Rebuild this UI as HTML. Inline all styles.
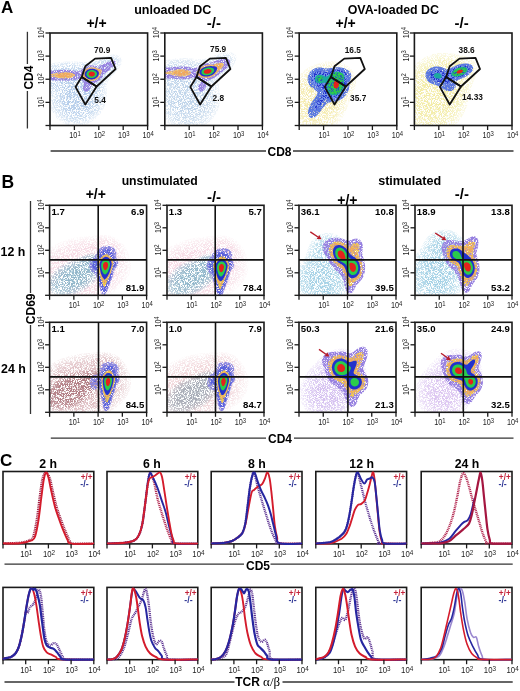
<!DOCTYPE html><html><head><meta charset="utf-8"><style>html,body{margin:0;padding:0;background:#fff;width:520px;height:691px;overflow:hidden}svg{display:block;will-change:transform}</style></head><body><svg width="520" height="691" viewBox="0 0 520 691" font-family='"Liberation Sans", sans-serif'>
<defs><filter id="spk" x="0" y="0" width="520" height="691" filterUnits="userSpaceOnUse" color-interpolation-filters="sRGB"><feTurbulence type="fractalNoise" baseFrequency="1.3" numOctaves="3" seed="3" result="t"/><feColorMatrix in="t" type="matrix" values="0 0 0 0 0  0 0 0 0 0  0 0 0 0 0  6 0 0 0 -2.4" result="m"/><feComposite in="SourceGraphic" in2="m" operator="in" result="c"/><feGaussianBlur in="c" stdDeviation="0.45"/></filter><filter id="spk1" x="0" y="0" width="520" height="691" filterUnits="userSpaceOnUse" color-interpolation-filters="sRGB"><feTurbulence type="fractalNoise" baseFrequency="1.2" numOctaves="3" seed="9" result="t"/><feColorMatrix in="t" type="matrix" values="0 0 0 0 0  0 0 0 0 0  0 0 0 0 0  5 0 0 0 -1.6" result="m"/><feComposite in="SourceGraphic" in2="m" operator="in" result="c"/><feGaussianBlur in="c" stdDeviation="0.35"/></filter><filter id="spk2" x="0" y="0" width="520" height="691" filterUnits="userSpaceOnUse" color-interpolation-filters="sRGB"><feTurbulence type="fractalNoise" baseFrequency="1.1" numOctaves="3" seed="4" result="t"/><feColorMatrix in="t" type="matrix" values="0 0 0 0 0  0 0 0 0 0  0 0 0 0 0  4 0 0 0 -0.9" result="m"/><feComposite in="SourceGraphic" in2="m" operator="in" result="c"/><feGaussianBlur in="c" stdDeviation="0.35"/></filter><filter id="spk3" x="0" y="0" width="520" height="691" filterUnits="userSpaceOnUse" color-interpolation-filters="sRGB"><feTurbulence type="fractalNoise" baseFrequency="1.2" numOctaves="3" seed="13" result="t"/><feColorMatrix in="t" type="matrix" values="0 0 0 0 0  0 0 0 0 0  0 0 0 0 0  6 0 0 0 -3.0" result="m"/><feComposite in="SourceGraphic" in2="m" operator="in" result="c"/><feGaussianBlur in="c" stdDeviation="0.3"/></filter><filter id="spk4" x="0" y="0" width="520" height="691" filterUnits="userSpaceOnUse" color-interpolation-filters="sRGB"><feTurbulence type="fractalNoise" baseFrequency="1.15" numOctaves="3" seed="21" result="t"/><feColorMatrix in="t" type="matrix" values="0 0 0 0 0  0 0 0 0 0  0 0 0 0 0  6 0 0 0 -2.3" result="m"/><feComposite in="SourceGraphic" in2="m" operator="in" result="c"/><feGaussianBlur in="c" stdDeviation="0.3"/></filter><filter id="sm" x="-5%" y="-5%" width="110%" height="110%"><feGaussianBlur stdDeviation="0.5"/></filter></defs>
<rect width="520" height="691" fill="#fff"/>
<clipPath id="cA1"><rect x="50.0" y="33.0" width="97.6" height="92.5"/></clipPath><g clip-path="url(#cA1)"><g filter="url(#spk)" fill="#8ab0dc"><path d="M81.5 125.5 79.0 125.5 76.5 125.5 74.0 125.5 71.5 125.5 69.5 125.3 67.5 124.8 65.5 124.0 64.0 123.4 62.4 122.5 60.8 121.5 59.4 120.5 58.0 119.3 56.7 118.0 55.5 116.7 54.5 115.4 53.5 113.9 52.5 112.2 51.7 110.5 51.0 108.9 50.4 107.0 50.0 105.0 50.0 102.5 49.9 100.0 49.9 97.5 49.9 95.0 49.9 92.5 49.8 90.0 49.8 87.5 49.7 85.0 49.7 82.5 49.6 80.0 49.6 77.5 49.6 75.0 49.6 72.5 49.7 70.0 49.7 67.5 49.9 65.0 51.0 63.7 53.0 63.2 55.0 62.8 57.0 62.5 59.5 62.1 61.5 61.9 64.0 61.7 66.5 61.5 68.5 61.4 71.0 61.4 73.5 61.4 75.5 61.5 78.0 61.7 80.5 61.8 83.0 61.9 85.5 61.9 88.0 61.6 90.0 61.2 92.0 60.7 94.0 60.0 95.5 59.4 97.5 58.6 99.2 58.0 101.0 57.3 103.0 56.6 104.9 56.0 106.7 55.5 108.8 55.0 111.0 54.6 113.0 54.4 115.5 54.5 117.5 54.8 119.5 55.5 120.9 56.5 121.9 58.0 122.3 60.0 122.0 62.3 121.4 64.0 120.5 65.8 119.5 67.4 118.5 68.8 117.5 70.0 116.2 71.5 115.0 72.9 114.0 74.0 112.6 75.5 111.5 76.7 110.4 78.0 109.2 79.5 108.2 81.0 107.5 82.5 106.8 84.5 106.6 87.0 106.6 89.5 106.7 92.0 106.8 94.5 106.7 97.0 106.4 99.0 106.0 101.4 105.5 103.3 105.0 105.0 104.2 107.0 103.5 108.5 102.5 110.3 101.5 111.9 100.5 113.4 99.5 114.6 98.3 116.0 97.0 117.4 95.7 118.5 94.5 119.5 93.0 120.6 91.5 121.6 89.9 122.5 88.0 123.5 86.5 124.1 84.5 124.8 82.5 125.3Z" fill-opacity="0.179"/><path d="M78.0 123.0 75.5 123.1 73.5 123.0 71.0 122.6 69.0 122.0 67.4 121.5 65.5 120.7 64.0 119.9 62.5 118.9 61.0 117.8 59.5 116.5 58.5 115.4 57.3 114.0 56.2 112.5 55.3 111.0 54.5 109.4 53.7 107.5 53.1 105.5 52.6 103.5 52.3 101.5 52.1 99.0 52.0 96.5 51.9 94.5 51.5 92.1 50.8 90.5 50.0 89.0 49.9 86.5 49.8 84.0 49.7 81.5 49.7 79.0 49.7 76.5 49.7 74.0 49.7 71.5 49.8 69.0 50.0 66.5 51.5 65.5 53.5 65.0 55.5 64.6 57.5 64.2 59.5 63.9 62.0 63.6 64.0 63.4 66.5 63.2 69.0 63.1 71.5 63.1 74.0 63.2 76.5 63.4 78.6 63.5 81.0 63.7 83.5 63.7 86.0 63.6 88.0 63.4 90.0 63.0 92.0 62.4 94.0 61.7 96.0 61.0 97.5 60.4 99.5 59.6 101.3 59.0 103.0 58.4 105.0 57.8 107.0 57.3 109.0 57.0 111.5 56.8 114.0 56.9 116.0 57.4 117.5 58.3 118.5 59.6 119.0 62.0 118.5 64.1 117.7 66.0 116.8 67.5 115.7 69.0 114.6 70.5 113.5 71.7 112.4 73.0 111.0 74.5 110.0 75.5 108.6 77.0 107.5 78.3 106.5 79.6 105.5 81.1 104.5 83.0 104.0 84.5 103.6 87.0 103.6 89.5 103.8 92.0 103.8 94.5 103.7 97.0 103.5 99.0 103.0 101.4 102.5 103.2 101.9 105.0 101.0 107.0 100.2 108.5 99.3 110.0 98.3 111.5 97.1 113.0 96.0 114.3 94.8 115.5 93.5 116.6 92.0 117.8 90.5 118.8 89.0 119.7 87.5 120.5 85.5 121.3 83.5 122.0 81.6 122.5 79.5 122.9Z" fill-opacity="0.179"/><path d="M79.0 119.5 76.5 119.7 74.0 119.6 72.0 119.3 70.0 118.7 68.0 118.0 66.5 117.3 65.0 116.4 63.5 115.3 62.0 114.0 61.0 113.0 59.8 111.5 58.7 110.0 57.9 108.5 57.0 106.5 56.5 105.0 56.0 103.0 55.6 100.5 55.5 98.5 55.4 96.0 55.3 93.5 55.0 91.5 54.2 89.5 53.2 88.0 52.0 86.8 50.5 85.5 49.9 84.0 49.8 81.5 49.8 79.0 49.8 76.5 49.8 74.0 49.8 71.5 50.0 69.0 51.2 68.0 53.0 67.4 55.0 66.8 57.0 66.3 59.0 66.0 61.5 65.6 63.5 65.4 66.0 65.2 68.5 65.1 71.0 65.1 73.5 65.2 76.0 65.3 78.4 65.5 80.5 65.6 83.0 65.7 85.5 65.7 87.5 65.5 89.9 65.0 91.7 64.5 93.5 63.9 95.5 63.2 97.4 62.5 99.0 61.9 101.0 61.2 103.0 60.6 105.0 60.1 107.0 59.7 109.5 59.6 112.0 59.9 113.5 60.7 114.6 62.0 114.8 64.5 114.1 66.5 113.3 68.0 112.3 69.5 111.1 71.0 110.0 72.3 108.9 73.5 107.5 75.0 106.5 76.1 105.2 77.5 104.0 78.9 103.0 80.2 102.0 81.7 101.1 83.5 100.5 85.5 100.3 87.5 100.3 90.0 100.4 92.5 100.5 95.0 100.3 97.5 100.0 99.7 99.5 101.8 98.9 103.5 98.1 105.5 97.3 107.0 96.4 108.5 95.4 110.0 94.1 111.5 93.0 112.7 91.6 114.0 90.3 115.0 88.9 116.0 87.1 117.0 85.5 117.8 83.6 118.5 81.9 119.0 79.5 119.5Z" fill-opacity="0.179"/><path d="M79.0 115.5 76.5 115.7 74.0 115.5 72.0 115.1 70.3 114.5 68.5 113.7 67.0 112.8 65.5 111.6 64.3 110.5 63.0 109.0 62.0 107.5 61.2 106.0 60.5 104.2 60.0 102.5 59.6 100.0 59.4 98.0 59.4 95.5 59.4 93.0 59.1 90.5 58.5 88.9 57.5 87.3 56.4 86.0 55.0 84.8 53.5 83.6 52.2 82.5 51.0 81.5 50.0 80.0 49.9 77.5 49.9 75.0 50.0 72.5 51.2 71.5 53.0 70.5 54.5 69.8 56.5 69.1 58.5 68.6 60.5 68.2 62.5 67.8 65.0 67.6 67.0 67.4 69.5 67.4 72.0 67.4 74.0 67.5 76.5 67.7 79.0 67.9 81.0 68.1 83.5 68.1 86.0 68.0 88.0 67.8 90.0 67.4 92.0 66.9 94.0 66.3 96.0 65.6 97.9 65.0 99.5 64.5 101.5 63.9 103.8 63.5 106.0 63.4 108.0 63.8 109.2 65.0 109.2 67.5 108.5 69.0 107.5 70.6 106.4 72.0 105.1 73.5 104.0 74.7 102.8 76.0 101.5 77.5 100.5 78.6 99.4 80.0 98.4 81.5 97.5 83.1 96.8 85.0 96.4 87.0 96.3 89.5 96.4 92.0 96.5 94.0 96.5 96.3 96.3 98.5 95.8 100.5 95.2 102.5 94.5 104.1 93.5 106.0 92.5 107.5 91.5 108.7 90.3 110.0 89.0 111.2 87.5 112.3 86.0 113.2 84.4 114.0 82.5 114.8 80.5 115.3Z" fill-opacity="0.179"/><path d="M78.0 110.5 75.8 110.5 73.5 110.1 71.9 109.5 70.1 108.5 68.8 107.5 67.5 106.2 66.5 104.8 65.6 103.0 65.0 101.3 64.6 99.0 64.4 97.0 64.5 94.5 64.6 92.5 64.5 90.0 64.0 88.0 63.2 86.5 62.0 85.0 61.0 84.0 59.5 82.7 58.1 81.5 57.0 80.5 55.7 79.0 55.0 77.5 55.1 75.5 56.2 74.0 57.5 73.0 59.5 72.0 61.1 71.5 63.2 71.0 65.5 70.6 67.5 70.5 70.0 70.4 72.5 70.5 74.5 70.6 77.0 70.8 79.0 71.0 81.5 71.2 84.0 71.3 86.5 71.2 89.0 71.0 91.0 70.7 93.0 70.4 95.5 70.0 97.5 69.9 99.5 70.5 99.5 72.4 98.7 74.0 97.6 75.5 96.5 77.0 95.5 78.4 94.5 79.8 93.5 81.3 92.5 83.0 91.9 84.5 91.4 86.5 91.2 89.0 91.3 91.5 91.5 94.0 91.5 95.9 91.3 98.0 90.8 100.0 90.1 102.0 89.3 103.5 88.2 105.0 87.0 106.3 85.7 107.5 84.2 108.5 82.5 109.4 80.9 110.0 78.5 110.5Z" fill-opacity="0.179"/></g><g filter="url(#sm)"><path d="M86.5 91.6 85.5 91.6 85.0 91.5 84.1 91.0 83.7 90.5 83.4 90.0 83.1 89.0 83.0 88.0 83.2 87.0 83.4 86.0 83.6 85.5 83.8 84.5 83.9 83.5 83.6 82.5 83.3 82.0 83.0 81.5 82.5 80.9 82.0 80.5 81.4 80.0 80.5 79.5 80.0 79.4 79.0 79.3 78.0 79.3 77.0 79.5 76.5 79.6 75.5 79.8 74.5 80.0 74.0 80.0 73.0 80.2 72.0 80.3 71.0 80.4 70.3 80.5 69.5 80.6 68.5 80.7 67.5 80.7 66.5 80.8 65.5 80.8 64.5 80.8 63.5 80.8 62.5 80.8 61.5 80.7 60.5 80.7 59.5 80.6 58.5 80.5 57.8 80.5 57.0 80.5 56.0 80.4 55.0 80.4 54.0 80.3 53.0 80.3 52.0 80.3 51.0 80.3 50.0 80.3 49.8 79.5 49.7 78.5 49.7 77.5 49.6 76.5 49.6 75.5 49.6 74.5 49.6 73.5 49.7 72.5 49.8 71.5 50.0 70.5 51.0 70.5 51.5 70.5 52.5 70.5 53.5 70.4 54.5 70.4 55.5 70.3 56.5 70.2 57.5 70.1 58.5 70.1 59.5 70.0 60.0 70.0 61.0 69.9 62.0 69.9 63.0 69.8 64.0 69.8 65.0 69.8 66.0 69.8 67.0 69.9 68.0 69.9 69.0 70.0 69.5 70.0 70.5 70.1 71.5 70.2 72.5 70.3 73.4 70.5 74.0 70.6 75.0 70.8 76.0 71.0 76.5 71.1 77.5 71.2 78.5 71.3 79.5 71.1 80.0 70.9 80.7 70.5 81.3 70.0 81.8 69.5 82.3 69.0 82.9 68.5 83.5 68.0 84.0 67.6 84.5 67.3 85.0 67.0 86.0 66.5 86.5 66.3 87.3 66.0 88.0 65.8 89.0 65.5 89.5 65.5 90.5 65.3 91.5 65.3 92.5 65.3 93.5 65.4 94.4 65.5 95.0 65.6 96.0 65.7 97.0 65.8 98.0 65.9 99.0 65.8 100.0 65.6 100.5 65.4 101.4 65.0 102.0 64.7 102.5 64.4 103.4 64.0 104.0 63.7 104.5 63.4 105.4 63.0 106.0 62.7 106.6 62.5 107.5 62.1 108.0 61.9 109.0 61.6 109.5 61.4 110.5 61.2 111.3 61.0 112.0 60.9 113.0 60.8 114.0 60.8 114.9 61.0 115.5 61.4 115.9 62.0 115.9 63.0 115.5 64.0 115.2 64.5 114.9 65.0 114.5 65.5 114.0 66.1 113.5 66.6 113.0 67.1 112.5 67.6 112.0 68.0 111.5 68.5 110.8 69.0 110.2 69.5 109.5 70.0 109.0 70.4 108.5 70.7 108.0 71.1 107.3 71.5 106.6 72.0 106.0 72.5 105.5 72.9 105.0 73.3 104.5 73.8 104.0 74.4 103.6 75.0 103.3 75.5 103.0 76.0 102.5 76.9 102.1 77.5 101.7 78.0 101.4 78.5 100.9 79.0 100.5 79.5 99.9 80.0 99.3 80.5 98.7 81.0 98.0 81.4 97.5 81.8 97.0 82.0 96.1 82.5 95.5 82.8 95.0 83.1 94.1 83.5 93.5 83.9 93.0 84.2 92.5 84.5 91.9 85.0 91.5 85.6 91.1 86.5 90.9 87.0 90.5 88.0 90.2 88.5 89.9 89.0 89.5 89.6 89.0 90.2 88.5 90.6 88.0 91.0 87.0 91.5 86.5 91.6Z" fill="#9680e0" filter="url(#spk1)"/></g><g filter="url(#sm)"><path d="M92.0 81.0 91.0 81.1 90.1 81.0 89.5 80.9 88.5 80.7 87.9 80.5 87.0 80.1 86.5 79.9 85.9 79.5 85.2 79.0 84.6 78.5 84.1 78.0 83.7 77.5 83.3 77.0 82.9 76.5 82.5 75.5 82.4 75.0 82.4 74.0 82.5 73.5 82.9 72.5 83.2 72.0 83.5 71.5 84.0 70.8 84.5 70.2 85.0 69.7 85.5 69.3 86.0 69.0 86.8 68.5 87.5 68.1 88.0 68.0 89.0 67.6 89.8 67.5 90.5 67.4 91.5 67.3 92.5 67.3 93.5 67.4 94.0 67.5 95.0 67.7 96.0 67.9 96.5 68.1 97.5 68.4 98.0 68.5 99.0 68.8 99.6 69.0 100.5 69.3 101.0 69.6 101.5 70.1 101.7 71.0 101.5 72.0 101.4 72.5 101.2 73.5 101.0 74.0 100.6 75.0 100.4 75.5 100.0 76.2 99.5 77.0 99.1 77.5 98.7 78.0 98.1 78.5 97.5 79.0 97.0 79.4 96.5 79.6 95.8 80.0 95.0 80.3 94.5 80.5 93.5 80.8 92.5 81.0 92.0 81.0ZM69.5 78.0 68.5 78.2 67.5 78.3 66.5 78.4 65.5 78.4 64.5 78.4 63.5 78.4 62.5 78.3 61.5 78.3 60.5 78.2 59.5 78.1 59.0 78.0 58.0 77.9 57.0 77.7 56.0 77.5 55.5 77.4 54.5 77.2 53.5 77.1 53.0 77.0 52.0 76.8 51.0 76.6 50.1 76.5 50.0 76.0 50.0 75.0 50.0 74.3 51.0 74.1 51.6 74.0 52.5 73.8 53.5 73.6 54.2 73.5 55.0 73.3 56.0 73.1 56.7 73.0 57.5 72.8 58.5 72.7 59.5 72.5 60.0 72.5 61.0 72.4 62.0 72.3 63.0 72.2 64.0 72.2 65.0 72.2 66.0 72.2 67.0 72.3 68.0 72.4 69.0 72.5 69.5 72.6 70.5 72.7 71.5 73.0 72.0 73.1 73.0 73.4 73.5 73.7 74.1 74.0 74.7 74.5 75.1 75.0 75.0 75.7 74.5 76.3 74.0 76.7 73.4 77.0 72.5 77.3 72.0 77.5 71.0 77.8 70.0 78.0 69.5 78.0Z" fill="#f0c070" filter="url(#spk2)"/></g><g filter="url(#sm)"><path d="M94.0 80.1 93.0 80.3 92.0 80.4 91.0 80.4 90.0 80.4 89.0 80.2 88.5 80.0 87.5 79.6 87.0 79.4 86.4 79.0 85.7 78.5 85.1 78.0 84.6 77.5 84.2 77.0 83.9 76.5 83.5 75.6 83.4 75.0 83.3 74.0 83.5 73.2 83.7 72.5 84.0 72.0 84.5 71.2 85.0 70.6 85.5 70.1 86.0 69.7 86.5 69.3 87.1 69.0 88.0 68.6 88.5 68.4 89.5 68.1 90.0 68.0 91.0 67.9 92.0 67.8 93.0 67.9 93.6 68.0 94.5 68.2 95.5 68.4 96.0 68.6 97.0 68.9 97.5 69.1 98.4 69.5 99.0 69.8 99.5 70.2 100.0 70.8 100.3 71.5 100.4 72.5 100.3 73.5 100.0 74.5 99.9 75.0 99.5 75.8 99.1 76.5 98.7 77.0 98.3 77.5 97.8 78.0 97.2 78.5 96.5 79.0 96.0 79.3 95.5 79.5 94.5 79.9 94.0 80.1ZM66.5 77.5 65.5 77.6 64.5 77.6 63.5 77.6 62.6 77.5 62.0 77.4 61.0 77.3 60.0 77.2 59.1 77.0 58.5 76.8 57.5 76.6 57.0 76.4 56.2 76.0 55.7 75.5 56.0 74.9 56.5 74.5 57.5 74.1 58.0 73.9 59.0 73.6 59.6 73.5 60.5 73.4 61.5 73.2 62.5 73.1 63.5 73.1 64.5 73.0 65.5 73.0 66.5 73.1 67.5 73.2 68.5 73.3 69.3 73.5 70.0 73.7 70.9 74.0 71.5 74.3 72.0 74.7 72.3 75.5 71.9 76.0 71.1 76.5 70.5 76.8 69.7 77.0 69.0 77.2 68.0 77.3 67.0 77.5 66.5 77.5Z" fill="#eea860" filter="url(#spk1)"/></g><path d="M94.0 79.1 93.0 79.3 92.0 79.4 91.0 79.4 90.0 79.3 89.0 79.1 88.5 78.9 87.6 78.5 87.0 78.1 86.5 77.7 86.0 77.3 85.5 76.7 85.1 76.0 84.9 75.5 84.7 74.5 84.7 73.5 85.0 72.6 85.3 72.0 85.6 71.5 86.1 71.0 86.6 70.5 87.3 70.0 88.0 69.6 88.5 69.4 89.5 69.0 90.0 68.9 91.0 68.8 92.0 68.7 93.0 68.8 94.0 69.0 94.5 69.1 95.5 69.4 96.0 69.6 96.7 70.0 97.5 70.5 98.0 70.9 98.4 71.5 98.7 72.0 98.9 73.0 98.9 74.0 98.6 75.0 98.4 75.5 98.0 76.2 97.5 76.8 97.0 77.3 96.5 77.8 96.0 78.1 95.4 78.5 94.5 78.9 94.0 79.1Z" fill="#2233cc" filter="url(#sm)"/><path d="M92.0 78.0 91.0 78.0 90.5 78.0 89.5 77.7 89.0 77.5 88.1 77.0 87.6 76.5 87.1 76.0 86.8 75.5 86.5 74.5 86.6 73.5 87.0 72.5 87.3 72.0 87.8 71.5 88.4 71.0 89.0 70.7 89.5 70.5 90.5 70.2 91.5 70.1 92.5 70.1 93.5 70.3 94.2 70.5 95.0 70.9 95.5 71.2 96.0 71.6 96.5 72.2 96.9 73.0 97.0 74.0 96.7 75.0 96.5 75.5 96.0 76.2 95.5 76.7 95.0 77.0 94.1 77.5 93.5 77.7 92.5 78.0 92.0 78.0Z" fill="#2ccc4c" filter="url(#sm)"/><path d="M93.5 76.0 92.5 76.4 91.5 76.5 90.5 76.3 89.8 76.0 89.1 75.5 88.8 75.0 88.5 74.0 88.9 73.0 89.3 72.5 90.0 72.0 90.5 71.8 91.5 71.6 92.5 71.7 93.5 72.0 94.0 72.3 94.5 72.8 94.9 73.5 94.8 74.5 94.5 75.2 94.0 75.7 93.5 76.0Z" fill="#e4201a" filter="url(#sm)"/></g>
<clipPath id="cA2"><rect x="164.8" y="33.0" width="97.6" height="92.5"/></clipPath><g clip-path="url(#cA2)"><g filter="url(#spk)" fill="#9cbce0"><path d="M204.3 125.5 201.8 125.6 199.3 125.6 196.8 125.7 194.3 125.7 191.8 125.7 189.3 125.7 186.8 125.7 184.3 125.7 181.8 125.7 179.3 125.7 176.8 125.6 174.3 125.6 171.8 125.5 170.3 124.9 168.8 123.8 167.3 122.6 166.0 121.5 164.8 120.3 164.7 118.0 164.6 115.5 164.6 113.0 164.5 110.5 164.5 108.0 164.5 105.5 164.5 103.0 164.5 100.5 164.5 98.0 164.5 95.5 164.5 93.0 164.5 90.5 164.5 88.0 164.5 85.5 164.4 83.0 164.4 80.5 164.4 78.0 164.4 75.5 164.4 73.0 164.4 70.5 164.4 68.0 164.5 65.5 164.6 63.0 164.8 60.6 166.8 60.0 168.8 59.6 170.8 59.2 172.8 58.9 175.3 58.6 177.3 58.4 179.8 58.2 182.3 58.1 184.8 58.1 187.3 58.2 189.8 58.4 191.8 58.6 194.3 58.9 196.3 59.1 198.8 59.3 201.3 59.3 203.6 59.0 205.8 58.5 207.5 58.0 209.3 57.4 211.3 56.7 213.0 56.0 214.8 55.3 216.8 54.6 218.8 54.0 220.5 53.5 222.6 53.0 224.8 52.6 226.8 52.4 229.3 52.4 231.3 52.6 233.3 53.3 234.8 54.3 235.8 55.5 236.4 57.5 236.3 59.5 235.7 61.5 234.8 63.4 233.8 65.0 232.8 66.5 231.8 67.7 230.7 69.0 229.4 70.5 228.3 71.7 227.0 73.0 225.8 74.2 224.6 75.5 223.3 76.9 222.3 78.0 221.1 79.5 220.1 81.0 219.3 82.9 218.9 85.0 219.0 87.5 219.3 89.6 219.7 92.0 220.0 94.0 220.2 96.5 220.2 99.0 220.0 101.5 219.7 103.5 219.3 105.5 218.7 107.5 218.1 109.5 217.3 111.3 216.5 113.0 215.6 114.5 214.7 116.0 213.6 117.5 212.4 119.0 211.3 120.2 210.0 121.5 208.8 122.5 207.3 123.7 205.8 124.8 204.3 125.5Z" fill-opacity="0.179"/><path d="M196.3 125.5 193.8 125.5 191.3 125.6 188.8 125.6 186.3 125.6 183.8 125.6 181.3 125.5 179.2 125.5 177.3 124.8 175.4 124.0 173.8 123.1 172.3 122.2 170.8 121.2 169.3 120.0 168.2 119.0 166.8 117.6 165.8 116.5 164.8 115.0 164.7 112.5 164.7 110.0 164.6 107.5 164.6 105.0 164.6 102.5 164.6 100.0 164.6 97.5 164.6 95.0 164.6 92.5 164.6 90.0 164.6 87.5 164.6 85.0 164.5 82.5 164.5 80.0 164.5 77.5 164.5 75.0 164.5 72.5 164.5 70.0 164.5 67.5 164.6 65.0 164.8 62.6 166.7 62.0 168.6 61.5 170.8 61.0 172.8 60.7 174.8 60.4 177.3 60.1 179.3 60.0 181.8 59.9 184.3 59.9 186.8 60.0 188.8 60.1 191.3 60.4 193.3 60.6 195.8 60.9 197.8 61.1 200.3 61.1 202.3 60.9 204.8 60.5 206.7 60.0 208.3 59.5 210.3 58.8 212.3 58.0 213.8 57.5 215.8 56.8 217.8 56.1 219.8 55.6 221.8 55.1 223.8 54.8 226.3 54.7 228.8 55.0 230.4 55.5 231.9 56.5 232.8 58.0 233.0 60.5 232.5 62.5 231.8 64.0 230.8 65.6 229.8 67.0 228.6 68.5 227.3 70.0 226.3 71.1 224.9 72.5 223.8 73.6 222.4 75.0 221.3 76.1 220.0 77.5 218.8 78.8 217.8 80.1 216.8 81.6 216.0 83.5 215.6 85.5 215.7 88.0 216.0 90.0 216.3 92.0 216.7 94.5 216.8 96.5 216.9 99.0 216.7 101.0 216.3 103.5 215.9 105.5 215.3 107.4 214.7 109.0 213.8 111.0 213.0 112.5 212.0 114.0 211.0 115.5 209.8 116.9 208.8 118.0 207.3 119.5 206.1 120.5 204.8 121.5 203.3 122.5 201.5 123.5 199.8 124.4 198.2 125.0 196.3 125.5Z" fill-opacity="0.179"/><path d="M190.3 123.0 187.8 123.1 185.4 123.0 183.3 122.7 181.3 122.2 179.3 121.6 177.8 121.0 175.8 120.0 174.3 119.1 172.8 118.0 171.5 117.0 170.3 115.9 169.0 114.5 167.8 113.0 166.8 111.5 165.9 110.0 165.2 108.5 164.8 106.5 164.7 104.0 164.7 101.5 164.7 99.0 164.7 96.5 164.7 94.0 164.7 91.5 164.7 89.0 164.7 86.5 164.7 84.0 164.6 81.5 164.6 79.0 164.6 76.5 164.5 74.0 164.6 71.5 164.6 69.0 164.7 66.5 165.3 64.8 167.3 64.1 169.3 63.5 171.3 63.0 173.3 62.6 175.3 62.3 177.8 62.0 179.8 61.9 182.3 61.8 184.8 61.8 187.3 62.0 189.3 62.2 191.8 62.5 193.8 62.7 196.3 63.0 198.3 63.1 200.8 63.1 202.8 62.9 204.8 62.5 206.8 62.0 208.8 61.3 210.8 60.6 212.5 60.0 214.3 59.4 216.3 58.7 218.3 58.2 220.3 57.8 222.8 57.5 225.3 57.7 227.3 58.4 228.5 59.5 229.0 61.5 228.6 63.5 227.8 65.4 226.8 66.9 225.8 68.3 224.8 69.5 223.4 71.0 222.3 72.1 220.9 73.5 219.8 74.6 218.3 76.0 217.3 77.0 215.8 78.5 214.8 79.6 213.7 81.0 212.8 82.5 212.0 84.5 211.8 86.5 211.9 88.5 212.3 90.6 212.7 93.0 213.0 95.0 213.1 97.5 213.1 100.0 212.8 102.1 212.3 104.4 211.8 106.1 211.1 108.0 210.3 109.6 209.3 111.4 208.3 112.8 207.3 114.1 206.0 115.5 204.8 116.7 203.3 117.9 201.8 119.0 200.3 119.9 198.8 120.7 196.9 121.5 195.3 122.1 193.3 122.6 190.8 123.0Z" fill-opacity="0.179"/><path d="M190.8 118.6 188.3 118.7 185.8 118.6 183.8 118.3 181.8 117.8 179.8 117.1 178.3 116.3 176.8 115.5 175.3 114.4 173.8 113.1 172.7 112.0 171.4 110.5 170.4 109.0 169.6 107.5 168.8 105.9 168.1 104.0 167.6 102.0 167.3 99.6 167.2 97.5 167.3 95.5 167.6 93.0 167.9 91.0 168.1 88.5 167.9 86.0 167.3 84.5 166.3 82.7 165.3 81.4 164.8 79.5 164.7 77.0 164.7 74.5 164.7 72.0 164.8 69.5 165.5 68.0 167.3 67.1 168.8 66.4 170.8 65.7 172.8 65.2 174.8 64.8 176.8 64.5 179.3 64.2 181.8 64.1 184.3 64.1 186.8 64.3 189.0 64.5 191.3 64.8 193.3 65.1 195.8 65.4 197.8 65.6 200.3 65.6 202.3 65.4 204.6 65.0 206.6 64.5 208.4 64.0 210.3 63.4 212.3 62.7 214.3 62.1 216.3 61.6 218.3 61.3 220.8 61.3 222.7 62.0 223.6 63.5 223.3 65.6 222.3 67.5 221.3 69.0 220.3 70.2 219.1 71.5 217.8 72.8 216.5 74.0 215.3 75.1 213.8 76.5 212.8 77.5 211.3 79.0 210.3 80.1 209.2 81.5 208.2 83.0 207.5 85.0 207.3 87.0 207.5 89.0 207.9 91.0 208.3 93.2 208.6 95.5 208.8 98.0 208.6 100.5 208.3 102.5 207.7 104.5 206.9 106.5 206.2 108.0 205.3 109.5 204.2 111.0 202.8 112.5 201.8 113.5 200.3 114.7 198.8 115.7 197.3 116.5 195.3 117.4 193.5 118.0 191.3 118.5Z" fill-opacity="0.179"/><path d="M189.8 113.0 187.3 113.1 185.3 112.9 183.3 112.4 181.3 111.6 179.8 110.7 178.3 109.6 177.1 108.5 175.8 107.0 174.9 105.5 174.1 104.0 173.4 102.0 173.0 100.0 172.8 97.5 173.0 95.0 173.4 93.0 173.9 91.0 174.3 89.0 174.5 86.5 174.1 84.5 173.3 83.0 172.2 81.5 170.9 80.0 169.8 78.8 168.8 77.4 167.9 75.5 167.7 73.5 168.4 72.0 169.7 70.5 171.3 69.5 172.8 68.8 174.8 68.1 176.8 67.6 178.8 67.3 181.3 67.1 183.8 67.1 186.3 67.3 188.4 67.5 190.8 67.9 192.8 68.2 194.8 68.5 197.3 68.9 199.8 69.0 202.3 68.9 204.8 68.6 206.8 68.3 208.8 67.9 211.3 67.7 213.4 68.0 213.8 69.6 212.8 71.4 211.8 72.7 210.6 74.0 209.3 75.2 208.0 76.5 206.8 77.7 205.5 79.0 204.3 80.2 203.3 81.5 202.3 83.0 201.5 85.0 201.3 87.0 201.5 89.0 202.0 91.0 202.5 93.0 202.9 95.0 203.1 97.5 203.0 100.0 202.6 102.0 201.9 104.0 201.1 105.5 200.2 107.0 198.9 108.5 197.8 109.5 196.3 110.6 194.8 111.5 192.8 112.3 190.8 112.9Z" fill-opacity="0.179"/></g><g filter="url(#sm)"><path d="M201.8 91.5 200.8 91.6 200.0 91.5 199.3 91.2 198.8 90.7 198.4 90.0 198.2 89.5 198.1 88.5 198.1 87.5 198.3 86.7 198.5 86.0 198.8 85.4 199.3 84.6 199.7 84.0 200.1 83.5 200.6 83.0 201.0 82.5 201.1 81.5 200.8 81.0 200.2 80.5 199.4 80.0 198.8 79.6 198.3 79.3 197.7 79.0 196.8 78.6 196.3 78.3 195.3 78.0 194.8 77.9 193.8 77.8 192.8 77.9 192.3 78.0 191.3 78.2 190.3 78.4 189.8 78.5 188.8 78.7 187.8 78.9 186.9 79.0 186.3 79.1 185.3 79.2 184.3 79.3 183.3 79.3 182.3 79.4 181.3 79.4 180.3 79.4 179.3 79.3 178.3 79.3 177.3 79.2 176.3 79.1 175.3 79.0 174.8 78.9 173.8 78.8 172.8 78.7 171.8 78.6 170.8 78.5 170.3 78.5 169.3 78.4 168.3 78.4 167.3 78.4 166.3 78.3 165.3 78.3 164.7 78.0 164.6 77.0 164.5 76.0 164.4 75.0 164.4 74.0 164.4 73.0 164.4 72.0 164.4 71.0 164.5 70.0 164.6 69.0 164.7 68.0 164.8 67.5 165.8 67.5 166.8 67.5 167.8 67.4 168.8 67.4 169.8 67.4 170.8 67.3 171.8 67.2 172.8 67.1 173.6 67.0 174.3 66.9 175.3 66.8 176.3 66.7 177.3 66.6 178.3 66.5 178.8 66.5 179.8 66.4 180.8 66.4 181.8 66.4 182.8 66.4 183.8 66.5 184.3 66.5 185.3 66.6 186.3 66.7 187.3 66.8 188.1 67.0 188.8 67.1 189.8 67.3 190.5 67.5 191.3 67.7 192.3 67.9 192.8 68.0 193.8 68.1 194.8 68.1 195.3 68.0 196.3 67.6 196.8 67.3 197.4 67.0 198.2 66.5 198.8 66.2 199.3 65.9 200.1 65.5 200.8 65.1 201.3 64.9 202.3 64.5 202.8 64.3 203.8 64.0 204.3 63.8 205.3 63.6 205.8 63.5 206.8 63.2 207.8 63.0 208.3 63.0 209.3 62.7 210.3 62.6 210.8 62.4 211.8 62.2 212.4 62.0 213.3 61.7 213.9 61.5 214.8 61.1 215.3 60.9 216.3 60.6 216.8 60.4 217.8 60.0 218.3 59.8 219.3 59.5 219.8 59.4 220.8 59.1 221.5 59.0 222.3 58.8 223.3 58.7 224.3 58.7 225.3 58.7 226.3 58.7 227.3 58.9 227.8 59.1 228.7 59.5 229.3 60.0 229.8 60.5 230.1 61.0 230.3 62.0 230.2 63.0 229.9 64.0 229.6 64.5 229.3 65.1 228.8 65.8 228.3 66.4 227.8 67.0 227.3 67.5 226.8 68.0 226.3 68.4 225.8 68.9 225.3 69.3 224.8 69.7 224.3 70.1 223.7 70.5 223.1 71.0 222.5 71.5 221.9 72.0 221.3 72.5 220.8 72.9 220.3 73.4 219.8 73.8 219.3 74.3 218.8 74.7 218.3 75.1 217.8 75.5 217.2 76.0 216.5 76.5 215.8 76.9 215.3 77.2 214.8 77.5 213.9 78.0 213.3 78.3 212.8 78.5 211.8 79.0 211.3 79.2 210.5 79.5 209.8 79.8 209.2 80.0 208.3 80.4 207.8 80.6 206.9 81.0 206.3 81.3 205.8 81.7 205.4 82.5 205.6 83.5 205.8 84.3 205.9 85.0 205.9 86.0 205.8 86.9 205.6 87.5 205.3 88.3 204.9 89.0 204.6 89.5 204.2 90.0 203.6 90.5 202.9 91.0 202.3 91.3 201.8 91.5Z" fill="#9680e0" filter="url(#spk1)"/></g><g filter="url(#sm)"><path d="M206.3 78.0 205.3 78.1 204.3 78.0 203.8 78.0 202.8 77.8 201.8 77.5 201.3 77.4 200.4 77.0 199.8 76.7 199.3 76.4 198.7 76.0 198.1 75.5 197.5 75.0 197.1 74.5 196.8 74.0 196.5 73.0 196.6 72.0 196.8 71.5 197.3 70.7 197.8 70.0 198.3 69.5 198.8 69.0 199.3 68.5 199.8 68.1 200.3 67.8 200.8 67.5 201.6 67.0 202.3 66.6 202.8 66.4 203.8 66.0 204.3 65.8 205.3 65.5 205.8 65.4 206.8 65.2 207.8 65.0 208.3 64.9 209.3 64.8 210.3 64.7 211.3 64.6 211.9 64.5 212.8 64.4 213.8 64.2 214.8 64.0 215.3 63.9 216.3 63.6 216.8 63.5 217.8 63.2 218.8 63.0 219.3 62.9 220.3 62.8 221.3 62.7 222.3 62.9 222.8 63.0 223.5 63.5 223.8 64.0 223.8 65.0 223.6 65.5 223.3 66.1 222.8 66.8 222.3 67.4 221.8 67.9 221.3 68.4 220.8 68.9 220.3 69.5 219.8 70.0 219.4 70.5 218.9 71.0 218.5 71.5 218.1 72.0 217.6 72.5 217.2 73.0 216.7 73.5 216.1 74.0 215.6 74.5 214.9 75.0 214.3 75.4 213.8 75.7 213.3 76.0 212.3 76.5 211.8 76.7 211.1 77.0 210.3 77.3 209.5 77.5 208.8 77.7 207.8 77.9 206.8 78.0 206.3 78.0ZM183.3 76.5 182.3 76.6 181.3 76.6 180.3 76.6 179.4 76.5 178.8 76.4 177.8 76.3 176.8 76.2 175.9 76.0 175.3 75.9 174.3 75.6 173.8 75.5 172.8 75.2 172.1 75.0 171.3 74.8 170.3 74.5 169.8 74.4 168.8 74.2 167.8 74.0 167.2 74.0 166.3 73.9 165.3 73.8 164.8 73.5 164.8 72.5 165.0 72.0 165.8 71.9 166.8 71.8 167.8 71.8 168.8 71.6 169.4 71.5 170.3 71.3 171.3 71.0 171.8 70.9 172.8 70.6 173.3 70.5 174.3 70.2 175.1 70.0 175.8 69.8 176.8 69.6 177.6 69.5 178.3 69.4 179.3 69.3 180.3 69.2 181.3 69.2 182.3 69.2 183.3 69.3 184.3 69.4 184.9 69.5 185.8 69.7 186.8 69.9 187.3 70.1 188.3 70.4 188.8 70.7 189.4 71.0 190.1 71.5 190.6 72.0 190.8 72.5 190.8 73.3 190.4 74.0 189.9 74.5 189.3 74.9 188.8 75.1 188.0 75.5 187.3 75.7 186.4 76.0 185.8 76.1 184.8 76.3 183.8 76.5 183.3 76.5Z" fill="#f0c070" filter="url(#spk2)"/></g><g filter="url(#sm)"><path d="M209.3 77.0 208.3 77.3 207.3 77.4 206.3 77.5 205.3 77.5 204.3 77.4 203.3 77.3 202.3 77.0 201.8 76.9 200.9 76.5 200.3 76.2 199.8 75.9 199.3 75.5 198.8 75.0 198.3 74.4 197.8 73.5 197.7 73.0 197.8 72.0 197.9 71.5 198.3 70.7 198.8 70.0 199.2 69.5 199.7 69.0 200.3 68.5 200.8 68.1 201.3 67.8 201.8 67.5 202.7 67.0 203.3 66.7 203.9 66.5 204.8 66.2 205.5 66.0 206.3 65.8 207.3 65.6 207.9 65.5 208.8 65.4 209.8 65.3 210.8 65.2 211.8 65.1 212.8 65.0 213.3 65.0 214.3 64.9 215.3 64.8 216.3 64.6 217.2 64.5 217.8 64.4 218.8 64.3 219.8 64.3 220.6 64.5 221.2 65.0 221.3 65.5 221.3 66.0 220.8 67.0 220.5 67.5 220.1 68.0 219.7 68.5 219.3 69.1 218.8 69.8 218.3 70.5 217.9 71.0 217.5 71.5 217.2 72.0 216.7 72.5 216.3 73.0 215.8 73.5 215.2 74.0 214.6 74.5 213.9 75.0 213.3 75.4 212.8 75.7 212.1 76.0 211.3 76.4 210.8 76.6 209.8 76.9 209.3 77.0ZM182.8 75.5 181.8 75.6 180.8 75.6 179.8 75.5 179.3 75.5 178.3 75.3 177.3 75.1 176.8 75.0 175.8 74.7 175.3 74.5 174.4 74.0 173.8 73.5 173.5 73.0 173.8 72.3 174.3 71.9 174.9 71.5 175.8 71.1 176.3 71.0 177.3 70.7 178.1 70.5 178.8 70.4 179.8 70.3 180.8 70.2 181.8 70.2 182.8 70.3 183.8 70.4 184.5 70.5 185.3 70.7 186.2 71.0 186.8 71.3 187.3 71.5 187.8 72.0 188.2 73.0 187.8 73.8 187.3 74.2 186.8 74.5 185.8 75.0 185.3 75.1 184.3 75.3 183.3 75.5 182.8 75.5Z" fill="#eea860" filter="url(#spk1)"/></g><path d="M207.3 76.5 206.3 76.6 205.3 76.6 204.6 76.5 203.8 76.4 202.8 76.1 202.3 75.9 201.4 75.5 200.8 75.1 200.3 74.6 199.8 74.0 199.5 73.5 199.3 72.5 199.5 71.5 199.8 70.7 200.3 70.0 200.7 69.5 201.3 69.0 201.8 68.6 202.3 68.3 202.8 68.0 203.7 67.5 204.3 67.3 205.0 67.0 205.8 66.8 206.8 66.5 207.3 66.4 208.3 66.3 209.3 66.2 210.3 66.1 211.3 66.1 212.3 66.2 213.3 66.2 214.3 66.3 215.2 66.5 215.8 66.7 216.5 67.0 216.9 67.5 217.1 68.5 216.9 69.5 216.7 70.0 216.3 70.9 216.0 71.5 215.6 72.0 215.2 72.5 214.8 73.0 214.3 73.5 213.7 74.0 213.0 74.5 212.3 74.9 211.8 75.2 211.1 75.5 210.3 75.8 209.8 76.0 208.8 76.3 207.8 76.4 207.3 76.5Z" fill="#2233cc" filter="url(#sm)"/><path d="M208.3 75.1 207.3 75.2 206.3 75.3 205.3 75.2 204.3 75.0 203.8 74.9 203.0 74.5 202.3 74.0 201.9 73.5 201.6 73.0 201.5 72.0 201.7 71.0 202.0 70.5 202.5 70.0 203.0 69.5 203.7 69.0 204.3 68.7 204.8 68.4 205.8 68.1 206.3 67.9 207.3 67.7 208.3 67.6 209.3 67.5 210.3 67.6 211.3 67.7 212.3 68.0 212.8 68.2 213.3 68.5 213.8 69.0 214.1 70.0 214.0 71.0 213.8 71.5 213.3 72.2 212.8 72.8 212.3 73.2 211.8 73.6 211.2 74.0 210.3 74.4 209.8 74.7 208.8 75.0 208.3 75.1Z" fill="#2ccc4c" filter="url(#sm)"/><path d="M208.8 73.5 207.8 73.7 206.8 73.8 205.8 73.7 205.0 73.5 204.3 73.0 203.9 72.5 203.8 72.0 203.8 71.5 204.3 70.6 204.8 70.2 205.3 69.8 206.0 69.5 206.8 69.2 207.8 69.0 208.8 69.0 209.8 69.2 210.7 69.5 211.3 70.0 211.5 70.5 211.4 71.5 211.1 72.0 210.6 72.5 209.9 73.0 209.3 73.3 208.8 73.5Z" fill="#e4201a" filter="url(#sm)"/></g>
<clipPath id="cA3"><rect x="299.2" y="33.0" width="97.6" height="92.5"/></clipPath><g clip-path="url(#cA3)"><g filter="url(#spk)" fill="#efe488"><path d="M335.7 125.5 333.2 125.6 330.7 125.7 328.2 125.7 325.7 125.8 323.2 125.8 320.7 125.8 318.2 125.8 315.7 125.8 313.2 125.8 310.7 125.8 308.2 125.8 305.7 125.8 303.2 125.7 300.7 125.7 299.1 125.0 299.0 122.5 298.9 120.0 298.9 117.5 298.9 115.0 298.9 112.5 298.8 110.0 298.8 107.5 298.8 105.0 298.8 102.5 298.8 100.0 298.8 97.5 298.8 95.0 298.8 92.5 298.9 90.0 298.9 87.5 298.9 85.0 299.0 82.5 299.0 80.0 299.1 77.5 299.2 75.0 300.2 74.0 301.7 72.6 303.0 71.5 304.3 70.5 305.7 69.5 307.2 68.5 308.8 67.5 310.6 66.5 312.2 65.7 313.7 65.0 315.7 64.2 317.5 63.5 319.2 62.9 321.2 62.4 323.2 62.0 325.7 61.5 327.7 61.3 330.2 61.2 332.7 61.2 335.2 61.5 337.2 61.8 339.2 62.2 341.2 62.8 343.0 63.5 344.7 64.3 346.2 65.1 347.7 66.0 349.2 67.2 350.7 68.5 351.7 69.6 352.8 71.0 353.8 72.5 354.7 74.4 355.3 76.0 355.8 78.0 356.1 80.5 356.0 83.0 355.7 85.2 355.2 87.3 354.7 89.0 353.9 91.0 353.2 92.7 352.4 94.5 351.7 96.1 350.9 98.0 350.2 99.7 349.5 101.5 348.8 103.5 348.2 105.1 347.5 107.0 346.8 109.0 346.2 110.5 345.3 112.5 344.6 114.0 343.7 115.6 342.7 117.3 341.7 118.8 340.7 120.2 339.7 121.5 338.4 123.0 337.2 124.2 335.8 125.5Z" fill-opacity="0.207"/><path d="M330.2 125.5 327.7 125.6 325.2 125.6 322.7 125.7 320.2 125.7 317.7 125.7 315.2 125.7 312.7 125.7 310.2 125.7 307.7 125.6 305.2 125.6 302.7 125.5 300.8 125.0 299.6 124.0 299.1 122.0 299.1 119.5 299.0 117.0 299.0 114.5 298.9 112.0 298.9 109.5 298.9 107.0 298.9 104.5 298.9 102.0 298.9 99.5 298.9 97.0 298.9 94.5 298.9 92.0 299.0 89.5 299.0 87.0 299.0 84.5 299.1 82.0 299.2 79.7 300.2 78.5 301.6 77.0 302.7 75.9 304.2 74.6 305.5 73.5 306.8 72.5 308.2 71.5 309.8 70.5 311.4 69.5 313.2 68.5 314.7 67.8 316.5 67.0 318.2 66.3 320.2 65.6 322.2 65.1 324.2 64.6 326.2 64.3 328.6 64.0 330.7 63.9 333.2 64.0 335.2 64.2 337.2 64.5 339.2 65.1 341.2 65.8 342.9 66.5 344.7 67.5 346.2 68.5 347.4 69.5 348.7 70.8 349.7 72.0 350.8 73.5 351.7 75.3 352.3 77.0 352.8 79.0 353.0 81.5 352.8 84.0 352.4 86.0 351.8 88.0 351.2 89.7 350.5 91.5 349.7 93.3 348.9 95.0 348.2 96.7 347.4 98.5 346.7 100.4 346.1 102.0 345.4 104.0 344.7 105.8 344.1 107.5 343.3 109.5 342.6 111.0 341.7 112.8 340.8 114.5 339.8 116.0 338.8 117.5 337.7 118.9 336.7 120.1 335.4 121.5 334.2 122.7 332.7 123.9 331.3 125.0Z" fill-opacity="0.207"/><path d="M321.2 125.5 318.7 125.5 316.2 125.5 313.7 125.5 311.2 125.5 309.2 125.1 307.6 124.5 305.7 123.5 304.2 122.6 302.8 121.5 301.7 120.5 300.2 119.0 299.2 117.7 299.1 115.5 299.1 113.0 299.0 110.5 299.0 108.0 299.0 105.5 299.0 103.0 299.0 100.5 299.0 98.0 299.0 95.5 299.0 93.0 299.1 90.5 299.1 88.0 299.2 85.6 300.2 84.1 301.2 82.8 302.2 81.5 303.6 80.0 304.7 78.9 306.2 77.5 307.3 76.5 308.7 75.4 310.2 74.3 311.7 73.4 313.2 72.4 314.9 71.5 316.7 70.6 318.2 69.9 320.2 69.1 322.0 68.5 323.8 68.0 326.2 67.5 328.2 67.2 330.7 67.1 333.2 67.2 335.7 67.5 337.7 68.0 339.2 68.5 341.2 69.4 342.7 70.2 344.2 71.3 345.5 72.5 346.7 73.9 347.7 75.5 348.4 77.0 349.0 79.0 349.2 81.0 349.2 83.1 348.8 85.5 348.3 87.5 347.7 89.1 346.9 91.0 346.2 92.7 345.4 94.5 344.7 96.1 343.9 98.0 343.2 99.9 342.6 101.5 341.9 103.5 341.2 105.4 340.6 107.0 339.7 109.0 339.0 110.5 338.2 112.0 337.2 113.6 336.2 115.1 335.1 116.5 333.8 118.0 332.7 119.1 331.2 120.5 329.9 121.5 328.4 122.5 326.7 123.5 325.2 124.2 323.3 125.0 321.6 125.5Z" fill-opacity="0.207"/><path d="M317.7 121.5 315.2 121.5 313.2 121.3 311.2 120.8 309.2 120.0 307.7 119.2 306.2 118.2 304.7 117.0 303.7 116.0 302.5 114.5 301.5 113.0 300.7 111.5 299.8 109.5 299.2 107.5 299.2 105.5 299.2 103.0 299.2 100.5 299.2 98.0 299.2 96.0 299.8 94.0 300.5 92.0 301.2 90.4 302.2 88.6 303.2 87.0 304.2 85.6 305.2 84.3 306.4 83.0 307.7 81.7 309.0 80.5 310.2 79.5 311.7 78.3 313.2 77.3 314.7 76.3 316.2 75.4 317.9 74.5 319.7 73.6 321.2 73.0 323.2 72.3 325.2 71.7 327.2 71.3 329.7 71.1 332.2 71.1 334.7 71.4 336.7 72.0 338.2 72.6 339.8 73.5 341.2 74.6 342.5 76.0 343.4 77.5 344.2 79.4 344.6 81.5 344.5 84.0 344.1 86.0 343.5 88.0 342.8 90.0 342.2 91.5 341.3 93.5 340.7 95.0 339.9 97.0 339.2 99.0 338.7 100.5 337.9 102.5 337.2 104.4 336.6 106.0 335.7 107.9 334.9 109.5 334.0 111.0 332.9 112.5 331.7 114.0 330.7 115.1 329.3 116.5 328.0 117.5 326.6 118.5 324.8 119.5 323.2 120.2 321.2 120.9 319.2 121.4Z" fill-opacity="0.207"/><path d="M318.2 115.5 315.7 115.5 313.7 115.2 311.7 114.5 310.2 113.7 308.7 112.5 307.6 111.5 306.5 110.0 305.6 108.5 304.7 106.5 304.2 104.5 303.9 102.5 303.9 100.0 304.2 97.9 304.7 95.8 305.3 94.0 306.2 92.2 307.2 90.5 308.2 89.0 309.2 87.8 310.3 86.5 311.7 85.2 313.1 84.0 314.4 83.0 315.8 82.0 317.4 81.0 319.1 80.0 320.7 79.2 322.3 78.5 324.2 77.8 326.2 77.3 328.2 77.0 330.7 76.9 332.7 77.3 334.3 78.0 335.7 79.0 336.9 80.5 337.6 82.5 337.8 84.5 337.5 86.5 337.0 88.5 336.4 90.5 335.7 92.5 335.2 94.0 334.6 96.0 333.9 98.0 333.3 100.0 332.7 101.7 332.0 103.5 331.2 105.2 330.2 107.0 329.3 108.5 328.2 109.9 327.2 111.0 325.7 112.3 324.2 113.4 322.7 114.2 320.7 115.0 318.7 115.4Z" fill-opacity="0.207"/></g><g filter="url(#sm)"><path d="M313.7 117.6 312.7 117.9 311.7 118.0 310.7 117.8 310.1 117.5 309.5 117.0 309.0 116.5 308.7 116.0 308.3 115.0 308.1 114.5 308.0 113.5 307.9 112.5 308.0 111.5 308.1 110.5 308.2 110.0 308.5 109.0 308.7 108.3 309.0 107.5 309.2 107.0 309.6 106.0 309.9 105.5 310.2 104.9 310.7 104.0 311.0 103.5 311.3 103.0 311.7 102.4 312.2 101.6 312.6 101.0 313.0 100.5 313.3 100.0 313.7 99.5 314.2 98.9 314.7 98.2 315.2 97.5 315.5 97.0 315.9 96.5 316.2 96.0 316.7 95.1 317.0 94.5 317.2 93.7 317.3 93.0 317.2 92.3 316.8 91.5 316.3 91.0 315.7 90.5 315.2 90.2 314.7 89.8 314.1 89.5 313.4 89.0 312.7 88.5 312.2 88.2 311.7 87.7 311.2 87.3 310.7 86.8 310.2 86.2 309.7 85.5 309.3 85.0 309.1 84.5 308.7 83.8 308.4 83.0 308.2 82.5 307.9 81.5 307.7 80.5 307.7 80.0 307.6 79.0 307.7 78.0 307.7 77.5 307.9 76.5 308.2 75.5 308.4 75.0 308.7 74.2 309.1 73.5 309.3 73.0 309.7 72.5 310.2 71.8 310.7 71.2 311.2 70.7 311.7 70.3 312.2 69.9 312.8 69.5 313.6 69.0 314.2 68.7 314.7 68.5 315.7 68.1 316.2 68.0 317.2 67.7 318.2 67.6 319.2 67.6 320.2 67.6 321.2 67.6 322.2 67.8 323.2 67.9 323.7 68.0 324.7 68.2 325.7 68.3 326.7 68.4 327.7 68.4 328.7 68.3 329.7 68.2 330.7 68.0 331.2 67.9 332.2 67.7 333.2 67.6 333.7 67.5 334.7 67.4 335.7 67.3 336.7 67.2 337.7 67.2 338.7 67.3 339.7 67.3 340.7 67.5 341.2 67.6 342.2 67.7 343.2 68.0 343.7 68.1 344.7 68.5 345.2 68.7 345.9 69.0 346.7 69.4 347.2 69.7 347.7 70.0 348.4 70.5 349.0 71.0 349.5 71.5 349.9 72.0 350.3 72.5 350.7 73.3 351.0 74.0 351.2 75.0 351.2 75.5 351.2 76.5 351.1 77.0 350.9 78.0 350.7 78.8 350.5 79.5 350.2 80.5 350.1 81.0 349.9 82.0 349.8 83.0 349.7 83.5 349.6 84.5 349.5 85.5 349.4 86.5 349.2 87.5 349.1 88.0 348.9 89.0 348.7 89.7 348.4 90.5 348.2 91.1 347.8 92.0 347.5 92.5 347.2 93.1 346.7 93.9 346.3 94.5 345.9 95.0 345.5 95.5 345.1 96.0 344.6 96.5 344.1 97.0 343.6 97.5 343.0 98.0 342.3 98.5 341.7 98.9 341.2 99.3 340.7 99.6 339.9 100.0 339.2 100.3 338.7 100.6 337.7 100.9 337.2 101.1 336.2 101.4 335.7 101.5 334.7 101.7 333.7 101.8 332.7 102.0 332.2 102.0 331.2 102.1 330.2 102.2 329.2 102.4 328.7 102.6 327.8 103.0 327.2 103.3 326.7 103.7 326.2 104.1 325.7 104.6 325.2 105.2 324.7 105.8 324.2 106.4 323.8 107.0 323.4 107.5 323.0 108.0 322.6 108.5 322.2 109.1 321.7 109.7 321.2 110.4 320.7 111.0 320.3 111.5 319.9 112.0 319.5 112.5 319.1 113.0 318.7 113.5 318.2 114.0 317.7 114.6 317.2 115.1 316.7 115.6 316.2 116.0 315.6 116.5 314.9 117.0 314.2 117.4 313.7 117.6Z" fill="#5a78e0" filter="url(#spk2)"/></g><path d="M315.2 110.1 314.2 110.1 313.7 109.6 313.6 109.0 313.6 108.0 313.7 107.5 314.0 106.5 314.2 106.0 314.7 105.1 315.0 104.5 315.3 104.0 315.7 103.4 316.2 102.8 316.7 102.1 317.2 101.5 317.7 101.0 318.1 100.5 318.6 100.0 319.1 99.5 319.6 99.0 320.1 98.5 320.6 98.0 321.0 97.5 321.4 97.0 321.8 96.5 322.2 95.7 322.5 95.0 322.7 94.5 323.0 93.5 323.2 92.7 323.3 92.0 323.4 91.0 323.3 90.0 323.2 89.5 322.7 88.6 322.2 88.1 321.7 87.8 320.9 87.5 320.2 87.3 319.2 87.0 318.7 86.9 317.7 86.6 317.2 86.4 316.2 86.0 315.7 85.7 315.2 85.4 314.6 85.0 314.0 84.5 313.5 84.0 313.1 83.5 312.7 82.9 312.2 82.0 312.0 81.5 311.7 80.5 311.7 80.0 311.6 79.0 311.7 78.0 311.7 77.5 312.0 76.5 312.2 76.0 312.7 75.1 313.1 74.5 313.5 74.0 314.0 73.5 314.6 73.0 315.2 72.6 315.7 72.3 316.4 72.0 317.2 71.7 318.2 71.5 318.7 71.4 319.7 71.4 320.7 71.4 321.3 71.5 322.2 71.6 323.2 71.8 324.1 72.0 324.7 72.1 325.7 72.2 326.7 72.1 327.7 72.0 328.2 71.9 329.2 71.6 329.7 71.4 330.7 71.1 331.2 70.9 332.2 70.6 332.7 70.5 333.7 70.2 334.7 70.0 335.2 69.9 336.2 69.8 337.2 69.8 338.2 69.8 339.2 69.9 339.9 70.0 340.7 70.1 341.7 70.4 342.2 70.6 343.2 71.0 343.7 71.2 344.2 71.5 345.0 72.0 345.6 72.5 346.0 73.0 346.4 73.5 346.7 74.0 347.1 75.0 347.2 75.6 347.3 76.5 347.2 77.2 347.1 78.0 346.9 79.0 346.7 80.0 346.6 80.5 346.5 81.5 346.4 82.5 346.4 83.5 346.3 84.5 346.2 85.5 346.1 86.0 346.0 87.0 345.8 88.0 345.6 88.5 345.3 89.5 345.1 90.0 344.7 90.8 344.3 91.5 344.0 92.0 343.6 92.5 343.2 93.1 342.7 93.6 342.2 94.2 341.7 94.6 341.2 95.1 340.6 95.5 339.9 96.0 339.2 96.4 338.7 96.7 338.1 97.0 337.2 97.4 336.7 97.5 335.7 97.8 334.9 98.0 334.2 98.1 333.2 98.2 332.2 98.3 331.2 98.3 330.2 98.3 329.2 98.3 328.2 98.3 327.2 98.4 326.4 98.5 325.7 98.7 325.0 99.0 324.2 99.5 323.7 100.0 323.2 100.5 322.9 101.0 322.5 101.5 322.2 102.0 321.7 102.9 321.3 103.5 321.0 104.0 320.7 104.5 320.2 105.2 319.7 105.9 319.2 106.5 318.8 107.0 318.4 107.5 317.9 108.0 317.4 108.5 316.9 109.0 316.3 109.5 315.7 109.9 315.2 110.1Z" fill="#2233cc" filter="url(#sm)"/><g filter="url(#sm)"><path d="M315.2 110.1 314.2 110.1 313.7 109.6 313.6 109.0 313.6 108.0 313.7 107.5 314.0 106.5 314.2 106.0 314.7 105.1 315.0 104.5 315.3 104.0 315.7 103.4 316.2 102.8 316.7 102.1 317.2 101.5 317.7 101.0 318.1 100.5 318.6 100.0 319.1 99.5 319.6 99.0 320.1 98.5 320.6 98.0 321.0 97.5 321.4 97.0 321.8 96.5 322.2 95.7 322.5 95.0 322.7 94.5 323.0 93.5 323.2 92.7 323.3 92.0 323.4 91.0 323.3 90.0 323.2 89.5 322.7 88.6 322.2 88.1 321.7 87.8 320.9 87.5 320.2 87.3 319.2 87.0 318.7 86.9 317.7 86.6 317.2 86.4 316.2 86.0 315.7 85.7 315.2 85.4 314.6 85.0 314.0 84.5 313.5 84.0 313.1 83.5 312.7 82.9 312.2 82.0 312.0 81.5 311.7 80.5 311.7 80.0 311.6 79.0 311.7 78.0 311.7 77.5 312.0 76.5 312.2 76.0 312.7 75.1 313.1 74.5 313.5 74.0 314.0 73.5 314.6 73.0 315.2 72.6 315.7 72.3 316.4 72.0 317.2 71.7 318.2 71.5 318.7 71.4 319.7 71.4 320.7 71.4 321.3 71.5 322.2 71.6 323.2 71.8 324.1 72.0 324.7 72.1 325.7 72.2 326.7 72.1 327.7 72.0 328.2 71.9 329.2 71.6 329.7 71.4 330.7 71.1 331.2 70.9 332.2 70.6 332.7 70.5 333.7 70.2 334.7 70.0 335.2 69.9 336.2 69.8 337.2 69.8 338.2 69.8 339.2 69.9 339.9 70.0 340.7 70.1 341.7 70.4 342.2 70.6 343.2 71.0 343.7 71.2 344.2 71.5 345.0 72.0 345.6 72.5 346.0 73.0 346.4 73.5 346.7 74.0 347.1 75.0 347.2 75.6 347.3 76.5 347.2 77.2 347.1 78.0 346.9 79.0 346.7 80.0 346.6 80.5 346.5 81.5 346.4 82.5 346.4 83.5 346.3 84.5 346.2 85.5 346.1 86.0 346.0 87.0 345.8 88.0 345.6 88.5 345.3 89.5 345.1 90.0 344.7 90.8 344.3 91.5 344.0 92.0 343.6 92.5 343.2 93.1 342.7 93.6 342.2 94.2 341.7 94.6 341.2 95.1 340.6 95.5 339.9 96.0 339.2 96.4 338.7 96.7 338.1 97.0 337.2 97.4 336.7 97.5 335.7 97.8 334.9 98.0 334.2 98.1 333.2 98.2 332.2 98.3 331.2 98.3 330.2 98.3 329.2 98.3 328.2 98.3 327.2 98.4 326.4 98.5 325.7 98.7 325.0 99.0 324.2 99.5 323.7 100.0 323.2 100.5 322.9 101.0 322.5 101.5 322.2 102.0 321.7 102.9 321.3 103.5 321.0 104.0 320.7 104.5 320.2 105.2 319.7 105.9 319.2 106.5 318.8 107.0 318.4 107.5 317.9 108.0 317.4 108.5 316.9 109.0 316.3 109.5 315.7 109.9 315.2 110.1Z" fill="#7896ea" filter="url(#spk)"/></g><path d="M335.7 95.1 334.7 95.3 333.7 95.3 332.7 95.3 331.7 95.2 331.0 95.0 330.2 94.7 329.7 94.4 329.1 94.0 328.6 93.5 328.2 92.9 327.8 92.0 327.7 91.4 327.5 90.5 327.4 89.5 327.3 88.5 327.2 87.5 327.1 87.0 327.0 86.0 326.7 85.0 326.6 84.5 326.2 83.6 325.7 83.0 325.2 82.7 324.2 82.7 323.2 82.9 322.7 83.0 321.7 83.3 320.7 83.4 319.7 83.4 318.7 83.3 317.7 83.0 317.2 82.7 316.7 82.4 316.2 82.0 315.7 81.4 315.2 80.5 315.1 80.0 314.9 79.0 315.1 78.0 315.2 77.5 315.7 76.6 316.2 76.0 316.7 75.6 317.2 75.3 317.8 75.0 318.7 74.7 319.7 74.7 320.7 74.7 321.7 75.0 322.2 75.1 323.1 75.5 323.7 75.8 324.2 76.0 325.2 76.4 325.7 76.5 326.6 76.5 327.2 76.3 327.7 76.0 328.4 75.5 329.0 75.0 329.7 74.5 330.2 74.1 330.7 73.8 331.2 73.5 332.1 73.0 332.7 72.7 333.2 72.5 334.2 72.2 334.8 72.0 335.7 71.8 336.7 71.7 337.7 71.7 338.7 71.8 339.7 72.0 340.2 72.1 341.2 72.4 341.7 72.7 342.3 73.0 343.0 73.5 343.5 74.0 343.8 74.5 344.2 75.3 344.4 76.0 344.5 77.0 344.4 78.0 344.3 79.0 344.2 80.0 344.2 80.5 344.1 81.5 344.1 82.5 344.1 83.5 344.0 84.5 343.9 85.5 343.8 86.5 343.7 87.0 343.4 88.0 343.2 88.6 342.8 89.5 342.5 90.0 342.2 90.5 341.7 91.2 341.2 91.8 340.7 92.3 340.2 92.8 339.7 93.2 339.2 93.5 338.4 94.0 337.7 94.4 337.2 94.6 336.2 95.0 335.7 95.1Z" fill="#1fa8a0" filter="url(#sm)"/><path d="M335.7 94.1 334.7 94.3 333.7 94.3 332.7 94.2 332.0 94.0 331.2 93.7 330.7 93.4 330.2 93.0 329.7 92.4 329.2 91.5 329.0 91.0 328.7 90.0 328.7 89.5 328.5 88.5 328.4 87.5 328.3 86.5 328.2 85.5 328.2 84.8 328.1 84.0 328.1 83.0 328.1 82.0 328.1 81.0 328.2 80.0 328.3 79.5 328.5 78.5 328.7 78.0 329.2 77.1 329.5 76.5 329.9 76.0 330.3 75.5 330.8 75.0 331.4 74.5 332.1 74.0 332.7 73.6 333.2 73.4 334.1 73.0 334.7 72.8 335.7 72.6 336.2 72.5 337.2 72.4 338.2 72.5 338.7 72.5 339.7 72.7 340.5 73.0 341.2 73.3 341.7 73.6 342.2 74.0 342.7 74.6 343.2 75.5 343.4 76.0 343.5 77.0 343.5 78.0 343.4 79.0 343.3 80.0 343.3 81.0 343.3 82.0 343.3 83.0 343.2 84.0 343.2 84.9 343.1 85.5 343.0 86.5 342.7 87.5 342.6 88.0 342.2 88.9 341.9 89.5 341.6 90.0 341.2 90.5 340.7 91.1 340.2 91.6 339.7 92.1 339.2 92.5 338.4 93.0 337.7 93.4 337.2 93.6 336.2 94.0 335.7 94.1ZM320.7 81.6 319.7 81.8 318.7 81.6 318.2 81.4 317.6 81.0 317.1 80.5 316.7 79.6 316.6 79.0 316.7 78.4 317.1 77.5 317.5 77.0 318.2 76.6 318.7 76.4 319.7 76.3 320.7 76.4 321.2 76.6 321.9 77.0 322.5 77.5 322.9 78.0 323.2 79.0 322.9 80.0 322.6 80.5 322.0 81.0 321.2 81.5 320.7 81.6Z" fill="#2ccc4c" filter="url(#sm)"/><g filter="url(#sm)"><path d="M335.7 94.1 334.7 94.3 333.7 94.3 332.7 94.2 332.0 94.0 331.2 93.7 330.7 93.4 330.2 93.0 329.7 92.4 329.2 91.5 329.0 91.0 328.7 90.0 328.7 89.5 328.5 88.5 328.4 87.5 328.3 86.5 328.2 85.5 328.2 84.8 328.1 84.0 328.1 83.0 328.1 82.0 328.1 81.0 328.2 80.0 328.3 79.5 328.5 78.5 328.7 78.0 329.2 77.1 329.5 76.5 329.9 76.0 330.3 75.5 330.8 75.0 331.4 74.5 332.1 74.0 332.7 73.6 333.2 73.4 334.1 73.0 334.7 72.8 335.7 72.6 336.2 72.5 337.2 72.4 338.2 72.5 338.7 72.5 339.7 72.7 340.5 73.0 341.2 73.3 341.7 73.6 342.2 74.0 342.7 74.6 343.2 75.5 343.4 76.0 343.5 77.0 343.5 78.0 343.4 79.0 343.3 80.0 343.3 81.0 343.3 82.0 343.3 83.0 343.2 84.0 343.2 84.9 343.1 85.5 343.0 86.5 342.7 87.5 342.6 88.0 342.2 88.9 341.9 89.5 341.6 90.0 341.2 90.5 340.7 91.1 340.2 91.6 339.7 92.1 339.2 92.5 338.4 93.0 337.7 93.4 337.2 93.6 336.2 94.0 335.7 94.1ZM320.7 81.6 319.7 81.8 318.7 81.6 318.2 81.4 317.6 81.0 317.1 80.5 316.7 79.6 316.6 79.0 316.7 78.4 317.1 77.5 317.5 77.0 318.2 76.6 318.7 76.4 319.7 76.3 320.7 76.4 321.2 76.6 321.9 77.0 322.5 77.5 322.9 78.0 323.2 79.0 322.9 80.0 322.6 80.5 322.0 81.0 321.2 81.5 320.7 81.6Z" fill="#2a48c8" filter="url(#spk3)"/></g><path d="M337.2 88.0 336.2 88.4 335.2 88.3 334.6 88.0 334.1 87.5 333.7 86.6 333.6 86.0 333.5 85.0 333.6 84.0 333.8 83.5 334.1 82.5 334.3 82.0 334.7 81.3 335.2 80.5 335.7 80.0 336.2 79.6 336.7 79.5 337.2 79.7 337.7 80.3 338.1 81.0 338.3 81.5 338.6 82.5 338.7 83.0 338.9 84.0 338.9 85.0 338.7 85.9 338.5 86.5 338.2 87.0 337.7 87.6 337.2 88.0Z" fill="#e4201a" filter="url(#sm)"/></g>
<clipPath id="cA4"><rect x="414.4" y="33.0" width="97.6" height="92.5"/></clipPath><g clip-path="url(#cA4)"><g filter="url(#spk)" fill="#efe488"><path d="M454.4 125.5 451.9 125.6 449.4 125.7 446.9 125.7 444.4 125.8 441.9 125.8 439.4 125.8 436.9 125.8 434.4 125.8 431.9 125.8 429.4 125.8 426.9 125.8 424.4 125.8 421.9 125.8 419.4 125.8 416.9 125.7 414.4 125.7 414.2 123.5 414.1 121.0 414.1 118.5 414.1 116.0 414.1 113.5 414.0 111.0 414.0 108.5 414.0 106.0 414.0 103.5 414.0 101.0 414.0 98.5 414.0 96.0 414.0 93.5 414.0 91.0 414.0 88.5 414.0 86.0 414.1 83.5 414.1 81.0 414.1 78.5 414.1 76.0 414.2 73.5 414.2 71.0 414.3 68.5 414.4 66.0 415.1 64.5 416.4 63.3 417.9 62.0 419.2 61.0 420.5 60.0 422.0 59.0 423.7 58.0 425.4 57.1 426.9 56.3 428.9 55.5 430.4 54.9 432.4 54.3 434.4 53.8 436.4 53.5 438.9 53.1 441.1 53.0 443.4 53.0 445.4 53.0 447.9 53.2 450.4 53.4 452.4 53.6 454.9 54.0 456.9 54.3 458.9 54.7 460.9 55.1 462.9 55.5 464.9 56.1 466.9 56.8 468.7 57.5 470.4 58.3 471.9 59.3 473.4 60.4 474.5 61.5 475.7 63.0 476.5 64.5 477.1 66.5 477.4 69.0 477.2 71.5 476.7 73.5 476.1 75.5 475.4 77.2 474.6 79.0 473.9 80.6 473.1 82.5 472.4 84.2 471.8 86.0 471.2 88.0 470.7 90.0 470.3 92.0 469.9 94.2 469.5 96.5 469.1 98.5 468.7 100.5 468.1 102.5 467.5 104.5 466.9 106.4 466.3 108.0 465.4 110.0 464.7 111.5 463.9 113.2 462.9 115.0 462.0 116.5 461.0 118.0 459.9 119.5 458.9 120.9 457.9 122.1 456.7 123.5 455.4 124.8Z" fill-opacity="0.235"/><path d="M448.4 125.5 445.9 125.6 443.4 125.6 440.9 125.7 438.4 125.7 435.9 125.7 433.4 125.7 430.9 125.7 428.4 125.7 425.9 125.7 423.4 125.7 420.9 125.7 418.4 125.6 415.9 125.6 414.4 125.0 414.3 122.5 414.2 120.0 414.2 117.5 414.2 115.0 414.1 112.5 414.1 110.0 414.1 107.5 414.1 105.0 414.1 102.5 414.1 100.0 414.1 97.5 414.1 95.0 414.1 92.5 414.1 90.0 414.1 87.5 414.1 85.0 414.1 82.5 414.2 80.0 414.2 77.5 414.3 75.0 414.3 72.5 414.5 70.5 415.8 69.0 416.9 67.9 418.3 66.5 419.5 65.5 420.9 64.4 422.4 63.3 423.9 62.3 425.4 61.4 427.0 60.5 428.9 59.6 430.5 59.0 432.4 58.3 434.4 57.8 436.4 57.3 438.4 57.0 440.9 56.7 443.0 56.5 445.4 56.4 447.9 56.4 450.0 56.5 452.4 56.6 454.9 56.9 456.9 57.1 459.2 57.5 461.4 58.0 463.4 58.5 464.9 59.0 466.9 59.8 468.4 60.6 469.9 61.6 471.4 63.0 472.4 64.2 473.4 66.0 473.9 67.7 474.1 70.0 473.9 72.1 473.4 74.2 472.8 76.0 472.0 78.0 471.3 79.5 470.4 81.3 469.6 83.0 468.9 84.7 468.2 86.5 467.6 88.5 467.1 90.5 466.6 92.5 466.3 94.5 465.9 96.5 465.4 98.7 464.9 100.8 464.4 102.6 463.8 104.5 463.0 106.5 462.4 108.0 461.5 110.0 460.7 111.5 459.9 113.0 458.9 114.6 457.9 116.1 456.9 117.5 455.7 119.0 454.4 120.5 453.4 121.5 451.9 123.0 450.8 124.0 449.4 125.1Z" fill-opacity="0.235"/><path d="M439.4 125.5 436.9 125.5 434.4 125.6 431.9 125.6 429.4 125.6 426.9 125.5 424.4 125.5 422.4 125.3 420.9 124.5 419.2 123.5 417.9 122.5 416.4 121.2 415.2 120.0 414.4 118.5 414.3 116.0 414.3 113.5 414.2 111.0 414.2 108.5 414.2 106.0 414.2 103.5 414.2 101.0 414.2 98.5 414.2 96.0 414.2 93.5 414.2 91.0 414.2 88.5 414.2 86.0 414.3 83.5 414.3 81.0 414.4 78.5 414.9 76.6 415.9 75.1 416.9 73.8 418.0 72.5 419.4 71.0 420.5 70.0 421.9 68.7 423.4 67.5 424.8 66.5 426.4 65.5 427.9 64.6 429.4 63.8 431.3 63.0 432.9 62.4 434.9 61.7 436.9 61.2 438.9 60.7 440.9 60.4 443.4 60.0 445.4 59.8 447.9 59.7 450.4 59.7 452.9 59.8 455.4 60.0 457.4 60.2 459.4 60.6 461.4 61.1 463.4 61.8 464.9 62.5 466.4 63.5 467.9 64.8 468.9 66.0 469.9 68.0 470.3 70.0 470.2 72.5 469.8 74.5 469.1 76.5 468.4 78.0 467.5 80.0 466.7 81.5 465.9 83.1 465.0 85.0 464.4 86.5 463.7 88.5 463.1 90.5 462.6 92.5 462.2 94.5 461.8 96.5 461.3 98.5 460.8 100.5 460.2 102.5 459.5 104.5 458.9 106.0 457.9 108.0 457.2 109.5 456.3 111.0 455.4 112.5 454.3 114.0 453.1 115.5 451.9 117.0 450.9 118.0 449.4 119.5 448.2 120.5 446.9 121.5 445.4 122.6 443.9 123.5 442.0 124.5 440.4 125.2Z" fill-opacity="0.235"/><path d="M434.4 121.0 431.9 121.2 429.4 121.0 427.4 120.6 425.4 120.0 423.9 119.3 422.4 118.5 420.9 117.4 419.4 116.0 418.4 115.0 417.3 113.5 416.3 112.0 415.4 110.3 414.6 108.5 414.4 106.5 414.4 104.0 414.3 101.5 414.3 99.0 414.3 96.5 414.4 94.0 414.4 91.5 414.4 89.0 414.8 87.0 415.4 85.4 416.2 83.5 417.0 82.0 417.9 80.4 418.9 78.8 419.9 77.4 421.0 76.0 422.3 74.5 423.4 73.4 424.9 72.0 426.2 71.0 427.5 70.0 429.1 69.0 430.8 68.0 432.4 67.2 433.9 66.5 435.9 65.7 437.9 65.1 439.9 64.5 441.9 64.1 443.9 63.7 445.9 63.4 448.4 63.2 450.9 63.2 453.4 63.3 455.6 63.5 457.9 64.0 459.6 64.5 461.4 65.3 462.9 66.3 464.2 67.5 465.1 69.0 465.7 71.0 465.7 73.5 465.2 75.5 464.4 77.5 463.7 79.0 462.9 80.6 461.9 82.5 461.1 84.0 460.4 85.5 459.5 87.5 458.9 89.1 458.3 91.0 457.8 93.0 457.3 95.0 456.8 97.0 456.3 99.0 455.6 101.0 454.9 103.0 454.3 104.5 453.4 106.3 452.4 108.0 451.5 109.5 450.4 111.0 449.4 112.2 448.3 113.5 446.9 114.8 445.6 116.0 444.2 117.0 442.7 118.0 440.9 119.0 439.4 119.7 437.4 120.4 435.4 120.9Z" fill-opacity="0.235"/><path d="M433.4 113.5 431.4 113.5 429.1 113.0 427.4 112.3 425.9 111.5 424.4 110.3 423.2 109.0 422.1 107.5 421.2 106.0 420.4 104.1 419.9 102.5 419.4 100.0 419.3 98.0 419.3 95.5 419.5 93.5 419.9 91.2 420.4 89.3 421.0 87.5 421.8 85.5 422.5 84.0 423.4 82.4 424.4 80.8 425.4 79.4 426.5 78.0 427.9 76.6 429.0 75.5 430.4 74.4 431.9 73.2 433.4 72.3 434.9 71.4 436.8 70.5 438.4 69.8 440.4 69.1 442.4 68.5 444.4 68.1 446.4 67.7 448.9 67.5 451.4 67.6 453.9 68.0 455.7 68.5 457.4 69.4 458.5 70.5 459.4 72.0 459.7 74.5 459.3 76.5 458.5 78.5 457.7 80.0 456.9 81.5 455.9 83.2 454.9 85.0 454.1 86.5 453.4 88.1 452.6 90.0 452.0 92.0 451.4 93.9 450.9 95.6 450.3 97.5 449.6 99.5 448.9 101.3 448.0 103.0 447.2 104.5 446.1 106.0 444.9 107.5 443.9 108.6 442.4 109.9 440.9 111.0 439.4 111.9 437.9 112.5 435.9 113.2 433.7 113.5Z" fill-opacity="0.235"/></g><g filter="url(#sm)"><path d="M450.4 91.1 449.4 91.2 448.4 91.1 447.5 91.0 446.9 90.9 445.9 90.6 445.4 90.4 444.6 90.0 443.9 89.6 443.4 89.4 442.8 89.0 442.1 88.5 441.4 88.0 440.9 87.7 440.4 87.3 439.9 87.0 439.1 86.5 438.4 86.2 437.9 85.9 436.9 85.5 436.4 85.3 435.4 85.0 434.9 84.8 433.9 84.5 433.4 84.3 432.6 84.0 431.9 83.7 431.4 83.5 430.4 83.0 429.9 82.7 429.4 82.4 428.9 82.0 428.3 81.5 427.8 81.0 427.3 80.5 426.9 80.0 426.4 79.3 426.0 78.5 425.8 78.0 425.5 77.0 425.4 76.4 425.3 75.5 425.4 74.6 425.5 74.0 425.8 73.0 426.0 72.5 426.4 71.8 426.9 71.0 427.3 70.5 427.8 70.0 428.3 69.5 428.9 69.0 429.4 68.7 429.9 68.4 430.6 68.0 431.4 67.6 431.9 67.4 432.9 67.1 433.4 67.0 434.4 66.7 435.4 66.6 436.4 66.5 437.4 66.5 438.4 66.6 439.4 66.7 440.4 66.9 440.9 67.0 441.9 67.3 442.5 67.5 443.4 67.9 443.9 68.1 444.9 68.5 445.4 68.7 446.4 69.0 446.9 69.1 447.9 69.1 448.4 69.0 449.4 68.7 449.9 68.5 450.9 68.0 451.4 67.7 451.9 67.5 452.8 67.0 453.4 66.7 453.9 66.4 454.8 66.0 455.4 65.7 455.9 65.5 456.9 65.1 457.4 64.9 458.4 64.6 458.9 64.4 459.9 64.1 460.6 64.0 461.4 63.8 462.4 63.6 463.4 63.5 463.9 63.5 464.9 63.4 465.9 63.4 466.9 63.5 467.4 63.5 468.4 63.7 469.4 63.9 469.9 64.1 470.7 64.5 471.4 64.9 471.9 65.3 472.4 65.9 472.8 66.5 473.0 67.0 473.1 68.0 473.0 69.0 472.9 69.5 472.5 70.5 472.3 71.0 471.9 71.5 471.4 72.2 470.9 72.8 470.4 73.3 469.9 73.8 469.4 74.2 468.9 74.6 468.4 75.0 467.7 75.5 466.9 76.0 466.4 76.3 465.9 76.6 465.2 77.0 464.4 77.4 463.9 77.6 463.0 78.0 462.4 78.3 461.8 78.5 460.9 78.9 460.4 79.0 459.4 79.4 458.9 79.7 458.1 80.0 457.4 80.4 456.9 80.8 456.4 81.4 456.1 82.0 456.0 83.0 455.9 84.0 455.9 85.0 455.9 85.5 455.7 86.5 455.4 87.4 455.1 88.0 454.8 88.5 454.4 89.0 453.9 89.5 453.2 90.0 452.4 90.5 451.9 90.7 450.9 91.0 450.4 91.1Z" fill="#5a78e0" filter="url(#spk2)"/></g><path d="M447.9 84.2 446.9 84.3 445.9 84.1 445.4 84.0 444.4 83.6 443.9 83.4 442.9 83.0 442.4 82.8 441.4 82.5 440.9 82.4 439.9 82.2 439.1 82.0 438.4 81.9 437.4 81.7 436.7 81.5 435.9 81.3 435.0 81.0 434.4 80.8 433.8 80.5 432.9 80.0 432.4 79.7 431.9 79.3 431.4 78.8 430.9 78.2 430.5 77.5 430.2 77.0 430.0 76.0 430.0 75.0 430.3 74.0 430.5 73.5 430.9 72.8 431.4 72.3 431.9 71.8 432.4 71.4 433.1 71.0 433.9 70.7 434.4 70.5 435.4 70.2 436.4 70.1 437.4 70.1 438.4 70.2 439.4 70.3 440.0 70.5 440.9 70.8 441.4 71.0 442.3 71.5 442.9 71.8 443.4 72.1 444.0 72.5 444.9 73.0 445.4 73.2 446.4 73.4 447.4 73.3 448.1 73.0 448.9 72.5 449.4 72.1 449.9 71.7 450.4 71.3 450.9 70.8 451.4 70.4 451.9 70.0 452.6 69.5 453.3 69.0 453.9 68.6 454.4 68.3 455.0 68.0 455.9 67.5 456.4 67.3 457.1 67.0 457.9 66.7 458.4 66.5 459.4 66.2 460.2 66.0 460.9 65.8 461.9 65.7 462.9 65.6 463.9 65.5 464.9 65.5 465.9 65.7 466.9 65.9 467.4 66.1 468.2 66.5 468.9 67.0 469.3 67.5 469.5 68.0 469.7 69.0 469.6 70.0 469.4 70.5 468.9 71.4 468.5 72.0 468.1 72.5 467.6 73.0 467.0 73.5 466.4 74.0 465.9 74.4 465.4 74.7 464.9 75.0 464.0 75.5 463.4 75.8 462.9 76.0 461.9 76.5 461.4 76.7 460.4 77.0 459.9 77.2 458.9 77.4 458.4 77.6 457.4 77.8 456.4 78.0 455.9 78.1 454.9 78.3 453.9 78.4 453.4 78.5 452.4 78.8 451.6 79.0 450.9 79.3 450.4 79.7 449.9 80.3 449.5 81.0 449.4 81.5 449.1 82.5 448.9 83.2 448.4 83.9 447.9 84.2Z" fill="#2233cc" filter="url(#sm)"/><g filter="url(#sm)"><path d="M447.9 84.2 446.9 84.3 445.9 84.1 445.4 84.0 444.4 83.6 443.9 83.4 442.9 83.0 442.4 82.8 441.4 82.5 440.9 82.4 439.9 82.2 439.1 82.0 438.4 81.9 437.4 81.7 436.7 81.5 435.9 81.3 435.0 81.0 434.4 80.8 433.8 80.5 432.9 80.0 432.4 79.7 431.9 79.3 431.4 78.8 430.9 78.2 430.5 77.5 430.2 77.0 430.0 76.0 430.0 75.0 430.3 74.0 430.5 73.5 430.9 72.8 431.4 72.3 431.9 71.8 432.4 71.4 433.1 71.0 433.9 70.7 434.4 70.5 435.4 70.2 436.4 70.1 437.4 70.1 438.4 70.2 439.4 70.3 440.0 70.5 440.9 70.8 441.4 71.0 442.3 71.5 442.9 71.8 443.4 72.1 444.0 72.5 444.9 73.0 445.4 73.2 446.4 73.4 447.4 73.3 448.1 73.0 448.9 72.5 449.4 72.1 449.9 71.7 450.4 71.3 450.9 70.8 451.4 70.4 451.9 70.0 452.6 69.5 453.3 69.0 453.9 68.6 454.4 68.3 455.0 68.0 455.9 67.5 456.4 67.3 457.1 67.0 457.9 66.7 458.4 66.5 459.4 66.2 460.2 66.0 460.9 65.8 461.9 65.7 462.9 65.6 463.9 65.5 464.9 65.5 465.9 65.7 466.9 65.9 467.4 66.1 468.2 66.5 468.9 67.0 469.3 67.5 469.5 68.0 469.7 69.0 469.6 70.0 469.4 70.5 468.9 71.4 468.5 72.0 468.1 72.5 467.6 73.0 467.0 73.5 466.4 74.0 465.9 74.4 465.4 74.7 464.9 75.0 464.0 75.5 463.4 75.8 462.9 76.0 461.9 76.5 461.4 76.7 460.4 77.0 459.9 77.2 458.9 77.4 458.4 77.6 457.4 77.8 456.4 78.0 455.9 78.1 454.9 78.3 453.9 78.4 453.4 78.5 452.4 78.8 451.6 79.0 450.9 79.3 450.4 79.7 449.9 80.3 449.5 81.0 449.4 81.5 449.1 82.5 448.9 83.2 448.4 83.9 447.9 84.2Z" fill="#7896ea" filter="url(#spk)"/></g><path d="M457.4 76.5 456.4 76.6 455.4 76.7 454.4 76.6 453.6 76.5 452.9 76.3 452.2 76.0 451.5 75.5 451.2 75.0 451.1 74.0 451.4 73.1 451.7 72.5 452.1 72.0 452.5 71.5 452.9 71.0 453.5 70.5 454.1 70.0 454.8 69.5 455.4 69.1 455.9 68.8 456.5 68.5 457.4 68.1 457.9 67.9 458.9 67.5 459.4 67.3 460.4 67.1 460.9 67.0 461.9 66.8 462.9 66.8 463.9 66.8 464.9 67.0 465.4 67.1 466.4 67.5 466.9 67.9 467.4 68.5 467.6 69.0 467.6 70.0 467.4 70.7 467.0 71.5 466.6 72.0 466.2 72.5 465.6 73.0 465.0 73.5 464.4 73.9 463.9 74.3 463.4 74.5 462.5 75.0 461.9 75.3 461.3 75.5 460.4 75.8 459.8 76.0 458.9 76.2 457.9 76.4 457.4 76.5ZM439.4 78.6 438.4 78.6 437.4 78.6 436.9 78.5 435.9 78.1 435.4 77.9 434.9 77.5 434.4 77.0 433.9 76.1 433.8 75.5 433.9 75.0 434.4 74.2 434.9 73.7 435.4 73.4 436.4 73.1 437.4 73.0 438.4 73.1 439.4 73.5 439.9 73.8 440.4 74.1 440.9 74.6 441.4 75.2 441.8 76.0 441.8 77.0 441.4 77.6 440.9 78.1 439.9 78.5 439.4 78.6Z" fill="#1fa8a0" filter="url(#sm)"/><path d="M459.4 75.5 458.4 75.7 457.4 75.9 456.4 75.9 455.4 75.9 454.4 75.7 453.9 75.5 453.1 75.0 452.7 74.5 452.5 73.5 452.9 72.5 453.2 72.0 453.5 71.5 454.0 71.0 454.5 70.5 455.2 70.0 455.9 69.5 456.4 69.2 456.9 68.9 457.8 68.5 458.4 68.3 459.2 68.0 459.9 67.8 460.9 67.6 461.5 67.5 462.4 67.4 463.4 67.5 463.9 67.5 464.9 67.8 465.4 68.0 466.1 68.5 466.4 69.0 466.6 70.0 466.4 70.7 466.0 71.5 465.6 72.0 465.2 72.5 464.6 73.0 464.0 73.5 463.4 73.9 462.9 74.2 462.2 74.5 461.4 74.9 460.9 75.1 459.9 75.4 459.4 75.5Z" fill="#2ccc4c" filter="url(#sm)"/><g filter="url(#sm)"><path d="M459.4 75.5 458.4 75.7 457.4 75.9 456.4 75.9 455.4 75.9 454.4 75.7 453.9 75.5 453.1 75.0 452.7 74.5 452.5 73.5 452.9 72.5 453.2 72.0 453.5 71.5 454.0 71.0 454.5 70.5 455.2 70.0 455.9 69.5 456.4 69.2 456.9 68.9 457.8 68.5 458.4 68.3 459.2 68.0 459.9 67.8 460.9 67.6 461.5 67.5 462.4 67.4 463.4 67.5 463.9 67.5 464.9 67.8 465.4 68.0 466.1 68.5 466.4 69.0 466.6 70.0 466.4 70.7 466.0 71.5 465.6 72.0 465.2 72.5 464.6 73.0 464.0 73.5 463.4 73.9 462.9 74.2 462.2 74.5 461.4 74.9 460.9 75.1 459.9 75.4 459.4 75.5Z" fill="#2a48c8" filter="url(#spk3)"/></g><path d="M458.9 73.5 457.9 73.5 457.4 73.4 456.7 73.0 456.7 72.0 457.0 71.5 457.5 71.0 458.2 70.5 458.9 70.2 459.4 70.0 460.4 69.7 461.4 69.7 462.4 69.9 462.9 70.5 462.9 71.0 462.7 71.5 462.3 72.0 461.7 72.5 460.9 73.0 460.4 73.2 459.4 73.5 458.9 73.5Z" fill="#e4201a" filter="url(#sm)"/></g>
<clipPath id="cB1"><rect x="49.6" y="205.3" width="97.0" height="90.0"/></clipPath><g clip-path="url(#cB1)"><g filter="url(#spk)" fill="#38b8c8"><path d="M68.6 295.3 66.1 295.3 63.6 295.3 61.1 295.3 58.6 295.3 56.6 294.8 55.0 294.3 53.1 293.4 51.6 292.3 50.5 291.3 49.6 289.8 49.5 287.3 49.5 284.8 49.5 282.3 49.5 279.8 49.7 277.8 50.6 276.1 51.6 274.7 52.6 273.3 54.0 271.8 55.1 270.6 56.6 269.3 57.7 268.3 59.1 267.2 60.6 266.2 62.1 265.2 63.6 264.3 65.4 263.3 67.1 262.4 68.6 261.8 70.6 260.9 72.1 260.3 74.1 259.5 75.7 258.8 77.6 258.0 79.2 257.3 81.1 256.5 82.7 255.8 84.6 255.1 86.6 254.4 88.6 254.0 90.6 253.6 93.1 253.5 95.6 253.8 97.5 254.3 99.1 255.0 100.6 256.0 101.8 257.3 102.8 258.8 103.4 260.8 103.6 262.8 103.5 264.8 103.0 266.8 102.4 268.8 101.6 270.7 100.8 272.3 100.1 273.8 99.1 275.5 98.1 277.1 97.1 278.5 96.1 279.9 94.9 281.3 93.6 282.7 92.5 283.8 91.1 285.0 89.6 286.2 88.2 287.3 86.7 288.3 85.1 289.3 83.6 290.2 82.1 290.9 80.3 291.8 78.6 292.5 76.6 293.3 75.1 293.8 73.1 294.4 71.1 294.9 68.8 295.3Z" fill-opacity="0.264"/><path d="M65.1 293.8 63.1 293.8 60.6 293.5 58.6 293.1 56.6 292.4 55.1 291.6 53.6 290.5 52.4 289.3 51.5 287.8 50.7 285.8 50.5 283.8 50.7 281.8 51.3 279.8 52.1 277.8 53.0 276.3 54.0 274.8 55.1 273.4 56.1 272.3 57.6 270.8 58.7 269.8 60.1 268.6 61.6 267.5 63.1 266.5 64.6 265.6 66.1 264.8 68.1 263.8 69.6 263.1 71.4 262.3 73.1 261.6 75.0 260.8 76.6 260.1 78.4 259.3 80.1 258.5 81.6 257.8 83.6 256.9 85.2 256.3 87.1 255.7 89.1 255.2 91.6 254.9 94.1 255.0 96.1 255.5 98.0 256.3 99.4 257.3 100.6 258.7 101.4 260.3 101.8 262.3 101.7 264.8 101.2 266.8 100.6 268.4 99.7 270.3 98.9 271.8 98.1 273.3 97.1 275.0 96.1 276.5 95.1 278.0 94.1 279.3 92.8 280.8 91.6 282.1 90.4 283.3 89.1 284.4 87.6 285.6 86.1 286.7 84.6 287.6 83.1 288.5 81.6 289.3 79.6 290.3 78.1 290.9 76.1 291.7 74.2 292.3 72.4 292.8 70.1 293.3 68.1 293.6 65.6 293.8Z" fill-opacity="0.264"/><path d="M69.6 291.3 67.1 291.6 64.6 291.6 62.1 291.3 60.1 290.8 58.6 290.3 56.9 289.3 55.6 288.1 54.6 286.8 53.8 284.8 53.6 282.8 53.8 280.8 54.4 278.8 55.2 277.3 56.1 275.7 57.2 274.3 58.5 272.8 59.6 271.7 61.1 270.4 62.5 269.3 63.9 268.3 65.5 267.3 67.1 266.4 68.6 265.6 70.3 264.8 72.1 264.0 73.8 263.3 75.6 262.5 77.1 261.8 79.1 260.8 80.6 260.0 82.1 259.3 84.1 258.4 85.6 257.7 87.6 257.1 89.6 256.7 92.1 256.5 94.3 256.8 96.1 257.4 97.6 258.4 98.8 259.8 99.6 261.7 99.8 263.8 99.4 265.8 98.7 267.8 98.0 269.3 97.1 270.9 96.1 272.5 95.1 274.1 94.1 275.6 93.1 277.0 92.1 278.3 90.9 279.8 89.6 281.2 88.5 282.3 87.1 283.5 85.6 284.7 84.1 285.7 82.6 286.6 81.1 287.5 79.5 288.3 77.6 289.1 75.8 289.8 74.1 290.4 72.1 290.9 69.9 291.3Z" fill-opacity="0.264"/><path d="M70.1 288.9 67.6 289.1 65.1 289.0 63.1 288.6 61.1 287.8 59.6 286.9 58.5 285.8 57.6 284.3 57.2 281.8 57.6 279.3 58.2 277.8 59.1 276.2 60.1 274.8 61.4 273.3 62.6 272.2 64.1 270.9 65.6 269.9 67.1 268.9 68.6 268.1 70.1 267.3 72.1 266.4 73.6 265.7 75.6 264.8 77.1 264.1 78.8 263.3 80.6 262.3 82.1 261.4 83.6 260.6 85.4 259.8 87.1 259.2 89.1 258.7 91.6 258.5 93.6 258.9 95.4 259.8 96.6 261.1 97.2 262.8 97.1 265.2 96.6 266.8 95.6 268.8 94.7 270.3 93.7 271.8 92.6 273.3 91.6 274.7 90.6 276.1 89.6 277.4 88.4 278.8 87.1 280.3 86.0 281.3 84.6 282.5 83.1 283.7 81.6 284.7 80.1 285.5 78.6 286.3 76.6 287.2 74.8 287.8 73.0 288.3 70.6 288.8Z" fill-opacity="0.264"/><path d="M72.6 285.4 70.1 285.7 67.6 285.7 65.6 285.3 63.6 284.3 62.6 283.3 61.8 281.3 62.0 278.8 62.6 277.3 63.6 275.8 64.8 274.3 66.1 273.1 67.6 272.0 69.1 271.0 70.6 270.2 72.4 269.3 74.1 268.6 75.9 267.8 77.6 267.0 79.1 266.3 80.9 265.3 82.5 264.3 84.1 263.3 85.6 262.5 87.3 261.8 89.6 261.4 92.1 261.8 93.2 262.8 93.7 264.8 93.2 266.8 92.4 268.3 91.3 269.8 90.1 271.3 89.1 272.5 88.1 273.8 87.0 275.3 85.9 276.8 84.6 278.3 83.6 279.4 82.1 280.8 80.7 281.8 79.2 282.8 77.6 283.6 76.1 284.3 74.1 285.0Z" fill-opacity="0.264"/></g><g filter="url(#spk)" fill="#e8a8b8"><path d="M108.6 295.3 106.1 295.4 103.6 295.4 101.1 295.5 98.6 295.5 96.1 295.5 93.6 295.5 91.1 295.6 88.6 295.6 86.1 295.6 83.6 295.6 81.1 295.6 78.6 295.6 76.1 295.6 73.6 295.6 71.1 295.6 68.6 295.6 66.1 295.6 63.6 295.6 61.1 295.6 58.6 295.5 56.1 295.5 53.6 295.5 51.1 295.4 49.5 294.8 49.4 292.3 49.4 289.8 49.3 287.3 49.3 284.8 49.3 282.3 49.3 279.8 49.3 277.3 49.3 274.8 49.3 272.3 49.3 269.8 49.3 267.3 49.3 264.8 49.3 262.3 49.3 259.8 49.3 257.3 49.4 254.8 49.4 252.3 49.5 249.8 50.1 247.9 51.6 246.9 53.1 246.0 54.6 245.1 56.1 244.3 58.1 243.3 59.6 242.6 61.5 241.8 63.1 241.2 65.1 240.4 67.1 239.8 68.7 239.3 70.6 238.8 72.6 238.3 74.9 237.8 77.1 237.4 79.1 237.1 81.4 236.8 83.6 236.6 86.1 236.3 88.1 236.1 90.6 235.9 92.6 235.7 95.1 235.4 97.1 235.2 99.6 235.0 102.1 234.9 104.6 235.0 107.1 235.2 109.1 235.6 111.1 236.1 113.0 236.8 114.6 237.5 116.2 238.3 117.8 239.3 119.1 240.3 120.6 241.6 121.8 242.8 123.1 244.3 124.1 245.6 125.1 247.1 126.1 248.8 126.9 250.3 127.7 251.8 128.6 253.8 129.1 255.3 129.8 257.3 130.4 259.3 130.7 261.3 131.0 263.8 131.0 266.3 130.7 268.8 130.3 270.8 129.8 272.8 129.1 274.6 128.4 276.3 127.6 277.8 126.6 279.5 125.6 281.0 124.6 282.3 123.4 283.8 122.1 285.2 121.1 286.3 119.6 287.7 118.3 288.8 117.1 289.8 115.6 290.9 114.1 292.0 112.6 293.0 111.1 293.9 109.6 294.8Z" fill-opacity="0.085"/><path d="M102.6 295.3 100.1 295.4 97.6 295.4 95.1 295.4 92.6 295.5 90.1 295.5 87.6 295.5 85.1 295.5 82.6 295.5 80.1 295.5 77.6 295.5 75.1 295.5 72.6 295.5 70.1 295.5 67.6 295.5 65.1 295.5 62.6 295.5 60.1 295.5 57.6 295.4 55.1 295.4 52.6 295.3 50.6 295.3 49.6 293.8 49.5 291.3 49.4 288.8 49.4 286.3 49.4 283.8 49.3 281.3 49.3 278.8 49.3 276.3 49.3 273.8 49.3 271.3 49.3 268.8 49.3 266.3 49.3 263.8 49.4 261.3 49.4 258.8 49.5 256.3 49.5 253.8 49.6 251.6 51.1 250.4 52.6 249.4 54.1 248.4 55.6 247.5 57.1 246.7 58.8 245.8 60.6 244.9 62.1 244.3 64.1 243.4 65.8 242.8 67.6 242.2 69.6 241.6 71.6 241.0 73.6 240.6 75.6 240.1 77.6 239.8 80.1 239.4 82.1 239.1 84.6 238.9 86.6 238.6 89.1 238.3 91.1 238.1 93.1 237.7 95.6 237.3 97.6 237.0 99.6 236.8 102.1 236.6 104.6 236.6 106.6 236.8 109.1 237.3 111.0 237.8 112.6 238.4 114.5 239.3 116.1 240.3 117.5 241.3 118.7 242.3 120.1 243.8 121.1 245.1 122.1 246.5 123.1 248.3 123.9 249.8 124.6 251.6 125.2 253.3 125.9 255.3 126.4 257.3 126.9 259.3 127.2 261.3 127.4 263.8 127.4 266.3 127.2 268.8 126.8 270.8 126.2 272.8 125.6 274.4 124.7 276.3 123.9 277.8 123.0 279.3 121.9 280.8 120.7 282.3 119.6 283.6 118.5 284.8 117.1 286.1 115.8 287.3 114.6 288.3 113.1 289.4 111.6 290.5 110.1 291.5 108.6 292.4 107.0 293.3 105.1 294.3 103.6 295.0Z" fill-opacity="0.085"/><path d="M95.1 295.3 92.6 295.3 90.1 295.4 87.6 295.4 85.1 295.4 82.6 295.4 80.1 295.4 77.6 295.4 75.1 295.4 72.6 295.4 70.1 295.4 67.6 295.4 65.1 295.4 62.6 295.4 60.1 295.3 58.1 295.3 56.1 294.5 54.6 293.8 52.8 292.8 51.2 291.8 49.8 290.8 49.5 288.8 49.5 286.3 49.4 283.8 49.4 281.3 49.4 278.8 49.4 276.3 49.4 273.8 49.4 271.3 49.4 268.8 49.4 266.3 49.4 263.8 49.5 261.3 49.5 258.8 49.6 256.3 50.4 254.8 51.6 253.8 53.1 252.6 54.6 251.5 56.1 250.5 57.6 249.6 59.1 248.8 61.0 247.8 62.6 247.0 64.3 246.3 66.1 245.6 68.1 244.9 69.8 244.3 71.6 243.8 73.6 243.3 75.7 242.8 78.1 242.4 80.1 242.0 82.1 241.8 84.6 241.5 86.6 241.2 89.1 240.8 91.1 240.4 93.1 240.0 95.1 239.5 97.1 239.1 99.1 238.7 101.6 238.4 104.1 238.3 106.6 238.5 108.6 238.9 110.6 239.4 112.6 240.3 114.1 241.1 115.6 242.1 116.9 243.3 118.1 244.5 119.1 245.8 120.1 247.4 121.0 249.3 121.6 250.9 122.2 252.8 122.6 254.8 123.1 257.3 123.3 259.3 123.6 261.8 123.7 263.8 123.6 266.3 123.4 268.3 123.0 270.3 122.5 272.3 121.7 274.3 121.0 275.8 120.1 277.4 119.1 279.0 118.1 280.4 116.9 281.8 115.6 283.2 114.5 284.3 113.1 285.6 111.6 286.8 110.3 287.8 108.9 288.8 107.4 289.8 105.7 290.8 104.1 291.7 102.6 292.4 100.7 293.3 99.1 294.0 97.1 294.7 95.4 295.3Z" fill-opacity="0.085"/><path d="M80.1 295.3 77.6 295.3 75.1 295.3 73.1 295.3 70.6 295.1 68.6 294.8 66.2 294.3 64.1 293.8 62.5 293.3 60.6 292.6 58.6 291.8 57.1 291.1 55.6 290.3 54.1 289.3 52.6 288.2 51.1 286.9 49.9 285.8 49.6 283.8 49.5 281.3 49.5 278.8 49.5 276.3 49.5 273.8 49.5 271.3 49.5 268.8 49.5 266.3 49.5 263.8 49.6 261.3 50.4 259.8 51.6 258.5 52.8 257.3 54.1 256.1 55.6 254.8 57.0 253.8 58.5 252.8 60.1 251.8 61.6 250.9 63.1 250.2 64.9 249.3 66.6 248.6 68.6 247.8 70.1 247.3 72.1 246.7 74.1 246.2 76.1 245.7 78.2 245.3 80.6 244.9 82.6 244.6 84.9 244.3 87.1 244.0 89.1 243.6 91.1 243.1 93.1 242.5 95.1 241.9 97.1 241.3 99.1 240.8 101.1 240.4 103.1 240.2 105.6 240.3 107.6 240.5 109.6 241.1 111.4 241.8 113.1 242.8 114.5 243.8 115.6 244.9 116.8 246.3 117.7 247.8 118.6 249.8 119.1 251.5 119.5 253.8 119.7 255.8 119.8 258.3 119.7 260.8 119.7 263.3 119.6 265.3 119.3 267.8 118.9 269.8 118.3 271.8 117.6 273.8 116.9 275.3 116.0 276.8 115.0 278.3 113.9 279.8 112.6 281.3 111.6 282.3 110.1 283.7 108.8 284.8 107.6 285.8 106.1 286.8 104.6 287.8 102.9 288.8 101.1 289.7 99.6 290.5 97.7 291.3 96.1 291.9 94.1 292.6 92.1 293.3 90.1 293.8 88.1 294.2 86.1 294.6 84.1 294.9 81.6 295.2Z" fill-opacity="0.085"/><path d="M82.1 291.8 79.6 292.0 77.1 292.1 74.6 292.0 72.6 291.8 70.1 291.4 68.1 291.0 66.1 290.5 64.1 289.9 62.6 289.3 60.6 288.4 59.1 287.6 57.6 286.6 56.1 285.5 54.8 284.3 53.6 283.1 52.6 281.8 51.6 280.2 50.7 278.3 50.1 276.3 49.8 274.3 49.8 271.8 50.1 269.8 50.7 267.8 51.6 265.8 52.4 264.3 53.3 262.8 54.5 261.3 55.6 260.0 56.8 258.8 58.1 257.7 59.6 256.5 61.1 255.4 62.6 254.4 64.1 253.6 65.6 252.8 67.6 251.9 69.1 251.2 71.1 250.5 73.1 249.9 75.1 249.3 77.1 248.9 79.1 248.5 81.1 248.2 83.6 247.8 85.6 247.5 87.6 247.1 89.6 246.7 91.6 246.0 93.5 245.3 95.1 244.6 97.1 243.8 98.7 243.3 100.6 242.8 103.1 242.4 105.6 242.4 107.9 242.8 109.6 243.4 111.4 244.3 112.7 245.3 114.1 246.8 115.1 248.3 115.8 249.8 116.3 251.8 116.5 254.3 116.4 256.8 116.1 258.8 115.7 261.3 115.3 263.3 115.0 265.3 114.6 267.7 114.1 269.8 113.6 271.5 112.9 273.3 112.1 274.9 111.1 276.6 110.1 278.0 109.0 279.3 107.6 280.8 106.5 281.8 105.1 283.0 103.6 284.1 102.1 285.1 100.6 286.0 99.1 286.9 97.2 287.8 95.6 288.5 93.6 289.3 92.0 289.8 90.1 290.4 88.1 290.9 85.9 291.3 83.6 291.7Z" fill-opacity="0.085"/></g><g filter="url(#sm)"><path d="M104.6 294.9 103.6 295.2 102.6 294.8 102.1 294.4 101.6 293.8 101.4 293.3 101.1 292.7 100.8 291.8 100.6 291.3 100.3 290.3 100.1 289.3 100.0 288.8 99.8 287.8 99.6 286.8 99.5 286.3 99.2 285.3 99.1 284.8 98.7 283.8 98.6 283.3 98.2 282.3 98.1 281.8 97.7 280.8 97.6 280.3 97.3 279.3 97.1 278.6 96.8 277.8 96.6 277.0 96.3 276.3 96.1 275.8 95.6 274.9 95.1 274.3 94.6 273.8 94.1 273.5 93.6 273.2 93.0 272.8 92.4 272.3 91.9 271.8 91.5 271.3 91.1 270.7 90.6 269.8 90.4 269.3 90.1 268.4 89.9 267.8 89.7 266.8 89.6 266.0 89.5 265.3 89.5 264.3 89.6 263.5 89.7 262.8 90.0 261.8 90.2 261.3 90.6 260.3 90.9 259.8 91.2 259.3 91.6 258.8 92.1 258.2 92.6 257.7 93.1 257.3 93.7 256.8 94.3 256.3 94.9 255.8 95.4 255.3 95.8 254.8 96.1 254.3 96.6 253.4 96.8 252.8 97.1 252.2 97.5 251.3 97.8 250.8 98.1 250.3 98.6 249.6 99.1 249.1 99.6 248.6 100.1 248.1 100.6 247.8 101.3 247.3 102.1 246.9 102.6 246.7 103.6 246.3 104.1 246.2 105.1 246.0 106.1 245.9 107.1 245.8 108.1 245.9 109.1 246.0 110.1 246.3 110.6 246.4 111.6 246.8 112.1 247.0 112.6 247.3 113.3 247.8 114.0 248.3 114.5 248.8 114.9 249.3 115.3 249.8 115.6 250.4 116.0 251.3 116.1 251.8 116.3 252.8 116.3 253.8 116.2 254.8 116.1 255.8 116.2 256.8 116.4 257.8 116.6 258.4 117.0 259.3 117.3 259.8 117.6 260.5 117.9 261.3 118.1 261.9 118.2 262.8 118.2 263.8 118.1 264.3 117.6 265.3 117.3 265.8 117.0 266.3 116.6 266.8 116.1 267.4 115.6 268.1 115.1 268.8 114.9 269.3 114.6 269.8 114.2 270.8 114.1 271.3 113.8 272.3 113.6 272.9 113.4 273.8 113.1 274.8 113.0 275.3 112.7 276.3 112.6 276.8 112.3 277.8 112.1 278.4 111.8 279.3 111.6 279.9 111.3 280.8 111.1 281.3 110.7 282.3 110.5 282.8 110.1 283.6 109.8 284.3 109.6 284.8 109.2 285.8 109.0 286.3 108.6 287.3 108.5 287.8 108.1 288.8 108.0 289.3 107.6 290.3 107.4 290.8 107.1 291.5 106.7 292.3 106.5 292.8 106.1 293.4 105.6 294.1 105.1 294.6 104.6 294.9Z" fill="#8a86e0" filter="url(#spk1)"/></g><g filter="url(#sm)"><path d="M104.6 292.6 103.6 292.8 102.7 292.3 102.3 291.8 102.0 291.3 101.6 290.3 101.5 289.8 101.2 288.8 101.1 288.2 100.9 287.3 100.7 286.3 100.6 285.5 100.4 284.8 100.2 283.8 100.0 283.3 99.7 282.3 99.6 281.8 99.2 280.8 99.1 280.3 98.8 279.3 98.6 278.7 98.3 277.8 98.1 276.8 97.9 276.3 97.7 275.3 97.6 274.8 97.3 273.8 97.1 273.1 96.8 272.3 96.6 271.8 96.1 270.8 95.7 270.3 95.2 269.8 94.6 269.4 94.1 269.0 93.6 268.6 93.1 268.1 92.6 267.3 92.4 266.8 92.1 266.0 92.0 265.3 91.9 264.3 92.1 263.3 92.2 262.8 92.6 262.0 93.1 261.3 93.6 260.8 94.1 260.3 94.6 260.0 95.1 259.7 95.8 259.3 96.5 258.8 97.1 258.3 97.6 257.9 98.1 257.3 98.5 256.8 98.8 256.3 99.2 255.8 99.6 255.0 100.0 254.3 100.3 253.8 100.6 253.2 101.1 252.4 101.5 251.8 102.0 251.3 102.5 250.8 103.1 250.3 103.6 250.0 104.1 249.8 105.1 249.4 105.6 249.3 106.6 249.2 107.6 249.3 108.1 249.3 109.1 249.6 109.6 249.9 110.3 250.3 110.9 250.8 111.4 251.3 111.7 251.8 112.1 252.5 112.5 253.3 112.6 253.8 112.9 254.8 113.1 255.5 113.4 256.3 113.6 257.0 113.9 257.8 114.1 258.3 114.6 259.2 114.9 259.8 115.1 260.3 115.6 261.3 115.8 261.8 116.0 262.8 115.9 263.8 115.7 264.8 115.5 265.3 115.1 266.1 114.8 266.8 114.5 267.3 114.1 268.1 113.8 268.8 113.6 269.3 113.2 270.3 113.1 270.8 112.8 271.8 112.6 272.5 112.4 273.3 112.1 274.3 112.0 274.8 111.7 275.8 111.5 276.3 111.2 277.3 111.0 277.8 110.7 278.8 110.5 279.3 110.1 280.2 109.9 280.8 109.6 281.4 109.2 282.3 109.0 282.8 108.6 283.8 108.4 284.3 108.1 285.2 107.9 285.8 107.6 286.7 107.4 287.3 107.1 288.3 106.9 288.8 106.6 289.6 106.3 290.3 106.1 290.8 105.6 291.5 105.1 292.1 104.6 292.6Z" fill="#5a62dc" filter="url(#spk1)"/></g><g filter="url(#sm)"><path d="M104.6 287.0 103.7 286.8 103.4 286.3 103.1 285.5 102.9 284.8 102.7 283.8 102.5 283.3 102.3 282.3 102.1 281.8 101.7 280.8 101.5 280.3 101.1 279.3 101.0 278.8 100.6 277.8 100.4 277.3 100.1 276.3 100.0 275.8 99.7 274.8 99.6 274.3 99.3 273.3 99.1 272.3 99.0 271.8 98.8 270.8 98.6 269.8 98.5 269.3 98.3 268.3 98.1 267.6 97.9 266.8 97.6 265.8 97.6 265.3 97.5 264.3 97.6 263.4 97.7 262.8 98.1 262.0 98.5 261.3 98.8 260.8 99.1 260.3 99.6 259.6 100.1 258.9 100.6 258.3 101.0 257.8 101.4 257.3 101.9 256.8 102.4 256.3 102.9 255.8 103.5 255.3 104.1 254.9 104.6 254.7 105.6 254.4 106.6 254.3 107.6 254.5 108.1 254.8 108.9 255.3 109.4 255.8 109.9 256.3 110.3 256.8 110.6 257.3 111.1 258.0 111.6 258.8 111.9 259.3 112.2 259.8 112.6 260.6 112.9 261.3 113.1 262.0 113.3 262.8 113.3 263.8 113.2 264.8 113.1 265.3 112.8 266.3 112.6 267.0 112.3 267.8 112.1 268.5 111.9 269.3 111.6 270.1 111.4 270.8 111.1 271.8 111.0 272.3 110.6 273.3 110.5 273.8 110.1 274.8 110.0 275.3 109.6 276.2 109.3 276.8 109.1 277.4 108.7 278.3 108.4 278.8 108.1 279.5 107.7 280.3 107.4 280.8 107.1 281.5 106.7 282.3 106.5 282.8 106.2 283.8 106.0 284.3 105.6 285.3 105.4 285.8 105.1 286.3 104.6 287.0Z" fill="#f0c850" filter="url(#spk2)"/></g><g filter="url(#sm)"><path d="M104.6 283.0 104.1 282.8 103.6 282.2 103.1 281.3 102.9 280.8 102.6 280.3 102.1 279.3 101.9 278.8 101.6 278.1 101.2 277.3 101.1 276.8 100.7 275.8 100.5 275.3 100.3 274.3 100.1 273.7 99.9 272.8 99.7 271.8 99.6 271.3 99.4 270.3 99.2 269.3 99.1 268.8 98.9 267.8 98.7 266.8 98.6 266.3 98.5 265.3 98.4 264.3 98.6 263.3 98.7 262.8 99.1 261.8 99.4 261.3 99.7 260.8 100.1 260.1 100.6 259.4 101.1 258.8 101.5 258.3 102.0 257.8 102.5 257.3 103.1 256.8 103.6 256.4 104.1 256.1 104.8 255.8 105.6 255.6 106.6 255.6 107.5 255.8 108.1 256.1 108.6 256.4 109.1 256.8 109.6 257.3 110.1 257.9 110.6 258.6 111.1 259.3 111.4 259.8 111.7 260.3 112.1 261.3 112.3 261.8 112.5 262.8 112.6 263.8 112.5 264.8 112.3 265.8 112.1 266.6 111.9 267.3 111.6 268.3 111.4 268.8 111.1 269.8 111.0 270.3 110.7 271.3 110.5 271.8 110.2 272.8 110.0 273.3 109.7 274.3 109.5 274.8 109.1 275.7 108.8 276.3 108.6 276.8 108.1 277.7 107.8 278.3 107.5 278.8 107.1 279.5 106.6 280.3 106.3 280.8 106.0 281.3 105.6 281.9 105.1 282.6 104.6 283.0Z" fill="#eea860" filter="url(#spk)"/></g><path d="M105.6 278.8 104.6 279.2 103.8 278.8 103.3 278.3 102.9 277.8 102.6 277.3 102.1 276.4 101.8 275.8 101.6 275.3 101.2 274.3 101.0 273.8 100.8 272.8 100.6 272.2 100.4 271.3 100.2 270.3 100.1 269.8 99.9 268.8 99.7 267.8 99.6 266.9 99.5 266.3 99.4 265.3 99.4 264.3 99.6 263.4 99.7 262.8 100.1 261.9 100.4 261.3 100.7 260.8 101.1 260.2 101.6 259.6 102.1 259.0 102.6 258.5 103.1 258.1 103.6 257.8 104.4 257.3 105.1 257.0 106.1 256.9 107.1 257.1 107.6 257.3 108.5 257.8 109.1 258.3 109.5 258.8 110.0 259.3 110.3 259.8 110.6 260.3 111.1 261.2 111.3 261.8 111.6 262.8 111.7 263.3 111.7 264.3 111.6 265.3 111.5 265.8 111.3 266.8 111.1 267.4 110.8 268.3 110.6 269.1 110.4 269.8 110.1 270.7 109.9 271.3 109.6 272.2 109.4 272.8 109.1 273.5 108.7 274.3 108.5 274.8 108.1 275.6 107.7 276.3 107.3 276.8 107.0 277.3 106.6 277.8 106.1 278.4 105.6 278.8Z" fill="#2233cc" filter="url(#sm)"/><path d="M105.1 274.4 104.5 274.3 103.7 273.8 103.3 273.3 103.0 272.8 102.6 272.1 102.3 271.3 102.1 270.8 101.8 269.8 101.6 268.8 101.5 268.3 101.3 267.3 101.2 266.3 101.2 265.3 101.3 264.3 101.5 263.3 101.7 262.8 102.1 262.0 102.6 261.3 103.0 260.8 103.5 260.3 104.1 259.9 104.6 259.7 105.6 259.4 106.6 259.5 107.4 259.8 108.1 260.2 108.6 260.7 109.0 261.3 109.3 261.8 109.6 262.4 109.9 263.3 110.0 264.3 109.9 265.3 109.8 266.3 109.6 267.0 109.4 267.8 109.1 268.7 108.9 269.3 108.6 270.1 108.3 270.8 108.1 271.3 107.6 272.2 107.2 272.8 106.8 273.3 106.3 273.8 105.6 274.3 105.1 274.4Z" fill="#2ccc4c" filter="url(#sm)"/><path d="M106.1 269.8 105.1 270.2 104.4 269.8 104.0 269.3 103.6 268.5 103.4 267.8 103.1 266.8 103.1 266.3 103.1 265.3 103.1 264.8 103.4 263.8 103.6 263.3 104.1 262.7 104.6 262.3 105.6 261.9 106.6 262.1 107.1 262.4 107.6 263.1 107.9 263.8 108.1 264.8 108.0 265.8 107.8 266.8 107.6 267.4 107.2 268.3 107.0 268.8 106.6 269.3 106.1 269.8Z" fill="#e4201a" filter="url(#sm)"/></g>
<clipPath id="cB2"><rect x="167.0" y="205.3" width="97.0" height="90.0"/></clipPath><g clip-path="url(#cB2)"><g filter="url(#spk)" fill="#38b8c8"><path d="M189.0 295.3 186.5 295.4 184.0 295.4 181.5 295.4 179.0 295.4 176.5 295.4 174.0 295.3 172.2 294.8 170.5 294.0 169.0 292.9 167.8 291.8 167.0 290.3 166.9 287.8 166.9 285.3 166.9 282.8 166.9 280.3 167.1 278.3 168.0 276.7 169.0 275.3 170.1 273.8 171.5 272.3 172.5 271.2 174.0 269.9 175.3 268.8 176.6 267.8 178.0 266.8 179.5 265.8 181.2 264.8 183.0 263.8 184.5 263.0 186.1 262.3 188.0 261.5 189.7 260.8 191.5 260.1 193.4 259.3 195.0 258.6 196.9 257.8 198.5 257.1 200.4 256.3 202.0 255.7 204.0 255.0 206.0 254.6 208.0 254.2 210.5 254.1 212.5 254.3 214.6 254.8 216.5 255.6 218.0 256.6 219.2 257.8 220.1 259.3 220.8 261.3 221.0 263.3 220.9 265.3 220.5 267.3 219.8 269.3 219.0 271.3 218.3 272.8 217.5 274.3 216.5 276.1 215.5 277.7 214.5 279.1 213.5 280.5 212.4 281.8 211.0 283.3 210.0 284.3 208.5 285.6 207.0 286.8 205.7 287.8 204.2 288.8 202.7 289.8 201.0 290.8 199.5 291.5 197.9 292.3 196.0 293.1 194.3 293.8 192.5 294.4 190.5 295.0Z" fill-opacity="0.264"/><path d="M184.0 294.3 181.5 294.4 179.5 294.3 177.0 293.9 175.0 293.3 173.5 292.7 171.9 291.8 170.5 290.6 169.4 289.3 168.5 287.6 168.0 285.5 168.0 283.3 168.4 281.3 169.0 279.5 169.8 277.8 170.7 276.3 171.8 274.8 173.0 273.4 174.0 272.3 175.5 270.9 176.8 269.8 178.1 268.8 179.5 267.8 181.1 266.8 182.8 265.8 184.5 264.9 186.0 264.2 187.9 263.3 189.5 262.6 191.5 261.8 193.0 261.1 194.9 260.3 196.5 259.6 198.1 258.8 200.0 257.9 201.5 257.3 203.5 256.6 205.5 256.0 207.5 255.6 210.0 255.5 212.5 255.8 214.2 256.3 216.0 257.3 217.2 258.3 218.3 259.8 219.0 261.6 219.2 263.8 219.0 265.8 218.4 267.8 217.6 269.8 216.9 271.3 216.0 273.0 215.0 274.8 214.0 276.3 213.0 277.8 212.0 279.2 211.0 280.5 209.9 281.8 208.5 283.2 207.3 284.3 206.0 285.4 204.5 286.6 203.0 287.6 201.5 288.5 200.0 289.4 198.3 290.3 196.5 291.1 194.9 291.8 193.0 292.5 191.0 293.1 189.0 293.6 187.0 294.0 184.5 294.3Z" fill-opacity="0.264"/><path d="M187.5 291.9 185.0 292.2 182.5 292.2 180.0 292.0 178.0 291.6 176.0 290.9 174.5 290.0 173.1 288.8 172.0 287.4 171.3 285.8 171.0 283.8 171.1 281.8 171.7 279.8 172.5 278.0 173.5 276.3 174.5 275.0 175.5 273.8 177.0 272.3 178.1 271.3 179.5 270.2 181.0 269.1 182.5 268.1 184.0 267.3 185.8 266.3 187.5 265.5 189.1 264.8 191.0 264.0 192.6 263.3 194.5 262.4 196.0 261.7 197.7 260.8 199.5 259.9 201.0 259.2 203.0 258.3 204.7 257.8 206.9 257.3 209.0 257.1 211.2 257.3 213.0 257.8 214.8 258.8 216.0 260.1 216.9 261.8 217.2 263.8 217.0 265.8 216.3 267.8 215.5 269.7 214.6 271.3 213.7 272.8 212.7 274.3 211.7 275.8 210.7 277.3 209.6 278.8 208.5 280.1 207.5 281.3 206.0 282.8 204.8 283.8 203.5 284.9 202.0 286.0 200.5 286.9 199.0 287.8 197.1 288.8 195.5 289.5 193.5 290.3 192.0 290.8 190.0 291.4 187.9 291.8Z" fill-opacity="0.264"/><path d="M188.5 289.3 186.0 289.6 183.5 289.6 181.0 289.3 179.3 288.8 177.5 287.9 176.2 286.8 175.2 285.3 174.6 283.3 174.7 280.8 175.4 278.8 176.2 277.3 177.2 275.8 178.4 274.3 179.5 273.2 181.0 271.9 182.5 270.8 184.0 269.8 185.5 268.9 187.0 268.1 188.8 267.3 190.5 266.5 192.2 265.8 194.0 265.0 195.5 264.2 197.3 263.3 199.0 262.3 200.5 261.5 202.0 260.7 204.0 259.9 206.0 259.4 208.0 259.1 210.4 259.3 212.0 259.9 213.5 261.0 214.5 262.8 214.7 264.8 214.2 266.8 213.5 268.5 212.5 270.3 211.5 271.8 210.5 273.2 209.5 274.6 208.5 276.0 207.5 277.3 206.3 278.8 205.0 280.3 204.0 281.4 202.5 282.7 201.1 283.8 199.7 284.8 198.1 285.8 196.5 286.6 195.0 287.3 193.0 288.1 191.0 288.7 189.0 289.2Z" fill-opacity="0.264"/><path d="M188.0 286.3 185.5 286.4 183.5 286.0 181.6 285.3 180.4 284.3 179.4 282.8 179.2 280.3 179.8 278.3 180.7 276.8 181.9 275.3 183.0 274.2 184.5 272.9 186.0 271.9 187.5 271.0 189.0 270.3 191.0 269.4 192.5 268.7 194.5 267.9 196.0 267.2 197.6 266.3 199.2 265.3 200.8 264.3 202.5 263.3 204.0 262.7 206.0 262.1 208.5 262.1 210.1 262.8 211.0 264.3 211.0 266.3 210.1 268.3 209.2 269.8 208.0 271.3 207.0 272.5 206.0 273.8 204.9 275.3 203.8 276.8 202.6 278.3 201.5 279.5 200.1 280.8 198.9 281.8 197.5 282.8 195.9 283.8 194.0 284.7 192.5 285.3 190.5 285.9 188.1 286.3Z" fill-opacity="0.264"/></g><g filter="url(#spk)" fill="#e8a8b8"><path d="M227.0 295.3 224.5 295.4 222.0 295.4 219.5 295.5 217.0 295.5 214.5 295.5 212.0 295.5 209.5 295.6 207.0 295.6 204.5 295.6 202.0 295.6 199.5 295.6 197.0 295.6 194.5 295.6 192.0 295.6 189.5 295.6 187.0 295.6 184.5 295.6 182.0 295.6 179.5 295.6 177.0 295.6 174.5 295.5 172.0 295.5 169.5 295.5 167.0 295.4 166.8 293.3 166.8 290.8 166.7 288.3 166.7 285.8 166.7 283.3 166.7 280.8 166.7 278.3 166.7 275.8 166.7 273.3 166.7 270.8 166.7 268.3 166.7 265.8 166.7 263.3 166.7 260.8 166.7 258.3 166.8 255.8 166.8 253.3 166.9 250.8 167.0 248.8 168.5 247.8 170.1 246.8 171.8 245.8 173.5 244.9 175.0 244.1 176.8 243.3 178.5 242.6 180.4 241.8 182.0 241.2 184.0 240.5 186.0 239.9 188.0 239.4 190.0 238.9 192.0 238.5 194.0 238.1 196.0 237.8 198.5 237.4 200.5 237.2 203.0 237.0 205.0 236.8 207.5 236.5 209.9 236.3 212.0 236.1 214.5 235.8 216.5 235.6 219.0 235.5 221.5 235.6 224.0 235.8 226.0 236.1 228.0 236.6 230.0 237.2 231.5 237.8 233.4 238.8 235.0 239.8 236.4 240.8 237.6 241.8 239.0 243.2 240.0 244.3 241.2 245.8 242.3 247.3 243.2 248.8 244.0 250.3 245.0 252.3 245.7 253.8 246.5 255.8 247.0 257.3 247.6 259.3 248.0 261.3 248.4 263.8 248.4 266.3 248.2 268.8 247.9 270.8 247.4 272.8 246.7 274.8 246.0 276.4 245.0 278.3 244.2 279.8 243.2 281.3 242.1 282.8 241.0 284.1 240.0 285.3 238.6 286.8 237.5 287.8 236.0 289.2 234.6 290.3 233.3 291.3 231.9 292.3 230.5 293.3 228.9 294.3 227.2 295.3Z" fill-opacity="0.085"/><path d="M221.5 295.3 219.0 295.4 216.5 295.4 214.0 295.4 211.5 295.5 209.0 295.5 206.5 295.5 204.0 295.5 201.5 295.5 199.0 295.5 196.5 295.5 194.0 295.5 191.5 295.5 189.0 295.5 186.5 295.5 184.0 295.5 181.5 295.5 179.0 295.5 176.5 295.5 174.0 295.4 171.5 295.4 169.0 295.3 167.0 295.3 166.9 292.8 166.8 290.3 166.8 287.8 166.8 285.3 166.7 282.8 166.7 280.3 166.7 277.8 166.7 275.3 166.7 272.8 166.7 270.3 166.7 267.8 166.7 265.3 166.8 262.8 166.8 260.3 166.8 257.8 166.9 255.3 167.0 252.8 168.0 251.4 169.5 250.3 171.0 249.3 172.5 248.4 174.0 247.5 175.5 246.7 177.4 245.8 179.0 245.1 180.9 244.3 182.5 243.7 184.5 243.0 186.5 242.3 188.4 241.8 190.4 241.3 192.5 240.8 194.5 240.5 196.5 240.1 199.0 239.8 201.0 239.6 203.4 239.3 205.5 239.1 207.5 238.8 210.0 238.4 212.0 238.1 214.0 237.8 216.5 237.4 218.5 237.3 221.0 237.2 223.0 237.3 225.5 237.6 227.5 238.1 229.5 238.8 231.0 239.4 232.6 240.3 234.1 241.3 235.5 242.4 237.0 243.8 238.0 245.0 239.0 246.4 240.0 247.9 241.0 249.8 241.6 251.3 242.4 253.3 243.0 255.1 243.5 256.8 244.0 258.8 244.5 261.3 244.8 263.3 244.9 265.8 244.7 268.3 244.4 270.3 243.9 272.3 243.3 274.3 242.5 276.1 241.6 277.8 240.8 279.3 239.8 280.8 238.6 282.3 237.5 283.7 236.5 284.8 235.0 286.3 233.9 287.3 232.5 288.5 231.0 289.6 229.5 290.7 228.0 291.7 226.5 292.7 225.0 293.5 223.5 294.4 221.6 295.3Z" fill-opacity="0.085"/><path d="M214.5 295.3 212.0 295.3 209.5 295.4 207.0 295.4 204.5 295.4 202.0 295.4 199.5 295.4 197.0 295.5 194.5 295.5 192.0 295.5 189.5 295.4 187.0 295.4 184.5 295.4 182.0 295.4 179.5 295.4 177.0 295.3 174.5 295.3 172.9 294.8 171.0 293.8 169.5 293.0 168.0 292.0 167.0 290.8 166.9 288.3 166.9 285.8 166.8 283.3 166.8 280.8 166.8 278.3 166.8 275.8 166.8 273.3 166.8 270.8 166.8 268.3 166.8 265.8 166.8 263.3 166.9 260.8 166.9 258.3 167.0 256.2 168.5 254.8 169.8 253.8 171.1 252.8 172.5 251.8 174.0 250.8 175.7 249.8 177.5 248.8 179.0 248.1 180.7 247.3 182.5 246.6 184.5 245.8 186.0 245.3 188.0 244.7 190.0 244.1 192.0 243.6 194.0 243.2 196.5 242.8 198.5 242.5 200.5 242.2 203.0 241.9 205.0 241.7 207.1 241.3 209.5 240.8 211.5 240.4 213.5 239.9 215.5 239.5 217.5 239.2 220.0 239.0 222.5 239.0 225.0 239.3 227.0 239.7 228.7 240.3 230.5 241.1 232.0 242.0 233.5 243.1 234.7 244.3 236.0 245.7 237.0 247.2 237.9 248.8 238.6 250.3 239.3 252.3 239.8 254.3 240.2 256.3 240.5 258.3 240.8 260.8 241.0 263.0 241.1 265.3 241.0 267.3 240.7 269.8 240.2 271.8 239.5 273.8 238.9 275.3 238.0 277.2 237.0 278.8 236.0 280.3 235.0 281.6 234.0 282.8 232.5 284.3 231.5 285.3 230.0 286.6 228.5 287.8 227.2 288.8 225.7 289.8 224.1 290.8 222.5 291.7 221.0 292.5 219.4 293.3 217.5 294.2 215.9 294.8Z" fill-opacity="0.085"/><path d="M203.0 295.3 200.5 295.3 198.0 295.3 195.5 295.3 193.0 295.3 190.5 295.3 188.0 295.3 185.6 295.3 183.5 294.9 181.5 294.4 179.6 293.8 178.0 293.2 176.0 292.4 174.5 291.7 172.9 290.8 171.3 289.8 170.0 288.8 168.5 287.5 167.2 286.3 167.0 284.3 166.9 281.8 166.9 279.3 166.9 276.8 166.9 274.3 166.9 271.8 166.9 269.3 166.9 266.8 166.9 264.3 167.0 261.8 167.9 260.3 169.0 259.1 170.3 257.8 171.5 256.7 173.0 255.4 174.5 254.3 176.0 253.3 177.5 252.4 179.0 251.5 180.5 250.8 182.5 249.8 184.0 249.2 186.0 248.4 187.8 247.8 189.5 247.3 191.5 246.8 193.5 246.3 196.0 245.8 198.0 245.5 200.0 245.2 202.5 244.9 204.5 244.6 206.5 244.2 208.5 243.7 210.5 243.1 212.5 242.5 214.5 241.9 216.5 241.4 218.5 241.0 221.0 240.8 223.5 240.9 225.7 241.3 227.5 241.8 229.5 242.8 231.0 243.7 232.3 244.8 233.5 246.0 234.5 247.4 235.5 249.2 236.1 250.8 236.7 252.8 237.0 255.2 237.1 257.3 237.2 259.8 237.1 262.3 237.0 264.8 236.9 266.8 236.5 269.3 236.1 271.3 235.5 273.1 234.8 274.8 234.0 276.4 233.0 278.1 232.0 279.5 231.0 280.8 229.6 282.3 228.5 283.4 227.0 284.8 225.7 285.8 224.4 286.8 222.9 287.8 221.3 288.8 219.6 289.8 218.0 290.6 216.5 291.3 214.5 292.1 212.8 292.8 211.0 293.4 209.0 294.0 207.0 294.5 205.0 294.9 203.0 295.3Z" fill-opacity="0.085"/><path d="M200.5 292.3 198.0 292.6 195.5 292.7 193.0 292.6 190.5 292.5 188.5 292.2 186.2 291.8 184.1 291.3 182.4 290.8 180.5 290.1 178.6 289.3 177.0 288.5 175.5 287.6 174.0 286.5 172.6 285.3 171.5 284.2 170.3 282.8 169.3 281.3 168.5 279.8 167.8 277.8 167.3 275.8 167.2 273.3 167.5 270.8 168.0 268.8 168.5 267.3 169.5 265.4 170.5 263.8 171.5 262.4 172.5 261.2 173.8 259.8 175.0 258.7 176.5 257.4 178.0 256.3 179.5 255.3 181.0 254.4 182.5 253.6 184.2 252.8 186.0 252.0 187.9 251.3 189.5 250.8 191.5 250.2 193.5 249.7 195.5 249.3 198.0 248.8 200.0 248.5 202.0 248.3 204.5 247.8 206.5 247.4 208.5 246.8 210.0 246.3 212.0 245.5 213.6 244.8 215.5 244.1 217.5 243.5 219.5 243.1 222.0 242.9 224.5 243.2 226.5 243.8 228.0 244.4 229.5 245.4 231.0 246.8 232.0 248.1 232.9 249.8 233.5 251.5 233.9 253.8 233.9 256.3 233.6 258.8 233.2 260.8 232.9 262.8 232.5 265.3 232.2 267.3 231.8 269.3 231.3 271.3 230.6 273.3 229.9 274.8 229.0 276.4 228.0 277.9 226.9 279.3 225.6 280.8 224.5 281.9 223.0 283.2 221.6 284.3 220.2 285.3 218.6 286.3 217.0 287.2 215.5 288.0 213.7 288.8 212.0 289.5 210.0 290.2 208.1 290.8 206.2 291.3 204.0 291.8 202.0 292.1Z" fill-opacity="0.085"/></g><g filter="url(#sm)"><path d="M222.0 295.3 221.0 295.5 220.0 295.5 219.0 295.5 218.0 295.4 217.2 295.3 217.0 294.8 216.6 293.8 216.5 293.3 216.2 292.3 216.0 291.3 215.9 290.8 215.7 289.8 215.5 288.9 215.4 288.3 215.1 287.3 214.9 286.8 214.6 285.8 214.4 285.3 214.1 284.3 214.0 283.8 213.6 282.8 213.5 282.3 213.2 281.3 213.0 280.5 212.8 279.8 212.5 278.8 212.4 278.3 212.0 277.3 211.8 276.8 211.5 276.1 211.1 275.3 210.7 274.8 210.3 274.3 209.9 273.8 209.5 273.3 209.0 272.7 208.5 272.0 208.1 271.3 207.8 270.8 207.5 270.2 207.1 269.3 206.9 268.8 206.7 267.8 206.5 266.8 206.5 266.3 206.5 265.3 206.5 264.8 206.7 263.8 207.0 262.8 207.1 262.3 207.5 261.5 207.8 260.8 208.1 260.3 208.5 259.6 209.0 258.8 209.4 258.3 209.7 257.8 210.1 257.3 210.5 256.8 211.0 256.1 211.5 255.4 211.9 254.8 212.3 254.3 212.6 253.8 213.0 253.3 213.5 252.6 214.0 252.0 214.5 251.5 215.0 251.0 215.5 250.5 216.0 250.1 216.5 249.8 217.4 249.3 218.0 249.0 218.5 248.8 219.5 248.4 220.0 248.3 221.0 248.1 222.0 248.0 223.0 247.9 224.0 248.0 225.0 248.1 225.7 248.3 226.5 248.5 227.2 248.8 228.0 249.2 228.5 249.4 229.1 249.8 229.7 250.3 230.3 250.8 230.7 251.3 231.1 251.8 231.5 252.5 231.9 253.3 232.0 253.8 232.2 254.8 232.2 255.8 232.1 256.8 232.0 257.8 232.1 258.8 232.3 259.8 232.5 260.5 232.9 261.3 233.1 261.8 233.5 262.6 233.8 263.3 234.0 264.0 234.1 264.8 234.1 265.8 234.0 266.3 233.6 267.3 233.3 267.8 232.9 268.3 232.5 268.9 232.0 269.5 231.5 270.2 231.1 270.8 230.8 271.3 230.5 271.9 230.2 272.8 230.0 273.3 229.7 274.3 229.5 275.0 229.3 275.8 229.1 276.8 228.9 277.3 228.7 278.3 228.5 278.9 228.2 279.8 228.0 280.5 227.8 281.3 227.5 282.0 227.2 282.8 227.0 283.3 226.6 284.3 226.4 284.8 226.0 285.7 225.8 286.3 225.5 286.9 225.1 287.8 224.9 288.3 224.6 289.3 224.4 289.8 224.1 290.8 223.9 291.3 223.5 292.3 223.3 292.8 223.0 293.6 222.7 294.3 222.4 294.8 222.0 295.3Z" fill="#8a86e0" filter="url(#spk1)"/></g><g filter="url(#sm)"><path d="M220.0 294.9 219.3 294.8 218.5 294.3 218.2 293.8 217.9 293.3 217.5 292.3 217.4 291.8 217.1 290.8 217.0 290.2 216.8 289.3 216.6 288.3 216.5 287.6 216.3 286.8 216.1 285.8 215.9 285.3 215.6 284.3 215.4 283.8 215.1 282.8 215.0 282.3 214.6 281.3 214.5 280.8 214.2 279.8 214.0 278.9 213.8 278.3 213.6 277.3 213.5 276.8 213.2 275.8 213.0 275.1 212.7 274.3 212.5 273.7 212.1 272.8 211.8 272.3 211.5 271.8 211.0 271.2 210.5 270.6 210.0 269.9 209.6 269.3 209.3 268.8 209.0 268.1 208.7 267.3 208.6 266.3 208.6 265.3 208.8 264.3 209.0 263.6 209.4 262.8 209.7 262.3 210.1 261.8 210.6 261.3 211.1 260.8 211.8 260.3 212.4 259.8 213.0 259.4 213.5 258.9 214.0 258.4 214.5 257.9 214.9 257.3 215.3 256.8 215.6 256.3 216.0 255.7 216.5 255.0 217.0 254.3 217.4 253.8 217.9 253.3 218.4 252.8 219.0 252.4 219.5 252.1 220.1 251.8 221.0 251.5 222.0 251.3 222.5 251.3 223.0 251.3 224.0 251.4 225.0 251.8 225.5 252.0 226.0 252.3 226.7 252.8 227.2 253.3 227.6 253.8 228.0 254.6 228.3 255.3 228.5 255.8 228.8 256.8 229.0 257.6 229.2 258.3 229.5 259.1 229.8 259.8 230.0 260.3 230.5 261.3 230.7 261.8 231.0 262.3 231.4 263.3 231.6 263.8 231.8 264.8 231.9 265.8 231.6 266.8 231.4 267.3 231.0 268.2 230.7 268.8 230.5 269.3 230.0 270.2 229.7 270.8 229.5 271.3 229.2 272.3 229.0 272.8 228.7 273.8 228.5 274.6 228.3 275.3 228.0 276.3 227.9 276.8 227.6 277.8 227.5 278.3 227.1 279.3 227.0 279.8 226.6 280.8 226.4 281.3 226.0 282.3 225.8 282.8 225.5 283.5 225.2 284.3 225.0 284.8 224.5 285.8 224.4 286.3 224.0 287.3 223.8 287.8 223.5 288.8 223.4 289.3 223.0 290.3 222.9 290.8 222.5 291.7 222.2 292.3 222.0 292.8 221.5 293.6 221.0 294.2 220.5 294.7 220.0 294.9Z" fill="#5a62dc" filter="url(#spk1)"/></g><g filter="url(#sm)"><path d="M220.5 289.1 219.5 288.8 219.3 288.3 219.0 287.6 218.8 286.8 218.5 285.8 218.4 285.3 218.1 284.3 218.0 283.8 217.6 282.8 217.4 282.3 217.0 281.3 216.8 280.8 216.5 279.9 216.3 279.3 216.0 278.4 215.8 277.8 215.5 276.8 215.4 276.3 215.2 275.3 215.0 274.5 214.8 273.8 214.6 272.8 214.5 272.3 214.2 271.3 214.0 270.4 213.8 269.8 213.5 268.8 213.3 268.3 213.1 267.3 213.0 266.8 213.0 265.8 213.0 265.3 213.4 264.3 213.7 263.8 214.0 263.3 214.5 262.6 215.0 262.0 215.5 261.4 216.0 260.8 216.4 260.3 216.9 259.8 217.3 259.3 217.8 258.8 218.3 258.3 218.9 257.8 219.5 257.3 220.0 257.0 220.5 256.8 221.5 256.5 222.5 256.4 223.5 256.7 224.0 256.9 224.6 257.3 225.2 257.8 225.7 258.3 226.1 258.8 226.5 259.3 227.0 260.1 227.5 260.8 227.8 261.3 228.0 261.8 228.5 262.7 228.7 263.3 229.0 264.1 229.2 264.8 229.2 265.8 229.1 266.8 229.0 267.4 228.8 268.3 228.5 269.1 228.3 269.8 228.0 270.6 227.8 271.3 227.5 272.2 227.3 272.8 227.0 273.8 226.9 274.3 226.6 275.3 226.4 275.8 226.1 276.8 225.9 277.3 225.5 278.3 225.3 278.8 225.0 279.5 224.6 280.3 224.4 280.8 224.0 281.5 223.6 282.3 223.4 282.8 223.0 283.6 222.7 284.3 222.5 284.8 222.1 285.8 221.9 286.3 221.5 287.3 221.3 287.8 221.0 288.4 220.5 289.1Z" fill="#f0c850" filter="url(#spk2)"/></g><g filter="url(#sm)"><path d="M220.5 285.0 219.9 284.8 219.5 284.3 219.0 283.4 218.7 282.8 218.5 282.3 218.0 281.3 217.8 280.8 217.5 280.2 217.1 279.3 216.9 278.8 216.6 277.8 216.4 277.3 216.1 276.3 216.0 275.8 215.7 274.8 215.5 273.8 215.4 273.3 215.2 272.3 215.0 271.5 214.8 270.8 214.6 269.8 214.5 269.3 214.3 268.3 214.1 267.3 214.1 266.3 214.2 265.3 214.5 264.4 214.8 263.8 215.1 263.3 215.5 262.6 216.0 262.0 216.5 261.4 217.0 260.8 217.4 260.3 217.9 259.8 218.5 259.3 219.0 258.9 219.5 258.5 220.0 258.2 221.0 257.8 221.5 257.7 222.5 257.7 223.1 257.8 224.0 258.2 224.5 258.5 225.0 258.9 225.5 259.4 226.0 260.0 226.5 260.7 226.9 261.3 227.2 261.8 227.5 262.3 228.0 263.3 228.2 263.8 228.4 264.8 228.5 265.8 228.4 266.8 228.3 267.8 228.0 268.7 227.8 269.3 227.5 270.3 227.4 270.8 227.1 271.8 226.9 272.3 226.6 273.3 226.5 273.8 226.1 274.8 226.0 275.3 225.6 276.3 225.4 276.8 225.0 277.7 224.8 278.3 224.5 278.8 224.0 279.8 223.7 280.3 223.4 280.8 223.0 281.6 222.6 282.3 222.3 282.8 222.0 283.3 221.5 284.0 221.0 284.7 220.5 285.0Z" fill="#eea860" filter="url(#spk)"/></g><path d="M221.5 280.9 220.5 281.2 219.6 280.8 219.1 280.3 218.7 279.8 218.4 279.3 218.0 278.6 217.6 277.8 217.4 277.3 217.1 276.3 216.9 275.8 216.6 274.8 216.5 274.3 216.2 273.3 216.0 272.3 215.9 271.8 215.7 270.8 215.5 269.8 215.4 269.3 215.3 268.3 215.2 267.3 215.2 266.3 215.4 265.3 215.5 264.8 215.9 263.8 216.2 263.3 216.6 262.8 217.0 262.2 217.5 261.6 218.0 261.1 218.5 260.6 219.0 260.2 219.6 259.8 220.5 259.3 221.0 259.1 222.0 259.0 223.0 259.2 223.5 259.4 224.2 259.8 224.8 260.3 225.3 260.8 225.8 261.3 226.1 261.8 226.5 262.4 227.0 263.3 227.2 263.8 227.5 264.8 227.6 265.3 227.6 266.3 227.5 267.3 227.4 267.8 227.2 268.8 227.0 269.5 226.8 270.3 226.5 271.2 226.3 271.8 226.0 272.8 225.8 273.3 225.5 274.3 225.3 274.8 225.0 275.6 224.7 276.3 224.4 276.8 224.0 277.7 223.6 278.3 223.3 278.8 223.0 279.3 222.5 279.9 222.0 280.5 221.5 280.9Z" fill="#2233cc" filter="url(#sm)"/><path d="M221.5 276.4 220.5 276.4 220.0 276.2 219.5 275.8 219.0 275.1 218.5 274.3 218.3 273.8 218.0 272.9 217.8 272.3 217.6 271.3 217.4 270.8 217.2 269.8 217.1 268.8 217.0 267.8 217.1 266.8 217.2 265.8 217.5 265.0 217.8 264.3 218.1 263.8 218.5 263.3 219.0 262.8 219.5 262.3 220.4 261.8 221.0 261.6 222.0 261.5 223.0 261.7 223.5 262.0 224.0 262.4 224.5 262.8 225.0 263.5 225.4 264.3 225.6 264.8 225.8 265.8 225.9 266.8 225.8 267.8 225.6 268.8 225.4 269.3 225.2 270.3 225.0 270.8 224.6 271.8 224.5 272.3 224.0 273.3 223.8 273.8 223.5 274.3 223.0 275.0 222.5 275.6 222.0 276.1 221.5 276.4Z" fill="#2ccc4c" filter="url(#sm)"/><path d="M222.0 271.9 221.0 272.3 220.2 271.8 219.8 271.3 219.5 270.7 219.2 269.8 219.0 268.8 218.9 268.3 218.9 267.3 219.0 266.8 219.3 265.8 219.6 265.3 220.0 264.8 220.6 264.3 221.5 264.0 222.5 264.2 223.0 264.5 223.5 265.2 223.8 265.8 224.0 266.8 223.9 267.8 223.7 268.8 223.5 269.5 223.2 270.3 222.9 270.8 222.5 271.4 222.0 271.9Z" fill="#e4201a" filter="url(#sm)"/></g>
<clipPath id="cB3"><rect x="299.0" y="205.3" width="97.0" height="90.0"/></clipPath><g clip-path="url(#cB3)"><g filter="url(#spk)" fill="#78bcd8"><path d="M344.0 295.3 341.5 295.5 339.0 295.5 336.5 295.6 334.0 295.6 331.5 295.7 329.0 295.7 326.5 295.7 324.0 295.7 321.5 295.7 319.0 295.7 316.5 295.7 314.0 295.7 311.5 295.6 309.0 295.6 306.5 295.6 304.0 295.5 301.5 295.4 299.5 295.2 298.9 293.3 298.9 290.8 298.8 288.3 298.8 285.8 298.7 283.3 298.7 280.8 298.7 278.3 298.8 275.8 298.8 273.3 298.8 270.8 298.9 268.3 299.0 265.8 299.7 264.3 300.8 262.8 302.0 261.3 303.0 260.0 304.0 258.7 305.0 257.1 305.9 255.3 306.5 253.8 307.2 251.8 307.7 249.8 308.3 247.8 309.0 246.0 309.7 244.3 310.5 242.8 311.5 241.3 312.7 239.8 314.0 238.4 315.3 237.3 316.7 236.3 318.4 235.3 320.0 234.5 322.0 233.8 324.0 233.3 326.0 233.0 328.5 233.0 331.0 233.2 333.0 233.6 335.0 234.2 336.6 234.8 338.5 235.8 340.0 236.8 341.3 237.8 342.5 239.0 343.6 240.3 344.7 241.8 345.5 243.3 346.3 245.3 346.9 247.3 347.2 249.3 347.3 251.8 347.2 254.3 347.0 256.3 346.7 258.8 346.5 260.8 346.5 262.9 346.8 265.3 347.3 267.3 347.9 269.3 348.5 271.2 349.0 273.0 349.5 275.3 349.8 277.3 349.9 279.8 349.8 282.3 349.5 284.3 349.0 286.4 348.4 288.3 347.6 290.3 346.8 291.8 345.9 293.3 344.8 294.8Z" fill-opacity="0.193"/><path d="M340.5 295.3 338.0 295.4 335.5 295.5 333.0 295.5 330.5 295.6 328.0 295.6 325.5 295.6 323.0 295.6 320.5 295.6 318.0 295.6 315.5 295.6 313.0 295.6 310.5 295.5 308.0 295.5 305.5 295.4 303.3 295.3 302.0 293.9 301.0 292.6 300.0 291.0 299.1 289.3 299.0 287.3 298.9 284.8 298.9 282.3 298.9 279.8 298.9 277.3 298.9 274.8 299.0 272.3 299.3 270.3 300.0 268.8 301.0 267.3 302.0 265.8 303.2 264.3 304.4 262.8 305.5 261.5 306.5 260.2 307.5 258.7 308.5 256.8 309.0 255.3 309.6 253.3 310.1 251.3 310.6 249.3 311.2 247.3 312.0 245.3 312.8 243.8 313.8 242.3 315.0 240.8 316.0 239.8 317.5 238.6 319.0 237.6 320.6 236.8 322.5 236.1 324.5 235.6 326.5 235.3 329.0 235.3 331.0 235.5 333.0 235.9 335.0 236.6 336.5 237.4 338.0 238.3 339.5 239.4 340.9 240.8 342.0 242.2 343.0 243.8 343.7 245.3 344.3 247.3 344.7 249.3 344.8 251.8 344.6 254.3 344.3 256.3 343.9 258.3 343.6 260.8 343.5 262.6 343.7 264.8 344.1 266.8 344.7 268.8 345.4 270.8 346.0 272.8 346.5 274.8 346.8 276.8 347.0 278.8 347.0 281.2 346.8 283.3 346.4 285.3 345.7 287.3 345.0 289.1 344.1 290.8 343.2 292.3 342.1 293.8 341.0 295.0Z" fill-opacity="0.193"/><path d="M336.0 295.3 333.5 295.4 331.0 295.4 328.5 295.5 326.0 295.5 323.5 295.5 321.0 295.5 318.5 295.5 316.0 295.5 313.5 295.5 311.0 295.4 308.5 295.3 307.0 294.6 305.7 293.3 304.5 292.0 303.5 290.6 302.5 289.0 301.7 287.3 301.0 285.4 300.5 283.3 300.3 281.3 300.2 278.8 300.5 276.7 301.0 274.6 301.6 272.8 302.5 270.9 303.4 269.3 304.5 267.8 305.5 266.5 306.5 265.3 307.8 263.8 309.0 262.4 310.0 261.2 311.0 259.6 311.9 257.8 312.4 255.8 312.8 253.8 313.1 251.8 313.6 249.8 314.1 247.8 315.0 245.8 315.9 244.3 317.0 242.8 318.0 241.8 319.5 240.6 321.0 239.6 322.9 238.8 324.6 238.3 327.0 237.9 329.5 238.0 331.5 238.3 333.5 239.0 335.2 239.8 336.7 240.8 338.0 241.9 339.2 243.3 340.2 244.8 341.0 246.5 341.5 248.3 341.8 250.8 341.7 253.3 341.4 255.3 340.9 257.3 340.4 259.3 340.0 261.7 340.0 263.8 340.3 265.8 340.9 267.8 341.5 269.6 342.1 271.3 342.8 273.3 343.3 275.3 343.7 277.3 343.8 279.8 343.7 282.3 343.3 284.3 342.7 286.3 342.0 288.0 341.0 289.8 340.0 291.3 339.0 292.6 337.9 293.8 336.5 295.0Z" fill-opacity="0.193"/><path d="M328.5 295.3 326.0 295.3 323.5 295.4 321.0 295.4 318.5 295.4 316.0 295.3 314.0 294.9 312.5 294.1 311.0 293.1 309.5 291.9 308.3 290.8 307.1 289.3 306.1 287.8 305.4 286.3 304.6 284.3 304.2 282.3 304.0 279.8 304.2 277.3 304.7 275.3 305.5 273.3 306.3 271.8 307.2 270.3 308.4 268.8 309.5 267.6 310.7 266.3 312.0 265.1 313.3 263.8 314.5 262.5 315.5 261.1 316.4 259.3 316.8 257.3 316.9 254.8 317.0 252.8 317.4 250.3 317.9 248.3 318.6 246.8 319.6 245.3 321.0 243.9 322.5 242.8 324.0 242.1 326.0 241.6 328.5 241.4 331.0 241.8 332.5 242.4 334.1 243.3 335.5 244.5 336.5 245.8 337.5 247.8 338.0 249.8 338.1 251.8 337.8 253.8 337.2 255.8 336.5 257.8 335.9 259.3 335.3 261.3 335.2 263.8 335.6 265.8 336.4 267.8 337.0 269.3 338.0 271.3 338.6 272.8 339.3 274.8 339.7 276.8 340.0 279.2 340.0 280.8 339.6 283.3 339.0 285.3 338.4 286.8 337.5 288.4 336.5 289.8 335.2 291.3 334.0 292.4 332.5 293.5 331.0 294.4 329.0 295.3Z" fill-opacity="0.193"/><path d="M328.5 255.9 326.0 255.9 324.7 254.8 324.0 253.3 323.9 250.8 324.6 249.3 326.0 248.0 328.0 247.5 330.0 248.2 331.0 249.3 331.6 251.3 331.1 253.3 330.0 254.8 328.6 255.8ZM324.5 291.9 322.0 292.1 319.5 291.9 317.5 291.4 316.0 290.8 314.3 289.8 313.0 288.8 311.5 287.3 310.5 285.8 309.7 284.3 309.1 282.3 308.9 280.3 309.0 278.3 309.5 276.2 310.3 274.3 311.3 272.8 312.5 271.3 313.6 270.3 315.0 269.1 316.5 268.1 318.0 267.3 320.0 266.3 321.6 265.8 324.0 265.5 326.0 265.9 327.7 266.8 329.0 267.8 330.5 269.3 331.5 270.5 332.5 271.8 333.5 273.5 334.3 275.3 334.9 277.3 335.1 279.3 335.0 281.7 334.5 283.7 333.8 285.3 332.9 286.8 331.5 288.3 330.4 289.3 328.9 290.3 327.0 291.2 325.0 291.8Z" fill-opacity="0.193"/></g><g filter="url(#sm)"><path d="M351.0 293.3 350.0 293.5 349.0 293.3 348.5 293.1 348.0 292.8 347.5 292.3 347.0 291.7 346.5 291.0 346.1 290.3 345.9 289.8 345.5 289.0 345.2 288.3 345.0 287.5 344.8 286.8 344.5 285.8 344.4 285.3 344.2 284.3 344.0 283.6 343.8 282.8 343.6 281.8 343.4 281.3 343.1 280.3 343.0 279.8 342.6 278.8 342.4 278.3 342.0 277.5 341.6 276.8 341.4 276.3 341.0 275.7 340.5 275.0 340.0 274.3 339.6 273.8 339.1 273.3 338.6 272.8 338.0 272.3 337.5 271.8 337.0 271.4 336.5 271.0 336.0 270.6 335.5 270.1 335.0 269.7 334.5 269.2 334.0 268.7 333.5 268.1 333.0 267.5 332.5 266.9 332.0 266.3 331.7 265.8 331.4 265.3 331.0 264.7 330.5 263.9 330.1 263.3 329.8 262.8 329.5 262.2 329.0 261.3 328.7 260.8 328.5 260.3 328.0 259.5 327.6 258.8 327.3 258.3 327.0 257.8 326.5 257.0 326.1 256.3 325.8 255.8 325.4 255.3 325.0 254.6 324.5 253.8 324.2 253.3 323.9 252.8 323.5 251.9 323.3 251.3 323.0 250.5 322.8 249.8 322.6 248.8 322.6 247.8 322.6 246.8 322.7 245.8 323.0 244.8 323.2 244.3 323.5 243.6 324.0 242.8 324.3 242.3 324.7 241.8 325.2 241.3 325.8 240.8 326.4 240.3 327.0 239.9 327.5 239.6 328.1 239.3 329.0 238.9 329.5 238.7 330.5 238.4 331.0 238.3 332.0 238.1 333.0 237.9 333.8 237.8 334.5 237.7 335.5 237.7 336.5 237.7 337.5 237.7 338.3 237.8 339.0 237.9 340.0 238.1 341.0 238.3 341.5 238.4 342.5 238.7 343.0 238.9 344.0 239.3 344.5 239.4 345.3 239.8 346.0 240.1 346.6 240.3 347.5 240.6 348.5 240.7 349.5 240.5 350.2 240.3 351.0 240.0 351.5 239.8 352.5 239.4 353.0 239.2 354.0 238.9 354.5 238.8 355.5 238.6 356.5 238.6 357.5 238.8 358.0 238.9 358.9 239.3 359.5 239.6 360.0 240.0 360.5 240.5 361.0 241.0 361.5 241.8 361.8 242.3 362.0 242.8 362.4 243.8 362.5 244.3 362.7 245.3 362.8 246.3 362.9 247.3 362.9 248.3 362.8 249.3 362.7 250.3 362.5 251.3 362.5 251.8 362.4 252.8 362.3 253.8 362.4 254.8 362.5 255.3 362.8 256.3 363.0 257.1 363.3 257.8 363.5 258.5 363.8 259.3 364.0 260.1 364.2 260.8 364.4 261.8 364.6 262.3 364.8 263.3 364.9 264.3 365.0 265.2 365.1 265.8 365.1 266.8 365.1 267.8 365.1 268.8 365.0 269.8 365.0 270.3 364.9 271.3 364.7 272.3 364.5 273.1 364.3 273.8 364.0 274.8 363.8 275.3 363.5 276.2 363.2 276.8 363.0 277.3 362.5 278.2 362.1 278.8 361.8 279.3 361.4 279.8 361.0 280.3 360.5 280.9 360.0 281.4 359.5 281.9 359.0 282.4 358.5 282.9 358.0 283.4 357.5 283.9 357.0 284.5 356.5 285.2 356.1 285.8 355.9 286.3 355.5 287.0 355.1 287.8 354.9 288.3 354.5 289.2 354.2 289.8 353.9 290.3 353.5 291.0 353.0 291.7 352.5 292.3 352.0 292.7 351.5 293.1 351.0 293.3Z" fill="#9680e0" filter="url(#spk1)"/></g><g filter="url(#sm)"><path d="M350.0 286.3 349.5 286.2 349.0 285.8 348.5 285.2 348.0 284.3 347.8 283.8 347.5 283.1 347.2 282.3 347.0 281.7 346.7 280.8 346.5 280.3 346.1 279.3 345.9 278.8 345.6 277.8 345.4 277.3 345.0 276.4 344.7 275.8 344.5 275.2 344.1 274.3 343.9 273.8 343.5 272.8 343.3 272.3 343.0 271.7 342.5 270.8 342.2 270.3 341.9 269.8 341.5 269.3 341.0 268.7 340.5 268.2 340.0 267.8 339.3 267.3 338.6 266.8 338.0 266.4 337.5 266.0 337.0 265.6 336.5 265.1 336.0 264.7 335.5 264.2 335.0 263.6 334.5 263.0 334.0 262.4 333.6 261.8 333.2 261.3 332.9 260.8 332.5 260.1 332.0 259.3 331.8 258.8 331.5 258.2 331.1 257.3 330.8 256.8 330.5 255.9 330.2 255.3 330.0 254.6 329.7 253.8 329.5 253.0 329.3 252.3 329.1 251.3 329.0 250.8 328.8 249.8 328.8 248.8 328.9 247.8 329.0 247.2 329.3 246.3 329.5 245.8 330.0 245.0 330.5 244.4 331.0 243.9 331.5 243.5 332.0 243.1 332.5 242.8 333.5 242.3 334.0 242.1 334.9 241.8 335.5 241.6 336.5 241.5 337.5 241.4 338.5 241.4 339.5 241.6 340.5 241.8 341.0 241.9 342.0 242.2 342.5 242.4 343.3 242.8 344.0 243.2 344.5 243.5 345.0 243.8 345.8 244.3 346.5 244.8 347.0 245.1 347.5 245.4 348.5 245.8 349.0 245.9 350.0 245.8 350.5 245.6 351.0 245.2 351.6 244.8 352.2 244.3 352.9 243.8 353.5 243.4 354.0 243.2 355.0 242.9 356.0 242.8 357.0 243.0 357.5 243.3 358.1 243.8 358.6 244.3 359.0 245.1 359.3 245.8 359.4 246.8 359.5 247.8 359.4 248.8 359.2 249.8 359.0 250.7 358.9 251.3 358.6 252.3 358.5 252.8 358.4 253.8 358.5 254.8 358.6 255.3 359.0 256.3 359.3 256.8 359.5 257.3 360.0 258.2 360.3 258.8 360.6 259.3 361.0 260.2 361.3 260.8 361.5 261.4 361.8 262.3 362.0 263.0 362.2 263.8 362.4 264.8 362.5 265.3 362.6 266.3 362.7 267.3 362.7 268.3 362.7 269.3 362.6 270.3 362.5 270.9 362.3 271.8 362.1 272.8 361.9 273.3 361.6 274.3 361.4 274.8 361.0 275.6 360.6 276.3 360.3 276.8 360.0 277.3 359.5 277.9 359.0 278.5 358.5 279.0 358.0 279.5 357.5 279.9 357.0 280.4 356.4 280.8 355.8 281.3 355.2 281.8 354.6 282.3 354.1 282.8 353.6 283.3 353.2 283.8 352.8 284.3 352.3 284.8 351.9 285.3 351.4 285.8 350.5 286.3 350.0 286.3Z" fill="#f0c850" filter="url(#spk4)"/></g><g filter="url(#sm)"><path d="M350.5 283.3 350.0 283.2 349.3 282.8 348.9 282.3 348.5 281.7 348.0 280.9 347.7 280.3 347.5 279.8 347.0 278.8 346.8 278.3 346.5 277.7 346.1 276.8 345.9 276.3 345.5 275.4 345.2 274.8 345.0 274.3 344.6 273.3 344.4 272.8 344.0 271.8 343.8 271.3 343.5 270.7 343.1 269.8 342.8 269.3 342.5 268.8 342.0 268.2 341.5 267.7 341.0 267.3 340.3 266.8 339.6 266.3 339.0 265.9 338.5 265.5 338.0 265.2 337.5 264.8 336.9 264.3 336.4 263.8 335.9 263.3 335.4 262.8 335.0 262.3 334.5 261.7 334.0 261.0 333.6 260.3 333.3 259.8 333.0 259.3 332.5 258.4 332.2 257.8 332.0 257.3 331.6 256.3 331.4 255.8 331.1 254.8 330.9 254.3 330.6 253.3 330.5 252.6 330.3 251.8 330.2 250.8 330.2 249.8 330.2 248.8 330.4 247.8 330.6 247.3 331.0 246.3 331.3 245.8 331.7 245.3 332.1 244.8 332.7 244.3 333.3 243.8 334.0 243.4 334.5 243.2 335.5 242.8 336.0 242.7 337.0 242.5 338.0 242.4 339.0 242.5 340.0 242.6 340.8 242.8 341.5 243.0 342.2 243.3 343.0 243.6 343.5 243.9 344.2 244.3 344.9 244.8 345.5 245.2 346.0 245.6 346.5 245.9 347.0 246.3 347.7 246.8 348.5 247.3 349.0 247.5 350.0 247.7 351.0 247.3 351.5 246.9 352.0 246.4 352.5 246.0 353.0 245.6 353.5 245.2 354.2 244.8 355.0 244.5 356.0 244.5 356.7 244.8 357.3 245.3 357.7 245.8 358.0 246.6 358.1 247.3 358.2 248.3 358.0 249.3 357.9 249.8 357.6 250.8 357.5 251.3 357.2 252.3 357.0 253.3 357.0 253.8 357.0 254.3 357.3 255.3 357.6 255.8 358.0 256.6 358.4 257.3 358.7 257.8 359.0 258.3 359.5 259.1 359.9 259.8 360.2 260.3 360.5 261.0 360.8 261.8 361.0 262.3 361.3 263.3 361.5 263.9 361.7 264.8 361.9 265.8 362.0 266.8 362.0 267.4 362.0 268.3 362.0 268.9 361.9 269.8 361.8 270.8 361.6 271.8 361.5 272.3 361.2 273.3 361.0 273.8 360.6 274.8 360.3 275.3 360.0 275.9 359.5 276.6 359.0 277.3 358.6 277.8 358.1 278.3 357.5 278.8 357.0 279.2 356.5 279.6 356.0 280.0 355.5 280.3 354.8 280.8 354.1 281.3 353.5 281.7 353.0 282.1 352.5 282.4 351.9 282.8 351.0 283.3 350.5 283.3Z" fill="#eea860" filter="url(#spk)"/></g><path d="M352.5 278.3 351.7 278.3 351.0 278.1 350.3 277.8 349.6 277.3 349.1 276.8 348.7 276.3 348.3 275.8 348.0 275.3 347.5 274.4 347.2 273.8 346.9 273.3 346.5 272.3 346.3 271.8 346.0 270.9 345.8 270.3 345.5 269.5 345.2 268.8 345.0 268.2 344.5 267.3 344.2 266.8 343.8 266.3 343.3 265.8 342.7 265.3 342.0 264.8 341.5 264.5 341.0 264.2 340.3 263.8 339.5 263.3 339.0 263.0 338.5 262.6 338.0 262.2 337.5 261.8 337.0 261.3 336.5 260.8 336.0 260.2 335.5 259.5 335.1 258.8 334.8 258.3 334.5 257.8 334.1 256.8 333.9 256.3 333.5 255.3 333.4 254.8 333.2 253.8 333.0 252.8 333.0 252.3 333.0 251.3 333.0 250.7 333.1 249.8 333.4 248.8 333.6 248.3 334.0 247.6 334.5 247.0 335.0 246.5 335.5 246.1 336.0 245.8 337.0 245.3 337.5 245.2 338.5 245.0 339.5 245.1 340.5 245.2 341.0 245.3 342.0 245.7 342.5 245.9 343.1 246.3 343.9 246.8 344.5 247.3 345.0 247.7 345.5 248.1 346.0 248.6 346.5 249.2 347.0 249.7 347.5 250.3 347.8 250.8 348.2 251.3 348.6 251.8 349.0 252.4 349.5 253.1 350.0 253.8 350.4 254.3 350.9 254.8 351.5 255.3 352.0 255.6 352.5 256.0 353.0 256.3 353.8 256.8 354.5 257.3 355.0 257.6 355.5 258.0 356.0 258.5 356.5 259.0 357.0 259.5 357.5 260.1 358.0 260.8 358.3 261.3 358.6 261.8 359.0 262.7 359.3 263.3 359.5 264.0 359.7 264.8 359.9 265.8 360.0 266.3 360.1 267.3 360.1 268.3 360.1 269.3 360.0 270.0 359.9 270.8 359.6 271.8 359.5 272.3 359.0 273.3 358.8 273.8 358.5 274.3 358.0 275.0 357.5 275.6 357.0 276.2 356.5 276.6 356.0 277.0 355.5 277.3 354.5 277.8 354.0 278.0 353.0 278.3 352.5 278.3Z" fill="#2233cc" filter="url(#sm)"/><path d="M354.5 274.8 353.5 275.1 352.5 275.1 351.5 274.9 351.0 274.6 350.5 274.3 350.0 273.8 349.5 273.2 349.0 272.4 348.6 271.8 348.4 271.3 348.0 270.3 347.8 269.8 347.5 268.8 347.4 268.3 347.1 267.3 347.0 266.8 346.5 265.8 346.3 265.3 345.9 264.8 345.4 264.3 344.9 263.8 344.2 263.3 343.5 262.9 343.0 262.6 342.4 262.3 341.5 261.8 341.0 261.6 340.5 261.3 339.7 260.8 339.0 260.3 338.5 259.9 338.0 259.4 337.5 258.8 337.1 258.3 336.8 257.8 336.5 257.3 336.0 256.3 335.8 255.8 335.5 254.8 335.4 254.3 335.3 253.3 335.3 252.3 335.4 251.3 335.5 250.8 335.9 249.8 336.2 249.3 336.7 248.8 337.3 248.3 338.0 247.9 338.5 247.7 339.5 247.6 340.5 247.7 341.0 247.8 342.0 248.2 342.5 248.5 343.0 248.8 343.6 249.3 344.2 249.8 344.6 250.3 345.0 250.8 345.5 251.4 346.0 252.2 346.3 252.8 346.6 253.3 347.0 254.2 347.3 254.8 347.5 255.3 348.0 256.1 348.4 256.8 348.9 257.3 349.4 257.8 350.0 258.3 350.5 258.6 351.0 258.9 351.8 259.3 352.5 259.6 353.0 259.8 353.9 260.3 354.5 260.6 355.0 261.0 355.5 261.4 356.0 262.0 356.5 262.6 357.0 263.3 357.2 263.8 357.5 264.4 357.8 265.3 358.0 266.1 358.1 266.8 358.2 267.8 358.2 268.8 358.0 269.8 357.9 270.3 357.6 271.3 357.4 271.8 357.0 272.5 356.5 273.2 356.0 273.8 355.5 274.2 355.0 274.5 354.5 274.8Z" fill="#2ccc4c" filter="url(#sm)"/><path d="M345.5 259.6 344.5 259.8 343.5 259.6 342.5 259.3 342.0 259.2 341.1 258.8 340.5 258.4 340.0 258.1 339.5 257.7 339.0 257.1 338.5 256.4 338.2 255.8 338.0 255.3 337.7 254.3 337.7 253.3 337.8 252.3 338.0 251.8 338.5 251.2 339.0 250.8 340.0 250.5 341.0 250.6 341.6 250.8 342.4 251.3 342.9 251.8 343.4 252.3 343.7 252.8 344.0 253.3 344.5 254.3 344.6 254.8 344.9 255.8 345.1 256.3 345.3 257.3 345.5 258.1 345.6 258.8 345.5 259.6ZM353.5 271.9 352.5 271.8 352.0 271.6 351.5 271.3 351.0 270.8 350.5 270.0 350.2 269.3 350.0 268.8 349.7 267.8 349.6 266.8 349.5 266.1 349.4 265.3 349.4 264.3 349.5 263.4 350.0 262.9 350.5 262.8 351.5 262.8 352.0 262.9 353.0 263.2 353.5 263.4 354.1 263.8 354.6 264.3 355.0 264.8 355.5 265.7 355.7 266.3 355.9 267.3 355.9 268.3 355.8 269.3 355.5 270.1 355.1 270.8 354.6 271.3 354.0 271.7 353.5 271.9Z" fill="#e4201a" filter="url(#sm)"/></g>
<clipPath id="cB4"><rect x="415.0" y="205.3" width="97.0" height="90.0"/></clipPath><g clip-path="url(#cB4)"><g filter="url(#spk)" fill="#78bcd8"><path d="M457.5 295.3 455.0 295.4 452.5 295.5 450.0 295.6 447.5 295.6 445.0 295.6 442.5 295.6 440.0 295.7 437.5 295.7 435.0 295.7 432.5 295.6 430.0 295.6 427.5 295.6 425.0 295.6 422.5 295.5 420.0 295.5 417.5 295.4 416.0 294.8 415.0 293.3 414.9 290.8 414.8 288.3 414.8 285.8 414.7 283.3 414.7 280.8 414.7 278.3 414.7 275.8 414.7 273.3 414.7 270.8 414.7 268.3 414.8 265.8 414.8 263.3 414.8 260.8 414.9 258.3 415.0 256.3 416.0 254.8 417.1 253.3 418.2 251.8 419.2 250.3 420.2 248.8 421.1 247.3 422.0 245.7 423.0 243.9 423.9 242.3 424.8 240.8 425.8 239.3 426.9 237.8 428.0 236.6 429.4 235.3 430.6 234.3 432.0 233.3 433.8 232.3 435.5 231.5 437.4 230.8 439.3 230.3 441.5 229.9 443.5 229.7 446.0 229.7 448.0 229.9 450.3 230.3 452.1 230.8 454.0 231.5 455.6 232.3 457.3 233.3 458.7 234.3 460.0 235.5 461.2 236.8 462.3 238.3 463.1 239.8 463.9 241.8 464.4 243.8 464.6 245.8 464.5 248.1 464.2 250.3 463.8 252.3 463.3 254.3 463.0 256.3 462.8 258.8 462.9 261.3 463.3 263.3 463.7 265.3 464.1 267.3 464.5 269.7 464.8 271.8 464.9 274.3 464.9 276.8 464.6 279.3 464.3 281.3 463.8 283.3 463.2 285.3 462.5 287.2 461.8 288.8 461.0 290.3 460.0 292.0 459.0 293.5 458.0 294.8Z" fill-opacity="0.193"/><path d="M453.0 295.3 450.5 295.4 448.0 295.5 445.5 295.5 443.0 295.6 440.5 295.6 438.0 295.6 435.5 295.6 433.0 295.6 430.5 295.5 428.0 295.5 425.5 295.5 423.0 295.4 420.5 295.3 419.5 294.3 418.2 292.8 417.1 291.3 416.1 289.8 415.2 288.3 415.0 286.3 414.9 283.8 414.9 281.3 414.8 278.8 414.8 276.3 414.8 273.8 414.8 271.3 414.9 268.8 414.9 266.3 415.0 263.8 415.1 261.8 416.0 260.2 417.0 258.6 418.0 257.1 419.0 255.7 420.0 254.3 421.1 252.8 422.1 251.3 423.1 249.8 424.0 248.0 424.8 246.3 425.5 244.8 426.5 242.9 427.4 241.3 428.4 239.8 429.5 238.4 430.6 237.3 432.0 236.0 433.5 234.9 435.0 234.1 436.6 233.3 438.5 232.6 440.5 232.1 442.5 231.8 445.0 231.7 447.2 231.8 449.5 232.2 451.5 232.8 453.0 233.4 454.9 234.3 456.4 235.3 457.6 236.3 459.0 237.8 460.0 239.1 460.9 240.8 461.5 242.3 462.0 244.7 462.1 246.8 461.9 248.8 461.5 250.8 461.0 252.8 460.4 254.8 460.0 256.8 459.7 259.3 460.0 261.8 460.3 263.8 460.8 265.8 461.3 267.8 461.6 269.8 461.9 272.3 462.0 274.3 462.0 276.5 461.8 278.8 461.5 280.8 461.0 282.8 460.3 284.8 459.5 286.8 458.8 288.3 457.9 289.8 456.9 291.3 455.8 292.8 454.5 294.3 453.5 295.3Z" fill-opacity="0.193"/><path d="M447.5 295.3 445.0 295.4 442.5 295.4 440.0 295.4 437.5 295.4 435.0 295.4 432.5 295.4 430.0 295.4 427.5 295.3 425.5 294.9 424.0 293.8 422.8 292.8 421.5 291.5 420.5 290.3 419.4 288.8 418.4 287.3 417.5 285.5 416.8 283.8 416.1 281.8 415.7 279.8 415.4 277.8 415.2 275.3 415.3 272.8 415.5 270.8 416.0 268.7 416.6 266.8 417.3 264.8 418.1 263.3 419.0 261.6 420.0 260.1 421.0 258.7 422.0 257.3 423.2 255.8 424.4 254.3 425.4 252.8 426.2 251.3 427.0 249.7 427.7 247.8 428.5 245.8 429.1 244.3 430.0 242.6 431.0 241.0 432.0 239.7 433.3 238.3 434.6 237.3 436.1 236.3 438.0 235.4 439.5 234.8 441.6 234.3 444.0 234.0 446.5 234.1 448.5 234.4 450.5 235.0 452.4 235.8 454.0 236.7 455.4 237.8 456.5 239.0 457.5 240.3 458.5 242.3 459.0 244.2 459.2 246.3 459.0 248.4 458.5 250.5 457.9 252.3 457.2 254.3 456.6 256.3 456.2 258.3 456.3 260.8 456.6 262.8 457.1 264.8 457.7 266.8 458.1 268.8 458.5 270.8 458.8 273.3 458.8 275.8 458.6 278.3 458.2 280.3 457.7 282.3 457.0 284.3 456.4 285.8 455.5 287.4 454.5 289.0 453.5 290.3 452.2 291.8 451.0 293.0 449.5 294.2 448.0 295.3Z" fill-opacity="0.193"/><path d="M438.5 294.3 436.0 294.4 434.0 294.1 432.0 293.6 430.0 292.9 428.5 292.1 427.0 291.1 425.5 289.9 424.4 288.8 423.1 287.3 422.1 285.8 421.2 284.3 420.5 282.7 419.8 280.8 419.3 278.8 419.0 276.3 419.0 273.8 419.3 271.3 419.8 269.3 420.5 267.3 421.1 265.8 422.0 264.2 423.0 262.6 424.0 261.3 425.2 259.8 426.5 258.4 427.5 257.3 428.7 255.8 429.8 254.3 430.6 252.8 431.3 250.8 431.8 248.8 432.3 246.8 433.0 244.8 433.7 243.3 434.7 241.8 436.0 240.3 437.3 239.3 438.9 238.3 440.5 237.7 442.5 237.2 445.0 237.0 447.5 237.3 449.3 237.8 451.0 238.6 452.5 239.7 453.6 240.8 454.6 242.3 455.3 244.3 455.6 246.3 455.3 248.3 454.7 250.3 454.0 252.0 453.1 253.8 452.4 255.3 451.7 257.3 451.6 259.8 452.0 262.0 452.6 263.8 453.3 265.8 453.9 267.8 454.4 269.8 454.8 271.8 455.0 274.3 455.0 275.8 454.7 278.3 454.3 280.3 453.7 282.3 453.0 283.9 452.0 285.7 451.0 287.2 450.0 288.4 448.6 289.8 447.4 290.8 446.0 291.8 444.1 292.8 442.5 293.5 440.5 294.0 438.5 294.3Z" fill-opacity="0.193"/><path d="M443.0 254.3 440.7 254.3 439.5 252.8 438.8 251.3 438.3 249.3 438.4 246.8 439.0 245.0 440.0 243.6 441.5 242.5 443.4 241.8 445.5 241.8 447.3 242.3 448.7 243.3 449.6 244.8 449.8 247.3 449.0 249.3 448.0 250.7 446.9 251.8 445.5 252.9 444.0 253.8ZM439.5 288.9 437.0 289.1 434.5 288.9 432.5 288.3 431.0 287.6 429.5 286.6 428.0 285.3 427.0 284.2 426.0 282.7 425.0 280.8 424.5 279.3 424.0 277.0 423.9 274.8 424.0 272.8 424.5 270.6 425.2 268.8 426.0 267.2 427.0 265.7 428.2 264.3 429.5 263.0 431.0 261.8 432.4 260.8 434.0 259.8 435.5 259.0 437.0 258.3 439.0 257.5 440.5 257.3 442.0 258.3 443.3 259.8 444.5 261.3 445.5 262.7 446.5 264.1 447.5 265.7 448.3 267.3 449.0 268.9 449.6 270.8 450.0 272.8 450.1 275.3 450.0 277.3 449.5 279.3 448.8 281.3 448.0 282.8 446.9 284.3 445.5 285.8 444.2 286.8 442.6 287.8 441.0 288.5Z" fill-opacity="0.193"/></g><g filter="url(#sm)"><path d="M466.5 292.8 465.5 292.8 465.0 292.7 464.2 292.3 463.6 291.8 463.1 291.3 462.7 290.8 462.4 290.3 462.0 289.7 461.6 288.8 461.4 288.3 461.0 287.3 460.8 286.8 460.5 285.8 460.4 285.3 460.1 284.3 460.0 283.8 459.8 282.8 459.5 281.8 459.4 281.3 459.1 280.3 458.9 279.8 458.5 278.8 458.3 278.3 458.0 277.6 457.6 276.8 457.3 276.3 457.0 275.7 456.5 274.9 456.1 274.3 455.8 273.8 455.5 273.3 455.0 272.6 454.5 272.0 454.0 271.3 453.6 270.8 453.1 270.3 452.6 269.8 452.2 269.3 451.7 268.8 451.1 268.3 450.6 267.8 450.1 267.3 449.6 266.8 449.1 266.3 448.7 265.8 448.2 265.3 447.8 264.8 447.4 264.3 447.0 263.8 446.5 263.1 446.0 262.3 445.7 261.8 445.5 261.3 445.0 260.4 444.7 259.8 444.5 259.2 444.2 258.3 444.0 257.8 443.7 256.8 443.5 256.1 443.2 255.3 443.0 254.4 442.8 253.8 442.5 252.8 442.4 252.3 442.1 251.3 442.0 250.8 441.7 249.8 441.6 248.8 441.5 247.8 441.6 246.8 441.8 245.8 442.0 245.1 442.3 244.3 442.6 243.8 443.0 243.1 443.5 242.5 444.0 242.0 444.5 241.6 445.0 241.3 445.9 240.8 446.5 240.5 447.3 240.3 448.0 240.1 449.0 240.0 450.0 239.9 451.0 240.0 452.0 240.1 453.0 240.2 453.7 240.3 454.5 240.4 455.5 240.6 456.5 240.7 457.0 240.8 458.0 240.9 459.0 241.1 460.0 241.2 460.8 241.3 461.5 241.3 462.1 241.3 463.0 241.1 464.0 240.8 464.5 240.5 465.0 240.3 465.7 239.8 466.5 239.3 467.0 239.0 467.5 238.7 468.1 238.3 469.0 237.8 469.5 237.5 470.0 237.3 471.0 236.9 471.5 236.7 472.5 236.4 473.5 236.3 474.5 236.3 475.5 236.6 476.0 236.9 476.6 237.3 477.1 237.8 477.5 238.4 478.0 239.3 478.1 239.8 478.4 240.8 478.5 241.8 478.5 242.8 478.4 243.8 478.3 244.8 478.2 245.8 478.0 246.7 477.9 247.3 477.6 248.3 477.5 248.8 477.2 249.8 477.0 250.5 476.8 251.3 476.6 252.3 476.5 252.8 476.5 253.8 476.5 254.4 476.7 255.3 476.9 256.3 477.1 256.8 477.5 257.8 477.6 258.3 478.0 259.3 478.1 259.8 478.4 260.8 478.6 261.3 478.8 262.3 479.0 263.2 479.1 263.8 479.3 264.8 479.4 265.8 479.4 266.8 479.5 267.8 479.5 268.8 479.4 269.8 479.4 270.8 479.3 271.8 479.1 272.8 479.0 273.3 478.7 274.3 478.5 275.0 478.2 275.8 478.0 276.4 477.6 277.3 477.4 277.8 477.0 278.4 476.5 279.2 476.1 279.8 475.7 280.3 475.3 280.8 474.9 281.3 474.5 281.8 474.0 282.4 473.5 283.1 473.0 283.8 472.7 284.3 472.4 284.8 472.0 285.5 471.6 286.3 471.4 286.8 471.0 287.7 470.7 288.3 470.5 288.8 470.0 289.7 469.6 290.3 469.3 290.8 468.9 291.3 468.4 291.8 467.8 292.3 467.0 292.7 466.5 292.8Z" fill="#9680e0" filter="url(#spk1)"/></g><g filter="url(#sm)"><path d="M467.0 285.9 466.0 286.1 465.1 285.8 464.6 285.3 464.2 284.8 463.9 284.3 463.5 283.4 463.3 282.8 463.0 282.1 462.7 281.3 462.5 280.7 462.2 279.8 462.0 279.3 461.6 278.3 461.4 277.8 461.0 276.8 460.8 276.3 460.5 275.7 460.1 274.8 459.9 274.3 459.5 273.3 459.3 272.8 459.0 272.1 458.7 271.3 458.5 270.7 458.2 269.8 458.0 269.2 457.7 268.3 457.5 267.8 457.1 266.8 456.8 266.3 456.4 265.8 455.9 265.3 455.2 264.8 454.5 264.4 454.0 264.2 453.2 263.8 452.5 263.4 452.0 263.2 451.4 262.8 450.7 262.3 450.1 261.8 449.6 261.3 449.2 260.8 448.8 260.3 448.4 259.8 448.0 259.1 447.6 258.3 447.4 257.8 447.0 256.8 446.9 256.3 446.7 255.3 446.6 254.3 446.5 253.8 446.4 252.8 446.4 251.8 446.5 250.8 446.5 250.3 446.6 249.3 446.9 248.3 447.1 247.8 447.5 247.0 448.0 246.4 448.5 246.0 449.0 245.7 450.0 245.3 450.5 245.2 451.5 245.0 452.5 244.9 453.5 244.9 454.5 244.9 455.5 244.9 456.5 245.0 457.5 245.1 458.5 245.3 459.0 245.4 460.0 245.7 460.5 245.8 461.5 246.0 462.5 246.2 463.5 246.1 464.3 245.8 465.0 245.4 465.5 245.0 466.0 244.5 466.5 244.1 467.0 243.6 467.5 243.2 468.0 242.7 468.6 242.3 469.3 241.8 470.0 241.4 470.5 241.2 471.5 240.8 472.0 240.8 472.7 240.8 473.5 241.1 474.0 241.4 474.5 242.0 474.9 242.8 475.0 243.4 475.1 244.3 475.1 245.3 475.0 245.9 474.8 246.8 474.6 247.8 474.4 248.3 474.1 249.3 473.9 249.8 473.5 250.8 473.4 251.3 473.0 252.3 472.9 252.8 472.8 253.8 472.9 254.8 473.1 255.3 473.5 256.3 473.7 256.8 474.0 257.4 474.5 258.3 474.7 258.8 475.0 259.3 475.5 260.3 475.7 260.8 476.0 261.7 476.2 262.3 476.5 263.3 476.6 263.8 476.9 264.8 477.0 265.8 477.1 266.3 477.2 267.3 477.2 268.3 477.2 269.3 477.1 270.3 477.0 271.1 476.9 271.8 476.7 272.8 476.5 273.4 476.2 274.3 476.0 274.9 475.6 275.8 475.3 276.3 475.0 276.8 474.5 277.5 474.0 278.2 473.5 278.7 473.0 279.3 472.5 279.8 472.0 280.3 471.5 280.8 471.0 281.3 470.6 281.8 470.1 282.3 469.7 282.8 469.3 283.3 469.0 283.8 468.5 284.4 468.0 285.0 467.5 285.5 467.0 285.9Z" fill="#f0c850" filter="url(#spk4)"/></g><g filter="url(#sm)"><path d="M466.5 283.3 466.0 283.3 465.2 282.8 464.7 282.3 464.4 281.8 464.0 281.1 463.6 280.3 463.3 279.8 463.0 279.1 462.6 278.3 462.4 277.8 462.0 277.0 461.7 276.3 461.5 275.8 461.0 274.8 460.8 274.3 460.5 273.7 460.1 272.8 459.9 272.3 459.6 271.3 459.4 270.8 459.1 269.8 458.9 269.3 458.6 268.3 458.5 267.8 458.2 266.8 458.0 266.3 457.5 265.4 457.1 264.8 456.5 264.3 456.0 264.0 455.5 263.7 454.7 263.3 454.0 263.0 453.5 262.8 452.5 262.3 452.0 262.0 451.5 261.7 451.0 261.3 450.4 260.8 449.9 260.3 449.5 259.8 449.0 259.1 448.6 258.3 448.3 257.8 448.0 256.9 447.8 256.3 447.6 255.3 447.5 254.4 447.5 253.8 447.4 252.8 447.5 252.0 447.6 251.3 447.8 250.3 448.0 249.5 448.3 248.8 448.6 248.3 449.0 247.7 449.5 247.3 450.3 246.8 451.0 246.5 451.7 246.3 452.5 246.1 453.5 246.0 454.5 245.9 455.5 245.9 456.5 246.0 457.5 246.1 458.5 246.3 459.0 246.4 460.0 246.7 460.5 246.9 461.5 247.2 462.0 247.3 463.0 247.5 464.0 247.4 464.5 247.3 465.3 246.8 465.9 246.3 466.4 245.8 467.0 245.3 467.5 244.8 468.0 244.3 468.5 243.9 469.0 243.5 469.5 243.2 470.3 242.8 471.0 242.6 472.0 242.5 472.7 242.8 473.3 243.3 473.5 243.8 473.8 244.8 473.8 245.8 473.7 246.8 473.5 247.6 473.3 248.3 473.0 249.1 472.7 249.8 472.5 250.4 472.2 251.3 472.0 251.8 471.8 252.8 471.7 253.8 471.8 254.8 472.0 255.4 472.4 256.3 472.7 256.8 473.0 257.4 473.5 258.2 473.9 258.8 474.1 259.3 474.5 260.0 474.9 260.8 475.1 261.3 475.5 262.3 475.6 262.8 475.9 263.8 476.1 264.3 476.3 265.3 476.4 266.3 476.5 267.3 476.5 267.8 476.5 268.8 476.5 269.4 476.4 270.3 476.3 271.3 476.1 272.3 476.0 272.8 475.6 273.8 475.5 274.3 475.0 275.3 474.7 275.8 474.4 276.3 474.0 276.9 473.5 277.5 473.0 278.1 472.5 278.6 472.0 279.1 471.5 279.5 471.0 280.0 470.5 280.4 470.0 280.8 469.5 281.3 468.9 281.8 468.3 282.3 467.7 282.8 467.0 283.2 466.5 283.3Z" fill="#eea860" filter="url(#spk)"/></g><path d="M468.5 277.9 467.5 278.0 466.5 277.8 466.0 277.6 465.5 277.3 465.0 276.8 464.5 276.3 464.0 275.6 463.5 274.9 463.1 274.3 462.9 273.8 462.5 273.1 462.1 272.3 461.9 271.8 461.5 270.8 461.3 270.3 461.0 269.3 460.9 268.8 460.6 267.8 460.5 267.2 460.3 266.3 460.0 265.4 459.8 264.8 459.5 264.2 459.0 263.4 458.5 262.8 458.0 262.3 457.5 262.0 457.0 261.7 456.2 261.3 455.5 261.0 455.0 260.8 454.0 260.3 453.5 260.1 453.0 259.8 452.4 259.3 451.8 258.8 451.4 258.3 451.0 257.8 450.5 256.8 450.3 256.3 450.0 255.3 450.0 254.8 449.9 253.8 450.0 252.9 450.1 252.3 450.4 251.3 450.7 250.8 451.0 250.3 451.5 249.8 452.1 249.3 453.0 248.9 453.5 248.7 454.5 248.5 455.5 248.4 456.5 248.5 457.5 248.6 458.1 248.8 459.0 249.1 459.5 249.3 460.3 249.8 461.0 250.2 461.5 250.6 462.0 251.0 462.5 251.4 463.0 251.8 463.7 252.3 464.4 252.8 465.0 253.2 465.5 253.5 466.0 253.9 466.6 254.3 467.2 254.8 467.7 255.3 468.2 255.8 468.7 256.3 469.3 256.8 469.8 257.3 470.3 257.8 470.7 258.3 471.2 258.8 471.6 259.3 472.0 259.9 472.5 260.6 472.9 261.3 473.2 261.8 473.5 262.5 473.8 263.3 474.0 263.8 474.3 264.8 474.5 265.8 474.6 266.3 474.7 267.3 474.7 268.3 474.7 269.3 474.6 270.3 474.5 270.8 474.3 271.8 474.0 272.6 473.7 273.3 473.5 273.8 473.0 274.6 472.5 275.2 472.0 275.8 471.5 276.3 471.0 276.7 470.5 277.0 470.0 277.3 469.0 277.8 468.5 277.9Z" fill="#2233cc" filter="url(#sm)"/><path d="M469.5 274.4 468.5 274.7 467.5 274.7 466.5 274.3 466.0 274.0 465.5 273.6 465.0 273.0 464.5 272.4 464.1 271.8 463.9 271.3 463.5 270.5 463.2 269.8 463.0 269.3 462.7 268.3 462.5 267.6 462.3 266.8 462.0 265.8 461.9 265.3 461.7 264.3 461.5 263.7 461.2 262.8 461.0 262.2 460.5 261.3 460.1 260.8 459.5 260.3 459.0 260.0 458.5 259.8 457.5 259.4 457.0 259.2 456.1 258.8 455.5 258.5 455.0 258.2 454.3 257.8 453.8 257.3 453.3 256.8 453.0 256.3 452.6 255.3 452.5 254.8 452.5 253.8 452.5 253.3 453.0 252.3 453.4 251.8 454.0 251.4 454.5 251.2 455.5 251.0 456.5 251.1 457.3 251.3 458.0 251.6 458.5 252.0 459.0 252.4 459.5 253.0 460.0 253.7 460.3 254.3 460.5 254.8 460.9 255.8 461.1 256.3 461.5 257.3 461.8 257.8 462.2 258.3 463.0 258.8 463.5 258.9 464.5 259.1 465.5 259.1 466.5 259.2 467.0 259.3 468.0 259.6 468.5 259.9 469.2 260.3 469.8 260.8 470.3 261.3 470.8 261.8 471.1 262.3 471.5 262.9 472.0 263.8 472.2 264.3 472.5 265.3 472.6 265.8 472.8 266.8 472.9 267.8 472.9 268.8 472.7 269.8 472.5 270.8 472.3 271.3 472.0 272.0 471.5 272.8 471.1 273.3 470.6 273.8 470.0 274.2 469.5 274.4Z" fill="#2ccc4c" filter="url(#sm)"/><path d="M469.0 271.4 468.0 271.6 467.0 271.3 466.5 271.0 466.0 270.5 465.5 269.8 465.2 269.3 464.9 268.8 464.5 267.8 464.4 267.3 464.1 266.3 464.0 265.4 464.0 264.8 464.0 264.2 464.3 263.3 464.7 262.8 465.5 262.4 466.5 262.3 467.5 262.5 468.2 262.8 468.9 263.3 469.4 263.8 469.8 264.3 470.1 264.8 470.5 265.7 470.7 266.3 470.8 267.3 470.8 268.3 470.7 269.3 470.5 269.8 470.0 270.6 469.5 271.2 469.0 271.4Z" fill="#e4201a" filter="url(#sm)"/></g>
<clipPath id="cB5"><rect x="49.6" y="322.3" width="97.0" height="90.0"/></clipPath><g clip-path="url(#cB5)"><g filter="url(#spk)" fill="#8a5058"><path d="M64.6 409.3 62.1 409.6 59.6 409.7 57.1 409.7 54.6 409.3 52.6 408.8 51.0 408.3 49.6 407.3 49.4 404.8 49.4 402.3 49.3 399.8 49.3 397.3 49.3 394.8 49.3 392.3 49.4 389.8 49.5 387.3 50.1 385.6 51.4 384.3 52.6 383.2 54.1 382.0 55.6 380.9 57.1 379.8 58.6 378.9 60.1 378.0 61.6 377.2 63.5 376.3 65.1 375.6 67.1 374.8 68.6 374.3 70.6 373.7 72.6 373.1 74.6 372.7 76.6 372.3 79.0 371.8 81.1 371.4 83.1 371.0 85.1 370.7 87.6 370.3 89.6 370.1 92.1 370.0 94.6 370.3 96.6 370.8 98.1 371.4 99.7 372.3 101.1 373.6 102.1 375.0 102.8 376.8 103.0 379.3 102.6 381.4 101.9 383.3 101.1 384.8 100.1 386.3 99.0 387.8 97.6 389.3 96.6 390.4 95.1 391.8 94.1 392.8 92.6 394.2 91.4 395.3 90.1 396.5 88.6 397.8 87.5 398.8 86.1 399.9 84.6 401.0 83.1 402.1 81.6 403.0 80.1 403.9 78.4 404.8 76.6 405.7 75.1 406.3 73.1 407.1 71.1 407.8 69.4 408.3 67.4 408.8 65.1 409.3Z" fill-opacity="0.264"/><path d="M61.1 407.8 59.1 407.8 56.6 407.5 54.6 407.1 52.6 406.4 51.1 405.6 49.6 404.5 49.5 402.3 49.4 399.8 49.4 397.3 49.4 394.8 49.5 392.3 49.6 389.8 50.3 388.3 51.6 386.8 52.6 385.7 54.1 384.3 55.3 383.3 56.6 382.3 58.1 381.2 59.6 380.2 61.2 379.3 63.1 378.3 64.6 377.6 66.5 376.8 68.1 376.2 70.1 375.6 72.1 375.0 74.1 374.5 76.1 374.1 78.1 373.7 80.1 373.3 82.2 372.8 84.6 372.3 86.6 371.9 88.6 371.6 91.1 371.5 93.6 371.6 95.6 372.1 97.3 372.8 98.8 373.8 100.1 375.2 100.9 376.8 101.2 378.8 101.0 380.8 100.4 382.8 99.6 384.4 98.6 385.9 97.4 387.3 96.1 388.7 95.0 389.8 93.6 391.1 92.2 392.3 91.1 393.3 89.6 394.6 88.3 395.8 87.1 396.8 85.6 398.1 84.1 399.3 82.7 400.3 81.2 401.3 79.6 402.3 78.1 403.1 76.6 403.8 74.6 404.7 73.1 405.3 71.1 406.0 69.1 406.6 67.1 407.1 65.1 407.5 62.6 407.7Z" fill-opacity="0.264"/><path d="M65.6 405.4 63.1 405.6 60.6 405.6 58.1 405.3 56.1 404.9 54.6 404.3 52.9 403.3 51.6 402.2 50.6 400.8 49.8 398.8 49.6 396.8 49.8 394.8 50.4 392.8 51.1 391.3 52.1 389.7 53.2 388.3 54.5 386.8 55.6 385.7 57.1 384.4 58.5 383.3 59.9 382.3 61.5 381.3 63.1 380.4 64.6 379.6 66.5 378.8 68.1 378.2 70.1 377.5 72.1 377.0 74.1 376.5 76.1 376.1 78.1 375.6 80.1 375.1 82.1 374.6 84.1 374.1 86.1 373.7 88.3 373.3 90.6 373.1 93.1 373.3 95.0 373.8 96.6 374.6 97.9 375.8 98.8 377.3 99.2 379.3 99.0 381.3 98.2 383.3 97.3 384.8 96.1 386.3 95.1 387.4 93.6 388.8 92.4 389.8 91.1 390.9 89.6 392.1 88.2 393.3 87.0 394.3 85.6 395.5 84.1 396.8 82.8 397.8 81.5 398.8 80.0 399.8 78.4 400.8 76.6 401.8 75.1 402.5 73.2 403.3 71.6 403.9 69.6 404.5 67.6 405.0 65.6 405.4Z" fill-opacity="0.264"/><path d="M66.6 402.8 64.1 403.1 61.6 403.0 59.6 402.7 57.6 402.1 56.1 401.3 54.6 400.0 53.6 398.3 53.1 396.3 53.4 393.8 54.1 391.9 55.0 390.3 56.1 388.8 57.1 387.6 58.4 386.3 59.6 385.3 61.1 384.2 62.6 383.2 64.2 382.3 66.1 381.4 67.6 380.7 69.6 380.0 71.6 379.4 73.6 378.9 75.6 378.5 77.6 378.0 79.6 377.5 81.6 377.0 83.6 376.4 85.6 375.8 87.6 375.4 89.6 375.1 92.1 375.3 93.8 375.8 95.4 376.8 96.4 378.3 96.7 380.3 96.2 382.3 95.5 383.8 94.3 385.3 93.1 386.5 91.6 387.8 90.4 388.8 89.0 389.8 87.6 390.9 86.1 392.1 84.6 393.3 83.5 394.3 82.1 395.5 80.6 396.6 79.1 397.7 77.6 398.7 76.1 399.5 74.6 400.3 72.6 401.2 70.8 401.8 69.1 402.3 66.6 402.8Z" fill-opacity="0.264"/><path d="M65.1 399.8 63.1 399.7 61.1 399.1 59.6 398.3 58.3 396.8 57.7 394.8 58.1 392.4 58.9 390.8 59.9 389.3 61.1 388.0 62.5 386.8 63.9 385.8 65.5 384.8 67.1 384.0 68.8 383.3 70.6 382.7 72.6 382.2 74.6 381.7 76.9 381.3 79.0 380.8 80.7 380.3 82.6 379.6 84.6 378.9 86.6 378.3 88.6 378.0 91.0 378.3 92.5 379.3 93.0 381.3 92.2 383.3 91.1 384.6 89.7 385.8 88.3 386.8 86.8 387.8 85.4 388.8 84.0 389.8 82.6 391.0 81.1 392.3 80.0 393.3 78.6 394.5 77.1 395.6 75.6 396.6 74.1 397.4 72.2 398.3 70.6 398.9 68.6 399.4 66.1 399.8Z" fill-opacity="0.264"/></g><g filter="url(#spk)" fill="#c48890"><path d="M108.6 412.3 106.1 412.4 103.6 412.4 101.1 412.5 98.6 412.5 96.1 412.5 93.6 412.5 91.1 412.6 88.6 412.6 86.1 412.6 83.6 412.6 81.1 412.6 78.6 412.6 76.1 412.6 73.6 412.6 71.1 412.6 68.6 412.6 66.1 412.6 63.6 412.6 61.1 412.6 58.6 412.5 56.1 412.5 53.6 412.5 51.1 412.4 49.5 411.8 49.4 409.3 49.4 406.8 49.3 404.3 49.3 401.8 49.3 399.3 49.3 396.8 49.3 394.3 49.3 391.8 49.3 389.3 49.3 386.8 49.3 384.3 49.3 381.8 49.3 379.3 49.3 376.8 49.3 374.3 49.4 371.8 49.4 369.3 49.5 366.8 50.1 364.9 51.6 363.9 53.1 363.0 54.6 362.1 56.1 361.3 58.1 360.3 59.6 359.6 61.5 358.8 63.1 358.2 65.1 357.4 67.1 356.8 68.7 356.3 70.6 355.8 72.6 355.3 74.9 354.8 77.1 354.4 79.1 354.1 81.4 353.8 83.6 353.6 86.1 353.3 88.1 353.1 90.6 352.9 92.6 352.7 95.1 352.4 97.1 352.2 99.6 352.0 102.1 351.9 104.6 352.0 107.1 352.2 109.1 352.6 111.1 353.1 113.0 353.8 114.6 354.5 116.2 355.3 117.8 356.3 119.1 357.3 120.6 358.6 121.8 359.8 123.1 361.3 124.1 362.6 125.1 364.1 126.1 365.8 126.9 367.3 127.7 368.8 128.6 370.8 129.1 372.3 129.8 374.3 130.4 376.3 130.7 378.3 131.0 380.8 131.0 383.3 130.7 385.8 130.3 387.8 129.8 389.8 129.1 391.6 128.4 393.3 127.6 394.8 126.6 396.5 125.6 398.0 124.6 399.3 123.4 400.8 122.1 402.2 121.1 403.3 119.6 404.7 118.3 405.8 117.1 406.8 115.6 407.9 114.1 409.0 112.6 410.0 111.1 410.9 109.6 411.8Z" fill-opacity="0.133"/><path d="M102.6 412.3 100.1 412.4 97.6 412.4 95.1 412.4 92.6 412.5 90.1 412.5 87.6 412.5 85.1 412.5 82.6 412.5 80.1 412.5 77.6 412.5 75.1 412.5 72.6 412.5 70.1 412.5 67.6 412.5 65.1 412.5 62.6 412.5 60.1 412.5 57.6 412.4 55.1 412.4 52.6 412.3 50.6 412.3 49.6 410.8 49.5 408.3 49.4 405.8 49.4 403.3 49.4 400.8 49.3 398.3 49.3 395.8 49.3 393.3 49.3 390.8 49.3 388.3 49.3 385.8 49.3 383.3 49.3 380.8 49.4 378.3 49.4 375.8 49.5 373.3 49.5 370.8 49.6 368.6 51.1 367.4 52.6 366.4 54.1 365.4 55.6 364.5 57.1 363.7 58.8 362.8 60.6 361.9 62.1 361.3 64.1 360.4 65.8 359.8 67.6 359.2 69.6 358.6 71.6 358.0 73.6 357.6 75.6 357.1 77.6 356.8 80.1 356.4 82.1 356.1 84.6 355.9 86.6 355.6 89.1 355.3 91.1 355.1 93.1 354.7 95.6 354.3 97.6 354.0 99.6 353.8 102.1 353.6 104.6 353.6 106.6 353.8 109.1 354.3 111.0 354.8 112.6 355.4 114.5 356.3 116.1 357.3 117.5 358.3 118.7 359.3 120.1 360.8 121.1 362.1 122.1 363.5 123.1 365.3 123.9 366.8 124.6 368.6 125.2 370.3 125.9 372.3 126.4 374.3 126.9 376.3 127.2 378.3 127.4 380.8 127.4 383.3 127.2 385.8 126.8 387.8 126.2 389.8 125.6 391.4 124.7 393.3 123.9 394.8 123.0 396.3 121.9 397.8 120.7 399.3 119.6 400.6 118.5 401.8 117.1 403.1 115.8 404.3 114.6 405.3 113.1 406.4 111.6 407.5 110.1 408.5 108.6 409.4 107.0 410.3 105.1 411.3 103.6 412.0Z" fill-opacity="0.133"/><path d="M95.1 412.3 92.6 412.3 90.1 412.4 87.6 412.4 85.1 412.4 82.6 412.4 80.1 412.4 77.6 412.4 75.1 412.4 72.6 412.4 70.1 412.4 67.6 412.4 65.1 412.4 62.6 412.4 60.1 412.3 58.1 412.3 56.1 411.5 54.6 410.8 52.8 409.8 51.2 408.8 49.8 407.8 49.5 405.8 49.5 403.3 49.4 400.8 49.4 398.3 49.4 395.8 49.4 393.3 49.4 390.8 49.4 388.3 49.4 385.8 49.4 383.3 49.4 380.8 49.5 378.3 49.5 375.8 49.6 373.3 50.4 371.8 51.6 370.8 53.1 369.6 54.6 368.5 56.1 367.5 57.6 366.6 59.1 365.8 61.0 364.8 62.6 364.0 64.3 363.3 66.1 362.6 68.1 361.9 69.8 361.3 71.6 360.8 73.6 360.3 75.7 359.8 78.1 359.4 80.1 359.0 82.1 358.8 84.6 358.5 86.6 358.2 89.1 357.8 91.1 357.4 93.1 357.0 95.1 356.5 97.1 356.1 99.1 355.7 101.6 355.4 104.1 355.3 106.6 355.5 108.6 355.9 110.6 356.4 112.6 357.3 114.1 358.1 115.6 359.1 116.9 360.3 118.1 361.5 119.1 362.8 120.1 364.4 121.0 366.3 121.6 367.9 122.2 369.8 122.6 371.8 123.1 374.3 123.3 376.3 123.6 378.8 123.7 380.8 123.6 383.3 123.4 385.3 123.0 387.3 122.5 389.3 121.7 391.3 121.0 392.8 120.1 394.4 119.1 396.0 118.1 397.4 116.9 398.8 115.6 400.2 114.5 401.3 113.1 402.6 111.6 403.8 110.3 404.8 108.9 405.8 107.4 406.8 105.7 407.8 104.1 408.7 102.6 409.4 100.7 410.3 99.1 411.0 97.1 411.7 95.4 412.3Z" fill-opacity="0.133"/><path d="M80.1 412.3 77.6 412.3 75.1 412.3 73.1 412.3 70.6 412.1 68.6 411.8 66.2 411.3 64.1 410.8 62.5 410.3 60.6 409.6 58.6 408.8 57.1 408.1 55.6 407.3 54.1 406.3 52.6 405.2 51.1 403.9 49.9 402.8 49.6 400.8 49.5 398.3 49.5 395.8 49.5 393.3 49.5 390.8 49.5 388.3 49.5 385.8 49.5 383.3 49.5 380.8 49.6 378.3 50.4 376.8 51.6 375.5 52.8 374.3 54.1 373.1 55.6 371.8 57.0 370.8 58.5 369.8 60.1 368.8 61.6 367.9 63.1 367.2 64.9 366.3 66.6 365.6 68.6 364.8 70.1 364.3 72.1 363.7 74.1 363.2 76.1 362.7 78.2 362.3 80.6 361.9 82.6 361.6 84.9 361.3 87.1 361.0 89.1 360.6 91.1 360.1 93.1 359.5 95.1 358.9 97.1 358.3 99.1 357.8 101.1 357.4 103.1 357.2 105.6 357.3 107.6 357.5 109.6 358.1 111.4 358.8 113.1 359.8 114.5 360.8 115.6 361.9 116.8 363.3 117.7 364.8 118.6 366.8 119.1 368.5 119.5 370.8 119.7 372.8 119.8 375.3 119.7 377.8 119.7 380.3 119.6 382.3 119.3 384.8 118.9 386.8 118.3 388.8 117.6 390.8 116.9 392.3 116.0 393.8 115.0 395.3 113.9 396.8 112.6 398.3 111.6 399.3 110.1 400.7 108.8 401.8 107.6 402.8 106.1 403.8 104.6 404.8 102.9 405.8 101.1 406.7 99.6 407.5 97.7 408.3 96.1 408.9 94.1 409.6 92.1 410.3 90.1 410.8 88.1 411.2 86.1 411.6 84.1 411.9 81.6 412.2Z" fill-opacity="0.133"/><path d="M82.1 408.8 79.6 409.0 77.1 409.1 74.6 409.0 72.6 408.8 70.1 408.4 68.1 408.0 66.1 407.5 64.1 406.9 62.6 406.3 60.6 405.4 59.1 404.6 57.6 403.6 56.1 402.5 54.8 401.3 53.6 400.1 52.6 398.8 51.6 397.2 50.7 395.3 50.1 393.3 49.8 391.3 49.8 388.8 50.1 386.8 50.7 384.8 51.6 382.8 52.4 381.3 53.3 379.8 54.5 378.3 55.6 377.0 56.8 375.8 58.1 374.7 59.6 373.5 61.1 372.4 62.6 371.4 64.1 370.6 65.6 369.8 67.6 368.9 69.1 368.2 71.1 367.5 73.1 366.9 75.1 366.3 77.1 365.9 79.1 365.5 81.1 365.2 83.6 364.8 85.6 364.5 87.6 364.1 89.6 363.7 91.6 363.0 93.5 362.3 95.1 361.6 97.1 360.8 98.7 360.3 100.6 359.8 103.1 359.4 105.6 359.4 107.9 359.8 109.6 360.4 111.4 361.3 112.7 362.3 114.1 363.8 115.1 365.3 115.8 366.8 116.3 368.8 116.5 371.3 116.4 373.8 116.1 375.8 115.7 378.3 115.3 380.3 115.0 382.3 114.6 384.7 114.1 386.8 113.6 388.5 112.9 390.3 112.1 391.9 111.1 393.6 110.1 395.0 109.0 396.3 107.6 397.8 106.5 398.8 105.1 400.0 103.6 401.1 102.1 402.1 100.6 403.0 99.1 403.9 97.2 404.8 95.6 405.5 93.6 406.3 92.0 406.8 90.1 407.4 88.1 407.9 85.9 408.3 83.6 408.7Z" fill-opacity="0.133"/></g><g filter="url(#sm)"><path d="M107.1 410.9 106.1 411.2 105.1 410.8 104.6 410.4 104.1 409.8 103.9 409.3 103.6 408.7 103.3 407.8 103.1 407.2 102.9 406.3 102.7 405.3 102.6 404.8 102.4 403.8 102.2 402.8 102.1 402.0 101.9 401.3 101.7 400.3 101.6 399.7 101.4 398.8 101.1 397.8 101.0 397.3 100.8 396.3 100.6 395.3 100.5 394.8 100.3 393.8 100.1 392.8 100.0 392.3 99.8 391.3 99.6 390.3 99.5 389.8 99.3 388.8 99.1 388.3 98.6 387.5 98.1 387.3 97.6 387.5 97.1 387.9 96.6 388.4 96.1 388.8 95.4 389.3 94.6 389.6 93.6 389.6 92.8 389.3 92.1 388.8 91.7 388.3 91.3 387.8 91.0 387.3 90.6 386.3 90.5 385.8 90.2 384.8 90.1 383.8 90.1 383.3 90.1 382.3 90.1 381.6 90.2 380.8 90.4 379.8 90.6 379.2 90.9 378.3 91.2 377.8 91.6 377.1 92.1 376.5 92.6 376.0 93.1 375.6 93.7 375.3 94.6 374.9 95.3 374.8 96.1 374.7 97.1 374.5 97.7 374.3 98.4 373.8 98.9 373.3 99.2 372.8 99.6 371.9 99.7 371.3 99.8 370.3 100.0 369.3 100.1 368.4 100.2 367.8 100.6 366.8 100.9 366.3 101.2 365.8 101.6 365.2 102.1 364.7 102.6 364.2 103.1 363.8 103.9 363.3 104.6 362.9 105.1 362.7 106.1 362.3 106.6 362.2 107.6 362.0 108.6 361.9 109.6 361.8 110.6 361.9 111.6 362.0 112.6 362.3 113.1 362.4 114.0 362.8 114.6 363.1 115.1 363.4 115.8 363.8 116.4 364.3 116.9 364.8 117.4 365.3 117.7 365.8 118.1 366.5 118.4 367.3 118.6 368.1 118.7 368.8 118.6 369.8 118.6 370.3 118.4 371.3 118.3 372.3 118.3 373.3 118.4 374.3 118.6 375.0 118.9 375.8 119.1 376.4 119.4 377.3 119.6 378.3 119.6 378.8 119.6 379.3 119.4 380.3 119.1 381.1 118.7 381.8 118.4 382.3 118.0 382.8 117.6 383.4 117.1 384.1 116.7 384.8 116.4 385.3 116.1 386.0 115.8 386.8 115.6 387.5 115.4 388.3 115.1 389.3 115.0 389.8 114.8 390.8 114.6 391.6 114.4 392.3 114.2 393.3 114.0 393.8 113.8 394.8 113.6 395.3 113.3 396.3 113.1 396.8 112.8 397.8 112.6 398.3 112.3 399.3 112.1 399.8 111.8 400.8 111.6 401.3 111.3 402.3 111.1 402.9 110.9 403.8 110.6 404.6 110.4 405.3 110.1 406.1 109.9 406.8 109.6 407.4 109.2 408.3 108.9 408.8 108.6 409.4 108.1 410.0 107.6 410.6 107.1 410.9Z" fill="#8a86e0" filter="url(#spk1)"/></g><g filter="url(#sm)"><path d="M107.1 408.6 106.1 408.8 105.2 408.3 104.8 407.8 104.5 407.3 104.1 406.3 104.0 405.8 103.8 404.8 103.6 404.0 103.5 403.3 103.3 402.3 103.2 401.3 103.1 400.8 102.9 399.8 102.7 398.8 102.6 398.3 102.3 397.3 102.1 396.4 101.9 395.8 101.7 394.8 101.6 394.1 101.4 393.3 101.2 392.3 101.1 391.3 101.0 390.8 100.9 389.8 100.7 388.8 100.6 387.8 100.5 387.3 100.3 386.3 100.1 385.3 100.0 384.8 99.6 383.8 99.4 383.3 99.1 382.7 98.6 382.0 98.1 381.3 97.7 380.8 97.5 380.3 97.6 379.8 98.1 378.9 98.4 378.3 98.8 377.8 99.1 377.3 99.6 376.7 100.1 376.0 100.5 375.3 100.9 374.8 101.2 374.3 101.6 373.6 102.0 372.8 102.2 372.3 102.6 371.4 102.9 370.8 103.1 370.2 103.5 369.3 103.8 368.8 104.1 368.2 104.6 367.5 105.1 366.9 105.6 366.5 106.1 366.1 106.7 365.8 107.6 365.4 108.2 365.3 109.1 365.2 110.1 365.3 110.6 365.3 111.6 365.7 112.1 365.9 112.6 366.3 113.2 366.8 113.7 367.3 114.1 368.0 114.5 368.8 114.6 369.3 114.9 370.3 115.1 371.3 115.2 371.8 115.5 372.8 115.6 373.3 116.0 374.3 116.2 374.8 116.6 375.8 116.8 376.3 117.1 377.0 117.4 377.8 117.5 378.8 117.5 379.8 117.2 380.8 117.1 381.3 116.6 382.3 116.4 382.8 116.1 383.3 115.7 384.3 115.5 384.8 115.1 385.7 114.9 386.3 114.6 387.3 114.5 387.8 114.3 388.8 114.1 389.4 113.9 390.3 113.6 391.3 113.5 391.8 113.2 392.8 113.0 393.3 112.7 394.3 112.6 394.8 112.2 395.8 112.1 396.3 111.7 397.3 111.5 397.8 111.2 398.8 111.0 399.3 110.7 400.3 110.6 400.8 110.3 401.8 110.1 402.4 109.8 403.3 109.6 404.1 109.4 404.8 109.1 405.5 108.8 406.3 108.5 406.8 108.1 407.5 107.6 408.1 107.1 408.6ZM94.6 383.0 94.1 382.8 94.1 382.8 94.0 382.3 94.0 381.8 94.1 381.3 94.1 381.3 94.5 380.8 94.6 380.7 95.1 380.5 95.6 380.6 95.9 380.8 95.9 381.3 95.7 381.8 95.6 382.0 95.4 382.3 95.1 382.6 94.9 382.8 94.6 383.0Z" fill="#5a62dc" filter="url(#spk1)"/></g><g filter="url(#sm)"><path d="M107.1 403.0 106.2 402.8 105.9 402.3 105.6 401.5 105.4 400.8 105.2 399.8 105.1 399.3 104.8 398.3 104.6 397.4 104.4 396.8 104.1 395.8 103.9 395.3 103.6 394.3 103.5 393.8 103.2 392.8 103.1 392.3 102.8 391.3 102.6 390.3 102.6 389.8 102.4 388.8 102.2 387.8 102.1 386.8 102.0 386.3 101.9 385.3 101.7 384.3 101.6 383.3 101.5 382.8 101.4 381.8 101.3 380.8 101.3 379.8 101.5 378.8 101.6 378.3 102.0 377.3 102.2 376.8 102.6 376.1 103.1 375.3 103.4 374.8 103.7 374.3 104.1 373.8 104.6 373.1 105.1 372.5 105.6 372.0 106.1 371.5 106.6 371.1 107.1 370.8 108.1 370.4 109.1 370.3 110.1 370.6 110.6 370.9 111.2 371.3 111.7 371.8 112.1 372.3 112.6 373.0 113.1 373.8 113.3 374.3 113.6 374.8 114.1 375.8 114.3 376.3 114.6 377.0 114.9 377.8 115.1 378.8 115.1 379.8 115.0 380.8 114.8 381.8 114.6 382.3 114.3 383.3 114.1 383.9 113.8 384.8 113.6 385.6 113.4 386.3 113.1 387.3 113.0 387.8 112.7 388.8 112.6 389.3 112.3 390.3 112.1 390.8 111.8 391.8 111.6 392.3 111.2 393.3 111.0 393.8 110.6 394.7 110.3 395.3 110.1 395.9 109.7 396.8 109.5 397.3 109.1 398.3 108.9 398.8 108.6 399.7 108.4 400.3 108.1 401.1 107.8 401.8 107.6 402.3 107.1 403.0Z" fill="#f0c850" filter="url(#spk2)"/></g><g filter="url(#sm)"><path d="M107.1 398.9 106.6 398.8 106.1 398.2 105.7 397.3 105.5 396.8 105.1 396.0 104.8 395.3 104.6 394.8 104.2 393.8 104.1 393.3 103.8 392.3 103.6 391.7 103.4 390.8 103.1 389.8 103.0 389.3 102.9 388.3 102.7 387.3 102.6 386.5 102.5 385.8 102.3 384.8 102.2 383.8 102.1 382.9 102.0 382.3 101.9 381.3 101.9 380.3 102.0 379.3 102.2 378.8 102.5 377.8 102.7 377.3 103.1 376.5 103.5 375.8 103.8 375.3 104.2 374.8 104.6 374.2 105.1 373.6 105.6 373.1 106.1 372.6 106.6 372.3 107.5 371.8 108.1 371.6 109.1 371.6 109.9 371.8 110.6 372.2 111.1 372.6 111.6 373.1 112.1 373.7 112.5 374.3 112.8 374.8 113.1 375.3 113.6 376.3 113.8 376.8 114.1 377.6 114.3 378.3 114.4 379.3 114.4 380.3 114.3 381.3 114.1 382.0 113.9 382.8 113.6 383.8 113.5 384.3 113.2 385.3 113.0 385.8 112.8 386.8 112.6 387.3 112.3 388.3 112.1 389.0 111.8 389.8 111.6 390.5 111.3 391.3 111.1 391.8 110.7 392.8 110.5 393.3 110.1 394.1 109.7 394.8 109.5 395.3 109.1 396.0 108.7 396.8 108.4 397.3 108.1 397.8 107.6 398.5 107.1 398.9Z" fill="#eea860" filter="url(#spk)"/></g><path d="M107.6 395.1 106.6 395.0 106.1 394.6 105.6 393.9 105.3 393.3 105.0 392.8 104.6 391.8 104.4 391.3 104.1 390.4 103.9 389.8 103.7 388.8 103.6 388.3 103.4 387.3 103.2 386.3 103.1 385.3 103.0 384.8 102.9 383.8 102.8 382.8 102.7 381.8 102.7 380.8 102.8 379.8 103.0 378.8 103.1 378.3 103.5 377.3 103.8 376.8 104.1 376.3 104.6 375.6 105.1 375.0 105.6 374.4 106.1 374.0 106.6 373.6 107.1 373.3 108.1 373.0 109.1 373.0 110.0 373.3 110.6 373.7 111.1 374.1 111.6 374.6 112.1 375.3 112.4 375.8 112.7 376.3 113.1 377.2 113.3 377.8 113.5 378.8 113.6 379.3 113.6 380.3 113.6 380.8 113.4 381.8 113.2 382.8 113.1 383.3 112.8 384.3 112.6 385.0 112.4 385.8 112.1 386.7 111.9 387.3 111.6 388.3 111.4 388.8 111.1 389.7 110.8 390.3 110.6 390.8 110.1 391.8 109.9 392.3 109.6 392.8 109.1 393.6 108.6 394.2 108.1 394.7 107.6 395.1Z" fill="#2233cc" filter="url(#sm)"/><path d="M107.6 390.4 107.0 390.3 106.3 389.8 106.0 389.3 105.6 388.7 105.2 387.8 105.1 387.3 104.8 386.3 104.6 385.4 104.5 384.8 104.3 383.8 104.2 382.8 104.2 381.8 104.2 380.8 104.3 379.8 104.6 378.9 104.8 378.3 105.1 377.8 105.6 377.1 106.1 376.5 106.6 376.1 107.1 375.7 108.1 375.4 109.1 375.5 109.8 375.8 110.5 376.3 110.9 376.8 111.2 377.3 111.6 378.0 111.9 378.8 112.0 379.8 112.0 380.8 111.9 381.8 111.7 382.8 111.6 383.4 111.3 384.3 111.1 385.1 110.9 385.8 110.6 386.5 110.3 387.3 110.0 387.8 109.6 388.6 109.1 389.3 108.7 389.8 108.1 390.2 107.6 390.4Z" fill="#2ccc4c" filter="url(#sm)"/><path d="M108.1 386.1 107.1 385.9 106.6 385.3 106.4 384.8 106.1 384.0 106.0 383.3 105.8 382.3 105.8 381.3 106.0 380.3 106.1 379.8 106.6 378.9 107.1 378.4 107.6 378.0 108.6 377.9 109.3 378.3 109.8 378.8 110.1 379.4 110.3 380.3 110.3 381.3 110.2 382.3 110.1 382.8 109.7 383.8 109.5 384.3 109.1 385.1 108.6 385.8 108.1 386.1Z" fill="#e4201a" filter="url(#sm)"/></g>
<clipPath id="cB6"><rect x="167.0" y="322.3" width="97.0" height="90.0"/></clipPath><g clip-path="url(#cB6)"><g filter="url(#spk)" fill="#70a8b8"><path d="M186.0 412.3 183.5 412.3 181.0 412.3 178.5 412.3 176.0 412.3 174.0 411.8 172.4 411.3 170.5 410.4 169.0 409.3 167.9 408.3 167.0 406.8 166.9 404.3 166.9 401.8 166.9 399.3 166.9 396.8 167.1 394.8 168.0 393.1 169.0 391.7 170.0 390.3 171.4 388.8 172.5 387.6 174.0 386.3 175.1 385.3 176.5 384.2 178.0 383.2 179.5 382.2 181.0 381.3 182.8 380.3 184.5 379.4 186.0 378.8 188.0 377.9 189.5 377.3 191.5 376.5 193.1 375.8 195.0 375.0 196.6 374.3 198.5 373.5 200.1 372.8 202.0 372.1 204.0 371.4 206.0 371.0 208.0 370.6 210.5 370.5 213.0 370.8 214.9 371.3 216.5 372.0 218.0 373.0 219.2 374.3 220.2 375.8 220.8 377.8 221.0 379.8 220.9 381.8 220.4 383.8 219.8 385.8 219.0 387.7 218.2 389.3 217.5 390.8 216.5 392.5 215.5 394.1 214.5 395.5 213.5 396.9 212.3 398.3 211.0 399.7 209.9 400.8 208.5 402.0 207.0 403.2 205.6 404.3 204.1 405.3 202.5 406.3 201.0 407.2 199.5 407.9 197.7 408.8 196.0 409.5 194.0 410.3 192.5 410.8 190.5 411.4 188.5 411.9 186.2 412.3Z" fill-opacity="0.264"/><path d="M182.5 410.8 180.5 410.8 178.0 410.5 176.0 410.1 174.0 409.4 172.5 408.6 171.0 407.5 169.8 406.3 168.9 404.8 168.1 402.8 167.9 400.8 168.1 398.8 168.7 396.8 169.5 394.8 170.4 393.3 171.4 391.8 172.5 390.4 173.5 389.3 175.0 387.8 176.1 386.8 177.5 385.6 179.0 384.5 180.5 383.5 182.0 382.6 183.5 381.8 185.5 380.8 187.0 380.1 188.8 379.3 190.5 378.6 192.4 377.8 194.0 377.1 195.8 376.3 197.5 375.5 199.0 374.8 201.0 373.9 202.6 373.3 204.5 372.7 206.5 372.2 209.0 371.9 211.5 372.0 213.5 372.5 215.4 373.3 216.8 374.3 218.0 375.7 218.8 377.3 219.2 379.3 219.1 381.8 218.6 383.8 218.0 385.4 217.1 387.3 216.3 388.8 215.5 390.3 214.5 392.0 213.5 393.5 212.5 395.0 211.5 396.3 210.2 397.8 209.0 399.1 207.8 400.3 206.5 401.4 205.0 402.6 203.5 403.7 202.0 404.6 200.5 405.5 199.0 406.3 197.0 407.3 195.5 407.9 193.5 408.7 191.6 409.3 189.8 409.8 187.5 410.3 185.5 410.6 183.0 410.8Z" fill-opacity="0.264"/><path d="M187.0 408.3 184.5 408.6 182.0 408.6 179.5 408.3 177.5 407.8 176.0 407.3 174.3 406.3 173.0 405.1 172.0 403.8 171.2 401.8 171.0 399.8 171.2 397.8 171.8 395.8 172.6 394.3 173.5 392.7 174.6 391.3 175.9 389.8 177.0 388.7 178.5 387.4 179.9 386.3 181.3 385.3 182.9 384.3 184.5 383.4 186.0 382.6 187.7 381.8 189.5 381.0 191.2 380.3 193.0 379.5 194.5 378.8 196.5 377.8 198.0 377.0 199.5 376.3 201.5 375.4 203.0 374.7 205.0 374.1 207.0 373.7 209.5 373.5 211.7 373.8 213.5 374.4 215.0 375.4 216.2 376.8 217.0 378.7 217.2 380.8 216.8 382.8 216.1 384.8 215.4 386.3 214.5 387.9 213.5 389.5 212.5 391.1 211.5 392.6 210.5 394.0 209.5 395.3 208.3 396.8 207.0 398.2 205.9 399.3 204.5 400.5 203.0 401.7 201.5 402.7 200.0 403.6 198.5 404.5 196.9 405.3 195.0 406.1 193.2 406.8 191.5 407.4 189.5 407.9 187.3 408.3Z" fill-opacity="0.264"/><path d="M187.5 405.9 185.0 406.1 182.5 406.0 180.5 405.6 178.5 404.8 177.0 403.9 175.9 402.8 175.0 401.3 174.6 398.8 175.0 396.3 175.6 394.8 176.5 393.2 177.5 391.8 178.8 390.3 180.0 389.2 181.5 387.9 183.0 386.9 184.5 385.9 186.0 385.1 187.5 384.3 189.5 383.4 191.0 382.7 193.0 381.8 194.5 381.1 196.2 380.3 198.0 379.3 199.5 378.4 201.0 377.6 202.8 376.8 204.5 376.2 206.5 375.7 209.0 375.5 211.0 375.9 212.8 376.8 214.0 378.1 214.6 379.8 214.5 382.2 214.0 383.8 213.0 385.8 212.1 387.3 211.1 388.8 210.0 390.3 209.0 391.7 208.0 393.1 207.0 394.4 205.8 395.8 204.5 397.3 203.4 398.3 202.0 399.5 200.5 400.7 199.0 401.7 197.5 402.5 196.0 403.3 194.0 404.2 192.2 404.8 190.4 405.3 188.0 405.8Z" fill-opacity="0.264"/><path d="M190.0 402.4 187.5 402.7 185.0 402.7 183.0 402.3 181.0 401.3 180.0 400.3 179.2 398.3 179.4 395.8 180.0 394.3 181.0 392.8 182.2 391.3 183.5 390.1 185.0 389.0 186.5 388.0 188.0 387.2 189.8 386.3 191.5 385.6 193.3 384.8 195.0 384.0 196.5 383.3 198.3 382.3 199.9 381.3 201.5 380.3 203.0 379.5 204.7 378.8 207.0 378.4 209.5 378.8 210.6 379.8 211.1 381.8 210.6 383.8 209.8 385.3 208.7 386.8 207.5 388.3 206.5 389.5 205.5 390.8 204.4 392.3 203.3 393.8 202.0 395.3 201.0 396.4 199.5 397.8 198.1 398.8 196.6 399.8 195.0 400.6 193.5 401.3 191.5 402.0Z" fill-opacity="0.264"/></g><g filter="url(#spk)" fill="#d898a8"><path d="M226.0 412.3 223.5 412.4 221.0 412.4 218.5 412.5 216.0 412.5 213.5 412.5 211.0 412.5 208.5 412.6 206.0 412.6 203.5 412.6 201.0 412.6 198.5 412.6 196.0 412.6 193.5 412.6 191.0 412.6 188.5 412.6 186.0 412.6 183.5 412.6 181.0 412.6 178.5 412.6 176.0 412.5 173.5 412.5 171.0 412.5 168.5 412.4 166.9 411.8 166.8 409.3 166.8 406.8 166.7 404.3 166.7 401.8 166.7 399.3 166.7 396.8 166.7 394.3 166.7 391.8 166.7 389.3 166.7 386.8 166.7 384.3 166.7 381.8 166.7 379.3 166.7 376.8 166.7 374.3 166.8 371.8 166.8 369.3 166.9 366.8 167.5 364.9 169.0 363.9 170.5 363.0 172.0 362.1 173.5 361.3 175.5 360.3 177.0 359.6 178.9 358.8 180.5 358.2 182.5 357.4 184.5 356.8 186.1 356.3 188.0 355.8 190.0 355.3 192.3 354.8 194.5 354.4 196.5 354.1 198.8 353.8 201.0 353.6 203.5 353.3 205.5 353.1 208.0 352.9 210.0 352.7 212.5 352.4 214.5 352.2 217.0 352.0 219.5 351.9 222.0 352.0 224.5 352.2 226.5 352.6 228.5 353.1 230.4 353.8 232.0 354.5 233.6 355.3 235.2 356.3 236.5 357.3 238.0 358.6 239.2 359.8 240.5 361.3 241.5 362.6 242.5 364.1 243.5 365.8 244.3 367.3 245.1 368.8 246.0 370.8 246.5 372.3 247.2 374.3 247.8 376.3 248.1 378.3 248.4 380.8 248.4 383.3 248.1 385.8 247.7 387.8 247.2 389.8 246.5 391.6 245.8 393.3 245.0 394.8 244.0 396.5 243.0 398.0 242.0 399.3 240.8 400.8 239.5 402.2 238.5 403.3 237.0 404.7 235.7 405.8 234.5 406.8 233.0 407.9 231.5 409.0 230.0 410.0 228.5 410.9 227.0 411.8Z" fill-opacity="0.085"/><path d="M220.0 412.3 217.5 412.4 215.0 412.4 212.5 412.4 210.0 412.5 207.5 412.5 205.0 412.5 202.5 412.5 200.0 412.5 197.5 412.5 195.0 412.5 192.5 412.5 190.0 412.5 187.5 412.5 185.0 412.5 182.5 412.5 180.0 412.5 177.5 412.5 175.0 412.4 172.5 412.4 170.0 412.3 168.0 412.3 167.0 410.8 166.9 408.3 166.8 405.8 166.8 403.3 166.8 400.8 166.7 398.3 166.7 395.8 166.7 393.3 166.7 390.8 166.7 388.3 166.7 385.8 166.7 383.3 166.7 380.8 166.8 378.3 166.8 375.8 166.9 373.3 166.9 370.8 167.0 368.6 168.5 367.4 170.0 366.4 171.5 365.4 173.0 364.5 174.5 363.7 176.2 362.8 178.0 361.9 179.5 361.3 181.5 360.4 183.2 359.8 185.0 359.2 187.0 358.6 189.0 358.0 191.0 357.6 193.0 357.1 195.0 356.8 197.5 356.4 199.5 356.1 202.0 355.9 204.0 355.6 206.5 355.3 208.5 355.1 210.5 354.7 213.0 354.3 215.0 354.0 217.0 353.8 219.5 353.6 222.0 353.6 224.0 353.8 226.5 354.3 228.4 354.8 230.0 355.4 231.9 356.3 233.5 357.3 234.9 358.3 236.1 359.3 237.5 360.8 238.5 362.1 239.5 363.5 240.5 365.3 241.3 366.8 242.0 368.6 242.6 370.3 243.3 372.3 243.8 374.3 244.3 376.3 244.6 378.3 244.8 380.8 244.8 383.3 244.6 385.8 244.2 387.8 243.6 389.8 243.0 391.4 242.1 393.3 241.3 394.8 240.4 396.3 239.3 397.8 238.1 399.3 237.0 400.6 235.9 401.8 234.5 403.1 233.2 404.3 232.0 405.3 230.5 406.4 229.0 407.5 227.5 408.5 226.0 409.4 224.4 410.3 222.5 411.3 221.0 412.0Z" fill-opacity="0.085"/><path d="M212.5 412.3 210.0 412.3 207.5 412.4 205.0 412.4 202.5 412.4 200.0 412.4 197.5 412.4 195.0 412.4 192.5 412.4 190.0 412.4 187.5 412.4 185.0 412.4 182.5 412.4 180.0 412.4 177.5 412.3 175.5 412.3 173.5 411.5 172.0 410.8 170.2 409.8 168.6 408.8 167.2 407.8 166.9 405.8 166.9 403.3 166.8 400.8 166.8 398.3 166.8 395.8 166.8 393.3 166.8 390.8 166.8 388.3 166.8 385.8 166.8 383.3 166.8 380.8 166.9 378.3 166.9 375.8 167.0 373.3 167.8 371.8 169.0 370.8 170.5 369.6 172.0 368.5 173.5 367.5 175.0 366.6 176.5 365.8 178.4 364.8 180.0 364.0 181.7 363.3 183.5 362.6 185.5 361.9 187.2 361.3 189.0 360.8 191.0 360.3 193.1 359.8 195.5 359.4 197.5 359.0 199.5 358.8 202.0 358.5 204.0 358.2 206.5 357.8 208.5 357.4 210.5 357.0 212.5 356.5 214.5 356.1 216.5 355.7 219.0 355.4 221.5 355.3 224.0 355.5 226.0 355.9 228.0 356.4 230.0 357.3 231.5 358.1 233.0 359.1 234.3 360.3 235.5 361.5 236.5 362.8 237.5 364.4 238.4 366.3 239.0 367.9 239.6 369.8 240.0 371.8 240.5 374.3 240.7 376.3 241.0 378.8 241.1 380.8 241.0 383.3 240.8 385.3 240.4 387.3 239.9 389.3 239.1 391.3 238.4 392.8 237.5 394.4 236.5 396.0 235.5 397.4 234.3 398.8 233.0 400.2 231.9 401.3 230.5 402.6 229.0 403.8 227.7 404.8 226.3 405.8 224.8 406.8 223.1 407.8 221.5 408.7 220.0 409.4 218.1 410.3 216.5 411.0 214.5 411.7 212.8 412.3Z" fill-opacity="0.085"/><path d="M197.5 412.3 195.0 412.3 192.5 412.3 190.5 412.3 188.0 412.1 186.0 411.8 183.6 411.3 181.5 410.8 179.9 410.3 178.0 409.6 176.0 408.8 174.5 408.1 173.0 407.3 171.5 406.3 170.0 405.2 168.5 403.9 167.3 402.8 167.0 400.8 166.9 398.3 166.9 395.8 166.9 393.3 166.9 390.8 166.9 388.3 166.9 385.8 166.9 383.3 166.9 380.8 167.0 378.3 167.8 376.8 169.0 375.5 170.2 374.3 171.5 373.1 173.0 371.8 174.4 370.8 175.9 369.8 177.5 368.8 179.0 367.9 180.5 367.2 182.3 366.3 184.0 365.6 186.0 364.8 187.5 364.3 189.5 363.7 191.5 363.2 193.5 362.7 195.6 362.3 198.0 361.9 200.0 361.6 202.3 361.3 204.5 361.0 206.5 360.6 208.5 360.1 210.5 359.5 212.5 358.9 214.5 358.3 216.5 357.8 218.5 357.4 220.5 357.2 223.0 357.3 225.0 357.5 227.0 358.1 228.8 358.8 230.5 359.8 231.9 360.8 233.0 361.9 234.2 363.3 235.1 364.8 236.0 366.8 236.5 368.5 236.9 370.8 237.1 372.8 237.2 375.3 237.1 377.8 237.1 380.3 237.0 382.3 236.7 384.8 236.3 386.8 235.7 388.8 235.0 390.8 234.3 392.3 233.4 393.8 232.4 395.3 231.3 396.8 230.0 398.3 229.0 399.3 227.5 400.7 226.2 401.8 225.0 402.8 223.5 403.8 222.0 404.8 220.3 405.8 218.5 406.7 217.0 407.5 215.1 408.3 213.5 408.9 211.5 409.6 209.5 410.3 207.5 410.8 205.5 411.2 203.5 411.6 201.5 411.9 199.0 412.2Z" fill-opacity="0.085"/><path d="M199.5 408.8 197.0 409.0 194.5 409.1 192.0 409.0 190.0 408.8 187.5 408.4 185.5 408.0 183.5 407.5 181.5 406.9 180.0 406.3 178.0 405.4 176.5 404.6 175.0 403.6 173.5 402.5 172.2 401.3 171.0 400.1 170.0 398.8 169.0 397.2 168.1 395.3 167.5 393.3 167.2 391.3 167.2 388.8 167.5 386.8 168.1 384.8 169.0 382.8 169.8 381.3 170.7 379.8 171.9 378.3 173.0 377.0 174.2 375.8 175.5 374.7 177.0 373.5 178.5 372.4 180.0 371.4 181.5 370.6 183.0 369.8 185.0 368.9 186.5 368.2 188.5 367.5 190.5 366.9 192.5 366.3 194.5 365.9 196.5 365.5 198.5 365.2 201.0 364.8 203.0 364.5 205.0 364.1 207.0 363.7 209.0 363.0 210.9 362.3 212.5 361.6 214.5 360.8 216.1 360.3 218.0 359.8 220.5 359.4 223.0 359.4 225.3 359.8 227.0 360.4 228.8 361.3 230.1 362.3 231.5 363.8 232.5 365.3 233.2 366.8 233.7 368.8 233.9 371.3 233.8 373.8 233.5 375.8 233.1 378.3 232.7 380.3 232.4 382.3 232.0 384.7 231.5 386.8 231.0 388.5 230.3 390.3 229.5 391.9 228.5 393.6 227.5 395.0 226.4 396.3 225.0 397.8 223.9 398.8 222.5 400.0 221.0 401.1 219.5 402.1 218.0 403.0 216.5 403.9 214.6 404.8 213.0 405.5 211.0 406.3 209.4 406.8 207.5 407.4 205.5 407.9 203.3 408.3 201.0 408.7Z" fill-opacity="0.085"/></g><g filter="url(#sm)"><path d="M222.5 410.9 221.5 411.2 220.5 410.8 220.0 410.4 219.5 409.8 219.3 409.3 219.0 408.7 218.7 407.8 218.5 407.2 218.3 406.3 218.1 405.3 218.0 404.8 217.8 403.8 217.6 402.8 217.5 402.0 217.3 401.3 217.1 400.3 217.0 399.7 216.8 398.8 216.5 397.8 216.4 397.3 216.1 396.3 216.0 395.7 215.8 394.8 215.5 393.8 215.4 393.3 215.1 392.3 214.9 391.8 214.5 390.9 214.0 390.3 213.5 390.0 212.5 389.8 211.5 389.8 211.0 389.7 210.1 389.3 209.5 388.8 209.0 388.3 208.7 387.8 208.4 387.3 208.0 386.3 207.8 385.8 207.6 384.8 207.5 384.3 207.4 383.3 207.3 382.3 207.4 381.3 207.5 380.3 207.6 379.8 207.8 378.8 208.0 378.3 208.4 377.3 208.7 376.8 209.1 376.3 209.5 375.7 210.0 375.2 210.5 374.8 211.1 374.3 211.9 373.8 212.5 373.5 213.0 373.1 213.5 372.8 214.0 372.3 214.5 371.5 214.7 370.8 215.0 369.8 215.1 369.3 215.4 368.3 215.5 367.8 215.9 366.8 216.2 366.3 216.5 365.8 217.0 365.2 217.5 364.7 218.0 364.2 218.5 363.8 219.3 363.3 220.0 362.9 220.5 362.7 221.5 362.3 222.0 362.2 223.0 362.0 224.0 361.9 225.0 361.8 226.0 361.9 227.0 362.0 228.0 362.3 228.5 362.4 229.4 362.8 230.0 363.1 230.5 363.4 231.2 363.8 231.8 364.3 232.3 364.8 232.8 365.3 233.1 365.8 233.5 366.5 233.8 367.3 234.0 368.1 234.1 368.8 234.0 369.8 234.0 370.3 233.8 371.3 233.7 372.3 233.7 373.3 233.8 374.3 234.0 375.0 234.3 375.8 234.5 376.4 234.8 377.3 235.0 378.3 235.0 378.8 235.0 379.3 234.8 380.3 234.5 381.1 234.1 381.8 233.8 382.3 233.4 382.8 233.0 383.4 232.5 384.1 232.1 384.8 231.8 385.3 231.5 386.0 231.2 386.8 231.0 387.5 230.8 388.3 230.5 389.3 230.4 389.8 230.2 390.8 230.0 391.6 229.8 392.3 229.6 393.3 229.4 393.8 229.2 394.8 229.0 395.3 228.7 396.3 228.5 396.8 228.2 397.8 228.0 398.3 227.7 399.3 227.5 399.8 227.2 400.8 227.0 401.3 226.7 402.3 226.5 402.9 226.3 403.8 226.0 404.6 225.8 405.3 225.5 406.1 225.3 406.8 225.0 407.4 224.6 408.3 224.3 408.8 224.0 409.4 223.5 410.0 223.0 410.6 222.5 410.9Z" fill="#8a86e0" filter="url(#spk1)"/></g><g filter="url(#sm)"><path d="M222.5 408.6 221.5 408.8 220.6 408.3 220.2 407.8 219.9 407.3 219.5 406.3 219.4 405.8 219.2 404.8 219.0 404.0 218.9 403.3 218.7 402.3 218.6 401.3 218.5 400.8 218.3 399.8 218.1 398.8 217.9 398.3 217.7 397.3 217.5 396.5 217.3 395.8 217.1 394.8 217.0 394.3 216.7 393.3 216.5 392.3 216.4 391.8 216.2 390.8 216.0 389.8 215.9 389.3 215.7 388.3 215.5 387.4 215.3 386.8 215.0 386.0 214.5 385.3 214.0 384.8 213.5 384.6 212.5 384.6 211.5 384.4 211.0 384.0 210.6 383.3 210.4 382.8 210.3 381.8 210.4 380.8 210.5 380.2 210.9 379.3 211.2 378.8 211.7 378.3 212.3 377.8 213.0 377.3 213.5 377.0 214.0 376.7 214.5 376.3 215.0 375.8 215.5 375.3 216.0 374.7 216.5 374.1 217.0 373.3 217.3 372.8 217.5 372.3 218.0 371.3 218.2 370.8 218.5 370.1 218.9 369.3 219.1 368.8 219.5 368.2 220.0 367.5 220.5 366.9 221.0 366.5 221.5 366.1 222.1 365.8 223.0 365.4 223.6 365.3 224.5 365.2 225.5 365.3 226.0 365.3 227.0 365.7 227.5 365.9 228.0 366.3 228.6 366.8 229.0 367.3 229.5 368.0 229.9 368.8 230.0 369.3 230.3 370.3 230.5 371.3 230.6 371.8 230.9 372.8 231.0 373.3 231.4 374.3 231.6 374.8 232.0 375.8 232.2 376.3 232.5 377.0 232.8 377.8 232.9 378.8 232.9 379.8 232.6 380.8 232.5 381.3 232.0 382.3 231.8 382.8 231.5 383.3 231.1 384.3 230.9 384.8 230.5 385.7 230.3 386.3 230.0 387.3 229.9 387.8 229.7 388.8 229.5 389.4 229.3 390.3 229.0 391.3 228.9 391.8 228.6 392.8 228.4 393.3 228.1 394.3 228.0 394.8 227.6 395.8 227.5 396.3 227.1 397.3 226.9 397.8 226.6 398.8 226.4 399.3 226.1 400.3 226.0 400.8 225.7 401.8 225.5 402.4 225.2 403.3 225.0 404.1 224.8 404.8 224.5 405.5 224.2 406.3 223.9 406.8 223.5 407.5 223.0 408.1 222.5 408.6Z" fill="#5a62dc" filter="url(#spk1)"/></g><g filter="url(#sm)"><path d="M222.5 403.0 221.6 402.8 221.3 402.3 221.0 401.5 220.8 400.8 220.6 399.8 220.5 399.3 220.2 398.3 220.0 397.5 219.8 396.8 219.5 395.9 219.3 395.3 219.0 394.3 218.9 393.8 218.6 392.8 218.5 392.3 218.2 391.3 218.0 390.3 217.9 389.8 217.7 388.8 217.6 387.8 217.5 387.3 217.3 386.3 217.2 385.3 217.0 384.3 216.9 383.8 216.7 382.8 216.6 381.8 216.5 380.8 216.5 380.3 216.5 379.8 216.7 378.8 217.0 378.0 217.3 377.3 217.5 376.8 218.0 376.0 218.4 375.3 218.8 374.8 219.1 374.3 219.5 373.7 220.0 373.1 220.5 372.5 221.0 371.9 221.5 371.5 222.0 371.1 222.5 370.8 223.5 370.4 224.5 370.3 225.5 370.6 226.0 370.9 226.6 371.3 227.1 371.8 227.5 372.3 228.0 373.0 228.5 373.8 228.7 374.3 229.0 374.8 229.5 375.8 229.7 376.3 230.0 377.0 230.3 377.8 230.5 378.8 230.5 379.8 230.4 380.8 230.2 381.8 230.0 382.3 229.7 383.3 229.5 383.9 229.2 384.8 229.0 385.6 228.8 386.3 228.5 387.3 228.4 387.8 228.1 388.8 228.0 389.3 227.7 390.3 227.5 390.8 227.2 391.8 227.0 392.3 226.6 393.3 226.4 393.8 226.0 394.7 225.7 395.3 225.5 395.9 225.1 396.8 224.9 397.3 224.5 398.3 224.3 398.8 224.0 399.7 223.8 400.3 223.5 401.1 223.2 401.8 223.0 402.3 222.5 403.0Z" fill="#f0c850" filter="url(#spk2)"/></g><g filter="url(#sm)"><path d="M222.5 398.9 222.0 398.8 221.5 398.2 221.1 397.3 220.9 396.8 220.5 396.0 220.2 395.3 220.0 394.8 219.6 393.8 219.5 393.3 219.1 392.3 219.0 391.8 218.7 390.8 218.5 389.8 218.4 389.3 218.2 388.3 218.0 387.3 218.0 386.8 217.8 385.8 217.7 384.8 217.5 383.8 217.4 383.3 217.3 382.3 217.2 381.3 217.2 380.3 217.3 379.3 217.5 378.7 217.8 377.8 218.0 377.3 218.5 376.4 218.9 375.8 219.2 375.3 219.5 374.8 220.0 374.2 220.5 373.6 221.0 373.1 221.5 372.6 222.0 372.3 222.9 371.8 223.5 371.6 224.5 371.6 225.3 371.8 226.0 372.2 226.5 372.6 227.0 373.1 227.5 373.7 227.9 374.3 228.2 374.8 228.5 375.3 229.0 376.3 229.2 376.8 229.5 377.6 229.7 378.3 229.8 379.3 229.8 380.3 229.7 381.3 229.5 382.0 229.3 382.8 229.0 383.8 228.9 384.3 228.6 385.3 228.4 385.8 228.2 386.8 228.0 387.3 227.7 388.3 227.5 389.0 227.2 389.8 227.0 390.5 226.7 391.3 226.5 391.8 226.1 392.8 225.9 393.3 225.5 394.1 225.1 394.8 224.9 395.3 224.5 396.0 224.1 396.8 223.8 397.3 223.5 397.8 223.0 398.5 222.5 398.9Z" fill="#eea860" filter="url(#spk)"/></g><path d="M223.0 395.1 222.0 395.0 221.5 394.6 221.0 393.9 220.7 393.3 220.4 392.8 220.0 391.9 219.8 391.3 219.5 390.4 219.3 389.8 219.1 388.8 219.0 388.3 218.8 387.3 218.6 386.3 218.5 385.6 218.4 384.8 218.2 383.8 218.1 382.8 218.0 381.8 218.0 380.8 218.1 379.8 218.3 378.8 218.5 378.3 218.9 377.3 219.2 376.8 219.5 376.3 220.0 375.6 220.5 374.9 221.0 374.4 221.5 374.0 222.0 373.6 222.5 373.3 223.5 373.0 224.5 373.0 225.4 373.3 226.0 373.7 226.5 374.1 227.0 374.6 227.5 375.3 227.8 375.8 228.1 376.3 228.5 377.2 228.7 377.8 228.9 378.8 229.0 379.3 229.0 380.3 229.0 380.8 228.8 381.8 228.6 382.8 228.5 383.3 228.2 384.3 228.0 385.0 227.8 385.8 227.5 386.7 227.3 387.3 227.0 388.3 226.8 388.8 226.5 389.7 226.2 390.3 226.0 390.8 225.5 391.8 225.3 392.3 225.0 392.8 224.5 393.6 224.0 394.2 223.5 394.7 223.0 395.1Z" fill="#2233cc" filter="url(#sm)"/><path d="M223.0 390.4 222.4 390.3 221.7 389.8 221.3 389.3 221.0 388.7 220.6 387.8 220.5 387.3 220.2 386.3 220.0 385.5 219.9 384.8 219.7 383.8 219.6 382.8 219.6 381.8 219.6 380.8 219.7 379.8 220.0 378.9 220.2 378.3 220.5 377.8 221.0 377.0 221.5 376.5 222.0 376.1 222.5 375.7 223.5 375.4 224.5 375.5 225.2 375.8 225.9 376.3 226.3 376.8 226.6 377.3 227.0 378.0 227.3 378.8 227.4 379.8 227.4 380.8 227.3 381.8 227.1 382.8 227.0 383.4 226.7 384.3 226.5 385.1 226.3 385.8 226.0 386.5 225.7 387.3 225.4 387.8 225.0 388.6 224.5 389.3 224.1 389.8 223.5 390.2 223.0 390.4Z" fill="#2ccc4c" filter="url(#sm)"/><path d="M223.5 386.1 222.5 385.9 222.0 385.3 221.8 384.8 221.5 384.0 221.4 383.3 221.2 382.3 221.2 381.3 221.4 380.3 221.5 379.8 222.0 378.9 222.5 378.4 223.0 378.0 224.0 377.9 224.7 378.3 225.2 378.8 225.5 379.4 225.7 380.3 225.7 381.3 225.6 382.3 225.5 382.8 225.1 383.8 224.9 384.3 224.5 385.1 224.0 385.8 223.5 386.1Z" fill="#e4201a" filter="url(#sm)"/></g>
<clipPath id="cB7"><rect x="299.0" y="322.3" width="97.0" height="90.0"/></clipPath><g clip-path="url(#cB7)"><g filter="url(#spk)" fill="#c0a0e8"><path d="M346.5 412.3 344.0 412.4 341.5 412.5 339.0 412.6 336.5 412.6 334.0 412.6 331.5 412.6 329.0 412.6 326.5 412.6 324.0 412.6 321.5 412.6 319.0 412.6 316.5 412.6 314.0 412.5 311.5 412.5 309.0 412.4 307.3 411.8 306.0 410.3 305.0 409.1 304.0 407.6 303.0 405.9 302.2 404.3 301.5 402.6 300.9 400.8 300.4 398.8 300.0 396.8 299.7 394.3 299.7 391.8 299.9 389.3 300.2 387.3 300.6 385.3 301.2 383.3 302.0 381.3 302.6 379.8 303.5 378.1 304.5 376.3 305.5 374.8 306.5 373.3 307.5 372.0 308.5 370.7 309.7 369.3 311.0 367.8 312.0 366.7 313.3 365.3 314.5 364.0 315.7 362.8 317.0 361.5 318.2 360.3 319.5 359.1 320.9 357.8 322.0 356.8 323.5 355.6 325.0 354.5 326.5 353.4 328.0 352.5 329.5 351.7 331.5 350.8 333.0 350.2 335.0 349.6 337.0 349.1 339.2 348.8 341.5 348.7 344.0 348.8 346.0 349.0 348.0 349.5 350.0 350.1 351.8 350.8 353.5 351.6 355.0 352.5 356.5 353.5 358.0 354.7 359.1 355.8 360.5 357.3 361.5 358.5 362.5 360.0 363.5 361.7 364.3 363.3 365.0 365.1 365.5 366.8 366.0 368.8 366.4 371.3 366.5 373.8 366.3 376.3 366.0 378.7 365.6 380.8 365.0 382.8 364.5 384.3 363.7 386.3 363.0 387.9 362.1 389.8 361.4 391.3 360.5 392.9 359.5 394.8 358.6 396.3 357.8 397.8 356.9 399.3 356.0 400.8 355.0 402.4 354.0 403.9 353.0 405.3 351.9 406.8 350.7 408.3 349.5 409.7 348.5 410.8 347.0 412.2Z" fill-opacity="0.193"/><path d="M342.0 412.3 339.5 412.4 337.0 412.5 334.5 412.5 332.0 412.5 329.5 412.5 327.0 412.5 324.5 412.5 322.0 412.5 319.5 412.5 317.0 412.4 314.5 412.4 312.2 412.3 311.0 411.3 309.5 409.9 308.5 408.8 307.3 407.3 306.3 405.8 305.5 404.3 304.5 402.3 303.9 400.8 303.4 398.8 302.9 396.8 302.6 394.3 302.6 391.8 302.8 389.3 303.1 387.3 303.6 385.3 304.3 383.3 305.0 381.6 305.9 379.8 306.7 378.3 307.6 376.8 308.7 375.3 309.8 373.8 311.0 372.3 312.0 371.2 313.2 369.8 314.5 368.5 315.7 367.3 317.0 366.0 318.2 364.8 319.5 363.6 320.9 362.3 322.0 361.3 323.5 360.1 325.0 358.9 326.4 357.8 327.9 356.8 329.5 355.9 331.0 355.1 332.7 354.3 334.5 353.6 336.5 353.1 338.5 352.7 341.0 352.5 343.5 352.6 345.5 352.9 347.5 353.3 349.5 354.0 351.2 354.8 353.0 355.8 354.4 356.8 355.6 357.8 357.0 359.2 358.0 360.3 359.1 361.8 360.0 363.3 361.0 365.3 361.5 366.8 362.1 368.8 362.5 371.0 362.7 373.3 362.6 375.8 362.4 377.8 362.0 380.0 361.5 381.9 360.9 383.8 360.2 385.8 359.5 387.4 358.6 389.3 357.9 390.8 357.0 392.6 356.1 394.3 355.3 395.8 354.5 397.3 353.5 399.1 352.5 400.8 351.5 402.3 350.5 403.8 349.5 405.2 348.5 406.4 347.3 407.8 346.0 409.2 344.8 410.3 343.5 411.4 342.0 412.3Z" fill-opacity="0.193"/><path d="M335.5 412.3 333.0 412.4 330.5 412.4 328.0 412.4 325.5 412.4 323.0 412.4 320.5 412.3 318.5 412.2 316.7 411.3 315.1 410.3 313.8 409.3 312.5 408.2 311.2 406.8 310.0 405.3 309.0 403.8 308.2 402.3 307.5 400.8 306.8 398.8 306.3 396.8 306.0 394.8 305.9 392.3 306.0 390.3 306.4 387.8 306.9 385.8 307.5 384.1 308.3 382.3 309.0 380.8 310.0 379.1 311.0 377.6 312.0 376.3 313.2 374.8 314.5 373.4 315.5 372.3 317.0 370.8 318.1 369.8 319.5 368.5 320.9 367.3 322.0 366.3 323.5 365.1 325.0 363.9 326.4 362.8 327.9 361.8 329.4 360.8 331.0 359.9 332.5 359.1 334.5 358.3 336.2 357.8 338.5 357.3 340.5 357.1 343.0 357.2 345.0 357.5 347.0 358.1 348.7 358.8 350.5 359.8 351.9 360.8 353.0 361.8 354.4 363.3 355.5 364.8 356.3 366.3 357.0 367.9 357.6 369.8 358.0 371.8 358.2 374.3 358.1 376.8 357.9 378.8 357.5 380.8 356.9 382.8 356.2 384.8 355.5 386.8 354.9 388.3 354.0 390.3 353.3 391.8 352.5 393.6 351.6 395.3 350.9 396.8 350.0 398.4 349.0 400.1 348.0 401.6 347.0 403.0 346.0 404.3 344.7 405.8 343.5 407.1 342.2 408.3 340.9 409.3 339.5 410.3 337.8 411.3 336.0 412.2Z" fill-opacity="0.193"/><path d="M330.5 409.8 328.0 410.1 325.5 410.0 323.5 409.7 321.5 409.1 319.5 408.3 318.0 407.5 316.5 406.4 315.2 405.3 314.0 404.0 313.0 402.7 312.0 401.1 311.1 399.3 310.5 397.5 310.0 395.3 309.8 393.3 309.9 390.8 310.1 388.8 310.6 386.8 311.4 384.8 312.0 383.3 313.0 381.6 314.0 380.1 315.0 378.7 316.2 377.3 317.5 375.9 318.7 374.8 320.0 373.6 321.5 372.3 322.8 371.3 324.1 370.3 325.5 369.3 327.0 368.2 328.5 367.3 330.1 366.3 332.0 365.3 333.5 364.6 335.5 363.9 337.5 363.4 339.5 363.1 342.0 363.2 344.0 363.6 345.7 364.3 347.4 365.3 348.6 366.3 350.0 367.8 350.9 369.3 351.6 370.8 352.2 372.8 352.5 374.8 352.5 377.3 352.4 379.3 352.0 381.4 351.5 383.5 351.0 385.3 350.4 387.3 349.7 389.3 349.0 391.0 348.3 392.8 347.5 394.5 346.6 396.3 345.8 397.8 344.9 399.3 343.9 400.8 342.7 402.3 341.5 403.7 340.3 404.8 339.0 405.9 337.5 407.0 336.0 407.9 334.0 408.8 332.5 409.3 330.5 409.8Z" fill-opacity="0.193"/><path d="M329.5 404.9 327.0 405.0 324.9 404.8 323.0 404.3 321.0 403.3 319.5 402.3 318.4 401.3 317.2 399.8 316.2 398.3 315.5 396.6 315.0 394.6 314.8 392.3 315.0 389.8 315.5 387.8 316.1 386.3 317.0 384.4 318.0 382.9 319.0 381.6 320.2 380.3 321.5 379.1 323.0 377.9 324.5 376.8 326.0 375.8 327.5 375.0 329.0 374.2 331.0 373.4 332.6 372.8 334.6 372.3 337.0 372.1 339.1 372.3 341.0 373.1 342.5 374.3 343.5 375.6 344.2 377.3 344.7 379.3 344.8 381.8 344.7 384.3 344.4 386.3 344.0 388.3 343.4 390.3 342.8 392.3 342.0 394.2 341.2 395.8 340.3 397.3 339.2 398.8 338.0 400.2 336.9 401.3 335.5 402.4 334.0 403.3 332.0 404.2 330.0 404.8Z" fill-opacity="0.193"/></g><g filter="url(#sm)"><path d="M353.0 406.8 352.0 407.0 351.0 406.9 350.5 406.7 349.8 406.3 349.1 405.8 348.6 405.3 348.2 404.8 347.8 404.3 347.5 403.8 347.0 403.0 346.7 402.3 346.4 401.8 346.1 400.8 345.9 400.3 345.6 399.3 345.4 398.8 345.1 397.8 345.0 397.3 344.7 396.3 344.5 395.8 344.1 394.8 343.9 394.3 343.5 393.6 343.0 392.8 342.7 392.3 342.3 391.8 341.9 391.3 341.4 390.8 340.9 390.3 340.4 389.8 339.8 389.3 339.2 388.8 338.5 388.3 338.0 388.0 337.5 387.6 337.0 387.3 336.3 386.8 335.5 386.3 335.0 385.9 334.5 385.6 334.0 385.2 333.5 384.8 332.9 384.3 332.4 383.8 331.9 383.3 331.4 382.8 330.9 382.3 330.5 381.8 330.0 381.2 329.5 380.5 329.0 379.8 328.7 379.3 328.4 378.8 328.0 378.2 327.5 377.3 327.3 376.8 327.0 376.2 326.6 375.3 326.4 374.8 326.0 373.8 325.8 373.3 325.5 372.3 325.3 371.8 325.0 370.9 324.8 370.3 324.5 369.5 324.2 368.8 324.0 368.2 323.7 367.3 323.5 366.8 323.1 365.8 322.9 365.3 322.6 364.3 322.5 363.8 322.2 362.8 322.1 361.8 322.1 360.8 322.1 359.8 322.3 358.8 322.5 358.2 322.9 357.3 323.1 356.8 323.5 356.2 324.0 355.5 324.5 355.0 325.0 354.5 325.5 354.1 326.0 353.8 326.9 353.3 327.5 353.1 328.2 352.8 329.0 352.6 330.0 352.3 330.5 352.2 331.5 352.1 332.5 351.9 333.5 351.8 334.0 351.8 335.0 351.7 336.0 351.6 337.0 351.5 338.0 351.4 339.0 351.4 340.0 351.4 341.0 351.4 342.0 351.5 343.0 351.6 344.0 351.8 344.5 351.9 345.5 352.1 346.0 352.3 347.0 352.6 347.5 352.8 348.5 353.1 349.3 353.3 350.0 353.4 350.7 353.3 351.5 353.0 352.0 352.8 352.8 352.3 353.5 351.8 354.0 351.4 354.5 351.0 355.0 350.6 355.5 350.2 356.1 349.8 356.7 349.3 357.5 348.8 358.0 348.4 358.5 348.1 359.1 347.8 360.0 347.4 360.5 347.2 361.5 346.9 362.1 346.8 363.0 346.7 363.7 346.8 364.5 347.0 365.1 347.3 365.8 347.8 366.3 348.3 366.6 348.8 367.0 349.6 367.3 350.3 367.5 351.3 367.5 351.8 367.6 352.8 367.6 353.8 367.5 354.6 367.4 355.3 367.3 356.3 367.0 357.3 366.9 357.8 366.6 358.8 366.4 359.3 366.1 360.3 365.9 360.8 365.5 361.8 365.3 362.3 365.0 363.1 364.7 363.8 364.5 364.3 364.0 365.3 363.8 365.8 363.5 366.7 363.3 367.3 363.2 368.3 363.2 369.3 363.5 370.1 363.9 370.8 364.2 371.3 364.6 371.8 365.0 372.4 365.5 373.2 365.9 373.8 366.2 374.3 366.5 374.8 367.0 375.8 367.2 376.3 367.5 377.1 367.7 377.8 368.0 378.8 368.1 379.3 368.2 380.3 368.3 381.3 368.3 382.3 368.2 383.3 368.1 384.3 368.0 384.8 367.7 385.8 367.5 386.4 367.1 387.3 366.9 387.8 366.5 388.5 366.0 389.3 365.6 389.8 365.3 390.3 364.8 390.8 364.4 391.3 363.9 391.8 363.3 392.3 362.8 392.8 362.2 393.3 361.6 393.8 361.0 394.3 360.5 394.8 360.0 395.3 359.7 395.8 359.3 396.3 359.0 396.9 358.6 397.8 358.4 398.3 358.1 399.3 358.0 399.8 357.7 400.8 357.5 401.3 357.1 402.3 356.9 402.8 356.5 403.5 356.0 404.3 355.7 404.8 355.3 405.3 354.8 405.8 354.1 406.3 353.5 406.6 353.0 406.8Z" fill="#9680e0" filter="url(#spk1)"/></g><g filter="url(#sm)"><path d="M352.5 397.5 351.5 397.5 351.0 397.1 350.5 396.4 350.1 395.8 349.9 395.3 349.5 394.6 349.1 393.8 348.8 393.3 348.5 392.8 348.0 392.0 347.5 391.3 347.2 390.8 346.8 390.3 346.5 389.8 346.0 389.1 345.5 388.3 345.2 387.8 344.9 387.3 344.5 386.7 344.0 385.8 343.7 385.3 343.3 384.8 343.0 384.3 342.5 383.8 342.0 383.3 341.3 382.8 340.5 382.4 340.0 382.2 339.0 381.8 338.5 381.6 337.7 381.3 337.0 381.0 336.5 380.7 335.7 380.3 335.0 379.9 334.5 379.5 334.0 379.1 333.5 378.7 333.0 378.2 332.5 377.7 332.0 377.1 331.5 376.4 331.1 375.8 330.8 375.3 330.5 374.8 330.0 373.8 329.8 373.3 329.5 372.6 329.2 371.8 329.0 371.1 328.8 370.3 328.6 369.3 328.5 368.8 328.3 367.8 328.2 366.8 328.1 365.8 328.1 364.8 328.2 363.8 328.3 362.8 328.5 361.9 328.7 361.3 329.0 360.6 329.4 359.8 329.8 359.3 330.2 358.8 330.8 358.3 331.4 357.8 332.0 357.4 332.5 357.1 333.0 356.8 334.0 356.3 334.5 356.1 335.4 355.8 336.0 355.6 337.0 355.4 337.5 355.3 338.5 355.1 339.5 355.0 340.5 355.0 341.5 355.0 342.5 355.2 343.2 355.3 344.0 355.5 344.9 355.8 345.5 356.0 346.1 356.3 347.0 356.7 347.5 356.9 348.3 357.3 349.0 357.5 350.0 357.6 351.0 357.5 351.5 357.3 352.5 356.8 353.0 356.5 353.5 356.1 354.0 355.8 354.6 355.3 355.2 354.8 355.9 354.3 356.5 353.8 357.0 353.5 357.5 353.1 358.0 352.8 359.0 352.3 359.5 352.1 360.5 351.9 361.5 351.9 362.5 352.3 363.0 352.8 363.3 353.3 363.5 353.9 363.7 354.8 363.7 355.8 363.6 356.8 363.5 357.3 363.3 358.3 363.0 359.2 362.8 359.8 362.5 360.6 362.2 361.3 362.0 361.8 361.5 362.8 361.2 363.3 361.0 363.8 360.5 364.7 360.2 365.3 360.0 365.8 359.5 366.7 359.2 367.3 359.0 367.8 358.6 368.8 358.5 369.3 358.4 370.3 358.5 370.9 358.9 371.8 359.4 372.3 360.0 372.8 360.5 373.3 361.0 373.7 361.5 374.1 362.0 374.6 362.5 375.1 363.0 375.7 363.4 376.3 363.8 376.8 364.0 377.3 364.5 378.3 364.7 378.8 365.0 379.8 365.1 380.3 365.2 381.3 365.3 382.3 365.2 383.3 365.0 384.3 364.9 384.8 364.5 385.8 364.3 386.3 364.0 386.9 363.5 387.7 363.1 388.3 362.7 388.8 362.2 389.3 361.7 389.8 361.1 390.3 360.5 390.8 360.0 391.2 359.5 391.5 359.0 391.8 358.3 392.3 357.5 392.8 357.0 393.2 356.5 393.5 356.0 393.9 355.5 394.4 355.0 394.9 354.5 395.4 354.0 396.0 353.5 396.7 353.0 397.2 352.5 397.5Z" fill="#f0c850" filter="url(#spk4)"/></g><g filter="url(#sm)"><path d="M354.0 393.3 353.0 393.6 352.0 393.5 351.4 393.3 350.7 392.8 350.1 392.3 349.6 391.8 349.1 391.3 348.7 390.8 348.3 390.3 347.9 389.8 347.5 389.3 347.0 388.6 346.5 387.9 346.1 387.3 345.8 386.8 345.5 386.2 345.0 385.3 344.8 384.8 344.5 384.3 344.0 383.4 343.5 382.8 343.0 382.3 342.5 381.9 342.0 381.6 341.3 381.3 340.5 381.0 339.8 380.8 339.0 380.6 338.3 380.3 337.5 380.0 337.0 379.8 336.1 379.3 335.5 378.9 335.0 378.6 334.5 378.2 334.0 377.8 333.5 377.3 333.0 376.8 332.5 376.2 332.0 375.5 331.6 374.8 331.3 374.3 331.0 373.7 330.6 372.8 330.4 372.3 330.0 371.3 329.9 370.8 329.7 369.8 329.5 368.9 329.4 368.3 329.3 367.3 329.3 366.3 329.3 365.3 329.4 364.3 329.5 363.8 329.7 362.8 330.0 362.1 330.3 361.3 330.6 360.8 331.0 360.2 331.5 359.6 332.0 359.1 332.5 358.7 333.0 358.3 333.8 357.8 334.5 357.4 335.0 357.2 335.9 356.8 336.5 356.6 337.5 356.3 338.0 356.2 339.0 356.0 340.0 356.0 341.0 356.0 342.0 356.1 343.0 356.2 343.5 356.4 344.5 356.7 345.0 356.9 346.0 357.3 346.5 357.6 347.0 357.8 348.0 358.3 348.5 358.5 349.5 358.8 350.5 358.8 351.5 358.5 352.0 358.3 352.8 357.8 353.5 357.4 354.0 357.0 354.5 356.7 355.0 356.3 355.7 355.8 356.4 355.3 357.0 354.9 357.5 354.6 358.2 354.3 359.0 354.0 359.9 353.8 360.2 353.8 361.0 354.0 361.5 354.4 362.0 355.2 362.1 355.8 362.2 356.8 362.1 357.8 362.0 358.3 361.7 359.3 361.5 360.1 361.2 360.8 361.0 361.4 360.6 362.3 360.4 362.8 360.0 363.6 359.7 364.3 359.4 364.8 359.0 365.6 358.7 366.3 358.4 366.8 358.0 367.8 357.8 368.3 357.5 369.1 357.3 369.8 357.2 370.8 357.4 371.8 357.7 372.3 358.2 372.8 358.8 373.3 359.5 373.8 360.0 374.1 360.5 374.5 361.0 375.0 361.5 375.4 362.0 376.0 362.5 376.6 363.0 377.3 363.3 377.8 363.5 378.3 363.9 379.3 364.1 379.8 364.3 380.8 364.4 381.8 364.3 382.8 364.2 383.8 364.0 384.7 363.8 385.3 363.5 386.0 363.1 386.8 362.8 387.3 362.4 387.8 362.0 388.3 361.5 388.8 361.0 389.3 360.4 389.8 359.7 390.3 359.0 390.8 358.5 391.1 358.0 391.3 357.2 391.8 356.5 392.2 356.0 392.4 355.2 392.8 354.5 393.1 354.0 393.3Z" fill="#eea860" filter="url(#spk)"/></g><path d="M355.5 389.4 354.5 389.6 353.5 389.5 352.5 389.3 352.0 389.2 351.3 388.8 350.6 388.3 350.0 387.8 349.5 387.3 349.1 386.8 348.8 386.3 348.5 385.8 348.0 384.9 347.8 384.3 347.5 383.6 347.3 382.8 347.0 381.8 346.9 381.3 346.6 380.3 346.4 379.8 346.0 379.3 345.4 378.8 344.5 378.5 343.6 378.3 343.0 378.2 342.0 378.1 341.0 378.0 340.0 377.8 339.5 377.7 338.5 377.4 338.0 377.2 337.2 376.8 336.5 376.4 336.0 376.0 335.5 375.6 335.0 375.2 334.5 374.6 334.0 374.0 333.6 373.3 333.3 372.8 333.0 372.2 332.6 371.3 332.4 370.8 332.2 369.8 332.0 368.8 332.0 368.3 332.0 367.3 332.0 366.5 332.1 365.8 332.3 364.8 332.5 364.2 332.9 363.3 333.1 362.8 333.5 362.2 334.0 361.5 334.5 361.0 335.0 360.5 335.5 360.2 336.1 359.8 337.0 359.3 337.5 359.1 338.5 358.8 339.0 358.7 340.0 358.6 341.0 358.5 342.0 358.6 342.7 358.8 343.5 359.0 344.2 359.3 345.0 359.7 345.5 360.0 346.1 360.3 346.9 360.8 347.5 361.2 348.0 361.5 348.8 361.8 349.5 361.9 350.5 361.9 351.3 361.8 352.0 361.6 352.8 361.3 353.5 361.1 354.4 360.8 355.0 360.7 356.0 360.8 356.5 361.2 356.7 361.8 356.8 362.8 356.6 363.8 356.5 364.3 356.2 365.3 356.0 365.9 355.6 366.8 355.4 367.3 355.0 368.3 354.8 368.8 354.5 369.5 354.2 370.3 354.0 370.8 353.7 371.8 353.6 372.8 354.0 373.8 354.5 374.3 355.0 374.6 355.5 374.8 356.5 375.3 357.0 375.5 357.6 375.8 358.5 376.3 359.0 376.7 359.5 377.1 360.0 377.6 360.5 378.1 360.9 378.8 361.2 379.3 361.5 380.0 361.7 380.8 361.9 381.8 361.9 382.8 361.7 383.8 361.5 384.4 361.1 385.3 360.8 385.8 360.5 386.3 360.0 386.9 359.5 387.4 359.0 387.8 358.3 388.3 357.5 388.7 357.0 389.0 356.0 389.3 355.5 389.4Z" fill="#2233cc" filter="url(#sm)"/><path d="M344.0 374.9 343.0 375.1 342.0 375.2 341.0 375.1 340.0 375.0 339.3 374.8 338.5 374.5 338.0 374.2 337.3 373.8 336.7 373.3 336.3 372.8 335.9 372.3 335.5 371.7 335.0 370.8 334.8 370.3 334.6 369.3 334.5 368.7 334.4 367.8 334.5 367.0 334.6 366.3 334.9 365.3 335.1 364.8 335.5 364.1 336.0 363.4 336.5 362.8 337.0 362.4 337.5 362.1 338.0 361.8 339.0 361.4 339.5 361.3 340.5 361.1 341.5 361.2 342.1 361.3 343.0 361.6 343.5 361.8 344.4 362.3 345.0 362.7 345.5 363.1 346.0 363.6 346.5 364.0 347.0 364.5 347.5 364.9 348.0 365.3 348.8 365.8 349.5 366.2 350.0 366.5 350.5 366.9 350.9 367.8 350.7 368.8 350.5 369.5 350.1 370.3 349.8 370.8 349.5 371.3 349.0 371.9 348.5 372.4 348.0 372.9 347.5 373.3 346.7 373.8 346.0 374.2 345.5 374.4 344.5 374.7 344.0 374.9ZM355.5 386.3 354.5 386.4 353.6 386.3 353.0 386.1 352.5 385.8 351.9 385.3 351.4 384.8 351.0 384.1 350.7 383.3 350.5 382.3 350.5 381.8 350.5 381.3 350.8 380.3 351.0 379.8 351.5 379.2 352.0 378.8 352.9 378.3 353.5 378.1 354.5 378.1 355.5 378.2 356.0 378.3 357.0 378.8 357.5 379.2 358.0 379.7 358.5 380.3 358.7 380.8 359.0 381.8 358.9 382.8 358.7 383.8 358.4 384.3 358.0 384.9 357.5 385.4 356.9 385.8 356.0 386.2 355.5 386.3Z" fill="#2ccc4c" filter="url(#sm)"/><path d="M342.5 371.9 341.5 372.1 340.5 372.0 339.6 371.8 339.0 371.5 338.5 371.1 338.0 370.5 337.6 369.8 337.4 369.3 337.2 368.3 337.2 367.3 337.5 366.4 337.8 365.8 338.2 365.3 338.7 364.8 339.5 364.3 340.0 364.2 341.0 364.1 342.0 364.3 342.5 364.5 343.0 364.8 343.6 365.3 344.0 365.8 344.5 366.6 344.8 367.3 345.0 368.2 345.0 368.8 344.9 369.3 344.5 370.3 344.1 370.8 343.5 371.3 343.0 371.6 342.5 371.9Z" fill="#e4201a" filter="url(#sm)"/></g>
<clipPath id="cB8"><rect x="415.0" y="322.3" width="97.0" height="90.0"/></clipPath><g clip-path="url(#cB8)"><g filter="url(#spk)" fill="#c8a8e8"><path d="M462.5 412.3 460.0 412.4 457.5 412.5 455.0 412.6 452.5 412.6 450.0 412.6 447.5 412.6 445.0 412.6 442.5 412.6 440.0 412.6 437.5 412.6 435.0 412.6 432.5 412.6 430.0 412.5 427.5 412.5 425.0 412.4 423.3 411.8 422.0 410.3 421.0 409.1 420.0 407.6 419.0 405.9 418.2 404.3 417.5 402.6 416.9 400.8 416.4 398.8 416.0 396.8 415.7 394.3 415.7 391.8 415.9 389.3 416.2 387.3 416.6 385.3 417.2 383.3 418.0 381.3 418.6 379.8 419.5 378.1 420.5 376.3 421.5 374.8 422.5 373.3 423.5 372.0 424.5 370.7 425.7 369.3 427.0 367.8 428.0 366.7 429.3 365.3 430.5 364.0 431.7 362.8 433.0 361.5 434.2 360.3 435.5 359.1 436.9 357.8 438.0 356.8 439.5 355.6 441.0 354.5 442.5 353.4 444.0 352.5 445.5 351.7 447.5 350.8 449.0 350.2 451.0 349.6 453.0 349.1 455.2 348.8 457.5 348.7 460.0 348.8 462.0 349.0 464.0 349.5 466.0 350.1 467.8 350.8 469.5 351.6 471.0 352.5 472.5 353.5 474.0 354.7 475.1 355.8 476.5 357.3 477.5 358.5 478.5 360.0 479.5 361.7 480.3 363.3 481.0 365.1 481.5 366.8 482.0 368.8 482.4 371.3 482.5 373.8 482.3 376.3 482.0 378.7 481.6 380.8 481.0 382.8 480.5 384.3 479.7 386.3 479.0 387.9 478.1 389.8 477.4 391.3 476.5 392.9 475.5 394.8 474.6 396.3 473.8 397.8 472.9 399.3 472.0 400.8 471.0 402.4 470.0 403.9 469.0 405.3 467.9 406.8 466.7 408.3 465.5 409.7 464.5 410.8 463.0 412.2Z" fill-opacity="0.179"/><path d="M458.0 412.3 455.5 412.4 453.0 412.5 450.5 412.5 448.0 412.5 445.5 412.5 443.0 412.5 440.5 412.5 438.0 412.5 435.5 412.5 433.0 412.4 430.5 412.4 428.2 412.3 427.0 411.3 425.5 409.9 424.5 408.8 423.3 407.3 422.3 405.8 421.5 404.3 420.5 402.3 419.9 400.8 419.4 398.8 418.9 396.8 418.6 394.3 418.6 391.8 418.8 389.3 419.1 387.3 419.6 385.3 420.3 383.3 421.0 381.6 421.9 379.8 422.7 378.3 423.6 376.8 424.7 375.3 425.8 373.8 427.0 372.3 428.0 371.2 429.2 369.8 430.5 368.5 431.7 367.3 433.0 366.0 434.2 364.8 435.5 363.6 436.9 362.3 438.0 361.3 439.5 360.1 441.0 358.9 442.4 357.8 443.9 356.8 445.5 355.9 447.0 355.1 448.7 354.3 450.5 353.6 452.5 353.1 454.5 352.7 457.0 352.5 459.5 352.6 461.5 352.9 463.5 353.3 465.5 354.0 467.2 354.8 469.0 355.8 470.4 356.8 471.6 357.8 473.0 359.2 474.0 360.3 475.1 361.8 476.0 363.3 477.0 365.3 477.5 366.8 478.1 368.8 478.5 371.0 478.7 373.3 478.6 375.8 478.4 377.8 478.0 380.0 477.5 381.9 476.9 383.8 476.2 385.8 475.5 387.4 474.6 389.3 473.9 390.8 473.0 392.6 472.1 394.3 471.3 395.8 470.5 397.3 469.5 399.1 468.5 400.8 467.5 402.3 466.5 403.8 465.5 405.2 464.5 406.4 463.3 407.8 462.0 409.2 460.8 410.3 459.5 411.4 458.0 412.3Z" fill-opacity="0.179"/><path d="M451.5 412.3 449.0 412.4 446.5 412.4 444.0 412.4 441.5 412.4 439.0 412.4 436.5 412.3 434.5 412.2 432.7 411.3 431.1 410.3 429.8 409.3 428.5 408.2 427.2 406.8 426.0 405.3 425.0 403.8 424.2 402.3 423.5 400.8 422.8 398.8 422.3 396.8 422.0 394.8 421.9 392.3 422.0 390.3 422.4 387.8 422.9 385.8 423.5 384.1 424.3 382.3 425.0 380.8 426.0 379.1 427.0 377.6 428.0 376.3 429.2 374.8 430.5 373.4 431.5 372.3 433.0 370.8 434.1 369.8 435.5 368.5 436.9 367.3 438.0 366.3 439.5 365.1 441.0 363.9 442.4 362.8 443.9 361.8 445.4 360.8 447.0 359.9 448.5 359.1 450.5 358.3 452.2 357.8 454.5 357.3 456.5 357.1 459.0 357.2 461.0 357.5 463.0 358.1 464.7 358.8 466.5 359.8 467.9 360.8 469.0 361.8 470.4 363.3 471.5 364.8 472.3 366.3 473.0 367.9 473.6 369.8 474.0 371.8 474.2 374.3 474.1 376.8 473.9 378.8 473.5 380.8 472.9 382.8 472.2 384.8 471.5 386.8 470.9 388.3 470.0 390.3 469.3 391.8 468.5 393.6 467.6 395.3 466.9 396.8 466.0 398.4 465.0 400.1 464.0 401.6 463.0 403.0 462.0 404.3 460.7 405.8 459.5 407.1 458.2 408.3 456.9 409.3 455.5 410.3 453.8 411.3 452.0 412.2Z" fill-opacity="0.179"/><path d="M446.5 409.8 444.0 410.1 441.5 410.0 439.5 409.7 437.5 409.1 435.5 408.3 434.0 407.5 432.5 406.4 431.2 405.3 430.0 404.0 429.0 402.7 428.0 401.1 427.1 399.3 426.5 397.5 426.0 395.3 425.8 393.3 425.9 390.8 426.1 388.8 426.6 386.8 427.4 384.8 428.0 383.3 429.0 381.6 430.0 380.1 431.0 378.7 432.2 377.3 433.5 375.9 434.7 374.8 436.0 373.6 437.5 372.3 438.8 371.3 440.1 370.3 441.5 369.3 443.0 368.2 444.5 367.3 446.1 366.3 448.0 365.3 449.5 364.6 451.5 363.9 453.5 363.4 455.5 363.1 458.0 363.2 460.0 363.6 461.7 364.3 463.4 365.3 464.6 366.3 466.0 367.8 466.9 369.3 467.6 370.8 468.2 372.8 468.5 374.8 468.5 377.3 468.4 379.3 468.0 381.4 467.5 383.5 467.0 385.3 466.4 387.3 465.7 389.3 465.0 391.0 464.3 392.8 463.5 394.5 462.6 396.3 461.8 397.8 460.9 399.3 459.9 400.8 458.7 402.3 457.5 403.7 456.3 404.8 455.0 405.9 453.5 407.0 452.0 407.9 450.0 408.8 448.5 409.3 446.5 409.8Z" fill-opacity="0.179"/><path d="M445.5 404.9 443.0 405.0 440.9 404.8 439.0 404.3 437.0 403.3 435.5 402.3 434.4 401.3 433.2 399.8 432.2 398.3 431.5 396.6 431.0 394.6 430.8 392.3 431.0 389.8 431.5 387.8 432.1 386.3 433.0 384.4 434.0 382.9 435.0 381.6 436.2 380.3 437.5 379.1 439.0 377.9 440.5 376.8 442.0 375.8 443.5 375.0 445.0 374.2 447.0 373.4 448.6 372.8 450.6 372.3 453.0 372.1 455.1 372.3 457.0 373.1 458.5 374.3 459.5 375.6 460.2 377.3 460.7 379.3 460.8 381.8 460.7 384.3 460.4 386.3 460.0 388.3 459.4 390.3 458.8 392.3 458.0 394.2 457.2 395.8 456.3 397.3 455.2 398.8 454.0 400.2 452.9 401.3 451.5 402.4 450.0 403.3 448.0 404.2 446.0 404.8Z" fill-opacity="0.179"/></g><g filter="url(#sm)"><path d="M469.5 403.4 468.5 403.7 467.5 403.7 466.5 403.5 466.0 403.3 465.2 402.8 464.6 402.3 464.0 401.8 463.6 401.3 463.2 400.8 462.9 400.3 462.5 399.6 462.1 398.8 461.8 398.3 461.5 397.6 461.2 396.8 461.0 396.3 460.6 395.3 460.4 394.8 460.0 393.8 459.8 393.3 459.5 392.7 459.0 391.8 458.7 391.3 458.3 390.8 457.9 390.3 457.4 389.8 456.9 389.3 456.2 388.8 455.5 388.3 455.0 388.1 454.5 387.8 453.7 387.3 453.0 386.9 452.5 386.6 452.0 386.3 451.3 385.8 450.6 385.3 450.0 384.8 449.5 384.4 449.0 384.0 448.5 383.5 448.0 382.9 447.5 382.4 447.0 381.8 446.7 381.3 446.3 380.8 446.0 380.3 445.5 379.5 445.1 378.8 444.8 378.3 444.5 377.6 444.2 376.8 444.0 376.3 443.6 375.3 443.5 374.8 443.2 373.8 443.0 373.1 442.8 372.3 442.5 371.3 442.4 370.8 442.1 369.8 442.0 369.3 441.7 368.3 441.5 367.4 441.3 366.8 441.1 365.8 441.0 365.3 440.8 364.3 440.8 363.3 440.8 362.3 441.0 361.3 441.1 360.8 441.4 359.8 441.7 359.3 442.0 358.8 442.5 358.1 443.0 357.5 443.5 357.1 444.0 356.7 444.7 356.3 445.5 355.9 446.0 355.7 447.0 355.4 447.5 355.3 448.5 355.1 449.5 355.1 450.5 355.0 451.5 355.0 452.5 354.9 453.5 354.9 454.5 354.9 455.5 354.8 456.5 354.8 457.5 354.8 458.5 354.8 459.5 354.9 460.5 355.0 461.5 355.2 462.2 355.3 463.0 355.5 464.0 355.8 464.5 355.9 465.5 356.3 466.0 356.4 467.0 356.4 467.7 356.3 468.5 356.0 469.0 355.7 469.7 355.3 470.4 354.8 471.0 354.4 471.5 354.1 472.0 353.7 472.7 353.3 473.5 352.8 474.0 352.5 474.5 352.3 475.5 351.8 476.0 351.6 477.0 351.4 477.5 351.3 478.5 351.3 479.0 351.3 480.0 351.7 480.5 352.1 481.0 352.7 481.3 353.3 481.5 354.0 481.6 354.8 481.7 355.8 481.6 356.8 481.5 357.8 481.4 358.3 481.2 359.3 481.0 360.0 480.8 360.8 480.5 361.7 480.3 362.3 480.0 363.1 479.7 363.8 479.5 364.4 479.1 365.3 479.0 365.8 478.7 366.8 478.5 367.7 478.5 368.3 478.6 368.8 479.0 369.8 479.3 370.3 479.6 370.8 480.0 371.5 480.5 372.3 480.8 372.8 481.0 373.3 481.5 374.3 481.7 374.8 482.0 375.6 482.2 376.3 482.5 377.3 482.6 377.8 482.8 378.8 482.9 379.8 483.0 380.8 483.0 381.8 482.9 382.8 482.8 383.8 482.6 384.8 482.5 385.3 482.2 386.3 482.0 387.0 481.7 387.8 481.5 388.3 481.0 389.2 480.7 389.8 480.4 390.3 480.0 390.9 479.5 391.5 479.0 392.2 478.5 392.7 478.0 393.3 477.5 393.8 477.1 394.3 476.6 394.8 476.2 395.3 475.8 395.8 475.4 396.3 475.0 396.8 474.5 397.6 474.1 398.3 473.8 398.8 473.5 399.3 473.0 400.2 472.6 400.8 472.2 401.3 471.8 401.8 471.2 402.3 470.6 402.8 470.0 403.2 469.5 403.4Z" fill="#9680e0" filter="url(#spk1)"/></g><g filter="url(#sm)"><path d="M469.0 396.8 468.0 397.0 467.3 396.8 466.5 396.3 466.1 395.8 465.7 395.3 465.3 394.8 465.0 394.2 464.5 393.3 464.2 392.8 464.0 392.3 463.5 391.3 463.2 390.8 463.0 390.3 462.5 389.3 462.2 388.8 462.0 388.3 461.5 387.3 461.2 386.8 461.0 386.3 460.5 385.5 460.0 384.8 459.5 384.3 459.0 383.9 458.5 383.7 457.7 383.3 457.0 383.0 456.3 382.8 455.5 382.5 454.9 382.3 454.0 381.9 453.5 381.7 452.8 381.3 452.0 380.8 451.5 380.5 451.0 380.1 450.5 379.6 450.0 379.2 449.5 378.6 449.0 378.0 448.5 377.3 448.2 376.8 447.9 376.3 447.5 375.5 447.2 374.8 447.0 374.3 446.7 373.3 446.5 372.6 446.3 371.8 446.1 370.8 446.0 369.8 446.0 369.3 445.9 368.3 445.9 367.3 445.9 366.3 446.0 365.5 446.1 364.8 446.3 363.8 446.5 363.3 447.0 362.4 447.4 361.8 447.9 361.3 448.5 360.8 449.0 360.5 449.5 360.2 450.5 359.8 451.0 359.6 452.0 359.3 452.5 359.2 453.5 358.9 454.2 358.8 455.0 358.7 456.0 358.5 457.0 358.5 458.0 358.5 459.0 358.6 460.0 358.7 460.5 358.8 461.5 359.1 462.2 359.3 463.0 359.6 463.5 359.8 464.5 360.2 465.0 360.4 466.0 360.6 467.0 360.4 467.5 360.2 468.1 359.8 468.8 359.3 469.4 358.8 470.0 358.3 470.5 357.8 471.0 357.4 471.5 357.0 472.0 356.6 472.5 356.3 473.2 355.8 474.0 355.4 474.5 355.1 475.5 354.8 476.0 354.7 477.0 354.7 477.5 354.9 478.1 355.3 478.5 355.8 478.9 356.8 479.0 357.8 478.9 358.8 478.7 359.8 478.5 360.7 478.3 361.3 478.0 362.2 477.8 362.8 477.5 363.4 477.1 364.3 476.8 364.8 476.5 365.4 476.0 366.3 475.8 366.8 475.5 367.4 475.1 368.3 475.0 368.8 474.9 369.8 475.0 370.5 475.5 371.3 475.9 371.8 476.3 372.3 476.8 372.8 477.2 373.3 477.7 373.8 478.0 374.3 478.5 375.0 479.0 375.8 479.2 376.3 479.5 377.0 479.8 377.8 480.0 378.5 480.2 379.3 480.3 380.3 480.4 381.3 480.4 382.3 480.3 383.3 480.2 384.3 480.0 385.0 479.8 385.8 479.5 386.5 479.2 387.3 478.9 387.8 478.5 388.5 478.0 389.2 477.6 389.8 477.1 390.3 476.7 390.8 476.2 391.3 475.6 391.8 475.0 392.3 474.5 392.7 474.0 393.1 473.5 393.5 473.0 393.9 472.5 394.3 471.9 394.8 471.3 395.3 470.7 395.8 470.0 396.3 469.5 396.6 469.0 396.8Z" fill="#f0c850" filter="url(#spk4)"/></g><g filter="url(#sm)"><path d="M469.5 394.4 468.5 394.5 467.6 394.3 467.0 394.0 466.5 393.5 466.0 393.0 465.5 392.4 465.1 391.8 464.8 391.3 464.5 390.8 464.0 390.0 463.6 389.3 463.3 388.8 463.0 388.2 462.6 387.3 462.3 386.8 462.0 386.1 461.6 385.3 461.3 384.8 461.0 384.3 460.5 383.7 460.0 383.2 459.4 382.8 458.5 382.4 458.0 382.2 457.0 381.9 456.5 381.7 455.5 381.4 455.0 381.2 454.0 380.8 453.5 380.6 453.0 380.3 452.3 379.8 451.6 379.3 451.0 378.8 450.5 378.3 450.1 377.8 449.7 377.3 449.3 376.8 449.0 376.3 448.5 375.4 448.2 374.8 448.0 374.3 447.6 373.3 447.5 372.8 447.3 371.8 447.1 370.8 447.0 369.8 447.0 369.3 447.0 368.3 447.0 367.8 447.1 366.8 447.3 365.8 447.5 365.0 447.8 364.3 448.0 363.8 448.5 363.0 449.0 362.4 449.5 362.0 450.0 361.6 450.5 361.3 451.4 360.8 452.0 360.5 452.6 360.3 453.5 360.0 454.4 359.8 455.0 359.7 456.0 359.5 457.0 359.4 458.0 359.4 459.0 359.5 460.0 359.7 460.6 359.8 461.5 360.0 462.2 360.3 463.0 360.6 463.5 360.9 464.5 361.3 465.0 361.5 466.0 361.6 467.0 361.4 467.5 361.2 468.1 360.8 468.7 360.3 469.3 359.8 469.9 359.3 470.4 358.8 471.0 358.3 471.5 357.9 472.0 357.5 472.5 357.2 473.1 356.8 474.0 356.3 474.5 356.1 475.5 355.8 476.0 355.8 476.5 355.9 477.3 356.3 477.7 356.8 478.0 357.7 478.1 358.3 478.0 359.3 478.0 359.8 477.7 360.8 477.5 361.6 477.3 362.3 477.0 362.9 476.6 363.8 476.4 364.3 476.0 365.0 475.6 365.8 475.3 366.3 475.0 366.8 474.5 367.8 474.3 368.3 474.0 369.1 473.9 369.8 474.0 370.8 474.2 371.3 474.6 371.8 475.0 372.3 475.5 372.8 476.1 373.3 476.5 373.8 477.0 374.3 477.5 374.9 478.0 375.7 478.3 376.3 478.6 376.8 479.0 377.8 479.2 378.3 479.4 379.3 479.5 379.8 479.7 380.8 479.7 381.8 479.7 382.8 479.5 383.8 479.4 384.3 479.2 385.3 479.0 385.8 478.6 386.8 478.4 387.3 478.0 387.9 477.5 388.7 477.0 389.3 476.6 389.8 476.1 390.3 475.5 390.8 475.0 391.2 474.5 391.6 474.0 392.0 473.5 392.3 472.8 392.8 472.0 393.3 471.5 393.6 471.0 393.8 470.0 394.3 469.5 394.4Z" fill="#eea860" filter="url(#spk)"/></g><path d="M471.5 390.4 470.5 390.6 469.5 390.5 468.6 390.3 468.0 390.1 467.5 389.7 466.9 389.3 466.4 388.8 466.0 388.3 465.5 387.6 465.0 386.8 464.7 386.3 464.5 385.8 464.0 384.8 463.8 384.3 463.5 383.5 463.2 382.8 462.9 382.3 462.5 381.6 462.0 381.0 461.5 380.6 461.0 380.3 460.0 379.9 459.5 379.7 458.5 379.5 457.7 379.3 457.0 379.1 456.0 378.8 455.5 378.7 454.7 378.3 454.0 377.9 453.5 377.6 453.0 377.2 452.5 376.8 452.0 376.3 451.5 375.7 451.0 375.0 450.6 374.3 450.4 373.8 450.0 372.8 449.9 372.3 449.7 371.3 449.6 370.3 449.6 369.3 449.7 368.3 449.9 367.3 450.1 366.8 450.5 365.9 450.9 365.3 451.2 364.8 451.7 364.3 452.2 363.8 452.9 363.3 453.5 363.0 454.0 362.7 455.0 362.3 455.5 362.2 456.5 362.0 457.5 361.9 458.5 361.9 459.5 362.1 460.4 362.3 461.0 362.5 461.7 362.8 462.5 363.2 463.0 363.5 463.6 363.8 464.5 364.3 465.0 364.5 466.0 364.7 467.0 364.5 467.5 364.3 468.2 363.8 468.7 363.3 469.3 362.8 469.8 362.3 470.3 361.8 470.8 361.3 471.4 360.8 472.0 360.3 472.5 360.0 473.0 359.8 474.0 359.5 474.7 359.8 475.0 360.3 475.1 361.3 475.0 362.0 474.8 362.8 474.5 363.5 474.1 364.3 473.8 364.8 473.5 365.4 473.0 366.2 472.6 366.8 472.3 367.3 471.9 367.8 471.5 368.5 471.1 369.3 470.9 369.8 470.7 370.8 470.9 371.8 471.1 372.3 471.5 372.8 472.1 373.3 472.8 373.8 473.5 374.2 474.0 374.6 474.5 375.0 475.0 375.4 475.5 375.9 476.0 376.6 476.5 377.3 476.8 377.8 477.0 378.3 477.4 379.3 477.5 379.8 477.7 380.8 477.7 381.8 477.7 382.8 477.5 383.8 477.4 384.3 477.1 385.3 476.9 385.8 476.5 386.5 476.0 387.3 475.6 387.8 475.1 388.3 474.5 388.8 474.0 389.2 473.5 389.5 473.0 389.8 472.0 390.2 471.5 390.4Z" fill="#2233cc" filter="url(#sm)"/><path d="M472.5 387.3 471.5 387.7 470.5 387.7 469.5 387.6 468.9 387.3 468.1 386.8 467.6 386.3 467.1 385.8 466.8 385.3 466.5 384.8 466.1 383.8 465.9 383.3 465.5 382.3 465.4 381.8 465.1 380.8 464.9 380.3 464.5 379.4 464.1 378.8 463.6 378.3 463.0 377.9 462.5 377.7 461.5 377.4 461.0 377.3 460.0 377.1 459.0 377.0 458.0 376.8 457.5 376.7 456.5 376.4 456.0 376.2 455.3 375.8 454.6 375.3 454.0 374.8 453.5 374.3 453.2 373.8 452.9 373.3 452.5 372.5 452.3 371.8 452.1 370.8 452.1 369.8 452.2 368.8 452.5 368.0 452.8 367.3 453.1 366.8 453.5 366.3 454.1 365.8 454.7 365.3 455.5 364.9 456.0 364.7 457.0 364.5 458.0 364.4 459.0 364.5 460.0 364.8 460.5 365.0 461.2 365.3 462.0 365.8 462.5 366.2 463.0 366.6 463.5 367.1 464.0 367.5 464.5 368.0 465.0 368.5 465.5 369.1 466.0 369.8 466.2 370.3 466.5 371.3 466.6 371.8 466.9 372.8 467.1 373.3 467.5 374.0 468.0 374.5 468.5 374.9 469.5 375.3 470.0 375.5 471.0 375.8 471.5 376.0 472.2 376.3 473.0 376.8 473.5 377.2 474.0 377.6 474.5 378.2 474.9 378.8 475.1 379.3 475.5 380.3 475.6 380.8 475.7 381.8 475.6 382.8 475.5 383.4 475.2 384.3 475.0 384.8 474.5 385.6 474.0 386.2 473.5 386.7 473.0 387.0 472.5 387.3Z" fill="#2ccc4c" filter="url(#sm)"/><path d="M460.5 373.8 459.5 374.0 458.5 374.0 457.7 373.8 457.0 373.5 456.5 373.2 456.0 372.8 455.5 372.1 455.1 371.3 455.0 370.5 455.0 370.2 455.2 369.3 455.5 368.7 456.0 368.1 456.5 367.7 457.5 367.4 458.5 367.4 459.5 367.7 460.0 367.9 460.5 368.3 461.0 368.9 461.5 369.6 461.8 370.3 462.0 370.9 462.1 371.8 462.0 372.5 461.5 373.3 461.0 373.6 460.5 373.8ZM471.5 384.4 470.5 384.5 469.8 384.3 469.2 383.8 468.8 383.3 468.5 382.7 468.3 381.8 468.2 380.8 468.5 379.9 469.0 379.3 469.5 379.0 470.5 378.9 471.5 379.2 472.0 379.6 472.5 380.1 472.9 380.8 473.0 381.3 473.1 382.3 472.9 382.8 472.5 383.7 472.0 384.2 471.5 384.4Z" fill="#e4201a" filter="url(#sm)"/></g>
<text x="1.00" y="13.10" font-size="17" font-weight="bold" text-anchor="start" fill="#000" >A</text>
<text x="1.40" y="188.40" font-size="17.5" font-weight="bold" text-anchor="start" fill="#000" >B</text>
<text x="0.00" y="466.00" font-size="17" font-weight="bold" text-anchor="start" fill="#000" >C</text>
<text x="172.75" y="13.90" font-size="12.5" font-weight="bold" text-anchor="middle" fill="#000" >unloaded DC</text>
<text x="393.35" y="13.80" font-size="12.4" font-weight="bold" text-anchor="middle" fill="#000" >OVA-loaded DC</text>
<text x="96.50" y="28.20" font-size="14" font-weight="bold" text-anchor="middle" fill="#000" >+/+</text>
<text x="213.85" y="28.00" font-size="15" font-weight="bold" text-anchor="middle" fill="#000" >-/-</text>
<text x="345.60" y="28.20" font-size="14" font-weight="bold" text-anchor="middle" fill="#000" >+/+</text>
<text x="461.65" y="28.00" font-size="15" font-weight="bold" text-anchor="middle" fill="#000" >-/-</text>
<rect x="50.00" y="33.00" width="97.60" height="92.50" fill="none" stroke="#1a1a1a" stroke-width="1.6"/>
<line x1="50.00" y1="125.50" x2="50.00" y2="130.00" stroke="#1a1a1a" stroke-width="1.3" />
<line x1="74.40" y1="125.50" x2="74.40" y2="130.00" stroke="#1a1a1a" stroke-width="1.3" />
<text x="75.00" y="138.10" font-size="8.6" text-anchor="middle" fill="#1e1e1e" textLength="11.4" lengthAdjust="spacingAndGlyphs">10<tspan font-size="7" dy="-2.2">1</tspan></text>
<line x1="98.80" y1="125.50" x2="98.80" y2="130.00" stroke="#1a1a1a" stroke-width="1.3" />
<text x="99.40" y="138.10" font-size="8.6" text-anchor="middle" fill="#1e1e1e" textLength="11.4" lengthAdjust="spacingAndGlyphs">10<tspan font-size="7" dy="-2.2">2</tspan></text>
<line x1="123.20" y1="125.50" x2="123.20" y2="130.00" stroke="#1a1a1a" stroke-width="1.3" />
<text x="123.80" y="138.10" font-size="8.6" text-anchor="middle" fill="#1e1e1e" textLength="11.4" lengthAdjust="spacingAndGlyphs">10<tspan font-size="7" dy="-2.2">3</tspan></text>
<line x1="147.60" y1="125.50" x2="147.60" y2="130.00" stroke="#1a1a1a" stroke-width="1.3" />
<text x="148.20" y="138.10" font-size="8.6" text-anchor="middle" fill="#1e1e1e" textLength="11.4" lengthAdjust="spacingAndGlyphs">10<tspan font-size="7" dy="-2.2">4</tspan></text>
<line x1="45.50" y1="125.50" x2="50.00" y2="125.50" stroke="#1a1a1a" stroke-width="1.3" />
<line x1="45.50" y1="102.38" x2="50.00" y2="102.38" stroke="#1a1a1a" stroke-width="1.3" />
<text transform="translate(44.20,102.08) rotate(-90)" x="0" y="0" font-size="8.6" text-anchor="middle" fill="#1e1e1e" textLength="11.2" lengthAdjust="spacingAndGlyphs">10<tspan font-size="7" dy="-2.2">1</tspan></text>
<line x1="45.50" y1="79.25" x2="50.00" y2="79.25" stroke="#1a1a1a" stroke-width="1.3" />
<text transform="translate(44.20,78.95) rotate(-90)" x="0" y="0" font-size="8.6" text-anchor="middle" fill="#1e1e1e" textLength="11.2" lengthAdjust="spacingAndGlyphs">10<tspan font-size="7" dy="-2.2">2</tspan></text>
<line x1="45.50" y1="56.12" x2="50.00" y2="56.12" stroke="#1a1a1a" stroke-width="1.3" />
<text transform="translate(44.20,55.83) rotate(-90)" x="0" y="0" font-size="8.6" text-anchor="middle" fill="#1e1e1e" textLength="11.2" lengthAdjust="spacingAndGlyphs">10<tspan font-size="7" dy="-2.2">3</tspan></text>
<line x1="45.50" y1="33.00" x2="50.00" y2="33.00" stroke="#1a1a1a" stroke-width="1.3" />
<text transform="translate(44.20,32.70) rotate(-90)" x="0" y="0" font-size="8.6" text-anchor="middle" fill="#1e1e1e" textLength="11.2" lengthAdjust="spacingAndGlyphs">10<tspan font-size="7" dy="-2.2">4</tspan></text>
<rect x="164.80" y="33.00" width="97.60" height="92.50" fill="none" stroke="#1a1a1a" stroke-width="1.6"/>
<line x1="164.80" y1="125.50" x2="164.80" y2="130.00" stroke="#1a1a1a" stroke-width="1.3" />
<line x1="189.20" y1="125.50" x2="189.20" y2="130.00" stroke="#1a1a1a" stroke-width="1.3" />
<text x="189.80" y="138.10" font-size="8.6" text-anchor="middle" fill="#1e1e1e" textLength="11.4" lengthAdjust="spacingAndGlyphs">10<tspan font-size="7" dy="-2.2">1</tspan></text>
<line x1="213.60" y1="125.50" x2="213.60" y2="130.00" stroke="#1a1a1a" stroke-width="1.3" />
<text x="214.20" y="138.10" font-size="8.6" text-anchor="middle" fill="#1e1e1e" textLength="11.4" lengthAdjust="spacingAndGlyphs">10<tspan font-size="7" dy="-2.2">2</tspan></text>
<line x1="238.00" y1="125.50" x2="238.00" y2="130.00" stroke="#1a1a1a" stroke-width="1.3" />
<text x="238.60" y="138.10" font-size="8.6" text-anchor="middle" fill="#1e1e1e" textLength="11.4" lengthAdjust="spacingAndGlyphs">10<tspan font-size="7" dy="-2.2">3</tspan></text>
<line x1="262.40" y1="125.50" x2="262.40" y2="130.00" stroke="#1a1a1a" stroke-width="1.3" />
<text x="263.00" y="138.10" font-size="8.6" text-anchor="middle" fill="#1e1e1e" textLength="11.4" lengthAdjust="spacingAndGlyphs">10<tspan font-size="7" dy="-2.2">4</tspan></text>
<line x1="160.30" y1="125.50" x2="164.80" y2="125.50" stroke="#1a1a1a" stroke-width="1.3" />
<line x1="160.30" y1="102.38" x2="164.80" y2="102.38" stroke="#1a1a1a" stroke-width="1.3" />
<text transform="translate(159.00,102.08) rotate(-90)" x="0" y="0" font-size="8.6" text-anchor="middle" fill="#1e1e1e" textLength="11.2" lengthAdjust="spacingAndGlyphs">10<tspan font-size="7" dy="-2.2">1</tspan></text>
<line x1="160.30" y1="79.25" x2="164.80" y2="79.25" stroke="#1a1a1a" stroke-width="1.3" />
<text transform="translate(159.00,78.95) rotate(-90)" x="0" y="0" font-size="8.6" text-anchor="middle" fill="#1e1e1e" textLength="11.2" lengthAdjust="spacingAndGlyphs">10<tspan font-size="7" dy="-2.2">2</tspan></text>
<line x1="160.30" y1="56.12" x2="164.80" y2="56.12" stroke="#1a1a1a" stroke-width="1.3" />
<text transform="translate(159.00,55.83) rotate(-90)" x="0" y="0" font-size="8.6" text-anchor="middle" fill="#1e1e1e" textLength="11.2" lengthAdjust="spacingAndGlyphs">10<tspan font-size="7" dy="-2.2">3</tspan></text>
<line x1="160.30" y1="33.00" x2="164.80" y2="33.00" stroke="#1a1a1a" stroke-width="1.3" />
<text transform="translate(159.00,32.70) rotate(-90)" x="0" y="0" font-size="8.6" text-anchor="middle" fill="#1e1e1e" textLength="11.2" lengthAdjust="spacingAndGlyphs">10<tspan font-size="7" dy="-2.2">4</tspan></text>
<rect x="299.20" y="33.00" width="97.60" height="92.50" fill="none" stroke="#1a1a1a" stroke-width="1.6"/>
<line x1="299.20" y1="125.50" x2="299.20" y2="130.00" stroke="#1a1a1a" stroke-width="1.3" />
<line x1="323.60" y1="125.50" x2="323.60" y2="130.00" stroke="#1a1a1a" stroke-width="1.3" />
<text x="324.20" y="138.10" font-size="8.6" text-anchor="middle" fill="#1e1e1e" textLength="11.4" lengthAdjust="spacingAndGlyphs">10<tspan font-size="7" dy="-2.2">1</tspan></text>
<line x1="348.00" y1="125.50" x2="348.00" y2="130.00" stroke="#1a1a1a" stroke-width="1.3" />
<text x="348.60" y="138.10" font-size="8.6" text-anchor="middle" fill="#1e1e1e" textLength="11.4" lengthAdjust="spacingAndGlyphs">10<tspan font-size="7" dy="-2.2">2</tspan></text>
<line x1="372.40" y1="125.50" x2="372.40" y2="130.00" stroke="#1a1a1a" stroke-width="1.3" />
<text x="373.00" y="138.10" font-size="8.6" text-anchor="middle" fill="#1e1e1e" textLength="11.4" lengthAdjust="spacingAndGlyphs">10<tspan font-size="7" dy="-2.2">3</tspan></text>
<line x1="396.80" y1="125.50" x2="396.80" y2="130.00" stroke="#1a1a1a" stroke-width="1.3" />
<text x="397.40" y="138.10" font-size="8.6" text-anchor="middle" fill="#1e1e1e" textLength="11.4" lengthAdjust="spacingAndGlyphs">10<tspan font-size="7" dy="-2.2">4</tspan></text>
<line x1="294.70" y1="125.50" x2="299.20" y2="125.50" stroke="#1a1a1a" stroke-width="1.3" />
<line x1="294.70" y1="102.38" x2="299.20" y2="102.38" stroke="#1a1a1a" stroke-width="1.3" />
<text transform="translate(293.40,102.08) rotate(-90)" x="0" y="0" font-size="8.6" text-anchor="middle" fill="#1e1e1e" textLength="11.2" lengthAdjust="spacingAndGlyphs">10<tspan font-size="7" dy="-2.2">1</tspan></text>
<line x1="294.70" y1="79.25" x2="299.20" y2="79.25" stroke="#1a1a1a" stroke-width="1.3" />
<text transform="translate(293.40,78.95) rotate(-90)" x="0" y="0" font-size="8.6" text-anchor="middle" fill="#1e1e1e" textLength="11.2" lengthAdjust="spacingAndGlyphs">10<tspan font-size="7" dy="-2.2">2</tspan></text>
<line x1="294.70" y1="56.12" x2="299.20" y2="56.12" stroke="#1a1a1a" stroke-width="1.3" />
<text transform="translate(293.40,55.83) rotate(-90)" x="0" y="0" font-size="8.6" text-anchor="middle" fill="#1e1e1e" textLength="11.2" lengthAdjust="spacingAndGlyphs">10<tspan font-size="7" dy="-2.2">3</tspan></text>
<line x1="294.70" y1="33.00" x2="299.20" y2="33.00" stroke="#1a1a1a" stroke-width="1.3" />
<text transform="translate(293.40,32.70) rotate(-90)" x="0" y="0" font-size="8.6" text-anchor="middle" fill="#1e1e1e" textLength="11.2" lengthAdjust="spacingAndGlyphs">10<tspan font-size="7" dy="-2.2">4</tspan></text>
<rect x="414.40" y="33.00" width="97.60" height="92.50" fill="none" stroke="#1a1a1a" stroke-width="1.6"/>
<line x1="414.40" y1="125.50" x2="414.40" y2="130.00" stroke="#1a1a1a" stroke-width="1.3" />
<line x1="438.80" y1="125.50" x2="438.80" y2="130.00" stroke="#1a1a1a" stroke-width="1.3" />
<text x="439.40" y="138.10" font-size="8.6" text-anchor="middle" fill="#1e1e1e" textLength="11.4" lengthAdjust="spacingAndGlyphs">10<tspan font-size="7" dy="-2.2">1</tspan></text>
<line x1="463.20" y1="125.50" x2="463.20" y2="130.00" stroke="#1a1a1a" stroke-width="1.3" />
<text x="463.80" y="138.10" font-size="8.6" text-anchor="middle" fill="#1e1e1e" textLength="11.4" lengthAdjust="spacingAndGlyphs">10<tspan font-size="7" dy="-2.2">2</tspan></text>
<line x1="487.60" y1="125.50" x2="487.60" y2="130.00" stroke="#1a1a1a" stroke-width="1.3" />
<text x="488.20" y="138.10" font-size="8.6" text-anchor="middle" fill="#1e1e1e" textLength="11.4" lengthAdjust="spacingAndGlyphs">10<tspan font-size="7" dy="-2.2">3</tspan></text>
<line x1="512.00" y1="125.50" x2="512.00" y2="130.00" stroke="#1a1a1a" stroke-width="1.3" />
<text x="512.60" y="138.10" font-size="8.6" text-anchor="middle" fill="#1e1e1e" textLength="11.4" lengthAdjust="spacingAndGlyphs">10<tspan font-size="7" dy="-2.2">4</tspan></text>
<line x1="409.90" y1="125.50" x2="414.40" y2="125.50" stroke="#1a1a1a" stroke-width="1.3" />
<line x1="409.90" y1="102.38" x2="414.40" y2="102.38" stroke="#1a1a1a" stroke-width="1.3" />
<text transform="translate(408.60,102.08) rotate(-90)" x="0" y="0" font-size="8.6" text-anchor="middle" fill="#1e1e1e" textLength="11.2" lengthAdjust="spacingAndGlyphs">10<tspan font-size="7" dy="-2.2">1</tspan></text>
<line x1="409.90" y1="79.25" x2="414.40" y2="79.25" stroke="#1a1a1a" stroke-width="1.3" />
<text transform="translate(408.60,78.95) rotate(-90)" x="0" y="0" font-size="8.6" text-anchor="middle" fill="#1e1e1e" textLength="11.2" lengthAdjust="spacingAndGlyphs">10<tspan font-size="7" dy="-2.2">2</tspan></text>
<line x1="409.90" y1="56.12" x2="414.40" y2="56.12" stroke="#1a1a1a" stroke-width="1.3" />
<text transform="translate(408.60,55.83) rotate(-90)" x="0" y="0" font-size="8.6" text-anchor="middle" fill="#1e1e1e" textLength="11.2" lengthAdjust="spacingAndGlyphs">10<tspan font-size="7" dy="-2.2">3</tspan></text>
<line x1="409.90" y1="33.00" x2="414.40" y2="33.00" stroke="#1a1a1a" stroke-width="1.3" />
<text transform="translate(408.60,32.70) rotate(-90)" x="0" y="0" font-size="8.6" text-anchor="middle" fill="#1e1e1e" textLength="11.2" lengthAdjust="spacingAndGlyphs">10<tspan font-size="7" dy="-2.2">4</tspan></text>
<line x1="27.40" y1="31.80" x2="27.40" y2="64.00" stroke="#333" stroke-width="1.3" />
<line x1="27.40" y1="91.00" x2="27.40" y2="128.50" stroke="#333" stroke-width="1.3" />
<text transform="translate(33.0,77.6) rotate(-90)" font-size="12" font-weight="bold" text-anchor="middle">CD4</text>
<line x1="50.60" y1="151.00" x2="266.00" y2="151.00" stroke="#333" stroke-width="1.3" />
<line x1="293.00" y1="151.00" x2="513.50" y2="151.00" stroke="#333" stroke-width="1.3" />
<text x="279.50" y="156.00" font-size="12" font-weight="bold" text-anchor="middle" fill="#000" >CD8</text>
<polygon points="85.3,66.3 95.1,58.6 111.1,57.8 115.6,69.0 96.6,86.5 81.7,77.1" fill="none" stroke="#111" stroke-width="1.8" stroke-linejoin="round"/><polygon points="81.7,77.1 96.6,86.5 85.3,104.5 75.5,86.9" fill="none" stroke="#111" stroke-width="1.8" stroke-linejoin="round"/><text x="102.2" y="52.9" font-size="8.3" font-weight="bold" text-anchor="middle" fill="#111">70.9</text><text x="100.1" y="103.4" font-size="8.3" font-weight="bold" text-anchor="middle" fill="#111">5.4</text><polygon points="200.1,66.3 209.9,58.6 225.9,57.8 230.4,69.0 211.4,86.5 196.5,77.1" fill="none" stroke="#111" stroke-width="1.8" stroke-linejoin="round"/><polygon points="196.5,77.1 211.4,86.5 200.1,104.5 190.3,86.9" fill="none" stroke="#111" stroke-width="1.8" stroke-linejoin="round"/><text x="218.1" y="52.4" font-size="8.3" font-weight="bold" text-anchor="middle" fill="#111">75.9</text><text x="218.3" y="100.6" font-size="8.3" font-weight="bold" text-anchor="middle" fill="#111">2.8</text><polygon points="334.5,66.3 344.3,58.6 360.3,57.8 364.8,69.0 345.8,86.5 330.9,77.1" fill="none" stroke="#111" stroke-width="1.8" stroke-linejoin="round"/><polygon points="330.9,77.1 345.8,86.5 334.5,104.5 324.7,86.9" fill="none" stroke="#111" stroke-width="1.8" stroke-linejoin="round"/><text x="352.8" y="52.9" font-size="8.3" font-weight="bold" text-anchor="middle" fill="#111">16.5</text><text x="358.2" y="100.6" font-size="8.3" font-weight="bold" text-anchor="middle" fill="#111">35.7</text><polygon points="449.7,66.3 459.5,58.6 475.5,57.8 480.0,69.0 461.0,86.5 446.1,77.1" fill="none" stroke="#111" stroke-width="1.8" stroke-linejoin="round"/><polygon points="446.1,77.1 461.0,86.5 449.7,104.5 439.9,86.9" fill="none" stroke="#111" stroke-width="1.8" stroke-linejoin="round"/><text x="466.6" y="52.9" font-size="8.3" font-weight="bold" text-anchor="middle" fill="#111">38.6</text><text x="472.5" y="100.1" font-size="8.3" font-weight="bold" text-anchor="middle" fill="#111">14.33</text>
<text x="159.75" y="184.60" font-size="12.25" font-weight="bold" text-anchor="middle" fill="#000" >unstimulated</text>
<text x="409.65" y="184.70" font-size="12.6" font-weight="bold" text-anchor="middle" fill="#000" >stimulated</text>
<text x="95.80" y="198.80" font-size="14" font-weight="bold" text-anchor="middle" fill="#000" >+/+</text>
<text x="214.00" y="201.70" font-size="15" font-weight="bold" text-anchor="middle" fill="#000" >-/-</text>
<text x="347.40" y="204.60" font-size="14" font-weight="bold" text-anchor="middle" fill="#000" >+/+</text>
<text x="461.90" y="199.20" font-size="15" font-weight="bold" text-anchor="middle" fill="#000" >-/-</text>
<text x="0.60" y="255.80" font-size="12.4" font-weight="bold" text-anchor="start" fill="#000" >12 h</text>
<text x="1.00" y="372.60" font-size="12.4" font-weight="bold" text-anchor="start" fill="#000" >24 h</text>
<rect x="49.60" y="205.30" width="97.00" height="90.00" fill="none" stroke="#1a1a1a" stroke-width="1.6"/>
<line x1="49.60" y1="295.30" x2="49.60" y2="299.80" stroke="#1a1a1a" stroke-width="1.3" />
<line x1="73.85" y1="295.30" x2="73.85" y2="299.80" stroke="#1a1a1a" stroke-width="1.3" />
<text x="74.45" y="307.90" font-size="8.6" text-anchor="middle" fill="#1e1e1e" textLength="11.4" lengthAdjust="spacingAndGlyphs">10<tspan font-size="7" dy="-2.2">1</tspan></text>
<line x1="98.10" y1="295.30" x2="98.10" y2="299.80" stroke="#1a1a1a" stroke-width="1.3" />
<text x="98.70" y="307.90" font-size="8.6" text-anchor="middle" fill="#1e1e1e" textLength="11.4" lengthAdjust="spacingAndGlyphs">10<tspan font-size="7" dy="-2.2">2</tspan></text>
<line x1="122.35" y1="295.30" x2="122.35" y2="299.80" stroke="#1a1a1a" stroke-width="1.3" />
<text x="122.95" y="307.90" font-size="8.6" text-anchor="middle" fill="#1e1e1e" textLength="11.4" lengthAdjust="spacingAndGlyphs">10<tspan font-size="7" dy="-2.2">3</tspan></text>
<line x1="146.60" y1="295.30" x2="146.60" y2="299.80" stroke="#1a1a1a" stroke-width="1.3" />
<text x="147.20" y="307.90" font-size="8.6" text-anchor="middle" fill="#1e1e1e" textLength="11.4" lengthAdjust="spacingAndGlyphs">10<tspan font-size="7" dy="-2.2">4</tspan></text>
<line x1="45.10" y1="295.30" x2="49.60" y2="295.30" stroke="#1a1a1a" stroke-width="1.3" />
<line x1="45.10" y1="272.80" x2="49.60" y2="272.80" stroke="#1a1a1a" stroke-width="1.3" />
<text transform="translate(43.80,272.50) rotate(-90)" x="0" y="0" font-size="8.6" text-anchor="middle" fill="#1e1e1e" textLength="11.2" lengthAdjust="spacingAndGlyphs">10<tspan font-size="7" dy="-2.2">1</tspan></text>
<line x1="45.10" y1="250.30" x2="49.60" y2="250.30" stroke="#1a1a1a" stroke-width="1.3" />
<text transform="translate(43.80,250.00) rotate(-90)" x="0" y="0" font-size="8.6" text-anchor="middle" fill="#1e1e1e" textLength="11.2" lengthAdjust="spacingAndGlyphs">10<tspan font-size="7" dy="-2.2">2</tspan></text>
<line x1="45.10" y1="227.80" x2="49.60" y2="227.80" stroke="#1a1a1a" stroke-width="1.3" />
<text transform="translate(43.80,227.50) rotate(-90)" x="0" y="0" font-size="8.6" text-anchor="middle" fill="#1e1e1e" textLength="11.2" lengthAdjust="spacingAndGlyphs">10<tspan font-size="7" dy="-2.2">3</tspan></text>
<line x1="45.10" y1="205.30" x2="49.60" y2="205.30" stroke="#1a1a1a" stroke-width="1.3" />
<text transform="translate(43.80,205.00) rotate(-90)" x="0" y="0" font-size="8.6" text-anchor="middle" fill="#1e1e1e" textLength="11.2" lengthAdjust="spacingAndGlyphs">10<tspan font-size="7" dy="-2.2">4</tspan></text>
<rect x="167.00" y="205.30" width="97.00" height="90.00" fill="none" stroke="#1a1a1a" stroke-width="1.6"/>
<line x1="167.00" y1="295.30" x2="167.00" y2="299.80" stroke="#1a1a1a" stroke-width="1.3" />
<line x1="191.25" y1="295.30" x2="191.25" y2="299.80" stroke="#1a1a1a" stroke-width="1.3" />
<text x="191.85" y="307.90" font-size="8.6" text-anchor="middle" fill="#1e1e1e" textLength="11.4" lengthAdjust="spacingAndGlyphs">10<tspan font-size="7" dy="-2.2">1</tspan></text>
<line x1="215.50" y1="295.30" x2="215.50" y2="299.80" stroke="#1a1a1a" stroke-width="1.3" />
<text x="216.10" y="307.90" font-size="8.6" text-anchor="middle" fill="#1e1e1e" textLength="11.4" lengthAdjust="spacingAndGlyphs">10<tspan font-size="7" dy="-2.2">2</tspan></text>
<line x1="239.75" y1="295.30" x2="239.75" y2="299.80" stroke="#1a1a1a" stroke-width="1.3" />
<text x="240.35" y="307.90" font-size="8.6" text-anchor="middle" fill="#1e1e1e" textLength="11.4" lengthAdjust="spacingAndGlyphs">10<tspan font-size="7" dy="-2.2">3</tspan></text>
<line x1="264.00" y1="295.30" x2="264.00" y2="299.80" stroke="#1a1a1a" stroke-width="1.3" />
<text x="264.60" y="307.90" font-size="8.6" text-anchor="middle" fill="#1e1e1e" textLength="11.4" lengthAdjust="spacingAndGlyphs">10<tspan font-size="7" dy="-2.2">4</tspan></text>
<line x1="162.50" y1="295.30" x2="167.00" y2="295.30" stroke="#1a1a1a" stroke-width="1.3" />
<line x1="162.50" y1="272.80" x2="167.00" y2="272.80" stroke="#1a1a1a" stroke-width="1.3" />
<text transform="translate(161.20,272.50) rotate(-90)" x="0" y="0" font-size="8.6" text-anchor="middle" fill="#1e1e1e" textLength="11.2" lengthAdjust="spacingAndGlyphs">10<tspan font-size="7" dy="-2.2">1</tspan></text>
<line x1="162.50" y1="250.30" x2="167.00" y2="250.30" stroke="#1a1a1a" stroke-width="1.3" />
<text transform="translate(161.20,250.00) rotate(-90)" x="0" y="0" font-size="8.6" text-anchor="middle" fill="#1e1e1e" textLength="11.2" lengthAdjust="spacingAndGlyphs">10<tspan font-size="7" dy="-2.2">2</tspan></text>
<line x1="162.50" y1="227.80" x2="167.00" y2="227.80" stroke="#1a1a1a" stroke-width="1.3" />
<text transform="translate(161.20,227.50) rotate(-90)" x="0" y="0" font-size="8.6" text-anchor="middle" fill="#1e1e1e" textLength="11.2" lengthAdjust="spacingAndGlyphs">10<tspan font-size="7" dy="-2.2">3</tspan></text>
<line x1="162.50" y1="205.30" x2="167.00" y2="205.30" stroke="#1a1a1a" stroke-width="1.3" />
<text transform="translate(161.20,205.00) rotate(-90)" x="0" y="0" font-size="8.6" text-anchor="middle" fill="#1e1e1e" textLength="11.2" lengthAdjust="spacingAndGlyphs">10<tspan font-size="7" dy="-2.2">4</tspan></text>
<rect x="299.00" y="205.30" width="97.00" height="90.00" fill="none" stroke="#1a1a1a" stroke-width="1.6"/>
<line x1="299.00" y1="295.30" x2="299.00" y2="299.80" stroke="#1a1a1a" stroke-width="1.3" />
<line x1="323.25" y1="295.30" x2="323.25" y2="299.80" stroke="#1a1a1a" stroke-width="1.3" />
<text x="323.85" y="307.90" font-size="8.6" text-anchor="middle" fill="#1e1e1e" textLength="11.4" lengthAdjust="spacingAndGlyphs">10<tspan font-size="7" dy="-2.2">1</tspan></text>
<line x1="347.50" y1="295.30" x2="347.50" y2="299.80" stroke="#1a1a1a" stroke-width="1.3" />
<text x="348.10" y="307.90" font-size="8.6" text-anchor="middle" fill="#1e1e1e" textLength="11.4" lengthAdjust="spacingAndGlyphs">10<tspan font-size="7" dy="-2.2">2</tspan></text>
<line x1="371.75" y1="295.30" x2="371.75" y2="299.80" stroke="#1a1a1a" stroke-width="1.3" />
<text x="372.35" y="307.90" font-size="8.6" text-anchor="middle" fill="#1e1e1e" textLength="11.4" lengthAdjust="spacingAndGlyphs">10<tspan font-size="7" dy="-2.2">3</tspan></text>
<line x1="396.00" y1="295.30" x2="396.00" y2="299.80" stroke="#1a1a1a" stroke-width="1.3" />
<text x="396.60" y="307.90" font-size="8.6" text-anchor="middle" fill="#1e1e1e" textLength="11.4" lengthAdjust="spacingAndGlyphs">10<tspan font-size="7" dy="-2.2">4</tspan></text>
<line x1="294.50" y1="295.30" x2="299.00" y2="295.30" stroke="#1a1a1a" stroke-width="1.3" />
<line x1="294.50" y1="272.80" x2="299.00" y2="272.80" stroke="#1a1a1a" stroke-width="1.3" />
<text transform="translate(293.20,272.50) rotate(-90)" x="0" y="0" font-size="8.6" text-anchor="middle" fill="#1e1e1e" textLength="11.2" lengthAdjust="spacingAndGlyphs">10<tspan font-size="7" dy="-2.2">1</tspan></text>
<line x1="294.50" y1="250.30" x2="299.00" y2="250.30" stroke="#1a1a1a" stroke-width="1.3" />
<text transform="translate(293.20,250.00) rotate(-90)" x="0" y="0" font-size="8.6" text-anchor="middle" fill="#1e1e1e" textLength="11.2" lengthAdjust="spacingAndGlyphs">10<tspan font-size="7" dy="-2.2">2</tspan></text>
<line x1="294.50" y1="227.80" x2="299.00" y2="227.80" stroke="#1a1a1a" stroke-width="1.3" />
<text transform="translate(293.20,227.50) rotate(-90)" x="0" y="0" font-size="8.6" text-anchor="middle" fill="#1e1e1e" textLength="11.2" lengthAdjust="spacingAndGlyphs">10<tspan font-size="7" dy="-2.2">3</tspan></text>
<line x1="294.50" y1="205.30" x2="299.00" y2="205.30" stroke="#1a1a1a" stroke-width="1.3" />
<text transform="translate(293.20,205.00) rotate(-90)" x="0" y="0" font-size="8.6" text-anchor="middle" fill="#1e1e1e" textLength="11.2" lengthAdjust="spacingAndGlyphs">10<tspan font-size="7" dy="-2.2">4</tspan></text>
<rect x="415.00" y="205.30" width="97.00" height="90.00" fill="none" stroke="#1a1a1a" stroke-width="1.6"/>
<line x1="415.00" y1="295.30" x2="415.00" y2="299.80" stroke="#1a1a1a" stroke-width="1.3" />
<line x1="439.25" y1="295.30" x2="439.25" y2="299.80" stroke="#1a1a1a" stroke-width="1.3" />
<text x="439.85" y="307.90" font-size="8.6" text-anchor="middle" fill="#1e1e1e" textLength="11.4" lengthAdjust="spacingAndGlyphs">10<tspan font-size="7" dy="-2.2">1</tspan></text>
<line x1="463.50" y1="295.30" x2="463.50" y2="299.80" stroke="#1a1a1a" stroke-width="1.3" />
<text x="464.10" y="307.90" font-size="8.6" text-anchor="middle" fill="#1e1e1e" textLength="11.4" lengthAdjust="spacingAndGlyphs">10<tspan font-size="7" dy="-2.2">2</tspan></text>
<line x1="487.75" y1="295.30" x2="487.75" y2="299.80" stroke="#1a1a1a" stroke-width="1.3" />
<text x="488.35" y="307.90" font-size="8.6" text-anchor="middle" fill="#1e1e1e" textLength="11.4" lengthAdjust="spacingAndGlyphs">10<tspan font-size="7" dy="-2.2">3</tspan></text>
<line x1="512.00" y1="295.30" x2="512.00" y2="299.80" stroke="#1a1a1a" stroke-width="1.3" />
<text x="512.60" y="307.90" font-size="8.6" text-anchor="middle" fill="#1e1e1e" textLength="11.4" lengthAdjust="spacingAndGlyphs">10<tspan font-size="7" dy="-2.2">4</tspan></text>
<line x1="410.50" y1="295.30" x2="415.00" y2="295.30" stroke="#1a1a1a" stroke-width="1.3" />
<line x1="410.50" y1="272.80" x2="415.00" y2="272.80" stroke="#1a1a1a" stroke-width="1.3" />
<text transform="translate(409.20,272.50) rotate(-90)" x="0" y="0" font-size="8.6" text-anchor="middle" fill="#1e1e1e" textLength="11.2" lengthAdjust="spacingAndGlyphs">10<tspan font-size="7" dy="-2.2">1</tspan></text>
<line x1="410.50" y1="250.30" x2="415.00" y2="250.30" stroke="#1a1a1a" stroke-width="1.3" />
<text transform="translate(409.20,250.00) rotate(-90)" x="0" y="0" font-size="8.6" text-anchor="middle" fill="#1e1e1e" textLength="11.2" lengthAdjust="spacingAndGlyphs">10<tspan font-size="7" dy="-2.2">2</tspan></text>
<line x1="410.50" y1="227.80" x2="415.00" y2="227.80" stroke="#1a1a1a" stroke-width="1.3" />
<text transform="translate(409.20,227.50) rotate(-90)" x="0" y="0" font-size="8.6" text-anchor="middle" fill="#1e1e1e" textLength="11.2" lengthAdjust="spacingAndGlyphs">10<tspan font-size="7" dy="-2.2">3</tspan></text>
<line x1="410.50" y1="205.30" x2="415.00" y2="205.30" stroke="#1a1a1a" stroke-width="1.3" />
<text transform="translate(409.20,205.00) rotate(-90)" x="0" y="0" font-size="8.6" text-anchor="middle" fill="#1e1e1e" textLength="11.2" lengthAdjust="spacingAndGlyphs">10<tspan font-size="7" dy="-2.2">4</tspan></text>
<rect x="49.60" y="322.30" width="97.00" height="90.00" fill="none" stroke="#1a1a1a" stroke-width="1.6"/>
<line x1="49.60" y1="412.30" x2="49.60" y2="416.80" stroke="#1a1a1a" stroke-width="1.3" />
<line x1="73.85" y1="412.30" x2="73.85" y2="416.80" stroke="#1a1a1a" stroke-width="1.3" />
<text x="74.45" y="424.90" font-size="8.6" text-anchor="middle" fill="#1e1e1e" textLength="11.4" lengthAdjust="spacingAndGlyphs">10<tspan font-size="7" dy="-2.2">1</tspan></text>
<line x1="98.10" y1="412.30" x2="98.10" y2="416.80" stroke="#1a1a1a" stroke-width="1.3" />
<text x="98.70" y="424.90" font-size="8.6" text-anchor="middle" fill="#1e1e1e" textLength="11.4" lengthAdjust="spacingAndGlyphs">10<tspan font-size="7" dy="-2.2">2</tspan></text>
<line x1="122.35" y1="412.30" x2="122.35" y2="416.80" stroke="#1a1a1a" stroke-width="1.3" />
<text x="122.95" y="424.90" font-size="8.6" text-anchor="middle" fill="#1e1e1e" textLength="11.4" lengthAdjust="spacingAndGlyphs">10<tspan font-size="7" dy="-2.2">3</tspan></text>
<line x1="146.60" y1="412.30" x2="146.60" y2="416.80" stroke="#1a1a1a" stroke-width="1.3" />
<text x="147.20" y="424.90" font-size="8.6" text-anchor="middle" fill="#1e1e1e" textLength="11.4" lengthAdjust="spacingAndGlyphs">10<tspan font-size="7" dy="-2.2">4</tspan></text>
<line x1="45.10" y1="412.30" x2="49.60" y2="412.30" stroke="#1a1a1a" stroke-width="1.3" />
<line x1="45.10" y1="389.80" x2="49.60" y2="389.80" stroke="#1a1a1a" stroke-width="1.3" />
<text transform="translate(43.80,389.50) rotate(-90)" x="0" y="0" font-size="8.6" text-anchor="middle" fill="#1e1e1e" textLength="11.2" lengthAdjust="spacingAndGlyphs">10<tspan font-size="7" dy="-2.2">1</tspan></text>
<line x1="45.10" y1="367.30" x2="49.60" y2="367.30" stroke="#1a1a1a" stroke-width="1.3" />
<text transform="translate(43.80,367.00) rotate(-90)" x="0" y="0" font-size="8.6" text-anchor="middle" fill="#1e1e1e" textLength="11.2" lengthAdjust="spacingAndGlyphs">10<tspan font-size="7" dy="-2.2">2</tspan></text>
<line x1="45.10" y1="344.80" x2="49.60" y2="344.80" stroke="#1a1a1a" stroke-width="1.3" />
<text transform="translate(43.80,344.50) rotate(-90)" x="0" y="0" font-size="8.6" text-anchor="middle" fill="#1e1e1e" textLength="11.2" lengthAdjust="spacingAndGlyphs">10<tspan font-size="7" dy="-2.2">3</tspan></text>
<line x1="45.10" y1="322.30" x2="49.60" y2="322.30" stroke="#1a1a1a" stroke-width="1.3" />
<text transform="translate(43.80,322.00) rotate(-90)" x="0" y="0" font-size="8.6" text-anchor="middle" fill="#1e1e1e" textLength="11.2" lengthAdjust="spacingAndGlyphs">10<tspan font-size="7" dy="-2.2">4</tspan></text>
<rect x="167.00" y="322.30" width="97.00" height="90.00" fill="none" stroke="#1a1a1a" stroke-width="1.6"/>
<line x1="167.00" y1="412.30" x2="167.00" y2="416.80" stroke="#1a1a1a" stroke-width="1.3" />
<line x1="191.25" y1="412.30" x2="191.25" y2="416.80" stroke="#1a1a1a" stroke-width="1.3" />
<text x="191.85" y="424.90" font-size="8.6" text-anchor="middle" fill="#1e1e1e" textLength="11.4" lengthAdjust="spacingAndGlyphs">10<tspan font-size="7" dy="-2.2">1</tspan></text>
<line x1="215.50" y1="412.30" x2="215.50" y2="416.80" stroke="#1a1a1a" stroke-width="1.3" />
<text x="216.10" y="424.90" font-size="8.6" text-anchor="middle" fill="#1e1e1e" textLength="11.4" lengthAdjust="spacingAndGlyphs">10<tspan font-size="7" dy="-2.2">2</tspan></text>
<line x1="239.75" y1="412.30" x2="239.75" y2="416.80" stroke="#1a1a1a" stroke-width="1.3" />
<text x="240.35" y="424.90" font-size="8.6" text-anchor="middle" fill="#1e1e1e" textLength="11.4" lengthAdjust="spacingAndGlyphs">10<tspan font-size="7" dy="-2.2">3</tspan></text>
<line x1="264.00" y1="412.30" x2="264.00" y2="416.80" stroke="#1a1a1a" stroke-width="1.3" />
<text x="264.60" y="424.90" font-size="8.6" text-anchor="middle" fill="#1e1e1e" textLength="11.4" lengthAdjust="spacingAndGlyphs">10<tspan font-size="7" dy="-2.2">4</tspan></text>
<line x1="162.50" y1="412.30" x2="167.00" y2="412.30" stroke="#1a1a1a" stroke-width="1.3" />
<line x1="162.50" y1="389.80" x2="167.00" y2="389.80" stroke="#1a1a1a" stroke-width="1.3" />
<text transform="translate(161.20,389.50) rotate(-90)" x="0" y="0" font-size="8.6" text-anchor="middle" fill="#1e1e1e" textLength="11.2" lengthAdjust="spacingAndGlyphs">10<tspan font-size="7" dy="-2.2">1</tspan></text>
<line x1="162.50" y1="367.30" x2="167.00" y2="367.30" stroke="#1a1a1a" stroke-width="1.3" />
<text transform="translate(161.20,367.00) rotate(-90)" x="0" y="0" font-size="8.6" text-anchor="middle" fill="#1e1e1e" textLength="11.2" lengthAdjust="spacingAndGlyphs">10<tspan font-size="7" dy="-2.2">2</tspan></text>
<line x1="162.50" y1="344.80" x2="167.00" y2="344.80" stroke="#1a1a1a" stroke-width="1.3" />
<text transform="translate(161.20,344.50) rotate(-90)" x="0" y="0" font-size="8.6" text-anchor="middle" fill="#1e1e1e" textLength="11.2" lengthAdjust="spacingAndGlyphs">10<tspan font-size="7" dy="-2.2">3</tspan></text>
<line x1="162.50" y1="322.30" x2="167.00" y2="322.30" stroke="#1a1a1a" stroke-width="1.3" />
<text transform="translate(161.20,322.00) rotate(-90)" x="0" y="0" font-size="8.6" text-anchor="middle" fill="#1e1e1e" textLength="11.2" lengthAdjust="spacingAndGlyphs">10<tspan font-size="7" dy="-2.2">4</tspan></text>
<rect x="299.00" y="322.30" width="97.00" height="90.00" fill="none" stroke="#1a1a1a" stroke-width="1.6"/>
<line x1="299.00" y1="412.30" x2="299.00" y2="416.80" stroke="#1a1a1a" stroke-width="1.3" />
<line x1="323.25" y1="412.30" x2="323.25" y2="416.80" stroke="#1a1a1a" stroke-width="1.3" />
<text x="323.85" y="424.90" font-size="8.6" text-anchor="middle" fill="#1e1e1e" textLength="11.4" lengthAdjust="spacingAndGlyphs">10<tspan font-size="7" dy="-2.2">1</tspan></text>
<line x1="347.50" y1="412.30" x2="347.50" y2="416.80" stroke="#1a1a1a" stroke-width="1.3" />
<text x="348.10" y="424.90" font-size="8.6" text-anchor="middle" fill="#1e1e1e" textLength="11.4" lengthAdjust="spacingAndGlyphs">10<tspan font-size="7" dy="-2.2">2</tspan></text>
<line x1="371.75" y1="412.30" x2="371.75" y2="416.80" stroke="#1a1a1a" stroke-width="1.3" />
<text x="372.35" y="424.90" font-size="8.6" text-anchor="middle" fill="#1e1e1e" textLength="11.4" lengthAdjust="spacingAndGlyphs">10<tspan font-size="7" dy="-2.2">3</tspan></text>
<line x1="396.00" y1="412.30" x2="396.00" y2="416.80" stroke="#1a1a1a" stroke-width="1.3" />
<text x="396.60" y="424.90" font-size="8.6" text-anchor="middle" fill="#1e1e1e" textLength="11.4" lengthAdjust="spacingAndGlyphs">10<tspan font-size="7" dy="-2.2">4</tspan></text>
<line x1="294.50" y1="412.30" x2="299.00" y2="412.30" stroke="#1a1a1a" stroke-width="1.3" />
<line x1="294.50" y1="389.80" x2="299.00" y2="389.80" stroke="#1a1a1a" stroke-width="1.3" />
<text transform="translate(293.20,389.50) rotate(-90)" x="0" y="0" font-size="8.6" text-anchor="middle" fill="#1e1e1e" textLength="11.2" lengthAdjust="spacingAndGlyphs">10<tspan font-size="7" dy="-2.2">1</tspan></text>
<line x1="294.50" y1="367.30" x2="299.00" y2="367.30" stroke="#1a1a1a" stroke-width="1.3" />
<text transform="translate(293.20,367.00) rotate(-90)" x="0" y="0" font-size="8.6" text-anchor="middle" fill="#1e1e1e" textLength="11.2" lengthAdjust="spacingAndGlyphs">10<tspan font-size="7" dy="-2.2">2</tspan></text>
<line x1="294.50" y1="344.80" x2="299.00" y2="344.80" stroke="#1a1a1a" stroke-width="1.3" />
<text transform="translate(293.20,344.50) rotate(-90)" x="0" y="0" font-size="8.6" text-anchor="middle" fill="#1e1e1e" textLength="11.2" lengthAdjust="spacingAndGlyphs">10<tspan font-size="7" dy="-2.2">3</tspan></text>
<line x1="294.50" y1="322.30" x2="299.00" y2="322.30" stroke="#1a1a1a" stroke-width="1.3" />
<text transform="translate(293.20,322.00) rotate(-90)" x="0" y="0" font-size="8.6" text-anchor="middle" fill="#1e1e1e" textLength="11.2" lengthAdjust="spacingAndGlyphs">10<tspan font-size="7" dy="-2.2">4</tspan></text>
<rect x="415.00" y="322.30" width="97.00" height="90.00" fill="none" stroke="#1a1a1a" stroke-width="1.6"/>
<line x1="415.00" y1="412.30" x2="415.00" y2="416.80" stroke="#1a1a1a" stroke-width="1.3" />
<line x1="439.25" y1="412.30" x2="439.25" y2="416.80" stroke="#1a1a1a" stroke-width="1.3" />
<text x="439.85" y="424.90" font-size="8.6" text-anchor="middle" fill="#1e1e1e" textLength="11.4" lengthAdjust="spacingAndGlyphs">10<tspan font-size="7" dy="-2.2">1</tspan></text>
<line x1="463.50" y1="412.30" x2="463.50" y2="416.80" stroke="#1a1a1a" stroke-width="1.3" />
<text x="464.10" y="424.90" font-size="8.6" text-anchor="middle" fill="#1e1e1e" textLength="11.4" lengthAdjust="spacingAndGlyphs">10<tspan font-size="7" dy="-2.2">2</tspan></text>
<line x1="487.75" y1="412.30" x2="487.75" y2="416.80" stroke="#1a1a1a" stroke-width="1.3" />
<text x="488.35" y="424.90" font-size="8.6" text-anchor="middle" fill="#1e1e1e" textLength="11.4" lengthAdjust="spacingAndGlyphs">10<tspan font-size="7" dy="-2.2">3</tspan></text>
<line x1="512.00" y1="412.30" x2="512.00" y2="416.80" stroke="#1a1a1a" stroke-width="1.3" />
<text x="512.60" y="424.90" font-size="8.6" text-anchor="middle" fill="#1e1e1e" textLength="11.4" lengthAdjust="spacingAndGlyphs">10<tspan font-size="7" dy="-2.2">4</tspan></text>
<line x1="410.50" y1="412.30" x2="415.00" y2="412.30" stroke="#1a1a1a" stroke-width="1.3" />
<line x1="410.50" y1="389.80" x2="415.00" y2="389.80" stroke="#1a1a1a" stroke-width="1.3" />
<text transform="translate(409.20,389.50) rotate(-90)" x="0" y="0" font-size="8.6" text-anchor="middle" fill="#1e1e1e" textLength="11.2" lengthAdjust="spacingAndGlyphs">10<tspan font-size="7" dy="-2.2">1</tspan></text>
<line x1="410.50" y1="367.30" x2="415.00" y2="367.30" stroke="#1a1a1a" stroke-width="1.3" />
<text transform="translate(409.20,367.00) rotate(-90)" x="0" y="0" font-size="8.6" text-anchor="middle" fill="#1e1e1e" textLength="11.2" lengthAdjust="spacingAndGlyphs">10<tspan font-size="7" dy="-2.2">2</tspan></text>
<line x1="410.50" y1="344.80" x2="415.00" y2="344.80" stroke="#1a1a1a" stroke-width="1.3" />
<text transform="translate(409.20,344.50) rotate(-90)" x="0" y="0" font-size="8.6" text-anchor="middle" fill="#1e1e1e" textLength="11.2" lengthAdjust="spacingAndGlyphs">10<tspan font-size="7" dy="-2.2">3</tspan></text>
<line x1="410.50" y1="322.30" x2="415.00" y2="322.30" stroke="#1a1a1a" stroke-width="1.3" />
<text transform="translate(409.20,322.00) rotate(-90)" x="0" y="0" font-size="8.6" text-anchor="middle" fill="#1e1e1e" textLength="11.2" lengthAdjust="spacingAndGlyphs">10<tspan font-size="7" dy="-2.2">4</tspan></text>
<line x1="98.2" y1="205.3" x2="98.2" y2="295.3" stroke="#111" stroke-width="1.6"/><line x1="49.6" y1="259.9" x2="146.6" y2="259.9" stroke="#111" stroke-width="1.6"/><text x="51.4" y="214.7" font-size="9.6" font-weight="bold">1.7</text><text x="144.4" y="214.7" font-size="9.6" font-weight="bold" text-anchor="end">6.9</text><text x="144.4" y="291.3" font-size="9.6" font-weight="bold" text-anchor="end">81.9</text><line x1="215.2" y1="205.3" x2="215.2" y2="295.3" stroke="#111" stroke-width="1.6"/><line x1="167.0" y1="259.9" x2="264.0" y2="259.9" stroke="#111" stroke-width="1.6"/><text x="168.8" y="214.7" font-size="9.6" font-weight="bold">1.3</text><text x="261.8" y="214.7" font-size="9.6" font-weight="bold" text-anchor="end">5.7</text><text x="261.8" y="291.3" font-size="9.6" font-weight="bold" text-anchor="end">78.4</text><line x1="347.6" y1="205.3" x2="347.6" y2="295.3" stroke="#111" stroke-width="1.6"/><line x1="299.0" y1="259.9" x2="396.0" y2="259.9" stroke="#111" stroke-width="1.6"/><text x="300.8" y="214.7" font-size="9.6" font-weight="bold">36.1</text><text x="393.8" y="214.7" font-size="9.6" font-weight="bold" text-anchor="end">10.8</text><text x="393.8" y="291.3" font-size="9.6" font-weight="bold" text-anchor="end">39.5</text><line x1="310.3" y1="231.8" x2="318.0" y2="237.0" stroke="#b81c2a" stroke-width="1.4"/><polygon points="321.5,239.3 316.7,239.0 319.3,235.0" fill="#b81c2a"/><line x1="463.0" y1="205.3" x2="463.0" y2="295.3" stroke="#111" stroke-width="1.6"/><line x1="415.0" y1="259.9" x2="512.0" y2="259.9" stroke="#111" stroke-width="1.6"/><text x="416.8" y="214.7" font-size="9.6" font-weight="bold">18.9</text><text x="509.8" y="214.7" font-size="9.6" font-weight="bold" text-anchor="end">13.8</text><text x="509.8" y="291.3" font-size="9.6" font-weight="bold" text-anchor="end">53.2</text><line x1="435.1" y1="233.0" x2="442.8" y2="237.9" stroke="#b81c2a" stroke-width="1.4"/><polygon points="446.3,240.2 441.5,239.9 444.1,235.9" fill="#b81c2a"/><line x1="98.5" y1="322.3" x2="98.5" y2="412.3" stroke="#111" stroke-width="1.6"/><line x1="49.6" y1="376.9" x2="146.6" y2="376.9" stroke="#111" stroke-width="1.6"/><text x="51.4" y="331.7" font-size="9.6" font-weight="bold">1.1</text><text x="144.4" y="331.7" font-size="9.6" font-weight="bold" text-anchor="end">7.0</text><text x="144.4" y="408.3" font-size="9.6" font-weight="bold" text-anchor="end">84.5</text><line x1="215.5" y1="322.3" x2="215.5" y2="412.3" stroke="#111" stroke-width="1.6"/><line x1="167.0" y1="376.9" x2="264.0" y2="376.9" stroke="#111" stroke-width="1.6"/><text x="168.8" y="331.7" font-size="9.6" font-weight="bold">1.0</text><text x="261.8" y="331.7" font-size="9.6" font-weight="bold" text-anchor="end">7.9</text><text x="261.8" y="408.3" font-size="9.6" font-weight="bold" text-anchor="end">84.7</text><line x1="347.9" y1="322.3" x2="347.9" y2="412.3" stroke="#111" stroke-width="1.6"/><line x1="299.0" y1="376.9" x2="396.0" y2="376.9" stroke="#111" stroke-width="1.6"/><text x="300.8" y="331.7" font-size="9.6" font-weight="bold">50.3</text><text x="393.8" y="331.7" font-size="9.6" font-weight="bold" text-anchor="end">21.6</text><text x="393.8" y="408.3" font-size="9.6" font-weight="bold" text-anchor="end">21.3</text><line x1="319.0" y1="349.4" x2="325.9" y2="354.2" stroke="#b81c2a" stroke-width="1.4"/><polygon points="329.4,356.6 324.6,356.2 327.3,352.2" fill="#b81c2a"/><line x1="463.3" y1="322.3" x2="463.3" y2="412.3" stroke="#111" stroke-width="1.6"/><line x1="415.0" y1="376.9" x2="512.0" y2="376.9" stroke="#111" stroke-width="1.6"/><text x="416.8" y="331.7" font-size="9.6" font-weight="bold">35.0</text><text x="509.8" y="331.7" font-size="9.6" font-weight="bold" text-anchor="end">24.9</text><text x="509.8" y="408.3" font-size="9.6" font-weight="bold" text-anchor="end">32.5</text><line x1="441.0" y1="353.3" x2="447.4" y2="357.8" stroke="#b81c2a" stroke-width="1.4"/><polygon points="450.8,360.2 446.0,359.7 448.7,355.8" fill="#b81c2a"/>
<line x1="30.50" y1="201.00" x2="30.50" y2="293.00" stroke="#333" stroke-width="1.3" />
<line x1="30.50" y1="325.00" x2="30.50" y2="414.00" stroke="#333" stroke-width="1.3" />
<text transform="translate(34.9,308.8) rotate(-90)" font-size="12" font-weight="bold" text-anchor="middle">CD69</text>
<line x1="50.80" y1="438.20" x2="266.00" y2="438.20" stroke="#333" stroke-width="1.3" />
<line x1="294.00" y1="438.20" x2="513.50" y2="438.20" stroke="#333" stroke-width="1.3" />
<text x="280.00" y="443.00" font-size="12" font-weight="bold" text-anchor="middle" fill="#000" >CD4</text>
<text x="48.15" y="468.30" font-size="12.3" font-weight="bold" text-anchor="middle" fill="#000" >2 h</text>
<text x="152.00" y="468.30" font-size="12.3" font-weight="bold" text-anchor="middle" fill="#000" >6 h</text>
<text x="257.00" y="468.30" font-size="12.3" font-weight="bold" text-anchor="middle" fill="#000" >8 h</text>
<text x="361.65" y="468.30" font-size="12.3" font-weight="bold" text-anchor="middle" fill="#000" >12 h</text>
<text x="467.05" y="468.30" font-size="12.3" font-weight="bold" text-anchor="middle" fill="#000" >24 h</text>

<rect x="3.00" y="471.50" width="90.80" height="72.40" fill="none" stroke="#1a1a1a" stroke-width="1.6"/>
<clipPath id="h00"><rect x="2.0" y="471.5" width="92.8" height="73.6"/></clipPath><g clip-path="url(#h00)" fill="none" stroke-linejoin="round"><path d="M3.00 543.40 C5.72 543.30 15.65 543.34 20.00 542.80 C24.35 542.26 28.06 541.02 30.20 540.00 C32.34 538.98 32.34 539.58 33.40 536.40 C34.46 533.22 35.78 526.40 36.80 520.10 C37.82 513.80 38.90 503.48 39.80 497.00 C40.70 490.52 41.50 483.50 42.40 479.60 C43.30 475.70 44.28 472.97 45.40 472.60 C46.52 472.23 48.23 474.32 49.40 477.30 C50.57 480.28 51.60 486.58 52.70 491.20 C53.80 495.82 55.16 502.12 56.30 506.20 C57.44 510.28 58.47 512.99 59.80 516.70 C61.13 520.41 63.08 525.70 64.60 529.40 C66.12 533.10 67.99 537.53 69.30 539.80 C70.61 542.07 68.85 542.99 72.80 543.60 C76.75 544.21 90.61 543.60 94.00 543.60" stroke="#9e1a40" stroke-width="2.5" stroke-dasharray="1 0.8"/><path d="M3.00 543.40 C5.72 543.38 15.42 543.78 20.00 543.30 C24.58 542.82 29.18 541.50 31.60 540.40 C34.02 539.30 34.00 539.65 35.10 536.40 C36.20 533.15 37.49 526.40 38.50 520.10 C39.51 513.80 40.55 503.48 41.40 497.00 C42.25 490.52 43.05 483.55 43.80 479.60 C44.55 475.65 45.36 472.67 46.10 472.30 C46.84 471.93 47.57 474.28 48.40 477.30 C49.23 480.32 50.28 486.58 51.30 491.20 C52.32 495.82 53.70 502.12 54.80 506.20 C55.90 510.28 56.90 512.99 58.20 516.70 C59.50 520.41 61.41 525.70 62.90 529.40 C64.39 533.10 66.20 537.53 67.50 539.80 C68.80 542.07 66.76 542.99 71.00 543.60 C75.24 544.21 90.32 543.60 94.00 543.60" stroke="#d41c2c" stroke-width="1.9"/></g>
<line x1="3.00" y1="543.90" x2="3.00" y2="548.40" stroke="#1a1a1a" stroke-width="1.3" />
<line x1="25.70" y1="543.90" x2="25.70" y2="548.40" stroke="#1a1a1a" stroke-width="1.3" />
<text x="26.30" y="557.30" font-size="8.6" text-anchor="middle" fill="#1e1e1e" textLength="12.2" lengthAdjust="spacingAndGlyphs">10<tspan font-size="7" dy="-2.2">1</tspan></text>
<line x1="48.40" y1="543.90" x2="48.40" y2="548.40" stroke="#1a1a1a" stroke-width="1.3" />
<text x="49.00" y="557.30" font-size="8.6" text-anchor="middle" fill="#1e1e1e" textLength="12.2" lengthAdjust="spacingAndGlyphs">10<tspan font-size="7" dy="-2.2">2</tspan></text>
<line x1="71.10" y1="543.90" x2="71.10" y2="548.40" stroke="#1a1a1a" stroke-width="1.3" />
<text x="71.70" y="557.30" font-size="8.6" text-anchor="middle" fill="#1e1e1e" textLength="12.2" lengthAdjust="spacingAndGlyphs">10<tspan font-size="7" dy="-2.2">3</tspan></text>
<line x1="93.80" y1="543.90" x2="93.80" y2="548.40" stroke="#1a1a1a" stroke-width="1.3" />
<text x="94.40" y="557.30" font-size="8.6" text-anchor="middle" fill="#1e1e1e" textLength="12.2" lengthAdjust="spacingAndGlyphs">10<tspan font-size="7" dy="-2.2">4</tspan></text>
<text x="92.50" y="479.90" font-size="8.2" font-weight="bold" text-anchor="end" fill="#c4233a" >+/+</text>
<text x="88.60" y="487.10" font-size="8.8" font-weight="bold" text-anchor="end" fill="#2c3494" >-/-</text>

<rect x="107.00" y="471.50" width="90.80" height="72.40" fill="none" stroke="#1a1a1a" stroke-width="1.6"/>
<clipPath id="h01"><rect x="106.0" y="471.5" width="92.8" height="73.6"/></clipPath><g clip-path="url(#h01)" fill="none" stroke-linejoin="round"><path d="M107.00 543.50 C109.88 543.37 120.63 543.20 125.00 542.70 C129.37 542.20 132.08 541.60 134.30 540.40 C136.52 539.20 137.60 537.89 138.90 535.20 C140.20 532.51 141.38 528.78 142.40 523.60 C143.42 518.42 144.47 508.91 145.30 502.80 C146.13 496.69 146.86 490.14 147.60 485.40 C148.34 480.66 148.88 473.76 149.90 473.20 C150.92 472.64 152.80 477.92 154.00 481.90 C155.20 485.88 156.10 492.92 157.40 498.10 C158.70 503.28 160.61 509.47 162.10 514.30 C163.59 519.13 165.23 524.22 166.70 528.30 C168.17 532.38 170.18 537.38 171.30 539.80 C172.42 542.22 169.43 542.79 173.70 543.40 C177.97 544.01 194.11 543.57 198.00 543.60" stroke="#b0204a" stroke-width="2.4" stroke-dasharray="1 0.8"/><path d="M107.00 543.50 C109.88 543.37 120.63 543.20 125.00 542.70 C129.37 542.20 132.08 541.60 134.30 540.40 C136.52 539.20 137.60 537.89 138.90 535.20 C140.20 532.51 141.38 528.78 142.40 523.60 C143.42 518.42 144.44 509.39 145.30 502.80 C146.16 496.21 147.06 487.20 147.80 482.40 C148.54 477.60 149.10 473.62 149.90 472.80 C150.70 471.98 151.60 474.92 152.80 477.30 C154.00 479.68 155.91 483.81 157.40 487.70 C158.89 491.59 160.79 497.71 162.10 501.60 C163.41 505.49 164.50 508.11 165.60 512.00 C166.70 515.89 167.90 521.63 169.00 525.90 C170.10 530.17 171.57 535.90 172.50 538.70 C173.43 541.50 170.72 542.62 174.80 543.40 C178.88 544.18 194.29 543.57 198.00 543.60" stroke="#2626a0" stroke-width="1.9"/><path d="M107.00 543.50 C109.88 543.37 120.63 543.20 125.00 542.70 C129.37 542.20 132.08 541.60 134.30 540.40 C136.52 539.20 137.60 537.89 138.90 535.20 C140.20 532.51 141.38 528.78 142.40 523.60 C143.42 518.42 144.47 508.91 145.30 502.80 C146.13 496.69 146.96 489.21 147.60 485.40 C148.24 481.59 148.64 480.30 149.30 479.00 C149.96 477.70 150.77 477.86 151.70 477.30 C152.63 476.74 153.80 476.28 155.10 475.50 C156.40 474.72 158.68 472.11 159.80 472.40 C160.92 472.69 161.36 474.29 162.10 477.30 C162.84 480.31 163.66 486.58 164.40 491.20 C165.14 495.82 165.96 501.58 166.70 506.20 C167.44 510.82 168.26 515.83 169.00 520.10 C169.74 524.37 170.55 529.56 171.30 532.90 C172.05 536.24 172.95 539.32 173.70 541.00 C174.45 542.68 172.11 542.98 176.00 543.40 C179.89 543.82 194.48 543.57 198.00 543.60" stroke="#d41c2c" stroke-width="1.9"/></g>
<line x1="107.00" y1="543.90" x2="107.00" y2="548.40" stroke="#1a1a1a" stroke-width="1.3" />
<line x1="129.70" y1="543.90" x2="129.70" y2="548.40" stroke="#1a1a1a" stroke-width="1.3" />
<text x="130.30" y="557.30" font-size="8.6" text-anchor="middle" fill="#1e1e1e" textLength="12.2" lengthAdjust="spacingAndGlyphs">10<tspan font-size="7" dy="-2.2">1</tspan></text>
<line x1="152.40" y1="543.90" x2="152.40" y2="548.40" stroke="#1a1a1a" stroke-width="1.3" />
<text x="153.00" y="557.30" font-size="8.6" text-anchor="middle" fill="#1e1e1e" textLength="12.2" lengthAdjust="spacingAndGlyphs">10<tspan font-size="7" dy="-2.2">2</tspan></text>
<line x1="175.10" y1="543.90" x2="175.10" y2="548.40" stroke="#1a1a1a" stroke-width="1.3" />
<text x="175.70" y="557.30" font-size="8.6" text-anchor="middle" fill="#1e1e1e" textLength="12.2" lengthAdjust="spacingAndGlyphs">10<tspan font-size="7" dy="-2.2">3</tspan></text>
<line x1="197.80" y1="543.90" x2="197.80" y2="548.40" stroke="#1a1a1a" stroke-width="1.3" />
<text x="198.40" y="557.30" font-size="8.6" text-anchor="middle" fill="#1e1e1e" textLength="12.2" lengthAdjust="spacingAndGlyphs">10<tspan font-size="7" dy="-2.2">4</tspan></text>
<text x="196.50" y="479.90" font-size="8.2" font-weight="bold" text-anchor="end" fill="#c4233a" >+/+</text>
<text x="192.60" y="487.10" font-size="8.8" font-weight="bold" text-anchor="end" fill="#2c3494" >-/-</text>

<rect x="211.20" y="471.50" width="90.80" height="72.40" fill="none" stroke="#1a1a1a" stroke-width="1.6"/>
<clipPath id="h02"><rect x="210.2" y="471.5" width="92.8" height="73.6"/></clipPath><g clip-path="url(#h02)" fill="none" stroke-linejoin="round"><path d="M211.20 543.50 C213.41 543.37 221.67 543.10 225.00 542.70 C228.33 542.30 229.97 541.83 232.00 541.00 C234.03 540.17 236.04 538.80 237.70 537.50 C239.36 536.20 241.18 535.12 242.40 532.90 C243.62 530.68 244.47 527.87 245.30 523.60 C246.13 519.33 246.86 511.94 247.60 506.20 C248.34 500.46 249.16 492.52 249.90 487.70 C250.64 482.88 251.54 478.52 252.20 476.10 C252.86 473.68 253.07 470.74 254.00 472.60 C254.93 474.46 256.70 483.06 258.00 487.70 C259.30 492.34 260.71 496.96 262.10 501.60 C263.49 506.24 265.23 512.06 266.70 516.70 C268.17 521.34 269.81 526.71 271.30 530.60 C272.79 534.49 274.88 538.95 276.00 541.00 C277.12 543.05 274.14 542.98 278.30 543.40 C282.46 543.82 298.21 543.57 302.00 543.60" stroke="#5a3090" stroke-width="2.3" stroke-dasharray="1 0.8"/><path d="M211.20 543.50 C213.41 543.37 221.67 543.10 225.00 542.70 C228.33 542.30 229.97 541.83 232.00 541.00 C234.03 540.17 236.04 538.80 237.70 537.50 C239.36 536.20 241.14 535.12 242.40 532.90 C243.66 530.68 244.58 527.87 245.60 523.60 C246.62 519.33 247.82 511.21 248.80 506.20 C249.78 501.19 250.87 494.89 251.70 492.30 C252.53 489.71 253.09 490.83 254.00 490.00 C254.91 489.17 256.10 488.03 257.40 487.10 C258.70 486.17 260.88 485.59 262.10 484.20 C263.32 482.81 264.17 480.30 265.00 478.40 C265.83 476.50 266.56 472.30 267.30 472.30 C268.04 472.30 268.96 475.38 269.60 478.40 C270.24 481.42 270.74 486.37 271.30 491.20 C271.86 496.03 272.54 503.05 273.10 508.60 C273.66 514.15 274.16 521.28 274.80 525.90 C275.44 530.52 276.35 534.73 277.10 537.50 C277.85 540.27 275.52 542.22 279.50 543.20 C283.48 544.18 298.40 543.54 302.00 543.60" stroke="#d41c2c" stroke-width="1.9"/><path d="M211.20 543.50 C213.41 543.37 221.67 543.10 225.00 542.70 C228.33 542.30 229.97 541.83 232.00 541.00 C234.03 540.17 236.04 538.80 237.70 537.50 C239.36 536.20 241.18 535.12 242.40 532.90 C243.62 530.68 244.47 527.87 245.30 523.60 C246.13 519.33 246.86 511.94 247.60 506.20 C248.34 500.46 249.16 492.52 249.90 487.70 C250.64 482.88 251.46 478.56 252.20 476.10 C252.94 473.64 253.67 471.56 254.50 472.30 C255.33 473.04 256.38 477.87 257.40 480.70 C258.42 483.53 259.78 487.39 260.90 490.00 C262.02 492.61 263.28 494.58 264.40 497.00 C265.52 499.42 266.88 502.33 267.90 505.10 C268.92 507.87 269.97 511.34 270.80 514.30 C271.63 517.26 272.27 520.26 273.10 523.60 C273.93 526.94 274.98 532.05 276.00 535.20 C277.02 538.35 275.34 541.96 279.50 543.30 C283.66 544.64 298.40 543.55 302.00 543.60" stroke="#2626a0" stroke-width="2.0"/></g>
<line x1="211.20" y1="543.90" x2="211.20" y2="548.40" stroke="#1a1a1a" stroke-width="1.3" />
<line x1="233.90" y1="543.90" x2="233.90" y2="548.40" stroke="#1a1a1a" stroke-width="1.3" />
<text x="234.50" y="557.30" font-size="8.6" text-anchor="middle" fill="#1e1e1e" textLength="12.2" lengthAdjust="spacingAndGlyphs">10<tspan font-size="7" dy="-2.2">1</tspan></text>
<line x1="256.60" y1="543.90" x2="256.60" y2="548.40" stroke="#1a1a1a" stroke-width="1.3" />
<text x="257.20" y="557.30" font-size="8.6" text-anchor="middle" fill="#1e1e1e" textLength="12.2" lengthAdjust="spacingAndGlyphs">10<tspan font-size="7" dy="-2.2">2</tspan></text>
<line x1="279.30" y1="543.90" x2="279.30" y2="548.40" stroke="#1a1a1a" stroke-width="1.3" />
<text x="279.90" y="557.30" font-size="8.6" text-anchor="middle" fill="#1e1e1e" textLength="12.2" lengthAdjust="spacingAndGlyphs">10<tspan font-size="7" dy="-2.2">3</tspan></text>
<line x1="302.00" y1="543.90" x2="302.00" y2="548.40" stroke="#1a1a1a" stroke-width="1.3" />
<text x="302.60" y="557.30" font-size="8.6" text-anchor="middle" fill="#1e1e1e" textLength="12.2" lengthAdjust="spacingAndGlyphs">10<tspan font-size="7" dy="-2.2">4</tspan></text>
<text x="300.70" y="479.90" font-size="8.2" font-weight="bold" text-anchor="end" fill="#c4233a" >+/+</text>
<text x="296.80" y="487.10" font-size="8.8" font-weight="bold" text-anchor="end" fill="#2c3494" >-/-</text>

<rect x="315.80" y="471.50" width="90.80" height="72.40" fill="none" stroke="#1a1a1a" stroke-width="1.6"/>
<clipPath id="h03"><rect x="314.8" y="471.5" width="92.8" height="73.6"/></clipPath><g clip-path="url(#h03)" fill="none" stroke-linejoin="round"><path d="M315.80 543.50 C318.07 543.29 326.61 542.97 330.00 542.20 C333.39 541.43 334.97 540.01 337.00 538.70 C339.03 537.39 341.23 535.66 342.70 534.00 C344.17 532.34 345.18 531.07 346.20 528.30 C347.22 525.53 348.27 520.78 349.10 516.70 C349.93 512.62 350.65 507.63 351.40 502.80 C352.15 497.97 353.05 490.95 353.80 486.50 C354.55 482.05 355.46 477.13 356.10 475.00 C356.74 472.87 357.06 471.73 357.80 473.20 C358.54 474.67 359.58 479.85 360.70 484.20 C361.82 488.55 363.41 495.20 364.80 500.40 C366.19 505.60 367.93 511.87 369.40 516.70 C370.87 521.53 372.51 526.52 374.00 530.60 C375.49 534.68 377.74 540.14 378.70 542.20 C379.66 544.26 375.55 543.28 380.00 543.50 C384.45 543.72 402.26 543.58 406.50 543.60" stroke="#5a3090" stroke-width="2.3" stroke-dasharray="1 0.8"/><path d="M315.80 543.50 C318.07 543.47 325.87 544.07 330.00 543.30 C334.13 542.53 339.01 540.19 341.60 538.70 C344.19 537.21 344.90 536.05 346.20 534.00 C347.50 531.95 348.68 528.67 349.70 525.90 C350.72 523.13 351.77 519.29 352.60 516.70 C353.43 514.11 354.07 511.56 354.90 509.70 C355.73 507.84 356.78 506.03 357.80 505.10 C358.82 504.17 360.18 504.65 361.30 503.90 C362.42 503.15 363.87 502.06 364.80 500.40 C365.73 498.74 366.36 495.90 367.10 493.50 C367.84 491.10 368.66 488.18 369.40 485.40 C370.14 482.62 371.11 478.28 371.70 476.10 C372.29 473.92 372.64 471.24 373.10 471.80 C373.56 472.36 374.07 475.39 374.60 479.60 C375.13 483.81 375.84 492.16 376.40 498.10 C376.96 504.04 377.56 511.13 378.10 516.70 C378.64 522.27 379.16 528.82 379.80 532.90 C380.44 536.98 381.43 540.50 382.10 542.20 C382.77 543.90 380.10 543.28 384.00 543.50 C387.90 543.72 402.90 543.58 406.50 543.60" stroke="#d41c2c" stroke-width="1.9"/><path d="M315.80 543.50 C318.07 543.29 326.61 542.97 330.00 542.20 C333.39 541.43 334.97 540.01 337.00 538.70 C339.03 537.39 341.23 535.66 342.70 534.00 C344.17 532.34 345.18 531.07 346.20 528.30 C347.22 525.53 348.27 520.78 349.10 516.70 C349.93 512.62 350.65 507.63 351.40 502.80 C352.15 497.97 353.05 490.95 353.80 486.50 C354.55 482.05 355.46 477.27 356.10 475.00 C356.74 472.73 357.06 471.76 357.80 472.30 C358.54 472.84 359.68 476.59 360.70 478.40 C361.72 480.21 363.18 483.41 364.20 483.60 C365.22 483.79 366.17 480.43 367.10 479.60 C368.03 478.77 369.17 478.77 370.00 478.40 C370.83 478.03 371.56 476.74 372.30 477.30 C373.04 477.86 373.94 478.75 374.60 481.90 C375.26 485.05 375.84 491.82 376.40 497.00 C376.96 502.18 377.56 508.92 378.10 514.30 C378.64 519.68 379.16 526.52 379.80 530.60 C380.44 534.68 381.27 537.75 382.10 539.80 C382.93 541.85 381.10 542.79 385.00 543.40 C388.90 544.01 403.06 543.57 406.50 543.60" stroke="#2626a0" stroke-width="2.0"/></g>
<line x1="315.80" y1="543.90" x2="315.80" y2="548.40" stroke="#1a1a1a" stroke-width="1.3" />
<line x1="338.50" y1="543.90" x2="338.50" y2="548.40" stroke="#1a1a1a" stroke-width="1.3" />
<text x="339.10" y="557.30" font-size="8.6" text-anchor="middle" fill="#1e1e1e" textLength="12.2" lengthAdjust="spacingAndGlyphs">10<tspan font-size="7" dy="-2.2">1</tspan></text>
<line x1="361.20" y1="543.90" x2="361.20" y2="548.40" stroke="#1a1a1a" stroke-width="1.3" />
<text x="361.80" y="557.30" font-size="8.6" text-anchor="middle" fill="#1e1e1e" textLength="12.2" lengthAdjust="spacingAndGlyphs">10<tspan font-size="7" dy="-2.2">2</tspan></text>
<line x1="383.90" y1="543.90" x2="383.90" y2="548.40" stroke="#1a1a1a" stroke-width="1.3" />
<text x="384.50" y="557.30" font-size="8.6" text-anchor="middle" fill="#1e1e1e" textLength="12.2" lengthAdjust="spacingAndGlyphs">10<tspan font-size="7" dy="-2.2">3</tspan></text>
<line x1="406.60" y1="543.90" x2="406.60" y2="548.40" stroke="#1a1a1a" stroke-width="1.3" />
<text x="407.20" y="557.30" font-size="8.6" text-anchor="middle" fill="#1e1e1e" textLength="12.2" lengthAdjust="spacingAndGlyphs">10<tspan font-size="7" dy="-2.2">4</tspan></text>
<text x="405.30" y="479.90" font-size="8.2" font-weight="bold" text-anchor="end" fill="#c4233a" >+/+</text>
<text x="401.40" y="487.10" font-size="8.8" font-weight="bold" text-anchor="end" fill="#2c3494" >-/-</text>

<rect x="421.20" y="471.50" width="90.80" height="72.40" fill="none" stroke="#1a1a1a" stroke-width="1.6"/>
<clipPath id="h04"><rect x="420.2" y="471.5" width="92.8" height="73.6"/></clipPath><g clip-path="url(#h04)" fill="none" stroke-linejoin="round"><path d="M421.20 543.50 C422.93 543.39 428.99 543.20 432.00 542.80 C435.01 542.40 437.79 542.41 440.00 541.00 C442.21 539.59 444.14 536.78 445.80 534.00 C447.46 531.22 449.10 527.12 450.40 523.60 C451.70 520.08 452.78 516.45 453.90 512.00 C455.02 507.55 456.38 500.81 457.40 495.80 C458.42 490.79 459.37 484.32 460.30 480.70 C461.23 477.08 462.27 473.74 463.20 473.20 C464.13 472.66 465.17 475.17 466.10 477.30 C467.03 479.43 467.99 482.98 469.00 486.50 C470.01 490.02 471.30 495.40 472.40 499.30 C473.50 503.20 474.78 507.19 475.90 510.90 C477.02 514.61 478.28 518.80 479.40 522.50 C480.52 526.20 481.78 530.85 482.90 534.00 C484.02 537.15 485.58 540.68 486.40 542.20 C487.22 543.72 483.94 543.28 488.00 543.50 C492.06 543.72 507.99 543.58 511.80 543.60" stroke="#b0204a" stroke-width="2.4" stroke-dasharray="1 0.8"/><path d="M421.20 543.50 C422.93 543.45 428.99 543.33 432.00 543.20 C435.01 543.07 437.23 543.42 440.00 542.70 C442.77 541.98 446.88 540.46 449.30 538.70 C451.72 536.94 453.24 533.92 455.10 531.70 C456.96 529.48 459.43 526.37 460.90 524.80 C462.37 523.23 463.20 522.65 464.30 521.90 C465.40 521.15 466.78 521.32 467.80 520.10 C468.82 518.88 469.87 516.70 470.70 514.30 C471.53 511.90 472.34 507.71 473.00 505.10 C473.66 502.49 474.51 499.14 474.80 498.00" stroke="#2626a0" stroke-width="1.9"/><path d="M421.20 543.50 C422.93 543.48 428.99 543.43 432.00 543.40 C435.01 543.37 437.23 543.68 440.00 543.30 C442.77 542.92 446.71 542.30 449.30 541.00 C451.89 539.70 453.98 537.06 456.20 535.20 C458.42 533.34 461.15 531.26 463.20 529.40 C465.25 527.54 467.61 526.02 469.00 523.60 C470.39 521.18 471.07 517.63 471.90 514.30 C472.73 510.97 473.46 506.50 474.20 502.80 C474.94 499.10 475.76 494.91 476.50 491.20 C477.24 487.49 478.14 482.61 478.80 479.60 C479.46 476.59 480.04 472.22 480.60 472.40 C481.16 472.58 481.76 476.76 482.30 480.70 C482.84 484.64 483.44 491.62 484.00 497.00 C484.56 502.38 485.24 509.12 485.80 514.30 C486.36 519.48 486.86 525.32 487.50 529.40 C488.14 533.48 489.06 537.56 489.80 539.80 C490.54 542.04 488.58 542.79 492.10 543.40 C495.62 544.01 508.65 543.57 511.80 543.60" stroke="#a51640" stroke-width="2.2"/></g>
<line x1="421.20" y1="543.90" x2="421.20" y2="548.40" stroke="#1a1a1a" stroke-width="1.3" />
<line x1="443.90" y1="543.90" x2="443.90" y2="548.40" stroke="#1a1a1a" stroke-width="1.3" />
<text x="444.50" y="557.30" font-size="8.6" text-anchor="middle" fill="#1e1e1e" textLength="12.2" lengthAdjust="spacingAndGlyphs">10<tspan font-size="7" dy="-2.2">1</tspan></text>
<line x1="466.60" y1="543.90" x2="466.60" y2="548.40" stroke="#1a1a1a" stroke-width="1.3" />
<text x="467.20" y="557.30" font-size="8.6" text-anchor="middle" fill="#1e1e1e" textLength="12.2" lengthAdjust="spacingAndGlyphs">10<tspan font-size="7" dy="-2.2">2</tspan></text>
<line x1="489.30" y1="543.90" x2="489.30" y2="548.40" stroke="#1a1a1a" stroke-width="1.3" />
<text x="489.90" y="557.30" font-size="8.6" text-anchor="middle" fill="#1e1e1e" textLength="12.2" lengthAdjust="spacingAndGlyphs">10<tspan font-size="7" dy="-2.2">3</tspan></text>
<line x1="512.00" y1="543.90" x2="512.00" y2="548.40" stroke="#1a1a1a" stroke-width="1.3" />
<text x="512.60" y="557.30" font-size="8.6" text-anchor="middle" fill="#1e1e1e" textLength="12.2" lengthAdjust="spacingAndGlyphs">10<tspan font-size="7" dy="-2.2">4</tspan></text>
<text x="510.70" y="479.90" font-size="8.2" font-weight="bold" text-anchor="end" fill="#c4233a" >+/+</text>
<text x="506.80" y="487.10" font-size="8.8" font-weight="bold" text-anchor="end" fill="#2c3494" >-/-</text>

<rect x="3.00" y="587.40" width="90.80" height="72.30" fill="none" stroke="#1a1a1a" stroke-width="1.6"/>
<clipPath id="h10"><rect x="2.0" y="587.4" width="92.8" height="73.5"/></clipPath><g clip-path="url(#h10)" fill="none" stroke-linejoin="round"><path d="M3.00 659.50 C3.32 659.32 3.75 658.77 5.00 658.40 C6.25 658.03 9.14 657.98 10.80 657.20 C12.46 656.42 14.10 655.20 15.40 653.50 C16.70 651.80 17.88 649.56 18.90 646.60 C19.92 643.64 20.97 638.90 21.80 635.00 C22.63 631.10 23.40 626.04 24.10 622.20 C24.80 618.36 25.64 612.47 26.20 611.00 C26.76 609.53 27.01 613.61 27.60 613.00 C28.19 612.39 29.07 608.50 29.90 607.20 C30.73 605.90 31.87 606.20 32.80 604.90 C33.73 603.60 34.77 601.55 35.70 599.10 C36.63 596.65 37.77 590.16 38.60 589.60 C39.43 589.04 40.24 591.86 40.90 595.60 C41.56 599.34 42.14 607.43 42.70 613.00 C43.26 618.57 43.76 625.76 44.40 630.40 C45.04 635.04 45.77 639.60 46.70 642.00 C47.63 644.40 49.08 645.22 50.20 645.40 C51.32 645.58 52.68 643.28 53.70 643.10 C54.72 642.92 55.67 643.20 56.60 644.30 C57.53 645.40 58.49 647.97 59.50 650.00 C60.51 652.03 61.97 655.48 62.90 657.00 C63.83 658.52 60.32 659.08 65.30 659.50 C70.28 659.92 89.41 659.58 94.00 659.60" stroke="#5a3090" stroke-width="2.3" stroke-dasharray="1 0.8"/><path d="M3.00 659.50 C3.32 659.29 3.75 658.60 5.00 658.20 C6.25 657.80 9.14 657.75 10.80 657.00 C12.46 656.25 14.10 655.16 15.40 653.50 C16.70 651.84 17.88 649.56 18.90 646.60 C19.92 643.64 20.97 638.90 21.80 635.00 C22.63 631.10 23.36 626.65 24.10 622.20 C24.84 617.75 25.65 611.65 26.40 607.20 C27.15 602.75 27.95 597.46 28.80 594.40 C29.65 591.34 30.87 588.28 31.70 588.10 C32.53 587.92 33.26 590.61 34.00 593.30 C34.74 595.99 35.56 600.45 36.30 604.90 C37.04 609.35 37.86 616.11 38.60 621.10 C39.34 626.09 40.16 632.02 40.90 636.10 C41.64 640.18 42.27 643.99 43.20 646.60 C44.13 649.21 45.39 651.10 46.70 652.40 C48.01 653.70 49.91 653.96 51.40 654.70 C52.89 655.44 54.53 656.26 56.00 657.00 C57.47 657.74 54.52 658.88 60.60 659.30 C66.68 659.72 88.66 659.55 94.00 659.60" stroke="#d41c2c" stroke-width="1.9"/><path d="M3.00 659.50 C3.32 659.29 3.75 658.60 5.00 658.20 C6.25 657.80 9.14 657.75 10.80 657.00 C12.46 656.25 14.10 655.16 15.40 653.50 C16.70 651.84 17.88 649.56 18.90 646.60 C19.92 643.64 20.97 638.90 21.80 635.00 C22.63 631.10 23.36 626.65 24.10 622.20 C24.84 617.75 25.65 611.65 26.40 607.20 C27.15 602.75 28.05 597.46 28.80 594.40 C29.55 591.34 30.36 588.84 31.10 588.10 C31.84 587.36 32.76 589.72 33.40 589.80 C34.04 589.88 34.46 587.86 35.10 588.60 C35.74 589.34 36.65 591.79 37.40 594.40 C38.15 597.01 39.05 600.45 39.80 604.90 C40.55 609.35 41.36 616.82 42.10 622.20 C42.84 627.58 43.66 634.79 44.40 638.50 C45.14 642.21 45.77 643.93 46.70 645.40 C47.63 646.87 49.08 647.14 50.20 647.70 C51.32 648.26 52.60 648.15 53.70 648.90 C54.80 649.65 56.00 651.10 57.10 652.40 C58.20 653.70 59.48 655.90 60.60 657.00 C61.72 658.10 58.76 658.88 64.10 659.30 C69.44 659.72 89.22 659.55 94.00 659.60" stroke="#2626a0" stroke-width="2.2"/></g>
<line x1="3.00" y1="659.70" x2="3.00" y2="664.20" stroke="#1a1a1a" stroke-width="1.3" />
<line x1="25.70" y1="659.70" x2="25.70" y2="664.20" stroke="#1a1a1a" stroke-width="1.3" />
<text x="26.30" y="673.10" font-size="8.6" text-anchor="middle" fill="#1e1e1e" textLength="12.2" lengthAdjust="spacingAndGlyphs">10<tspan font-size="7" dy="-2.2">1</tspan></text>
<line x1="48.40" y1="659.70" x2="48.40" y2="664.20" stroke="#1a1a1a" stroke-width="1.3" />
<text x="49.00" y="673.10" font-size="8.6" text-anchor="middle" fill="#1e1e1e" textLength="12.2" lengthAdjust="spacingAndGlyphs">10<tspan font-size="7" dy="-2.2">2</tspan></text>
<line x1="71.10" y1="659.70" x2="71.10" y2="664.20" stroke="#1a1a1a" stroke-width="1.3" />
<text x="71.70" y="673.10" font-size="8.6" text-anchor="middle" fill="#1e1e1e" textLength="12.2" lengthAdjust="spacingAndGlyphs">10<tspan font-size="7" dy="-2.2">3</tspan></text>
<line x1="93.80" y1="659.70" x2="93.80" y2="664.20" stroke="#1a1a1a" stroke-width="1.3" />
<text x="94.40" y="673.10" font-size="8.6" text-anchor="middle" fill="#1e1e1e" textLength="12.2" lengthAdjust="spacingAndGlyphs">10<tspan font-size="7" dy="-2.2">4</tspan></text>
<text x="92.50" y="595.80" font-size="8.2" font-weight="bold" text-anchor="end" fill="#c4233a" >+/+</text>
<text x="88.60" y="603.00" font-size="8.8" font-weight="bold" text-anchor="end" fill="#2c3494" >-/-</text>

<rect x="107.00" y="587.40" width="90.80" height="72.30" fill="none" stroke="#1a1a1a" stroke-width="1.6"/>
<clipPath id="h11"><rect x="106.0" y="587.4" width="92.8" height="73.5"/></clipPath><g clip-path="url(#h11)" fill="none" stroke-linejoin="round"><path d="M107.00 659.50 C107.80 659.47 110.27 659.51 112.00 659.30 C113.73 659.09 115.94 659.86 117.80 658.20 C119.66 656.54 121.94 652.98 123.60 648.90 C125.26 644.82 126.90 637.52 128.20 632.70 C129.50 627.88 130.58 621.95 131.70 618.80 C132.82 615.65 134.18 614.86 135.20 613.00 C136.22 611.14 137.09 609.25 138.10 607.20 C139.11 605.15 140.57 602.62 141.50 600.20 C142.43 597.78 143.24 593.96 143.90 592.10 C144.56 590.24 145.06 588.23 145.60 588.60 C146.14 588.97 146.74 591.42 147.30 594.40 C147.86 597.38 148.54 602.75 149.10 607.20 C149.66 611.65 150.16 617.58 150.80 622.20 C151.44 626.82 152.27 632.56 153.10 636.10 C153.93 639.64 154.98 643.55 156.00 644.30 C157.02 645.05 158.57 641.18 159.50 640.80 C160.43 640.42 161.06 640.60 161.80 641.90 C162.54 643.20 163.27 646.68 164.10 648.90 C164.93 651.12 166.15 654.10 167.00 655.80 C167.85 657.50 164.44 658.89 169.40 659.50 C174.36 660.11 193.42 659.58 198.00 659.60" stroke="#5a3090" stroke-width="2.3" stroke-dasharray="1 0.8"/><path d="M107.00 659.50 C107.80 659.47 110.46 659.70 112.00 659.30 C113.54 658.90 115.11 658.49 116.60 657.00 C118.09 655.51 120.00 652.96 121.30 650.00 C122.60 647.04 123.69 642.76 124.70 638.50 C125.71 634.24 126.75 628.41 127.60 623.40 C128.45 618.39 129.31 612.02 130.00 607.20 C130.69 602.38 131.36 596.28 131.90 593.30 C132.44 590.32 132.70 588.79 133.40 588.60 C134.10 588.41 135.28 590.61 136.30 592.10 C137.32 593.59 138.68 596.60 139.80 597.90 C140.92 599.20 142.37 598.71 143.30 600.20 C144.23 601.69 144.96 604.22 145.60 607.20 C146.24 610.18 146.74 615.09 147.30 618.80 C147.86 622.51 148.44 626.88 149.10 630.40 C149.76 633.92 150.47 638.03 151.40 640.80 C152.33 643.57 153.80 646.04 154.90 647.70 C156.00 649.36 157.20 649.90 158.30 651.20 C159.40 652.50 160.68 654.49 161.80 655.80 C162.92 657.11 159.51 658.79 165.30 659.40 C171.09 660.01 192.77 659.57 198.00 659.60" stroke="#2626a0" stroke-width="2.0"/><path d="M107.00 659.50 C107.80 659.47 110.46 659.70 112.00 659.30 C113.54 658.90 115.11 658.49 116.60 657.00 C118.09 655.51 120.00 652.96 121.30 650.00 C122.60 647.04 123.69 642.76 124.70 638.50 C125.71 634.24 126.75 628.41 127.60 623.40 C128.45 618.39 129.34 612.02 130.00 607.20 C130.66 602.38 131.24 596.36 131.70 593.30 C132.16 590.24 132.44 588.47 132.90 588.10 C133.36 587.73 134.06 589.43 134.60 591.00 C135.14 592.57 135.74 594.75 136.30 597.90 C136.86 601.05 137.54 606.62 138.10 610.70 C138.66 614.78 139.16 619.34 139.80 623.40 C140.44 627.46 141.17 632.39 142.10 636.10 C143.03 639.81 144.30 643.82 145.60 646.60 C146.90 649.38 148.54 651.84 150.20 653.50 C151.86 655.16 153.95 656.06 156.00 657.00 C158.05 657.94 156.28 658.98 163.00 659.40 C169.72 659.82 192.40 659.57 198.00 659.60" stroke="#d41c2c" stroke-width="2.0"/></g>
<line x1="107.00" y1="659.70" x2="107.00" y2="664.20" stroke="#1a1a1a" stroke-width="1.3" />
<line x1="129.70" y1="659.70" x2="129.70" y2="664.20" stroke="#1a1a1a" stroke-width="1.3" />
<text x="130.30" y="673.10" font-size="8.6" text-anchor="middle" fill="#1e1e1e" textLength="12.2" lengthAdjust="spacingAndGlyphs">10<tspan font-size="7" dy="-2.2">1</tspan></text>
<line x1="152.40" y1="659.70" x2="152.40" y2="664.20" stroke="#1a1a1a" stroke-width="1.3" />
<text x="153.00" y="673.10" font-size="8.6" text-anchor="middle" fill="#1e1e1e" textLength="12.2" lengthAdjust="spacingAndGlyphs">10<tspan font-size="7" dy="-2.2">2</tspan></text>
<line x1="175.10" y1="659.70" x2="175.10" y2="664.20" stroke="#1a1a1a" stroke-width="1.3" />
<text x="175.70" y="673.10" font-size="8.6" text-anchor="middle" fill="#1e1e1e" textLength="12.2" lengthAdjust="spacingAndGlyphs">10<tspan font-size="7" dy="-2.2">3</tspan></text>
<line x1="197.80" y1="659.70" x2="197.80" y2="664.20" stroke="#1a1a1a" stroke-width="1.3" />
<text x="198.40" y="673.10" font-size="8.6" text-anchor="middle" fill="#1e1e1e" textLength="12.2" lengthAdjust="spacingAndGlyphs">10<tspan font-size="7" dy="-2.2">4</tspan></text>
<text x="196.50" y="595.80" font-size="8.2" font-weight="bold" text-anchor="end" fill="#c4233a" >+/+</text>
<text x="192.60" y="603.00" font-size="8.8" font-weight="bold" text-anchor="end" fill="#2c3494" >-/-</text>

<rect x="211.20" y="587.40" width="90.80" height="72.30" fill="none" stroke="#1a1a1a" stroke-width="1.6"/>
<clipPath id="h12"><rect x="210.2" y="587.4" width="92.8" height="73.5"/></clipPath><g clip-path="url(#h12)" fill="none" stroke-linejoin="round"><path d="M211.20 659.50 C212.29 659.45 216.27 659.52 218.00 659.20 C219.73 658.88 220.62 658.41 222.00 657.50 C223.38 656.59 225.13 656.92 226.60 653.50 C228.07 650.08 229.90 641.11 231.20 636.10 C232.50 631.09 233.58 625.72 234.70 622.20 C235.82 618.68 237.08 615.76 238.20 614.10 C239.32 612.44 240.60 612.90 241.70 611.80 C242.80 610.70 244.09 609.42 245.10 607.20 C246.11 604.98 247.17 600.72 248.00 597.90 C248.83 595.08 249.64 590.34 250.30 589.60 C250.96 588.86 251.54 590.48 252.10 593.30 C252.66 596.12 253.24 602.58 253.80 607.20 C254.36 611.82 254.94 617.58 255.60 622.20 C256.26 626.82 256.99 632.95 257.90 636.10 C258.81 639.25 260.20 641.34 261.30 641.90 C262.40 642.46 263.87 639.41 264.80 639.60 C265.73 639.79 266.35 641.24 267.10 643.10 C267.85 644.96 268.57 648.58 269.50 651.20 C270.43 653.82 267.70 658.16 272.90 659.50 C278.10 660.84 297.34 659.58 302.00 659.60" stroke="#5a3090" stroke-width="2.3" stroke-dasharray="1 0.8"/><path d="M211.20 659.50 C211.81 659.47 213.46 659.70 215.00 659.30 C216.54 658.90 219.14 658.30 220.80 657.00 C222.46 655.70 224.10 653.62 225.40 651.20 C226.70 648.78 227.78 645.79 228.90 641.90 C230.02 638.01 231.47 631.52 232.40 626.90 C233.33 622.28 233.96 617.83 234.70 613.00 C235.44 608.17 236.26 600.60 237.00 596.70 C237.74 592.80 238.55 588.97 239.30 588.60 C240.05 588.23 241.04 591.79 241.70 594.40 C242.36 597.01 242.86 601.00 243.40 604.90 C243.94 608.80 244.46 614.35 245.10 618.80 C245.74 623.25 246.47 628.44 247.40 632.70 C248.33 636.96 249.59 642.07 250.90 645.40 C252.21 648.73 253.94 651.64 255.60 653.50 C257.26 655.36 259.46 656.06 261.30 657.00 C263.14 657.94 260.59 658.98 267.10 659.40 C273.61 659.82 296.42 659.57 302.00 659.60" stroke="#d41c2c" stroke-width="1.9"/><path d="M211.20 659.50 C211.81 659.47 213.46 659.70 215.00 659.30 C216.54 658.90 219.14 658.30 220.80 657.00 C222.46 655.70 224.10 653.62 225.40 651.20 C226.70 648.78 227.78 645.79 228.90 641.90 C230.02 638.01 231.47 631.52 232.40 626.90 C233.33 622.28 233.96 617.83 234.70 613.00 C235.44 608.17 236.34 600.51 237.00 596.70 C237.66 592.89 238.14 590.40 238.80 589.20 C239.46 588.00 240.27 588.54 241.10 589.20 C241.93 589.86 243.17 593.30 244.00 593.30 C244.83 593.30 245.56 589.57 246.30 589.20 C247.04 588.83 247.96 589.05 248.60 591.00 C249.24 592.95 249.74 597.34 250.30 601.40 C250.86 605.46 251.44 611.39 252.10 616.40 C252.76 621.41 253.57 628.24 254.40 632.70 C255.23 637.16 256.37 641.90 257.30 644.30 C258.23 646.70 259.18 646.60 260.20 647.70 C261.22 648.80 262.60 649.90 263.70 651.20 C264.80 652.50 266.00 654.49 267.10 655.80 C268.20 657.11 265.02 658.79 270.60 659.40 C276.18 660.01 296.98 659.57 302.00 659.60" stroke="#2626a0" stroke-width="2.2"/></g>
<line x1="211.20" y1="659.70" x2="211.20" y2="664.20" stroke="#1a1a1a" stroke-width="1.3" />
<line x1="233.90" y1="659.70" x2="233.90" y2="664.20" stroke="#1a1a1a" stroke-width="1.3" />
<text x="234.50" y="673.10" font-size="8.6" text-anchor="middle" fill="#1e1e1e" textLength="12.2" lengthAdjust="spacingAndGlyphs">10<tspan font-size="7" dy="-2.2">1</tspan></text>
<line x1="256.60" y1="659.70" x2="256.60" y2="664.20" stroke="#1a1a1a" stroke-width="1.3" />
<text x="257.20" y="673.10" font-size="8.6" text-anchor="middle" fill="#1e1e1e" textLength="12.2" lengthAdjust="spacingAndGlyphs">10<tspan font-size="7" dy="-2.2">2</tspan></text>
<line x1="279.30" y1="659.70" x2="279.30" y2="664.20" stroke="#1a1a1a" stroke-width="1.3" />
<text x="279.90" y="673.10" font-size="8.6" text-anchor="middle" fill="#1e1e1e" textLength="12.2" lengthAdjust="spacingAndGlyphs">10<tspan font-size="7" dy="-2.2">3</tspan></text>
<line x1="302.00" y1="659.70" x2="302.00" y2="664.20" stroke="#1a1a1a" stroke-width="1.3" />
<text x="302.60" y="673.10" font-size="8.6" text-anchor="middle" fill="#1e1e1e" textLength="12.2" lengthAdjust="spacingAndGlyphs">10<tspan font-size="7" dy="-2.2">4</tspan></text>
<text x="300.70" y="595.80" font-size="8.2" font-weight="bold" text-anchor="end" fill="#c4233a" >+/+</text>
<text x="296.80" y="603.00" font-size="8.8" font-weight="bold" text-anchor="end" fill="#2c3494" >-/-</text>

<rect x="315.80" y="587.40" width="90.80" height="72.30" fill="none" stroke="#1a1a1a" stroke-width="1.6"/>
<clipPath id="h13"><rect x="314.8" y="587.4" width="92.8" height="73.5"/></clipPath><g clip-path="url(#h13)" fill="none" stroke-linejoin="round"><path d="M315.80 659.50 C316.15 659.47 316.53 659.70 318.00 659.30 C319.47 658.90 322.97 658.66 325.00 657.00 C327.03 655.34 329.04 652.42 330.70 648.90 C332.36 645.38 334.09 638.89 335.40 635.00 C336.71 631.11 337.80 627.38 338.90 624.60 C340.00 621.82 341.29 618.35 342.30 617.60 C343.31 616.85 344.27 621.00 345.20 619.90 C346.13 618.80 347.27 614.03 348.10 610.70 C348.93 607.37 349.65 602.44 350.40 599.10 C351.15 595.76 352.05 591.29 352.80 589.80 C353.55 588.31 354.46 588.31 355.10 589.80 C355.74 591.29 356.24 595.21 356.80 599.10 C357.36 602.99 357.94 609.48 358.60 614.10 C359.26 618.72 359.99 624.10 360.90 628.00 C361.81 631.90 363.20 637.01 364.30 638.50 C365.40 639.99 366.87 636.56 367.80 637.30 C368.73 638.04 369.35 640.88 370.10 643.10 C370.85 645.32 371.57 648.58 372.50 651.20 C373.43 653.82 370.46 658.16 375.90 659.50 C381.34 660.84 401.60 659.58 406.50 659.60" stroke="#5a3090" stroke-width="2.3" stroke-dasharray="1 0.8"/><path d="M315.80 659.50 C316.15 659.45 316.69 659.52 318.00 659.20 C319.31 658.88 322.14 658.49 324.00 657.50 C325.86 656.51 328.16 655.16 329.60 653.00 C331.04 650.84 331.91 647.84 333.00 644.00 C334.09 640.16 335.39 634.12 336.40 629.00 C337.41 623.88 338.47 617.28 339.30 612.00 C340.13 606.72 340.93 599.65 341.60 596.00 C342.27 592.35 342.83 590.00 343.50 589.20 C344.17 588.40 345.06 590.54 345.80 591.00 C346.54 591.46 347.36 592.29 348.10 592.10 C348.84 591.91 349.65 590.17 350.40 589.80 C351.15 589.43 352.14 588.50 352.80 589.80 C353.46 591.10 353.96 594.19 354.50 597.90 C355.04 601.61 355.54 608.18 356.20 613.00 C356.86 617.82 357.85 623.74 358.60 628.00 C359.35 632.26 359.99 636.62 360.90 639.60 C361.81 642.58 363.20 644.55 364.30 646.60 C365.40 648.65 366.68 650.74 367.80 652.40 C368.92 654.06 370.18 655.88 371.30 657.00 C372.42 658.12 369.17 658.98 374.80 659.40 C380.43 659.82 401.43 659.57 406.50 659.60" stroke="#2626a0" stroke-width="2.1"/><path d="M315.80 659.50 C316.15 659.37 316.72 659.10 318.00 658.70 C319.28 658.30 322.14 658.01 323.80 657.00 C325.46 655.99 327.10 654.62 328.40 652.40 C329.70 650.18 330.78 647.00 331.90 643.10 C333.02 639.20 334.38 633.18 335.40 628.00 C336.42 622.82 337.47 615.88 338.30 610.70 C339.13 605.52 339.86 599.14 340.60 595.60 C341.34 592.06 342.16 588.79 342.90 588.60 C343.64 588.41 344.54 591.79 345.20 594.40 C345.86 597.01 346.34 600.63 347.00 604.90 C347.66 609.17 348.56 616.28 349.30 621.10 C350.04 625.92 350.67 630.92 351.60 635.00 C352.53 639.08 353.80 643.64 355.10 646.60 C356.40 649.56 358.04 651.84 359.70 653.50 C361.36 655.16 363.64 656.06 365.50 657.00 C367.36 657.94 364.74 658.98 371.30 659.40 C377.86 659.82 400.87 659.57 406.50 659.60" stroke="#d41c2c" stroke-width="2.0"/></g>
<line x1="315.80" y1="659.70" x2="315.80" y2="664.20" stroke="#1a1a1a" stroke-width="1.3" />
<line x1="338.50" y1="659.70" x2="338.50" y2="664.20" stroke="#1a1a1a" stroke-width="1.3" />
<text x="339.10" y="673.10" font-size="8.6" text-anchor="middle" fill="#1e1e1e" textLength="12.2" lengthAdjust="spacingAndGlyphs">10<tspan font-size="7" dy="-2.2">1</tspan></text>
<line x1="361.20" y1="659.70" x2="361.20" y2="664.20" stroke="#1a1a1a" stroke-width="1.3" />
<text x="361.80" y="673.10" font-size="8.6" text-anchor="middle" fill="#1e1e1e" textLength="12.2" lengthAdjust="spacingAndGlyphs">10<tspan font-size="7" dy="-2.2">2</tspan></text>
<line x1="383.90" y1="659.70" x2="383.90" y2="664.20" stroke="#1a1a1a" stroke-width="1.3" />
<text x="384.50" y="673.10" font-size="8.6" text-anchor="middle" fill="#1e1e1e" textLength="12.2" lengthAdjust="spacingAndGlyphs">10<tspan font-size="7" dy="-2.2">3</tspan></text>
<line x1="406.60" y1="659.70" x2="406.60" y2="664.20" stroke="#1a1a1a" stroke-width="1.3" />
<text x="407.20" y="673.10" font-size="8.6" text-anchor="middle" fill="#1e1e1e" textLength="12.2" lengthAdjust="spacingAndGlyphs">10<tspan font-size="7" dy="-2.2">4</tspan></text>
<text x="405.30" y="595.80" font-size="8.2" font-weight="bold" text-anchor="end" fill="#c4233a" >+/+</text>
<text x="401.40" y="603.00" font-size="8.8" font-weight="bold" text-anchor="end" fill="#2c3494" >-/-</text>

<rect x="421.20" y="587.40" width="90.80" height="72.30" fill="none" stroke="#1a1a1a" stroke-width="1.6"/>
<clipPath id="h14"><rect x="420.2" y="587.4" width="92.8" height="73.5"/></clipPath><g clip-path="url(#h14)" fill="none" stroke-linejoin="round"><path d="M421.20 659.50 C422.61 659.47 427.10 659.89 430.00 659.30 C432.90 658.71 437.08 657.83 439.30 655.80 C441.52 653.77 442.60 649.75 443.90 646.60 C445.20 643.45 446.28 639.62 447.40 636.10 C448.52 632.58 449.80 628.30 450.90 624.60 C452.00 620.90 453.29 617.64 454.30 613.00 C455.31 608.36 456.27 599.50 457.20 595.60 C458.13 591.70 459.27 589.34 460.10 588.60 C460.93 587.86 461.65 588.78 462.40 591.00 C463.15 593.22 464.05 598.05 464.80 602.50 C465.55 606.95 466.17 613.97 467.10 618.80 C468.03 623.63 469.58 629.74 470.60 632.70 C471.62 635.66 472.57 636.56 473.50 637.30 C474.43 638.04 475.57 635.81 476.40 637.30 C477.23 638.79 477.79 643.64 478.70 646.60 C479.61 649.56 481.00 653.75 482.10 655.80 C483.20 657.85 480.85 658.79 485.60 659.40 C490.35 660.01 507.61 659.57 511.80 659.60" stroke="#9a88d0" stroke-width="1.6"/><path d="M421.20 659.50 C422.61 659.29 427.47 658.79 430.00 658.20 C432.53 657.61 435.14 657.29 437.00 655.80 C438.86 654.31 440.30 652.05 441.60 648.90 C442.90 645.75 444.00 639.99 445.10 636.10 C446.20 632.21 447.49 627.37 448.50 624.60 C449.51 621.83 450.47 621.58 451.40 618.80 C452.33 616.02 453.45 611.28 454.30 607.20 C455.15 603.12 456.04 596.28 456.70 593.30 C457.36 590.32 457.76 588.60 458.40 588.60 C459.04 588.60 460.06 590.32 460.70 593.30 C461.34 596.28 461.74 602.58 462.40 607.20 C463.06 611.82 463.87 617.58 464.80 622.20 C465.73 626.82 466.90 632.20 468.20 636.10 C469.50 640.00 471.41 643.62 472.90 646.60 C474.39 649.58 476.03 652.65 477.50 654.70 C478.97 656.75 476.61 658.62 482.10 659.40 C487.59 660.18 507.05 659.57 511.80 659.60" stroke="#2626a0" stroke-width="1.6"/><path d="M421.20 659.50 C422.61 659.47 427.66 659.70 430.00 659.30 C432.34 658.90 434.14 658.66 435.80 657.00 C437.46 655.34 439.10 652.24 440.40 648.90 C441.70 645.56 442.78 640.55 443.90 636.10 C445.02 631.65 446.28 625.92 447.40 621.10 C448.52 616.28 449.88 610.45 450.90 606.00 C451.92 601.55 452.97 596.08 453.80 593.30 C454.63 590.52 455.36 588.23 456.10 588.60 C456.84 588.97 457.66 591.70 458.40 595.60 C459.14 599.50 459.87 607.43 460.70 613.00 C461.53 618.57 462.58 625.39 463.60 630.40 C464.62 635.41 465.80 640.60 467.10 644.30 C468.40 648.00 470.04 651.28 471.70 653.50 C473.36 655.72 476.01 657.26 477.50 658.20 C478.99 659.14 475.51 659.18 481.00 659.40 C486.49 659.62 506.87 659.57 511.80 659.60" stroke="#d41c2c" stroke-width="1.6"/></g>
<line x1="421.20" y1="659.70" x2="421.20" y2="664.20" stroke="#1a1a1a" stroke-width="1.3" />
<line x1="443.90" y1="659.70" x2="443.90" y2="664.20" stroke="#1a1a1a" stroke-width="1.3" />
<text x="444.50" y="673.10" font-size="8.6" text-anchor="middle" fill="#1e1e1e" textLength="12.2" lengthAdjust="spacingAndGlyphs">10<tspan font-size="7" dy="-2.2">1</tspan></text>
<line x1="466.60" y1="659.70" x2="466.60" y2="664.20" stroke="#1a1a1a" stroke-width="1.3" />
<text x="467.20" y="673.10" font-size="8.6" text-anchor="middle" fill="#1e1e1e" textLength="12.2" lengthAdjust="spacingAndGlyphs">10<tspan font-size="7" dy="-2.2">2</tspan></text>
<line x1="489.30" y1="659.70" x2="489.30" y2="664.20" stroke="#1a1a1a" stroke-width="1.3" />
<text x="489.90" y="673.10" font-size="8.6" text-anchor="middle" fill="#1e1e1e" textLength="12.2" lengthAdjust="spacingAndGlyphs">10<tspan font-size="7" dy="-2.2">3</tspan></text>
<line x1="512.00" y1="659.70" x2="512.00" y2="664.20" stroke="#1a1a1a" stroke-width="1.3" />
<text x="512.60" y="673.10" font-size="8.6" text-anchor="middle" fill="#1e1e1e" textLength="12.2" lengthAdjust="spacingAndGlyphs">10<tspan font-size="7" dy="-2.2">4</tspan></text>
<text x="510.70" y="595.80" font-size="8.2" font-weight="bold" text-anchor="end" fill="#c4233a" >+/+</text>
<text x="506.80" y="603.00" font-size="8.8" font-weight="bold" text-anchor="end" fill="#2c3494" >-/-</text>
<line x1="4.50" y1="564.20" x2="244.00" y2="564.20" stroke="#333" stroke-width="1.3" />
<line x1="270.50" y1="564.20" x2="512.70" y2="564.20" stroke="#333" stroke-width="1.3" />
<text x="258.00" y="570.00" font-size="12" font-weight="bold" text-anchor="middle" fill="#000" >CD5</text>
<line x1="4.50" y1="682.00" x2="234.50" y2="682.00" stroke="#333" stroke-width="1.3" />
<line x1="282.50" y1="682.00" x2="512.70" y2="682.00" stroke="#333" stroke-width="1.3" />
<text x="235.2" y="685.6" font-size="12" fill="#000"><tspan font-weight="bold">TCR</tspan><tspan font-family='"Liberation Serif", serif' font-size="13"> α/β</tspan></text>
</svg></body></html>
